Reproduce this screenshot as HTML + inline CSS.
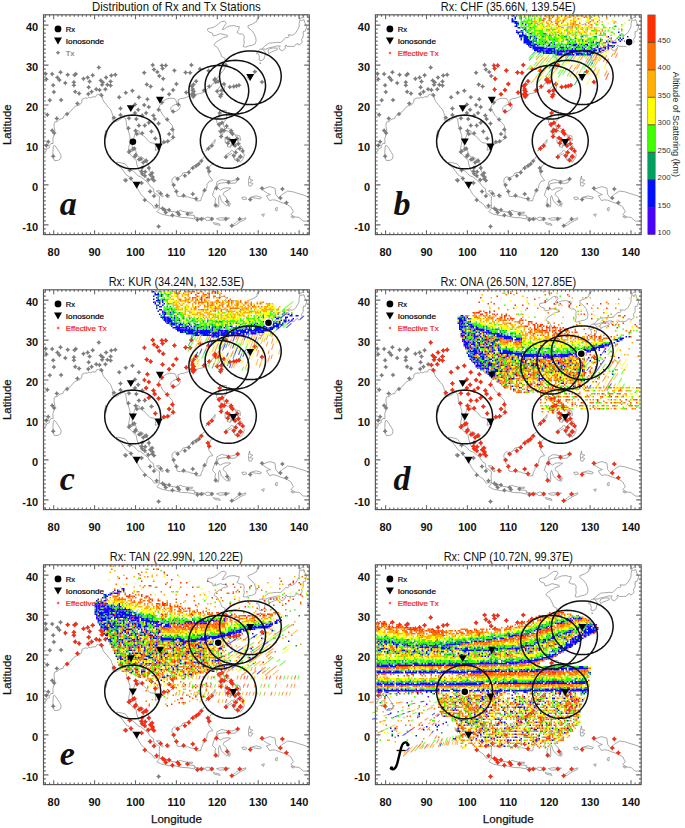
<!DOCTYPE html>
<html><head><meta charset="utf-8"><style>
html,body{margin:0;padding:0;background:#fff;}
svg{display:block;}
text{font-family:"Liberation Sans",sans-serif;fill:#111;}
.tt{font-size:12.2px;}
.tl{font-size:11px;font-weight:bold;}
.ax{font-size:11.6px;stroke:#111;stroke-width:0.25px;}
.cb{font-size:7.8px;fill:#333;}
.cbt{font-size:9.2px;fill:#222;}
.lg{font-size:7.6px;stroke:#000;stroke-width:0.2px;fill:#000;}
.pl{font-family:"Liberation Serif",serif;font-size:34px;font-weight:bold;font-style:italic;}
.pl2{font-family:"Liberation Serif",serif;font-size:34px;font-style:italic;}
</style></head><body>
<svg width="685" height="828" viewBox="0 0 685 828">
<defs><filter id="bl" x="-5%" y="-5%" width="110%" height="110%"><feGaussianBlur stdDeviation="0.35"/></filter><path id="coast" d="M0.0 137.5 2.5 136.3 2.9 134.3 6.1 132.7 5.7 131.5 7.4 128.7 9.6 128.7 9.4 123.9 10.6 119.9 11.4 115.9 10.6 111.9 10.6 109.1 11.4 107.1 13.9 106.7 15.5 104.7 19.6 103.5 20.0 101.5 23.7 99.1 27.0 96.7 30.3 92.7 32.7 91.1 36.4 89.9 38.4 87.1 38.4 84.7 41.7 83.1 43.8 83.5 45.4 82.3 47.0 83.1 49.5 81.9 51.9 82.3 53.6 79.5 55.2 79.9 57.2 78.7 58.5 80.7 59.3 84.7 60.5 87.1 63.0 89.9 65.0 92.7 67.1 94.7 68.3 97.9 69.5 101.1 68.7 105.1 70.3 105.9 72.8 106.7 75.7 105.1 77.7 103.9 79.7 102.3 82.2 103.9 82.6 106.7 83.0 110.3 84.6 115.5 86.3 120.7 86.7 125.9 85.9 129.9 85.1 133.9 84.6 136.7 85.5 138.3 87.9 140.7 90.8 143.9 92.8 145.9 93.2 149.1 94.5 153.1 96.1 156.7 97.7 158.7 100.2 161.1 104.3 163.9 106.3 164.7 109.6 164.3 108.0 159.9 105.9 155.9 105.9 151.9 104.7 148.7 101.4 145.1 98.6 142.3 95.7 142.3 93.6 140.7 92.4 136.7 91.6 133.1 88.7 132.7 88.7 127.9 90.4 122.7 91.6 119.5 92.0 116.3 94.5 115.9 95.7 116.3 95.7 119.1 97.7 119.5 100.2 121.1 102.6 123.5 104.7 125.9 106.7 127.9 110.4 128.3 112.5 131.1 111.6 135.5 113.7 135.1 116.5 132.7 119.4 128.7 122.7 127.9 126.4 125.9 129.6 123.5 129.6 119.9 130.0 115.9 128.8 110.7 126.4 107.9 122.7 103.9 119.4 100.3 117.4 96.7 115.3 93.9 116.1 90.7 118.6 88.7 119.8 86.3 123.1 84.3 125.9 83.5 128.8 83.5 131.3 83.9 132.5 85.9 133.3 88.7 134.9 88.7 134.5 85.1 137.0 83.9 140.3 83.5 143.5 82.3 147.2 81.1 150.1 80.7 152.9 79.5 156.2 78.7 159.5 77.9 162.3 75.5 164.8 73.1 167.7 71.5 168.9 69.1 172.2 67.5 172.2 64.3 174.2 63.1 175.8 60.7 177.5 58.3 179.9 55.5 181.6 52.8 181.6 50.4 178.7 48.8 177.1 48.4 181.2 46.4 181.6 43.6 177.9 41.6 177.5 39.2 175.8 36.0 173.8 32.4 170.9 30.8 170.5 30.0 172.2 27.6 175.4 25.6 177.5 24.4 179.9 22.8 184.0 22.0 183.6 20.4 179.5 19.6 176.7 18.8 173.0 20.4 169.7 21.2 168.9 18.4 165.6 17.2 164.0 15.6 164.4 13.6 167.7 13.2 170.9 12.0 173.8 10.0 177.9 6.8 181.2 6.4 182.8 8.4 180.3 12.0 178.7 14.8 180.7 14.4 183.2 12.4 186.1 11.2 190.6 10.8 193.4 11.6 195.9 12.0 195.1 14.8 193.4 17.6 196.3 19.2 199.1 19.2 200.8 21.6 200.4 24.8 200.8 28.0 199.6 31.6 202.0 32.4 204.9 31.2 209.0 30.4 211.8 28.8 212.6 26.0 212.2 22.8 210.6 18.8 208.1 15.6 204.5 12.8 204.5 10.8 209.0 9.2 213.5 6.4 213.5 4.0 217.1 0.8 218.8 -0.4M9.8 131.1 11.4 130.7 13.9 134.3 15.9 137.5 17.6 140.7 17.2 143.9 14.7 145.5 11.0 145.9 9.8 142.7 9.4 137.9 9.8 131.1M62.2 115.5 63.4 117.9 63.0 121.9 61.7 123.9 61.3 120.7 62.2 115.5M66.7 141.1 67.1 142.7 65.8 141.9 66.7 141.1M72.8 147.5 75.2 147.5 81.8 149.1 85.1 153.1 90.8 157.1 94.5 161.1 97.3 161.9 101.0 165.0 104.3 167.8 107.1 171.8 110.0 173.8 110.4 177.8 112.9 179.4 116.1 181.8 115.7 186.6 116.1 193.0 113.3 193.0 110.8 193.4 108.4 189.8 103.5 186.2 100.6 183.0 97.3 179.4 95.7 176.6 93.6 173.0 90.8 169.0 88.3 165.4 86.7 162.7 82.6 159.9 80.6 157.1 77.3 152.7 73.2 149.9 72.8 147.5M81.0 163.9 83.4 166.2 81.8 167.4 79.7 165.0 81.0 163.9M113.3 197.0 116.5 193.4 120.2 193.8 124.7 195.0 127.2 196.6 134.1 197.4 136.6 195.4 139.4 196.6 143.5 197.4 144.3 200.2 150.9 200.6 150.9 204.2 145.2 203.0 137.8 202.6 131.3 201.0 125.9 201.0 118.2 199.4 114.1 197.4 113.3 197.0M144.3 197.4 149.3 197.4 148.8 198.6 144.3 198.2 144.3 197.4M151.3 202.2 156.2 203.4 154.2 205.0 151.3 202.2M157.8 203.4 160.3 203.0 159.5 205.4 157.4 205.0 157.8 203.4M160.7 203.8 164.4 202.2 166.8 203.0 169.7 203.0 169.3 205.0 163.6 205.8 160.7 203.8M173.0 203.8 177.1 203.0 184.0 203.0 186.1 203.4 182.0 205.0 175.8 205.4 173.0 203.8M169.7 207.8 175.8 209.0 176.7 210.6 170.9 209.4 169.7 207.8M188.1 211.0 192.2 207.8 195.5 205.4 202.4 203.0 202.0 204.6 196.7 207.0 192.2 210.2 188.5 211.4 188.1 211.0M112.9 176.2 116.1 175.8 119.8 181.4 118.6 182.2 115.3 177.8 112.9 176.2M123.1 180.2 125.9 180.6 125.5 182.6 123.1 182.2 123.1 180.2M128.8 163.9 131.3 161.9 134.1 163.1 137.8 161.1 139.4 158.3 145.2 157.1 149.3 151.5 154.6 149.1 157.8 145.9 160.7 141.9 162.8 143.5 164.4 146.3 166.8 146.7 170.5 148.7 167.2 150.3 165.2 153.5 164.4 157.1 165.6 160.7 169.3 165.8 165.6 166.6 163.6 169.8 163.2 173.4 159.9 175.8 159.5 179.8 157.8 183.0 157.4 185.8 152.9 186.2 151.3 183.8 148.0 183.4 145.2 182.2 139.9 181.8 137.0 181.8 133.7 181.4 132.9 176.6 130.4 173.0 129.2 169.8 128.4 166.6 128.8 163.9M171.3 191.8 171.7 185.8 172.2 183.8 168.9 180.6 170.5 175.8 173.0 170.2 173.4 167.0 175.0 166.2 177.9 164.7 184.0 165.8 188.1 166.2 192.2 165.0 194.6 163.5 192.2 168.2 187.7 168.6 182.0 167.8 178.3 168.2 174.6 169.0 173.8 173.0 176.7 175.4 180.3 173.4 183.6 173.0 187.3 173.4 185.2 175.0 180.7 177.4 179.5 179.8 182.8 182.6 184.0 187.8 185.7 189.4 183.2 191.0 179.9 188.2 177.9 185.8 176.2 180.6 175.0 183.0 175.4 189.8 175.0 192.2 171.3 191.8M185.2 187.8 186.9 188.2 186.1 191.4 184.4 191.0 185.2 187.8M176.2 95.9 178.7 95.5 182.8 95.9 183.2 101.9 182.4 105.1 180.3 106.7 179.9 110.7 181.6 113.9 184.4 113.1 186.9 114.7 189.3 117.1 190.6 119.5 187.3 117.9 184.8 116.7 181.2 115.5 177.5 114.7 176.2 111.9 176.2 109.9 173.4 108.3 173.0 104.7 175.4 103.5 175.4 99.9 176.2 95.9M175.0 115.9 179.9 117.1 178.7 120.7 177.5 119.9 175.0 115.9M191.4 119.9 196.3 121.1 197.1 125.5 194.2 125.1 191.4 119.9M191.4 123.9 194.2 125.5 195.1 129.5 193.4 129.9 191.4 126.3 191.4 123.9M181.6 122.3 184.4 123.9 186.5 125.1 184.0 127.1 181.6 127.9 181.6 122.3M185.7 126.3 188.1 127.5 186.9 132.7 183.6 131.5 185.7 126.3M189.7 124.7 190.1 128.3 187.7 131.5 188.9 127.9 189.7 124.7M189.3 129.5 192.6 129.9 191.4 131.5 189.3 131.1 189.3 129.5M182.0 142.3 182.8 139.9 186.1 137.9 188.1 135.5 191.0 137.1 193.4 134.3 196.3 133.9 196.7 130.7 199.1 133.1 200.8 140.7 199.1 144.7 196.7 147.5 195.5 145.5 195.9 142.3 191.0 145.1 190.1 141.1 188.1 138.7 185.2 140.3 182.0 142.3M162.3 136.3 164.8 134.3 167.7 131.5 171.3 127.9 171.7 124.7 170.5 126.3 167.7 129.9 163.6 133.9 162.3 136.3M177.9 69.5 181.6 69.9 181.2 72.7 179.5 77.1 177.5 81.5 176.7 81.9 175.0 79.5 174.2 77.5 174.6 74.3 176.7 71.5 177.9 69.5M132.9 89.5 135.8 89.5 137.0 91.5 135.4 94.7 131.3 97.1 127.6 95.9 127.2 93.1 129.6 90.7 132.9 89.5M213.9 37.2 216.3 34.4 218.8 34.4 221.6 36.8 221.6 40.0 220.4 44.4 217.5 46.0 215.5 45.2 215.9 42.4 215.1 39.2 213.0 38.8 213.9 37.2M225.3 34.4 229.0 33.2 233.5 33.2 233.9 34.8 231.0 36.0 227.8 37.2 225.3 38.8 224.5 36.4 225.3 34.4M218.4 34.0 220.8 31.6 225.3 28.4 229.0 28.0 233.1 27.6 237.2 27.6 239.2 26.0 242.1 22.8 244.5 22.8 245.8 21.6 244.5 20.0 249.4 20.4 252.3 18.0 254.4 14.4 255.6 12.0 255.6 8.8 256.4 5.2 258.4 5.6 260.5 4.8 261.3 8.0 263.3 12.0 261.7 16.4 259.7 16.8 259.7 22.0 258.0 24.8 258.8 27.2 257.2 29.2 255.2 30.4 254.4 28.8 252.7 29.2 250.7 31.6 248.2 31.6 243.3 31.6 242.5 30.0 241.3 32.0 242.5 32.8 239.2 36.0 236.8 35.2 235.5 32.8 236.8 31.2 233.1 31.2 229.0 32.4 224.9 33.2 222.5 34.4 218.4 34.0M254.8 -0.4 256.0 4.0 258.4 2.8 260.5 2.8 259.3 0.8 262.1 -0.4M218.8 175.0 222.5 173.0 226.5 171.8 231.5 173.4 232.3 179.8 235.1 183.0 239.2 179.4 244.1 176.2 249.4 177.0 255.6 179.0 259.7 180.2 266.2 182.6M266.2 206.6 259.7 206.2 255.6 202.6 251.5 202.2 247.4 199.8 249.9 197.0 247.4 192.2 243.3 189.4 237.2 187.4 232.3 185.4 229.0 185.0 226.1 185.8 222.9 181.0 227.0 179.8 224.1 178.6 220.0 175.8 218.8 175.0M206.1 161.1 206.5 164.7 209.4 165.4 206.1 167.8 209.4 168.6 207.7 171.4 205.3 171.0 204.9 165.8 206.1 161.1M206.9 182.6 212.6 181.0 218.0 182.6 216.7 184.2 212.6 183.4 206.9 182.6M198.3 182.6 202.0 182.2 203.2 184.2 199.6 185.0 198.3 182.6M247.4 201.8 251.1 202.2 249.9 203.4 247.4 201.8M231.9 193.4 233.9 192.6 233.5 196.2 231.9 195.4 231.9 193.4M218.0 199.8 220.8 199.0 220.0 201.8 218.0 199.8M203.6 62.7 207.7 63.1 206.1 65.5 203.6 62.7M211.8 56.3 213.5 56.3 212.2 57.5 211.8 56.3M216.3 48.0 217.5 48.4 216.7 49.2 216.3 48.0" fill="none" stroke="#8c8c8c" stroke-width="0.75"/><path id="circ" d="M117.2 127.1 117.1 124.8 116.8 122.5 116.4 120.2 115.7 117.9 114.8 115.8 113.7 113.7 112.4 111.7 111.0 109.9 109.3 108.1 107.5 106.6 105.6 105.1 103.5 103.9 101.3 102.8 99.0 101.9 96.6 101.2 94.2 100.7 91.7 100.4 89.2 100.3 86.7 100.4 84.2 100.7 81.7 101.2 79.4 101.9 77.1 102.8 74.9 103.9 72.8 105.1 70.8 106.6 69.0 108.1 67.4 109.9 65.9 111.7 64.7 113.7 63.6 115.8 62.7 117.9 62.0 120.2 61.5 122.5 61.3 124.8 61.2 127.1 61.4 129.5 61.7 131.8 62.3 134.1 63.1 136.3 64.0 138.5 65.2 140.6 66.5 142.5 68.0 144.4 69.7 146.1 71.4 147.7 73.4 149.1 75.4 150.4 77.5 151.5 79.8 152.4 82.1 153.1 84.4 153.6 86.8 153.9 89.2 154.0 91.6 153.9 94.0 153.6 96.3 153.1 98.6 152.4 100.8 151.5 103.0 150.4 105.0 149.1 106.9 147.7 108.7 146.1 110.4 144.4 111.9 142.5 113.2 140.6 114.3 138.5 115.3 136.3 116.1 134.1 116.6 131.8 117.0 129.5 117.2 127.1ZM212.8 126.7 212.8 124.3 212.5 122.0 212.0 119.7 211.3 117.5 210.5 115.3 209.4 113.3 208.1 111.3 206.6 109.4 205.0 107.7 203.2 106.1 201.3 104.7 199.2 103.4 197.0 102.3 194.7 101.4 192.3 100.7 189.8 100.2 187.3 99.9 184.8 99.8 182.3 99.9 179.8 100.2 177.4 100.7 175.0 101.4 172.7 102.3 170.5 103.4 168.4 104.7 166.5 106.1 164.7 107.7 163.0 109.4 161.6 111.3 160.3 113.3 159.2 115.3 158.3 117.5 157.6 119.7 157.2 122.0 156.9 124.3 156.9 126.7 157.0 129.0 157.4 131.3 158.0 133.6 158.7 135.9 159.7 138.0 160.8 140.1 162.2 142.1 163.6 143.9 165.3 145.7 167.1 147.3 169.0 148.7 171.0 149.9 173.2 151.0 175.4 151.9 177.7 152.6 180.0 153.1 182.4 153.4 184.8 153.5 187.2 153.4 189.6 153.1 192.0 152.6 194.3 151.9 196.5 151.0 198.6 149.9 200.7 148.7 202.6 147.3 204.4 145.7 206.0 143.9 207.5 142.1 208.8 140.1 210.0 138.0 210.9 135.9 211.7 133.6 212.3 131.3 212.6 129.0 212.8 126.7ZM205.2 77.4 205.2 75.1 205.0 72.7 204.6 70.5 203.9 68.2 203.0 66.1 201.9 64.0 200.6 62.0 199.0 60.1 197.3 58.4 195.4 56.8 193.3 55.4 191.0 54.2 188.6 53.1 186.1 52.2 183.5 51.5 180.8 51.0 178.1 50.7 175.3 50.6 172.5 50.7 169.8 51.0 167.1 51.5 164.5 52.2 162.0 53.1 159.6 54.2 157.3 55.4 155.2 56.8 153.3 58.4 151.6 60.1 150.0 62.0 148.7 64.0 147.6 66.1 146.7 68.2 146.0 70.5 145.6 72.7 145.4 75.1 145.4 77.4 145.7 79.8 146.1 82.1 146.8 84.4 147.7 86.6 148.8 88.8 150.0 90.8 151.5 92.8 153.1 94.7 154.8 96.4 156.7 98.0 158.8 99.4 160.9 100.7 163.2 101.7 165.5 102.6 167.9 103.4 170.3 103.9 172.8 104.2 175.3 104.3 177.8 104.2 180.3 103.9 182.7 103.4 185.1 102.6 187.5 101.7 189.7 100.7 191.8 99.4 193.9 98.0 195.8 96.4 197.5 94.7 199.2 92.8 200.6 90.8 201.9 88.8 202.9 86.6 203.8 84.4 204.5 82.1 204.9 79.8 205.2 77.4ZM222.0 72.3 222.0 70.0 221.8 67.7 221.4 65.4 220.7 63.1 219.8 61.0 218.7 58.9 217.3 56.9 215.8 55.1 214.0 53.3 212.1 51.8 210.0 50.3 207.7 49.1 205.3 48.0 202.7 47.1 200.1 46.4 197.4 45.9 194.6 45.6 191.8 45.5 189.0 45.6 186.2 45.9 183.5 46.4 180.9 47.1 178.3 48.0 175.9 49.1 173.6 50.3 171.5 51.8 169.5 53.3 167.8 55.1 166.2 56.9 164.9 58.9 163.8 61.0 162.9 63.1 162.2 65.4 161.8 67.7 161.6 70.0 161.6 72.3 161.9 74.7 162.3 77.0 163.0 79.3 163.9 81.5 165.0 83.7 166.3 85.8 167.7 87.7 169.4 89.6 171.2 91.3 173.1 92.9 175.1 94.3 177.3 95.6 179.6 96.7 181.9 97.6 184.3 98.3 186.8 98.8 189.3 99.1 191.8 99.2 194.3 99.1 196.8 98.8 199.3 98.3 201.7 97.6 204.0 96.7 206.3 95.6 208.4 94.3 210.5 92.9 212.4 91.3 214.2 89.6 215.8 87.7 217.3 85.8 218.6 83.7 219.7 81.5 220.5 79.3 221.2 77.0 221.7 74.7 222.0 72.3ZM237.7 62.9 237.7 60.6 237.5 58.3 237.1 56.0 236.5 53.8 235.6 51.6 234.4 49.5 233.1 47.5 231.5 45.7 229.7 44.0 227.7 42.4 225.6 40.9 223.2 39.7 220.7 38.6 218.1 37.7 215.4 37.0 212.6 36.5 209.8 36.2 206.9 36.1 204.0 36.2 201.2 36.5 198.4 37.0 195.7 37.7 193.1 38.6 190.6 39.7 188.3 40.9 186.1 42.4 184.1 44.0 182.3 45.7 180.8 47.5 179.4 49.5 178.3 51.6 177.4 53.8 176.7 56.0 176.3 58.3 176.1 60.6 176.1 62.9 176.4 65.3 176.9 67.6 177.6 69.9 178.5 72.1 179.7 74.3 181.0 76.4 182.5 78.3 184.1 80.2 186.0 81.9 187.9 83.5 190.0 84.9 192.2 86.2 194.5 87.3 196.9 88.2 199.3 88.9 201.8 89.4 204.4 89.7 206.9 89.8 209.5 89.7 212.0 89.4 214.5 88.9 216.9 88.2 219.3 87.3 221.6 86.2 223.8 84.9 225.9 83.5 227.9 81.9 229.7 80.2 231.4 78.3 232.8 76.4 234.2 74.3 235.3 72.1 236.2 69.9 236.9 67.6 237.4 65.3 237.7 62.9Z" fill="none" stroke="#111" stroke-width="1.5"/><path id="txs" d="M55.3 50.2l1.00 1.50 1.50 1.00-1.50 1.00-1.00 1.50-1.00-1.50-1.50-1.00 1.50-1.00zM2.1 56.4l1.00 1.50 1.50 1.00-1.50 1.00-1.00 1.50-1.00-1.50-1.50-1.00 1.50-1.00zM8.7 56.7l1.00 1.50 1.50 1.00-1.50 1.00-1.00 1.50-1.00-1.50-1.50-1.00 1.50-1.00zM17.0 55.0l1.00 1.50 1.50 1.00-1.50 1.00-1.00 1.50-1.00-1.50-1.50-1.00 1.50-1.00zM24.2 57.4l1.00 1.50 1.50 1.00-1.50 1.00-1.00 1.50-1.00-1.50-1.50-1.00 1.50-1.00zM31.0 57.6l1.00 1.50 1.50 1.00-1.50 1.00-1.00 1.50-1.00-1.50-1.50-1.00 1.50-1.00zM32.3 56.7l1.00 1.50 1.50 1.00-1.50 1.00-1.00 1.50-1.00-1.50-1.50-1.00 1.50-1.00zM13.9 60.3l1.00 1.50 1.50 1.00-1.50 1.00-1.00 1.50-1.00-1.50-1.50-1.00 1.50-1.00zM15.9 62.6l1.00 1.50 1.50 1.00-1.50 1.00-1.00 1.50-1.00-1.50-1.50-1.00 1.50-1.00zM2.8 61.9l1.00 1.50 1.50 1.00-1.50 1.00-1.00 1.50-1.00-1.50-1.50-1.00 1.50-1.00zM21.8 65.6l1.00 1.50 1.50 1.00-1.50 1.00-1.00 1.50-1.00-1.50-1.50-1.00 1.50-1.00zM30.4 64.9l1.00 1.50 1.50 1.00-1.50 1.00-1.00 1.50-1.00-1.50-1.50-1.00 1.50-1.00zM30.4 67.9l1.00 1.50 1.50 1.00-1.50 1.00-1.00 1.50-1.00-1.50-1.50-1.00 1.50-1.00zM9.7 67.9l1.00 1.50 1.50 1.00-1.50 1.00-1.00 1.50-1.00-1.50-1.50-1.00 1.50-1.00zM10.4 74.7l1.00 1.50 1.50 1.00-1.50 1.00-1.00 1.50-1.00-1.50-1.50-1.00 1.50-1.00zM31.7 74.5l1.00 1.50 1.50 1.00-1.50 1.00-1.00 1.50-1.00-1.50-1.50-1.00 1.50-1.00zM35.6 76.3l1.00 1.50 1.50 1.00-1.50 1.00-1.00 1.50-1.00-1.50-1.50-1.00 1.50-1.00zM40.0 61.4l1.00 1.50 1.50 1.00-1.50 1.00-1.00 1.50-1.00-1.50-1.50-1.00 1.50-1.00zM44.2 60.3l1.00 1.50 1.50 1.00-1.50 1.00-1.00 1.50-1.00-1.50-1.50-1.00 1.50-1.00zM49.2 58.0l1.00 1.50 1.50 1.00-1.50 1.00-1.00 1.50-1.00-1.50-1.50-1.00 1.50-1.00zM46.1 64.2l1.00 1.50 1.50 1.00-1.50 1.00-1.00 1.50-1.00-1.50-1.50-1.00 1.50-1.00zM45.2 69.9l1.00 1.50 1.50 1.00-1.50 1.00-1.00 1.50-1.00-1.50-1.50-1.00 1.50-1.00zM62.6 60.3l1.00 1.50 1.50 1.00-1.50 1.00-1.00 1.50-1.00-1.50-1.50-1.00 1.50-1.00zM67.8 58.3l1.00 1.50 1.50 1.00-1.50 1.00-1.00 1.50-1.00-1.50-1.50-1.00 1.50-1.00zM71.8 57.4l1.00 1.50 1.50 1.00-1.50 1.00-1.00 1.50-1.00-1.50-1.50-1.00 1.50-1.00zM57.3 63.2l1.00 1.50 1.50 1.00-1.50 1.00-1.00 1.50-1.00-1.50-1.50-1.00 1.50-1.00zM59.3 64.9l1.00 1.50 1.50 1.00-1.50 1.00-1.00 1.50-1.00-1.50-1.50-1.00 1.50-1.00zM58.6 67.5l1.00 1.50 1.50 1.00-1.50 1.00-1.00 1.50-1.00-1.50-1.50-1.00 1.50-1.00zM63.9 67.5l1.00 1.50 1.50 1.00-1.50 1.00-1.00 1.50-1.00-1.50-1.50-1.00 1.50-1.00zM67.1 64.2l1.00 1.50 1.50 1.00-1.50 1.00-1.00 1.50-1.00-1.50-1.50-1.00 1.50-1.00zM67.1 68.2l1.00 1.50 1.50 1.00-1.50 1.00-1.00 1.50-1.00-1.50-1.50-1.00 1.50-1.00zM52.7 71.9l1.00 1.50 1.50 1.00-1.50 1.00-1.00 1.50-1.00-1.50-1.50-1.00 1.50-1.00zM56.0 72.8l1.00 1.50 1.50 1.00-1.50 1.00-1.00 1.50-1.00-1.50-1.50-1.00 1.50-1.00zM61.9 71.9l1.00 1.50 1.50 1.00-1.50 1.00-1.00 1.50-1.00-1.50-1.50-1.00 1.50-1.00zM48.1 74.5l1.00 1.50 1.50 1.00-1.50 1.00-1.00 1.50-1.00-1.50-1.50-1.00 1.50-1.00zM44.8 76.7l1.00 1.50 1.50 1.00-1.50 1.00-1.00 1.50-1.00-1.50-1.50-1.00 1.50-1.00zM58.0 78.0l1.00 1.50 1.50 1.00-1.50 1.00-1.00 1.50-1.00-1.50-1.50-1.00 1.50-1.00zM6.3 83.0l1.00 1.50 1.50 1.00-1.50 1.00-1.00 1.50-1.00-1.50-1.50-1.00 1.50-1.00zM17.6 82.6l1.00 1.50 1.50 1.00-1.50 1.00-1.00 1.50-1.00-1.50-1.50-1.00 1.50-1.00zM33.9 86.3l1.00 1.50 1.50 1.00-1.50 1.00-1.00 1.50-1.00-1.50-1.50-1.00 1.50-1.00zM75.7 80.0l1.00 1.50 1.50 1.00-1.50 1.00-1.00 1.50-1.00-1.50-1.50-1.00 1.50-1.00zM82.3 75.4l1.00 1.50 1.50 1.00-1.50 1.00-1.00 1.50-1.00-1.50-1.50-1.00 1.50-1.00zM88.9 73.4l1.00 1.50 1.50 1.00-1.50 1.00-1.00 1.50-1.00-1.50-1.50-1.00 1.50-1.00zM3.8 97.5l1.00 1.50 1.50 1.00-1.50 1.00-1.00 1.50-1.00-1.50-1.50-1.00 1.50-1.00zM23.6 96.8l1.00 1.50 1.50 1.00-1.50 1.00-1.00 1.50-1.00-1.50-1.50-1.00 1.50-1.00zM13.3 101.3l1.00 1.50 1.50 1.00-1.50 1.00-1.00 1.50-1.00-1.50-1.50-1.00 1.50-1.00zM77.0 91.2l1.00 1.50 1.50 1.00-1.50 1.00-1.00 1.50-1.00-1.50-1.50-1.00 1.50-1.00zM70.5 100.4l1.00 1.50 1.50 1.00-1.50 1.00-1.00 1.50-1.00-1.50-1.50-1.00 1.50-1.00zM77.0 97.7l1.00 1.50 1.50 1.00-1.50 1.00-1.00 1.50-1.00-1.50-1.50-1.00 1.50-1.00zM85.5 101.0l1.00 1.50 1.50 1.00-1.50 1.00-1.00 1.50-1.00-1.50-1.50-1.00 1.50-1.00zM8.7 113.2l1.00 1.50 1.50 1.00-1.50 1.00-1.00 1.50-1.00-1.50-1.50-1.00 1.50-1.00zM10.7 115.6l1.00 1.50 1.50 1.00-1.50 1.00-1.00 1.50-1.00-1.50-1.50-1.00 1.50-1.00zM4.7 124.5l1.00 1.50 1.50 1.00-1.50 1.00-1.00 1.50-1.00-1.50-1.50-1.00 1.50-1.00zM2.8 128.1l1.00 1.50 1.50 1.00-1.50 1.00-1.00 1.50-1.00-1.50-1.50-1.00 1.50-1.00zM9.7 139.0l1.00 1.50 1.50 1.00-1.50 1.00-1.00 1.50-1.00-1.50-1.50-1.00 1.50-1.00zM84.9 111.0l1.00 1.50 1.50 1.00-1.50 1.00-1.00 1.50-1.00-1.50-1.50-1.00 1.50-1.00zM85.5 134.6l1.00 1.50 1.50 1.00-1.50 1.00-1.00 1.50-1.00-1.50-1.50-1.00 1.50-1.00zM86.2 153.0l1.00 1.50 1.50 1.00-1.50 1.00-1.00 1.50-1.00-1.50-1.50-1.00 1.50-1.00zM82.3 162.9l1.00 1.50 1.50 1.00-1.50 1.00-1.00 1.50-1.00-1.50-1.50-1.00 1.50-1.00zM87.5 161.3l1.00 1.50 1.50 1.00-1.50 1.00-1.00 1.50-1.00-1.50-1.50-1.00 1.50-1.00zM109.2 47.6l1.00 1.50 1.50 1.00-1.50 1.00-1.00 1.50-1.00-1.50-1.50-1.00 1.50-1.00zM118.4 48.3l1.00 1.50 1.50 1.00-1.50 1.00-1.00 1.50-1.00-1.50-1.50-1.00 1.50-1.00zM122.3 48.3l1.00 1.50 1.50 1.00-1.50 1.00-1.00 1.50-1.00-1.50-1.50-1.00 1.50-1.00zM119.1 51.3l1.00 1.50 1.50 1.00-1.50 1.00-1.00 1.50-1.00-1.50-1.50-1.00 1.50-1.00zM110.5 52.2l1.00 1.50 1.50 1.00-1.50 1.00-1.00 1.50-1.00-1.50-1.50-1.00 1.50-1.00zM113.8 54.8l1.00 1.50 1.50 1.00-1.50 1.00-1.00 1.50-1.00-1.50-1.50-1.00 1.50-1.00zM100.7 55.5l1.00 1.50 1.50 1.00-1.50 1.00-1.00 1.50-1.00-1.50-1.50-1.00 1.50-1.00zM115.8 58.8l1.00 1.50 1.50 1.00-1.50 1.00-1.00 1.50-1.00-1.50-1.50-1.00 1.50-1.00zM119.7 61.4l1.00 1.50 1.50 1.00-1.50 1.00-1.00 1.50-1.00-1.50-1.50-1.00 1.50-1.00zM130.9 53.1l1.00 1.50 1.50 1.00-1.50 1.00-1.00 1.50-1.00-1.50-1.50-1.00 1.50-1.00zM147.9 47.6l1.00 1.50 1.50 1.00-1.50 1.00-1.00 1.50-1.00-1.50-1.50-1.00 1.50-1.00zM142.1 55.2l1.00 1.50 1.50 1.00-1.50 1.00-1.00 1.50-1.00-1.50-1.50-1.00 1.50-1.00zM146.6 55.5l1.00 1.50 1.50 1.00-1.50 1.00-1.00 1.50-1.00-1.50-1.50-1.00 1.50-1.00zM156.5 51.6l1.00 1.50 1.50 1.00-1.50 1.00-1.00 1.50-1.00-1.50-1.50-1.00 1.50-1.00zM165.0 53.5l1.00 1.50 1.50 1.00-1.50 1.00-1.00 1.50-1.00-1.50-1.50-1.00 1.50-1.00zM152.6 64.0l1.00 1.50 1.50 1.00-1.50 1.00-1.00 1.50-1.00-1.50-1.50-1.00 1.50-1.00zM150.0 67.3l1.00 1.50 1.50 1.00-1.50 1.00-1.00 1.50-1.00-1.50-1.50-1.00 1.50-1.00zM171.0 62.7l1.00 1.50 1.50 1.00-1.50 1.00-1.00 1.50-1.00-1.50-1.50-1.00 1.50-1.00zM172.3 64.7l1.00 1.50 1.50 1.00-1.50 1.00-1.00 1.50-1.00-1.50-1.50-1.00 1.50-1.00zM165.7 69.3l1.00 1.50 1.50 1.00-1.50 1.00-1.00 1.50-1.00-1.50-1.50-1.00 1.50-1.00zM132.9 66.7l1.00 1.50 1.50 1.00-1.50 1.00-1.00 1.50-1.00-1.50-1.50-1.00 1.50-1.00zM103.3 67.3l1.00 1.50 1.50 1.00-1.50 1.00-1.00 1.50-1.00-1.50-1.50-1.00 1.50-1.00zM107.2 69.3l1.00 1.50 1.50 1.00-1.50 1.00-1.00 1.50-1.00-1.50-1.50-1.00 1.50-1.00zM119.1 72.3l1.00 1.50 1.50 1.00-1.50 1.00-1.00 1.50-1.00-1.50-1.50-1.00 1.50-1.00zM129.6 72.7l1.00 1.50 1.50 1.00-1.50 1.00-1.00 1.50-1.00-1.50-1.50-1.00 1.50-1.00zM125.6 77.0l1.00 1.50 1.50 1.00-1.50 1.00-1.00 1.50-1.00-1.50-1.50-1.00 1.50-1.00zM95.4 79.9l1.00 1.50 1.50 1.00-1.50 1.00-1.00 1.50-1.00-1.50-1.50-1.00 1.50-1.00zM103.9 81.9l1.00 1.50 1.50 1.00-1.50 1.00-1.00 1.50-1.00-1.50-1.50-1.00 1.50-1.00zM142.7 75.3l1.00 1.50 1.50 1.00-1.50 1.00-1.00 1.50-1.00-1.50-1.50-1.00 1.50-1.00zM149.3 73.3l1.00 1.50 1.50 1.00-1.50 1.00-1.00 1.50-1.00-1.50-1.50-1.00 1.50-1.00zM150.0 77.9l1.00 1.50 1.50 1.00-1.50 1.00-1.00 1.50-1.00-1.50-1.50-1.00 1.50-1.00zM160.5 73.3l1.00 1.50 1.50 1.00-1.50 1.00-1.00 1.50-1.00-1.50-1.50-1.00 1.50-1.00zM173.6 74.0l1.00 1.50 1.50 1.00-1.50 1.00-1.00 1.50-1.00-1.50-1.50-1.00 1.50-1.00zM176.9 79.2l1.00 1.50 1.50 1.00-1.50 1.00-1.00 1.50-1.00-1.50-1.50-1.00 1.50-1.00zM91.5 87.1l1.00 1.50 1.50 1.00-1.50 1.00-1.00 1.50-1.00-1.50-1.50-1.00 1.50-1.00zM100.7 87.8l1.00 1.50 1.50 1.00-1.50 1.00-1.00 1.50-1.00-1.50-1.50-1.00 1.50-1.00zM105.3 89.7l1.00 1.50 1.50 1.00-1.50 1.00-1.00 1.50-1.00-1.50-1.50-1.00 1.50-1.00zM115.1 92.4l1.00 1.50 1.50 1.00-1.50 1.00-1.00 1.50-1.00-1.50-1.50-1.00 1.50-1.00zM94.7 92.4l1.00 1.50 1.50 1.00-1.50 1.00-1.00 1.50-1.00-1.50-1.50-1.00 1.50-1.00zM102.6 95.7l1.00 1.50 1.50 1.00-1.50 1.00-1.00 1.50-1.00-1.50-1.50-1.00 1.50-1.00zM109.9 98.3l1.00 1.50 1.50 1.00-1.50 1.00-1.00 1.50-1.00-1.50-1.50-1.00 1.50-1.00zM98.7 98.3l1.00 1.50 1.50 1.00-1.50 1.00-1.00 1.50-1.00-1.50-1.50-1.00 1.50-1.00zM91.5 95.7l1.00 1.50 1.50 1.00-1.50 1.00-1.00 1.50-1.00-1.50-1.50-1.00 1.50-1.00zM111.2 101.6l1.00 1.50 1.50 1.00-1.50 1.00-1.00 1.50-1.00-1.50-1.50-1.00 1.50-1.00zM92.8 101.6l1.00 1.50 1.50 1.00-1.50 1.00-1.00 1.50-1.00-1.50-1.50-1.00 1.50-1.00zM115.1 106.2l1.00 1.50 1.50 1.00-1.50 1.00-1.00 1.50-1.00-1.50-1.50-1.00 1.50-1.00zM105.3 105.5l1.00 1.50 1.50 1.00-1.50 1.00-1.00 1.50-1.00-1.50-1.50-1.00 1.50-1.00zM101.3 108.2l1.00 1.50 1.50 1.00-1.50 1.00-1.00 1.50-1.00-1.50-1.50-1.00 1.50-1.00zM95.4 108.2l1.00 1.50 1.50 1.00-1.50 1.00-1.00 1.50-1.00-1.50-1.50-1.00 1.50-1.00zM92.1 113.4l1.00 1.50 1.50 1.00-1.50 1.00-1.00 1.50-1.00-1.50-1.50-1.00 1.50-1.00zM107.9 114.1l1.00 1.50 1.50 1.00-1.50 1.00-1.00 1.50-1.00-1.50-1.50-1.00 1.50-1.00zM98.7 116.0l1.00 1.50 1.50 1.00-1.50 1.00-1.00 1.50-1.00-1.50-1.50-1.00 1.50-1.00zM93.4 116.7l1.00 1.50 1.50 1.00-1.50 1.00-1.00 1.50-1.00-1.50-1.50-1.00 1.50-1.00zM111.8 121.3l1.00 1.50 1.50 1.00-1.50 1.00-1.00 1.50-1.00-1.50-1.50-1.00 1.50-1.00zM120.4 124.6l1.00 1.50 1.50 1.00-1.50 1.00-1.00 1.50-1.00-1.50-1.50-1.00 1.50-1.00zM124.3 123.9l1.00 1.50 1.50 1.00-1.50 1.00-1.00 1.50-1.00-1.50-1.50-1.00 1.50-1.00zM125.6 116.7l1.00 1.50 1.50 1.00-1.50 1.00-1.00 1.50-1.00-1.50-1.50-1.00 1.50-1.00zM128.9 112.1l1.00 1.50 1.50 1.00-1.50 1.00-1.00 1.50-1.00-1.50-1.50-1.00 1.50-1.00zM129.6 120.0l1.00 1.50 1.50 1.00-1.50 1.00-1.00 1.50-1.00-1.50-1.50-1.00 1.50-1.00zM123.7 102.2l1.00 1.50 1.50 1.00-1.50 1.00-1.00 1.50-1.00-1.50-1.50-1.00 1.50-1.00zM134.8 87.1l1.00 1.50 1.50 1.00-1.50 1.00-1.00 1.50-1.00-1.50-1.50-1.00 1.50-1.00zM129.6 94.3l1.00 1.50 1.50 1.00-1.50 1.00-1.00 1.50-1.00-1.50-1.50-1.00 1.50-1.00zM176.2 95.7l1.00 1.50 1.50 1.00-1.50 1.00-1.00 1.50-1.00-1.50-1.50-1.00 1.50-1.00zM175.6 107.5l1.00 1.50 1.50 1.00-1.50 1.00-1.00 1.50-1.00-1.50-1.50-1.00 1.50-1.00zM177.5 114.1l1.00 1.50 1.50 1.00-1.50 1.00-1.00 1.50-1.00-1.50-1.50-1.00 1.50-1.00zM168.3 128.5l1.00 1.50 1.50 1.00-1.50 1.00-1.00 1.50-1.00-1.50-1.50-1.00 1.50-1.00zM165.0 131.1l1.00 1.50 1.50 1.00-1.50 1.00-1.00 1.50-1.00-1.50-1.50-1.00 1.50-1.00zM90.8 131.1l1.00 1.50 1.50 1.00-1.50 1.00-1.00 1.50-1.00-1.50-1.50-1.00 1.50-1.00zM92.1 137.7l1.00 1.50 1.50 1.00-1.50 1.00-1.00 1.50-1.00-1.50-1.50-1.00 1.50-1.00zM97.4 141.6l1.00 1.50 1.50 1.00-1.50 1.00-1.00 1.50-1.00-1.50-1.50-1.00 1.50-1.00zM102.6 143.6l1.00 1.50 1.50 1.00-1.50 1.00-1.00 1.50-1.00-1.50-1.50-1.00 1.50-1.00zM157.8 143.6l1.00 1.50 1.50 1.00-1.50 1.00-1.00 1.50-1.00-1.50-1.50-1.00 1.50-1.00zM118.4 85.1l1.00 1.50 1.50 1.00-1.50 1.00-1.00 1.50-1.00-1.50-1.50-1.00 1.50-1.00zM98.1 153.9l1.00 1.50 1.50 1.00-1.50 1.00-1.00 1.50-1.00-1.50-1.50-1.00 1.50-1.00zM98.7 156.5l1.00 1.50 1.50 1.00-1.50 1.00-1.00 1.50-1.00-1.50-1.50-1.00 1.50-1.00zM101.3 158.5l1.00 1.50 1.50 1.00-1.50 1.00-1.00 1.50-1.00-1.50-1.50-1.00 1.50-1.00zM105.3 150.6l1.00 1.50 1.50 1.00-1.50 1.00-1.00 1.50-1.00-1.50-1.50-1.00 1.50-1.00zM108.6 155.8l1.00 1.50 1.50 1.00-1.50 1.00-1.00 1.50-1.00-1.50-1.50-1.00 1.50-1.00zM109.2 159.8l1.00 1.50 1.50 1.00-1.50 1.00-1.00 1.50-1.00-1.50-1.50-1.00 1.50-1.00zM110.5 163.1l1.00 1.50 1.50 1.00-1.50 1.00-1.00 1.50-1.00-1.50-1.50-1.00 1.50-1.00zM98.1 165.7l1.00 1.50 1.50 1.00-1.50 1.00-1.00 1.50-1.00-1.50-1.50-1.00 1.50-1.00zM106.6 174.2l1.00 1.50 1.50 1.00-1.50 1.00-1.00 1.50-1.00-1.50-1.50-1.00 1.50-1.00zM110.5 178.8l1.00 1.50 1.50 1.00-1.50 1.00-1.00 1.50-1.00-1.50-1.50-1.00 1.50-1.00zM117.1 176.2l1.00 1.50 1.50 1.00-1.50 1.00-1.00 1.50-1.00-1.50-1.50-1.00 1.50-1.00zM123.7 178.2l1.00 1.50 1.50 1.00-1.50 1.00-1.00 1.50-1.00-1.50-1.50-1.00 1.50-1.00zM101.3 182.8l1.00 1.50 1.50 1.00-1.50 1.00-1.00 1.50-1.00-1.50-1.50-1.00 1.50-1.00zM113.1 188.4l1.00 1.50 1.50 1.00-1.50 1.00-1.00 1.50-1.00-1.50-1.50-1.00 1.50-1.00zM119.1 191.3l1.00 1.50 1.50 1.00-1.50 1.00-1.00 1.50-1.00-1.50-1.50-1.00 1.50-1.00zM121.0 192.6l1.00 1.50 1.50 1.00-1.50 1.00-1.00 1.50-1.00-1.50-1.50-1.00 1.50-1.00zM125.6 192.6l1.00 1.50 1.50 1.00-1.50 1.00-1.00 1.50-1.00-1.50-1.50-1.00 1.50-1.00zM122.3 195.2l1.00 1.50 1.50 1.00-1.50 1.00-1.00 1.50-1.00-1.50-1.50-1.00 1.50-1.00zM128.9 197.9l1.00 1.50 1.50 1.00-1.50 1.00-1.00 1.50-1.00-1.50-1.50-1.00 1.50-1.00zM134.2 195.2l1.00 1.50 1.50 1.00-1.50 1.00-1.00 1.50-1.00-1.50-1.50-1.00 1.50-1.00zM135.5 197.2l1.00 1.50 1.50 1.00-1.50 1.00-1.00 1.50-1.00-1.50-1.50-1.00 1.50-1.00zM144.0 196.6l1.00 1.50 1.50 1.00-1.50 1.00-1.00 1.50-1.00-1.50-1.50-1.00 1.50-1.00zM153.9 202.5l1.00 1.50 1.50 1.00-1.50 1.00-1.00 1.50-1.00-1.50-1.50-1.00 1.50-1.00zM157.8 201.8l1.00 1.50 1.50 1.00-1.50 1.00-1.00 1.50-1.00-1.50-1.50-1.00 1.50-1.00zM168.3 201.8l1.00 1.50 1.50 1.00-1.50 1.00-1.00 1.50-1.00-1.50-1.50-1.00 1.50-1.00zM115.1 209.1l1.00 1.50 1.50 1.00-1.50 1.00-1.00 1.50-1.00-1.50-1.50-1.00 1.50-1.00zM130.2 167.7l1.00 1.50 1.50 1.00-1.50 1.00-1.00 1.50-1.00-1.50-1.50-1.00 1.50-1.00zM132.9 174.2l1.00 1.50 1.50 1.00-1.50 1.00-1.00 1.50-1.00-1.50-1.50-1.00 1.50-1.00zM140.1 178.2l1.00 1.50 1.50 1.00-1.50 1.00-1.00 1.50-1.00-1.50-1.50-1.00 1.50-1.00zM149.3 176.6l1.00 1.50 1.50 1.00-1.50 1.00-1.00 1.50-1.00-1.50-1.50-1.00 1.50-1.00zM152.6 181.5l1.00 1.50 1.50 1.00-1.50 1.00-1.00 1.50-1.00-1.50-1.50-1.00 1.50-1.00zM161.1 172.9l1.00 1.50 1.50 1.00-1.50 1.00-1.00 1.50-1.00-1.50-1.50-1.00 1.50-1.00zM134.2 161.8l1.00 1.50 1.50 1.00-1.50 1.00-1.00 1.50-1.00-1.50-1.50-1.00 1.50-1.00zM141.4 158.5l1.00 1.50 1.50 1.00-1.50 1.00-1.00 1.50-1.00-1.50-1.50-1.00 1.50-1.00zM145.3 155.2l1.00 1.50 1.50 1.00-1.50 1.00-1.00 1.50-1.00-1.50-1.50-1.00 1.50-1.00zM149.3 150.6l1.00 1.50 1.50 1.00-1.50 1.00-1.00 1.50-1.00-1.50-1.50-1.00 1.50-1.00zM152.6 148.6l1.00 1.50 1.50 1.00-1.50 1.00-1.00 1.50-1.00-1.50-1.50-1.00 1.50-1.00zM155.2 146.6l1.00 1.50 1.50 1.00-1.50 1.00-1.00 1.50-1.00-1.50-1.50-1.00 1.50-1.00zM164.4 150.6l1.00 1.50 1.50 1.00-1.50 1.00-1.00 1.50-1.00-1.50-1.50-1.00 1.50-1.00zM165.7 153.9l1.00 1.50 1.50 1.00-1.50 1.00-1.00 1.50-1.00-1.50-1.50-1.00 1.50-1.00zM172.9 170.9l1.00 1.50 1.50 1.00-1.50 1.00-1.00 1.50-1.00-1.50-1.50-1.00 1.50-1.00zM172.3 188.0l1.00 1.50 1.50 1.00-1.50 1.00-1.00 1.50-1.00-1.50-1.50-1.00 1.50-1.00zM180.5 66.7l1.00 1.50 1.50 1.00-1.50 1.00-1.00 1.50-1.00-1.50-1.50-1.00 1.50-1.00zM186.3 69.7l1.00 1.50 1.50 1.00-1.50 1.00-1.00 1.50-1.00-1.50-1.50-1.00 1.50-1.00zM190.3 69.3l1.00 1.50 1.50 1.00-1.50 1.00-1.00 1.50-1.00-1.50-1.50-1.00 1.50-1.00zM192.9 68.6l1.00 1.50 1.50 1.00-1.50 1.00-1.00 1.50-1.00-1.50-1.50-1.00 1.50-1.00zM195.5 68.0l1.00 1.50 1.50 1.00-1.50 1.00-1.00 1.50-1.00-1.50-1.50-1.00 1.50-1.00zM211.3 54.4l1.00 1.50 1.50 1.00-1.50 1.00-1.00 1.50-1.00-1.50-1.50-1.00 1.50-1.00zM218.5 64.7l1.00 1.50 1.50 1.00-1.50 1.00-1.00 1.50-1.00-1.50-1.50-1.00 1.50-1.00zM182.4 47.6l1.00 1.50 1.50 1.00-1.50 1.00-1.00 1.50-1.00-1.50-1.50-1.00 1.50-1.00zM178.5 105.5l1.00 1.50 1.50 1.00-1.50 1.00-1.00 1.50-1.00-1.50-1.50-1.00 1.50-1.00zM183.1 108.8l1.00 1.50 1.50 1.00-1.50 1.00-1.00 1.50-1.00-1.50-1.50-1.00 1.50-1.00zM187.7 113.4l1.00 1.50 1.50 1.00-1.50 1.00-1.00 1.50-1.00-1.50-1.50-1.00 1.50-1.00zM189.0 116.7l1.00 1.50 1.50 1.00-1.50 1.00-1.00 1.50-1.00-1.50-1.50-1.00 1.50-1.00zM178.5 112.8l1.00 1.50 1.50 1.00-1.50 1.00-1.00 1.50-1.00-1.50-1.50-1.00 1.50-1.00zM183.7 120.6l1.00 1.50 1.50 1.00-1.50 1.00-1.00 1.50-1.00-1.50-1.50-1.00 1.50-1.00zM193.6 121.3l1.00 1.50 1.50 1.00-1.50 1.00-1.00 1.50-1.00-1.50-1.50-1.00 1.50-1.00zM184.4 125.9l1.00 1.50 1.50 1.00-1.50 1.00-1.00 1.50-1.00-1.50-1.50-1.00 1.50-1.00zM191.6 128.5l1.00 1.50 1.50 1.00-1.50 1.00-1.00 1.50-1.00-1.50-1.50-1.00 1.50-1.00zM196.2 131.1l1.00 1.50 1.50 1.00-1.50 1.00-1.00 1.50-1.00-1.50-1.50-1.00 1.50-1.00zM192.3 135.1l1.00 1.50 1.50 1.00-1.50 1.00-1.00 1.50-1.00-1.50-1.50-1.00 1.50-1.00zM190.3 138.4l1.00 1.50 1.50 1.00-1.50 1.00-1.00 1.50-1.00-1.50-1.50-1.00 1.50-1.00zM182.4 139.7l1.00 1.50 1.50 1.00-1.50 1.00-1.00 1.50-1.00-1.50-1.50-1.00 1.50-1.00zM196.9 139.0l1.00 1.50 1.50 1.00-1.50 1.00-1.00 1.50-1.00-1.50-1.50-1.00 1.50-1.00zM194.2 143.0l1.00 1.50 1.50 1.00-1.50 1.00-1.00 1.50-1.00-1.50-1.50-1.00 1.50-1.00zM177.8 77.3l1.00 1.50 1.50 1.00-1.50 1.00-1.00 1.50-1.00-1.50-1.50-1.00 1.50-1.00zM177.8 73.3l1.00 1.50 1.50 1.00-1.50 1.00-1.00 1.50-1.00-1.50-1.50-1.00 1.50-1.00zM194.2 161.8l1.00 1.50 1.50 1.00-1.50 1.00-1.00 1.50-1.00-1.50-1.50-1.00 1.50-1.00zM185.0 165.0l1.00 1.50 1.50 1.00-1.50 1.00-1.00 1.50-1.00-1.50-1.50-1.00 1.50-1.00zM183.7 184.1l1.00 1.50 1.50 1.00-1.50 1.00-1.00 1.50-1.00-1.50-1.50-1.00 1.50-1.00zM206.7 182.1l1.00 1.50 1.50 1.00-1.50 1.00-1.00 1.50-1.00-1.50-1.50-1.00 1.50-1.00zM218.5 170.9l1.00 1.50 1.50 1.00-1.50 1.00-1.00 1.50-1.00-1.50-1.50-1.00 1.50-1.00zM238.9 171.6l1.00 1.50 1.50 1.00-1.50 1.00-1.00 1.50-1.00-1.50-1.50-1.00 1.50-1.00zM236.9 180.8l1.00 1.50 1.50 1.00-1.50 1.00-1.00 1.50-1.00-1.50-1.50-1.00 1.50-1.00zM242.9 185.4l1.00 1.50 1.50 1.00-1.50 1.00-1.00 1.50-1.00-1.50-1.50-1.00 1.50-1.00zM182.4 201.8l1.00 1.50 1.50 1.00-1.50 1.00-1.00 1.50-1.00-1.50-1.50-1.00 1.50-1.00zM196.2 201.6l1.00 1.50 1.50 1.00-1.50 1.00-1.00 1.50-1.00-1.50-1.50-1.00 1.50-1.00zM188.3 208.4l1.00 1.50 1.50 1.00-1.50 1.00-1.00 1.50-1.00-1.50-1.50-1.00 1.50-1.00zM148.4 69.0l1.00 1.50 1.50 1.00-1.50 1.00-1.00 1.50-1.00-1.50-1.50-1.00 1.50-1.00zM149.3 71.6l1.00 1.50 1.50 1.00-1.50 1.00-1.00 1.50-1.00-1.50-1.50-1.00 1.50-1.00zM150.1 74.2l1.00 1.50 1.50 1.00-1.50 1.00-1.00 1.50-1.00-1.50-1.50-1.00 1.50-1.00zM148.4 76.9l1.00 1.50 1.50 1.00-1.50 1.00-1.00 1.50-1.00-1.50-1.50-1.00 1.50-1.00zM151.0 77.7l1.00 1.50 1.50 1.00-1.50 1.00-1.00 1.50-1.00-1.50-1.50-1.00 1.50-1.00zM149.7 79.5l1.00 1.50 1.50 1.00-1.50 1.00-1.00 1.50-1.00-1.50-1.50-1.00 1.50-1.00zM171.5 61.7l1.00 1.50 1.50 1.00-1.50 1.00-1.00 1.50-1.00-1.50-1.50-1.00 1.50-1.00zM174.5 64.2l1.00 1.50 1.50 1.00-1.50 1.00-1.00 1.50-1.00-1.50-1.50-1.00 1.50-1.00zM86.4 134.0l1.00 1.50 1.50 1.00-1.50 1.00-1.00 1.50-1.00-1.50-1.50-1.00 1.50-1.00zM91.5 139.1l1.00 1.50 1.50 1.00-1.50 1.00-1.00 1.50-1.00-1.50-1.50-1.00 1.50-1.00zM95.6 142.2l1.00 1.50 1.50 1.00-1.50 1.00-1.00 1.50-1.00-1.50-1.50-1.00 1.50-1.00zM99.7 145.2l1.00 1.50 1.50 1.00-1.50 1.00-1.00 1.50-1.00-1.50-1.50-1.00 1.50-1.00zM102.7 143.2l1.00 1.50 1.50 1.00-1.50 1.00-1.00 1.50-1.00-1.50-1.50-1.00 1.50-1.00zM98.6 150.4l1.00 1.50 1.50 1.00-1.50 1.00-1.00 1.50-1.00-1.50-1.50-1.00 1.50-1.00zM101.7 154.4l1.00 1.50 1.50 1.00-1.50 1.00-1.00 1.50-1.00-1.50-1.50-1.00 1.50-1.00zM106.8 157.5l1.00 1.50 1.50 1.00-1.50 1.00-1.00 1.50-1.00-1.50-1.50-1.00 1.50-1.00zM108.9 161.6l1.00 1.50 1.50 1.00-1.50 1.00-1.00 1.50-1.00-1.50-1.50-1.00 1.50-1.00zM104.8 162.6l1.00 1.50 1.50 1.00-1.50 1.00-1.00 1.50-1.00-1.50-1.50-1.00 1.50-1.00zM89.4 132.0l1.00 1.50 1.50 1.00-1.50 1.00-1.00 1.50-1.00-1.50-1.50-1.00 1.50-1.00zM175.6 107.0l1.00 1.50 1.50 1.00-1.50 1.00-1.00 1.50-1.00-1.50-1.50-1.00 1.50-1.00zM180.7 113.2l1.00 1.50 1.50 1.00-1.50 1.00-1.00 1.50-1.00-1.50-1.50-1.00 1.50-1.00zM187.8 115.2l1.00 1.50 1.50 1.00-1.50 1.00-1.00 1.50-1.00-1.50-1.50-1.00 1.50-1.00zM185.8 122.3l1.00 1.50 1.50 1.00-1.50 1.00-1.00 1.50-1.00-1.50-1.50-1.00 1.50-1.00zM195.0 126.4l1.00 1.50 1.50 1.00-1.50 1.00-1.00 1.50-1.00-1.50-1.50-1.00 1.50-1.00zM197.0 139.7l1.00 1.50 1.50 1.00-1.50 1.00-1.00 1.50-1.00-1.50-1.50-1.00 1.50-1.00zM199.1 133.6l1.00 1.50 1.50 1.00-1.50 1.00-1.00 1.50-1.00-1.50-1.50-1.00 1.50-1.00zM177.6 119.3l1.00 1.50 1.50 1.00-1.50 1.00-1.00 1.50-1.00-1.50-1.50-1.00 1.50-1.00z"/><clipPath id="rb"><path d="M132.9 139.9 177.9 139.9 177.9 153.9 267.8 153.9 267.8 -2.0 117.8 -2.0 117.8 84.7 125.9 84.7 125.9 98.7 132.9 98.7Z"/></clipPath><clipPath id="rc"><path d="M109.2 133.9 155.4 133.9 155.4 167.8 267.8 167.8 267.8 -2.0 100.2 -2.0 100.2 109.9 109.2 109.9Z"/></clipPath><clipPath id="rd"><path d="M53.2 -2.0 267.8 -2.0 267.8 221.8 153.3 221.8 153.3 191.8 118.6 191.8 118.6 180.2 81.8 147.9 53.2 147.9Z"/></clipPath><clipPath id="re"><path d="M20.4 -2.0 267.8 -2.0 267.8 221.8 120.6 221.8 120.6 199.8 20.4 199.8Z"/></clipPath><clipPath id="rf"><path clip-rule="evenodd" d="M-5 -5h280v230h-280zM40.8 127.0a48.7 46.7 0 1 0 97.3 0a48.7 46.7 0 1 0 -97.3 0z"/></clipPath></defs>
<text x="176.4" y="11.1" class="tt" text-anchor="middle" textLength="168.6" lengthAdjust="spacingAndGlyphs">Distribution of Rx and Tx Stations</text><g transform="translate(43.5,14.8)"><use href="#coast"/><use href="#txs" fill="#7d7d7d"/><g transform="translate(-43.5,-14.8)" fill="none" stroke-linecap="round" opacity="0.7"></g><g filter="url(#bl)"><g transform="translate(-43.5,-14.8) scale(1.5)" stroke-width="1" fill="none"></g></g><use href="#circ"/><path d="M83.3 90.4h8.0l-4.0 6.9zM112.4 82.0h8.0l-4.0 6.9zM111.1 128.7h8.0l-4.0 6.9zM185.8 124.3h8.0l-4.0 6.9zM89.2 167.0h8.0l-4.0 6.9zM202.7 59.3h8.0l-4.0 6.9z" fill="#000"/><circle cx="89.4" cy="127.0" r="3.3" fill="#000"/><circle cx="14.5" cy="14.1" r="3.4" fill="#000"/><text x="22.3" y="16.9" class="lg">Rx</text><path d="M10.5 22.6h8l-4 7z" fill="#000"/><text x="22.3" y="28.9" class="lg" textLength="38.3" lengthAdjust="spacingAndGlyphs">Ionosonde</text><path d="M14.5 35.6l0.90 1.40 1.40 0.90-1.40 0.90-0.90 1.40-0.90-1.40-1.40-0.90 1.40-0.90z" fill="#7d7d7d"/><text x="22.3" y="41" class="lg" style="fill:#808080;stroke:#808080">Tx</text></g><path d="M45.5 14.8v2.0M45.5 234.6v-2.0M49.6 14.8v2.0M49.6 234.6v-2.0M53.7 14.8v4.4M53.7 234.6v-4.4M57.8 14.8v2.0M57.8 234.6v-2.0M61.9 14.8v2.0M61.9 234.6v-2.0M66.0 14.8v2.0M66.0 234.6v-2.0M70.1 14.8v2.0M70.1 234.6v-2.0M74.2 14.8v2.0M74.2 234.6v-2.0M78.3 14.8v2.0M78.3 234.6v-2.0M82.3 14.8v2.0M82.3 234.6v-2.0M86.4 14.8v2.0M86.4 234.6v-2.0M90.5 14.8v2.0M90.5 234.6v-2.0M94.6 14.8v4.4M94.6 234.6v-4.4M98.7 14.8v2.0M98.7 234.6v-2.0M102.8 14.8v2.0M102.8 234.6v-2.0M106.9 14.8v2.0M106.9 234.6v-2.0M111.0 14.8v2.0M111.0 234.6v-2.0M115.1 14.8v2.0M115.1 234.6v-2.0M119.2 14.8v2.0M119.2 234.6v-2.0M123.2 14.8v2.0M123.2 234.6v-2.0M127.3 14.8v2.0M127.3 234.6v-2.0M131.4 14.8v2.0M131.4 234.6v-2.0M135.5 14.8v4.4M135.5 234.6v-4.4M139.6 14.8v2.0M139.6 234.6v-2.0M143.7 14.8v2.0M143.7 234.6v-2.0M147.8 14.8v2.0M147.8 234.6v-2.0M151.9 14.8v2.0M151.9 234.6v-2.0M156.0 14.8v2.0M156.0 234.6v-2.0M160.0 14.8v2.0M160.0 234.6v-2.0M164.1 14.8v2.0M164.1 234.6v-2.0M168.2 14.8v2.0M168.2 234.6v-2.0M172.3 14.8v2.0M172.3 234.6v-2.0M176.4 14.8v4.4M176.4 234.6v-4.4M180.5 14.8v2.0M180.5 234.6v-2.0M184.6 14.8v2.0M184.6 234.6v-2.0M188.7 14.8v2.0M188.7 234.6v-2.0M192.8 14.8v2.0M192.8 234.6v-2.0M196.8 14.8v2.0M196.8 234.6v-2.0M200.9 14.8v2.0M200.9 234.6v-2.0M205.0 14.8v2.0M205.0 234.6v-2.0M209.1 14.8v2.0M209.1 234.6v-2.0M213.2 14.8v2.0M213.2 234.6v-2.0M217.3 14.8v4.4M217.3 234.6v-4.4M221.4 14.8v2.0M221.4 234.6v-2.0M225.5 14.8v2.0M225.5 234.6v-2.0M229.6 14.8v2.0M229.6 234.6v-2.0M233.6 14.8v2.0M233.6 234.6v-2.0M237.7 14.8v2.0M237.7 234.6v-2.0M241.8 14.8v2.0M241.8 234.6v-2.0M245.9 14.8v2.0M245.9 234.6v-2.0M250.0 14.8v2.0M250.0 234.6v-2.0M254.1 14.8v2.0M254.1 234.6v-2.0M258.2 14.8v4.4M258.2 234.6v-4.4M262.3 14.8v2.0M262.3 234.6v-2.0M266.4 14.8v2.0M266.4 234.6v-2.0M270.5 14.8v2.0M270.5 234.6v-2.0M274.5 14.8v2.0M274.5 234.6v-2.0M278.6 14.8v2.0M278.6 234.6v-2.0M282.7 14.8v2.0M282.7 234.6v-2.0M286.8 14.8v2.0M286.8 234.6v-2.0M290.9 14.8v2.0M290.9 234.6v-2.0M295.0 14.8v2.0M295.0 234.6v-2.0M299.1 14.8v4.4M299.1 234.6v-4.4M303.2 14.8v2.0M303.2 234.6v-2.0M307.3 14.8v2.0M307.3 234.6v-2.0M43.5 232.9h2.3M309.3 232.9h-2.3M43.5 228.9h2.3M309.3 228.9h-2.3M43.5 224.9h5.0M309.3 224.9h-5.0M43.5 220.9h2.3M309.3 220.9h-2.3M43.5 216.9h2.3M309.3 216.9h-2.3M43.5 212.9h2.3M309.3 212.9h-2.3M43.5 208.9h2.3M309.3 208.9h-2.3M43.5 204.9h2.3M309.3 204.9h-2.3M43.5 200.9h2.3M309.3 200.9h-2.3M43.5 196.9h2.3M309.3 196.9h-2.3M43.5 192.9h2.3M309.3 192.9h-2.3M43.5 188.9h2.3M309.3 188.9h-2.3M43.5 184.9h5.0M309.3 184.9h-5.0M43.5 180.9h2.3M309.3 180.9h-2.3M43.5 177.0h2.3M309.3 177.0h-2.3M43.5 173.0h2.3M309.3 173.0h-2.3M43.5 169.0h2.3M309.3 169.0h-2.3M43.5 165.0h2.3M309.3 165.0h-2.3M43.5 161.0h2.3M309.3 161.0h-2.3M43.5 157.0h2.3M309.3 157.0h-2.3M43.5 153.0h2.3M309.3 153.0h-2.3M43.5 149.0h2.3M309.3 149.0h-2.3M43.5 145.0h5.0M309.3 145.0h-5.0M43.5 141.0h2.3M309.3 141.0h-2.3M43.5 137.0h2.3M309.3 137.0h-2.3M43.5 133.0h2.3M309.3 133.0h-2.3M43.5 129.0h2.3M309.3 129.0h-2.3M43.5 125.0h2.3M309.3 125.0h-2.3M43.5 121.0h2.3M309.3 121.0h-2.3M43.5 117.0h2.3M309.3 117.0h-2.3M43.5 113.0h2.3M309.3 113.0h-2.3M43.5 109.0h2.3M309.3 109.0h-2.3M43.5 105.0h5.0M309.3 105.0h-5.0M43.5 101.0h2.3M309.3 101.0h-2.3M43.5 97.0h2.3M309.3 97.0h-2.3M43.5 93.0h2.3M309.3 93.0h-2.3M43.5 89.0h2.3M309.3 89.0h-2.3M43.5 85.0h2.3M309.3 85.0h-2.3M43.5 81.0h2.3M309.3 81.0h-2.3M43.5 77.0h2.3M309.3 77.0h-2.3M43.5 73.0h2.3M309.3 73.0h-2.3M43.5 69.1h2.3M309.3 69.1h-2.3M43.5 65.1h5.0M309.3 65.1h-5.0M43.5 61.1h2.3M309.3 61.1h-2.3M43.5 57.1h2.3M309.3 57.1h-2.3M43.5 53.1h2.3M309.3 53.1h-2.3M43.5 49.1h2.3M309.3 49.1h-2.3M43.5 45.1h2.3M309.3 45.1h-2.3M43.5 41.1h2.3M309.3 41.1h-2.3M43.5 37.1h2.3M309.3 37.1h-2.3M43.5 33.1h2.3M309.3 33.1h-2.3M43.5 29.1h2.3M309.3 29.1h-2.3M43.5 25.1h5.0M309.3 25.1h-5.0M43.5 21.1h2.3M309.3 21.1h-2.3M43.5 17.1h2.3M309.3 17.1h-2.3" stroke="#6a6a6a" stroke-width="1.1" fill="none"/><rect x="43.5" y="14.8" width="265.8" height="219.8" fill="none" stroke="#555" stroke-width="1.15"/><text x="53.7" y="255.5" class="tl" text-anchor="middle">80</text><text x="94.6" y="255.5" class="tl" text-anchor="middle">90</text><text x="135.5" y="255.5" class="tl" text-anchor="middle">100</text><text x="176.4" y="255.5" class="tl" text-anchor="middle">110</text><text x="217.3" y="255.5" class="tl" text-anchor="middle">120</text><text x="258.2" y="255.5" class="tl" text-anchor="middle">130</text><text x="299.1" y="255.5" class="tl" text-anchor="middle">140</text><text x="38.2" y="230.6" class="tl" text-anchor="end">-10</text><text x="38.2" y="190.6" class="tl" text-anchor="end">0</text><text x="38.2" y="150.7" class="tl" text-anchor="end">10</text><text x="38.2" y="110.7" class="tl" text-anchor="end">20</text><text x="38.2" y="70.8" class="tl" text-anchor="end">30</text><text x="38.2" y="30.8" class="tl" text-anchor="end">40</text><text x="10.6" y="124.7" class="ax" text-anchor="middle" transform="rotate(-90 10.6 124.7)" textLength="40.8" lengthAdjust="spacingAndGlyphs">Latitude</text><text x="59.8" y="214.8" class="pl">a</text><text x="508.3" y="11.1" class="tt" text-anchor="middle" textLength="134.9" lengthAdjust="spacingAndGlyphs">Rx: CHF (35.66N, 139.54E)</text><g transform="translate(375.4,14.8)"><use href="#coast"/><use href="#txs" fill="#7d7d7d"/><use href="#txs" fill="#ff2a10" clip-path="url(#rb)"/><g transform="translate(-375.4,-14.8)" fill="none" stroke-linecap="round" opacity="0.7"><path d="M617.4 53.4L615.6 57.4M617.1 48.6L614.4 54.5M607.0 70.7L604.6 75.8M613.0 53.7L611.6 56.5M596.3 80.8L594.8 83.9M606.5 55.6L603.5 61.6M597.4 73.8L595.8 76.8M595.7 67.8L593.6 71.8M598.3 52.4L596.0 56.4M595.8 56.8L593.1 61.5M595.5 53.2L593.0 57.6M588.1 58.4L585.9 62.0M579.5 64.5L576.7 68.9M583.7 55.0L580.7 59.6M575.8 67.3L572.9 71.7M572.2 65.2L569.0 69.9M576.2 55.1L572.6 60.2M567.4 54.8L565.2 57.8M558.1 63.7L554.5 68.4M562.6 54.7L559.5 58.8M541.5 74.3L538.3 78.2M542.0 66.7L537.8 71.7M546.6 57.8L544.3 60.5M540.1 65.4L536.6 69.5M543.5 57.6L540.2 61.4M539.3 62.3L536.4 65.8M539.2 56.4L536.2 59.6" stroke="#ff7000" stroke-width="1.1"/><path d="M608.5 73.3L605.8 79.5M608.5 59.0L606.6 63.0" stroke="#ff3000" stroke-width="1.1"/><path d="M606.0 64.2L604.0 68.4M599.3 74.7L596.5 80.4M610.8 47.2L608.5 51.7M608.4 48.3L606.9 51.1M606.6 51.7L603.9 57.0M598.0 68.3L595.1 74.1M605.6 49.2L602.7 54.7M589.9 78.8L586.8 84.7M600.9 51.4L598.2 56.3M590.3 70.6L588.1 74.7M590.4 66.3L588.8 69.1M576.0 74.4L572.9 79.5M575.9 63.0L572.9 67.5M578.9 55.2L576.7 58.4M558.8 80.3L556.1 84.1M569.5 61.0L567.5 64.0M567.6 60.7L565.6 63.5M565.3 63.8L561.8 68.7M556.6 69.5L553.0 74.2M564.9 54.7L561.7 59.0M559.2 59.1L557.2 61.7M543.4 75.3L540.6 78.8M553.6 59.2L550.9 62.6M550.1 63.6L546.1 68.5M545.6 62.4L543.0 65.6M547.4 53.1L543.8 57.3M540.7 57.6L537.0 61.8M533.2 66.0L530.1 69.5" stroke="#ffff00" stroke-width="1.1"/><path d="M599.5 69.5L597.9 72.7M602.5 55.0L599.3 61.0M600.7 55.1L597.9 60.4M597.2 61.7L594.5 66.7M597.5 57.5L594.4 63.1M588.4 69.9L585.7 74.7M592.7 58.1L591.0 61.2M590.5 54.3L588.7 57.4M581.3 69.6L579.1 73.2M588.3 54.6L585.7 58.8M577.9 71.3L576.3 74.0M580.0 60.7L576.4 66.3M572.2 72.9L569.9 76.4M581.1 55.0L578.9 58.4M552.8 74.6L549.4 79.1M550.1 74.2L547.4 77.8M557.0 62.0L553.7 66.2M559.9 54.4L557.1 58.0M545.8 68.9L542.3 73.3M537.2 75.7L535.2 78.1M534.9 78.5L531.4 82.8M549.7 57.5L546.3 61.6M537.9 51.0L535.1 54.0" stroke="#ffb000" stroke-width="1.1"/><path d="M594.1 63.7L590.8 69.7M587.1 63.7L584.4 68.2M585.3 63.0L581.8 68.7M585.7 54.6L584.0 57.3M578.6 58.8L576.6 61.8M569.5 72.6L567.4 75.9M566.9 68.5L563.0 74.2M564.8 67.7L561.8 72.1M561.3 72.7L558.2 77.2M571.5 55.2L568.4 59.5M561.2 69.6L558.3 73.6M565.0 60.7L561.9 64.9M559.9 65.0L556.8 69.1M561.3 59.5L558.5 63.3M549.2 72.1L545.4 76.9M556.3 59.0L552.4 63.9M540.4 79.1L537.6 82.6M557.6 54.3L554.5 58.1M555.1 54.0L551.6 58.2M551.3 58.6L549.2 61.1M548.9 61.5L546.0 65.0M541.1 70.9L538.0 74.7M550.2 53.6L547.1 57.3M543.8 61.1L540.7 64.7M535.6 66.7L531.7 71.0M545.0 52.8L540.9 57.4M536.5 62.3L534.1 65.1M542.6 52.5L539.6 55.9M531.0 65.4L527.1 69.7M538.1 55.0L535.9 57.4M534.4 54.7L531.7 57.6M531.8 55.0L529.0 57.9" stroke="#40ff00" stroke-width="1.1"/><path d="M592.7 62.3L590.8 65.6M590.8 61.5L588.0 66.2M584.6 72.1L582.9 75.1M593.1 53.5L590.5 57.9M589.9 59.0L587.3 63.2M577.7 79.4L574.7 84.6M573.7 55.1L570.2 60.1M569.1 55.2L565.6 59.9M552.9 67.3L549.7 71.4M551.8 64.6L548.9 68.4M540.9 51.9L538.6 54.4M531.3 58.0L529.3 60.2M536.2 50.4L532.4 54.3" stroke="#00a060" stroke-width="1.1"/></g><g filter="url(#bl)"><g transform="translate(-375.4,-14.8) scale(1.5)" stroke-width="1" fill="none"><path d="M341 10.5h1m0 0h1M343 11.5h1M341 12.5h1m1 0h1M341 13.5h1M341 14.5h1m0 0h1m0 0h1m0 0h1M343 15.5h1m0 0h1m0 0h1m2 0h1M344 16.5h1m5 0h1M343 17.5h1m0 0h1M345 18.5h1m0 0h1M349 19.5h1M347 20.5h1M344 21.5h1m0 0h1m0 0h1m1 0h1m63 0h1M348 22.5h1m4 0h1M346 23.5h1m0 0h1m0 0h1m0 0h1m0 0h1M346 24.5h1m0 0h1m1 0h1m0 0h1m0 0h1m1 0h1m2 0h1m48 0h1m12 0h1M349 25.5h1m0 0h1m0 0h1m1 0h1m3 0h1m55 0h1m1 0h1M349 26.5h1m0 0h1m0 0h1m0 0h1m59 0h1m1 0h1M349 27.5h1m0 0h1m0 0h1m0 0h1m0 0h1m0 0h1m49 0h1m1 0h1m6 0h1M349 28.5h1m0 0h1m0 0h1m0 0h1m0 0h1m0 0h1m8 0h1m3 0h1m27 0h1m2 0h1m9 0h1m0 0h1M351 29.5h1m0 0h1m0 0h1m2 0h1m0 0h1m1 0h1m2 0h1m3 0h1m2 0h1m9 0h1m0 0h1m1 0h1m0 0h1m0 0h1m2 0h1m2 0h1m0 0h1m13 0h1M352 30.5h1m1 0h1m0 0h1m0 0h1m8 0h1m0 0h1m15 0h1m0 0h1m1 0h1m5 0h1m2 0h1m3 0h1m10 0h1M353 31.5h1m1 0h1m0 0h1m0 0h1m0 0h1m0 0h1m0 0h1m0 0h1m0 0h1m10 0h1m0 0h1m0 0h1m1 0h1m6 0h1m3 0h1m4 0h1m4 0h1m4 0h1m1 0h1m2 0h1M355 32.5h1m0 0h1m0 0h1m0 0h1m0 0h1m0 0h1m0 0h1m0 0h1m0 0h1m1 0h1m0 0h1m0 0h1m0 0h1m0 0h1m8 0h1m2 0h1m1 0h1m5 0h1m4 0h1m4 0h1m0 0h1m2 0h1M356 33.5h1m0 0h1m0 0h1m1 0h1m0 0h1m2 0h1m0 0h1m0 0h1m0 0h1m1 0h1m1 0h1m1 0h1m1 0h1m1 0h1m1 0h1m0 0h1m0 0h1m0 0h1m0 0h1m0 0h1m1 0h1m0 0h1m0 0h1m0 0h1m1 0h1m0 0h1m0 0h1m1 0h1m0 0h1m0 0h1m1 0h1M358 34.5h1m0 0h1m0 0h1m1 0h1m1 0h1m0 0h1m1 0h1m0 0h1m0 0h1m1 0h1m0 0h1m0 0h1m0 0h1m0 0h1m0 0h1m2 0h1m0 0h1m0 0h1m0 0h1m0 0h1m5 0h1m1 0h1m2 0h1m1 0h1m2 0h1m0 0h1M362 35.5h1m1 0h1m0 0h1m0 0h1m0 0h1m1 0h1m1 0h1m0 0h1m4 0h1m0 0h1m2 0h1m2 0h1m0 0h1m0 0h1m0 0h1m3 0h1m1 0h1m0 0h1m0 0h1m2 0h1M371 36.5h1m0 0h1m0 0h1m0 0h1m1 0h1m0 0h1m0 0h1m0 0h1m0 0h1m1 0h1m1 0h1m0 0h1m1 0h1m0 0h1m2 0h1m0 0h1m0 0h1" stroke="#0010ff"/><path d="M345 10.5h1m0 0h1m0 0h1m1 0h1m2 0h1m4 0h1m1 0h1M346 11.5h1m2 0h1m0 0h1m1 0h1m3 0h1M346 12.5h1m3 0h1m1 0h1m1 0h1m1 0h1m2 0h1m0 0h1M347 13.5h1m1 0h1m1 0h1m0 0h1m0 0h1m0 0h1m4 0h1m0 0h1m58 0h1M345 14.5h1m1 0h1m0 0h1m0 0h1m0 0h1m0 0h1m2 0h1m0 0h1m1 0h1M347 15.5h1m2 0h1m0 0h1m0 0h1m0 0h1m4 0h1M347 16.5h1m0 0h1m3 0h1m0 0h1m2 0h1m1 0h1m2 0h1m35 0h1m3 0h1m12 0h1M347 17.5h1m1 0h1m1 0h1m0 0h1m2 0h1m0 0h1m0 0h1m4 0h1m3 0h1m35 0h1m6 0h1M347 18.5h1m1 0h1m4 0h1m0 0h1m0 0h1m17 0h1m0 0h1m7 0h1m0 0h1m3 0h1m2 0h1m4 0h1m9 0h1m1 0h1M352 19.5h1m0 0h1m0 0h1m1 0h1m7 0h1m0 0h1m0 0h1m1 0h1m0 0h1m0 0h1m6 0h1m6 0h1m6 0h1m9 0h1m7 0h1M351 20.5h1m0 0h1m0 0h1m2 0h1m0 0h1m0 0h1m0 0h1m0 0h1m0 0h1m2 0h1m3 0h1m8 0h1m0 0h1m15 0h1m0 0h1m0 0h1m1 0h1m4 0h1m1 0h1m8 0h1M352 21.5h1m1 0h1m0 0h1m0 0h1m2 0h1m0 0h1m0 0h1m5 0h1m1 0h1m1 0h1m2 0h1m6 0h1m2 0h1m17 0h1m5 0h1M350 22.5h1m1 0h1m3 0h1m1 0h1m0 0h1m0 0h1m0 0h1m2 0h1m5 0h1m7 0h1m1 0h1m2 0h1m3 0h1m14 0h1m0 0h1m5 0h1m4 0h1M353 23.5h1m0 0h1m0 0h1m0 0h1m0 0h1m0 0h1m1 0h1m0 0h1m0 0h1m0 0h1m0 0h1m2 0h1m0 0h1m1 0h1m3 0h1m0 0h1m8 0h1m2 0h1m0 0h1m0 0h1m1 0h1m7 0h1m0 0h1m0 0h1m1 0h1m3 0h1m7 0h1M352 24.5h1m2 0h1m1 0h1m1 0h1m3 0h1m1 0h1m0 0h1m0 0h1m1 0h1m0 0h1m2 0h1m0 0h1m0 0h1m3 0h1m3 0h1m6 0h1m4 0h1m16 0h1m2 0h1M352 25.5h1m2 0h1m2 0h1m1 0h1m0 0h1m1 0h1m1 0h1m0 0h1m0 0h1m0 0h1m0 0h1m0 0h1m0 0h1m0 0h1m1 0h1m0 0h1m1 0h1m1 0h1m0 0h1m3 0h1m2 0h1m4 0h1m0 0h1m0 0h1m1 0h1m0 0h1m2 0h1m10 0h1M353 26.5h1m2 0h1m3 0h1m0 0h1m0 0h1m0 0h1m3 0h1m0 0h1m1 0h1m0 0h1m3 0h1m5 0h1m0 0h1m2 0h1m0 0h1m0 0h1m3 0h1m0 0h1m0 0h1m1 0h1m0 0h1M359 27.5h1m0 0h1m1 0h1m0 0h1m4 0h1m0 0h1m0 0h1m0 0h1m2 0h1m0 0h1m2 0h1m2 0h1m3 0h1m0 0h1m4 0h1m1 0h1m0 0h1m2 0h1m7 0h1m1 0h1M357 28.5h1m0 0h1m0 0h1m0 0h1m0 0h1m0 0h1m1 0h1m0 0h1m2 0h1m3 0h1m1 0h1m3 0h1m0 0h1m0 0h1m0 0h1m0 0h1m0 0h1m2 0h1m1 0h1m4 0h1M358 29.5h1m1 0h1m0 0h1m1 0h1m1 0h1m2 0h1m1 0h1m0 0h1m0 0h1m0 0h1m1 0h1m0 0h1m0 0h1m3 0h1m3 0h1m0 0h1m1 0h1m0 0h1m3 0h1m0 0h1m0 0h1m0 0h1m2 0h1m1 0h1M359 30.5h1m1 0h1m0 0h1m1 0h1m2 0h1m0 0h1m0 0h1m0 0h1m0 0h1m0 0h1m2 0h1m3 0h1m0 0h1m3 0h1m1 0h1m0 0h1m2 0h1m1 0h1m0 0h1m1 0h1m0 0h1m2 0h1M363 31.5h1m2 0h1m0 0h1m0 0h1m2 0h1m4 0h1m1 0h1m1 0h1m1 0h1m0 0h1m3 0h1m1 0h1m2 0h1M370 32.5h1m2 0h1m2 0h1m0 0h1m1 0h1m0 0h1m1 0h1m1 0h1m0 0h1m0 0h1m0 0h1m3 0h1m0 0h1m0 0h1" stroke="#40ff00"/><path d="M348 10.5h1m1 0h1m0 0h1m2 0h1m18 0h1m8 0h1m2 0h1m11 0h1m3 0h1M353 11.5h1m0 0h1m2 0h1m0 0h1m0 0h1m2 0h1m10 0h1m3 0h1m4 0h1m10 0h1m15 0h1M358 12.5h1m11 0h1m4 0h1m7 0h1m2 0h1m4 0h1m0 0h1m3 0h1m0 0h1m1 0h1M357 13.5h1m0 0h1m8 0h1m4 0h1m5 0h1m2 0h1m1 0h1m0 0h1m2 0h1m3 0h1m0 0h1m15 0h1M352 14.5h1m0 0h1m7 0h1m7 0h1m4 0h1m2 0h1m2 0h1m3 0h1m1 0h1m3 0h1m1 0h1m1 0h1m0 0h1m1 0h1M355 15.5h1m3 0h1m2 0h1m4 0h1m29 0h1m1 0h1m5 0h1m10 0h1M354 16.5h1m0 0h1m4 0h1m1 0h1m4 0h1m4 0h1m0 0h1m1 0h1m0 0h1m0 0h1m1 0h1m7 0h1M353 17.5h1m4 0h1m1 0h1m0 0h1m3 0h1m1 0h1m1 0h1m0 0h1m11 0h1m3 0h1m0 0h1m1 0h1m0 0h1m23 0h1M352 18.5h1m4 0h1m0 0h1m1 0h1m0 0h1m1 0h1m1 0h1m2 0h1m0 0h1m0 0h1m1 0h1m0 0h1m3 0h1m8 0h1m0 0h1m1 0h1m2 0h1m4 0h1m0 0h1m0 0h1m4 0h1M357 19.5h1m0 0h1m0 0h1m0 0h1m1 0h1m0 0h1m7 0h1m0 0h1m0 0h1m0 0h1m0 0h1m0 0h1m4 0h1m3 0h1m0 0h1m5 0h1m0 0h1m0 0h1m0 0h1m4 0h1m4 0h1M355 20.5h1m7 0h1m5 0h1m1 0h1m1 0h1m5 0h1m0 0h1m1 0h1m0 0h1m4 0h1m1 0h1M357 21.5h1m0 0h1m4 0h1m1 0h1m0 0h1m1 0h1m4 0h1m2 0h1m3 0h1m6 0h1m0 0h1m2 0h1m1 0h1m2 0h1M355 22.5h1m1 0h1m9 0h1m1 0h1m5 0h1m0 0h1m4 0h1m6 0h1m2 0h1m2 0h1m0 0h1m0 0h1m10 0h1M371 23.5h1m1 0h1m2 0h1m2 0h1m5 0h1m0 0h1m5 0h1m0 0h1m0 0h1m0 0h1m1 0h1m11 0h1M360 24.5h1m3 0h1m6 0h1m0 0h1m8 0h1m2 0h1M359 25.5h1m2 0h1m1 0h1m8 0h1m2 0h1m1 0h1m6 0h1m3 0h1m1 0h1m3 0h1M364 26.5h1m7 0h1m0 0h1m0 0h1m1 0h1m7 0h1m4 0h1m7 0h1m0 0h1m4 0h1M365 27.5h1m0 0h1m5 0h1m0 0h1m10 0h1m2 0h1m1 0h1m6 0h1m4 0h1M377 28.5h1m7 0h1m1 0h1m1 0h1m0 0h1m0 0h1m8 0h1M403 29.5h1M401 30.5h1" stroke="#ffff00"/><path d="M353 10.5h1M347 11.5h1M347 12.5h1M342 13.5h1M354 15.5h1M345 16.5h1M410 17.5h1M348 18.5h1m1 0h1m2 0h1M350 19.5h1M348 20.5h1m1 0h1M347 21.5h1m3 0h1M354 22.5h1m7 0h1m0 0h1m33 0h1M366 23.5h1m5 0h1m40 0h1M348 24.5h1m5 0h1m6 0h1m0 0h1m13 0h1m0 0h1m9 0h1m0 0h1m7 0h1m0 0h1M356 25.5h1m26 0h1m23 0h1M355 26.5h1m1 0h1m1 0h1m6 0h1m2 0h1m7 0h1m0 0h1m1 0h1m7 0h1m11 0h1M355 27.5h1m0 0h1m0 0h1m3 0h1m2 0h1m14 0h1m3 0h1m4 0h1m1 0h1m4 0h1m4 0h1M355 28.5h1m13 0h1m22 0h1m1 0h1m2 0h1m1 0h1m3 0h1M354 29.5h1m0 0h1m18 0h1m3 0h1m18 0h1M373 30.5h1m3 0h1m3 0h1m7 0h1m18 0h1M354 31.5h1m9 0h1m4 0h1m0 0h1m8 0h1m5 0h1m0 0h1m3 0h1m3 0h1m2 0h1M372 32.5h1m1 0h1m0 0h1m12 0h1m6 0h1M363 33.5h1m4 0h1m1 0h1m1 0h1m3 0h1m8 0h1m8 0h1M361 34.5h1m8 0h1m7 0h1m6 0h1M363 35.5h1m4 0h1m1 0h1m5 0h1m2 0h1m0 0h1m2 0h1m4 0h1m0 0h1m2 0h1m4 0h1M370 36.5h1m4 0h1m10 0h1m2 0h1m0 0h1" stroke="#00a060"/><path d="M355 10.5h1m0 0h1m7 0h1m0 0h1m0 0h1m1 0h1m0 0h1m4 0h1m5 0h1m5 0h1m3 0h1m1 0h1m0 0h1m2 0h1M360 11.5h1m3 0h1m1 0h1m4 0h1m0 0h1m3 0h1m1 0h1m0 0h1m0 0h1m2 0h1m6 0h1m0 0h1m2 0h1m4 0h1M366 12.5h1m0 0h1m3 0h1m0 0h1m3 0h1m0 0h1m4 0h1m21 0h1M356 13.5h1m8 0h1m4 0h1m0 0h1m1 0h1m2 0h1m3 0h1m1 0h1m11 0h1m4 0h1M356 14.5h1m2 0h1m2 0h1m1 0h1m6 0h1m10 0h1m18 0h1m7 0h1m0 0h1M356 15.5h1m0 0h1m2 0h1m0 0h1m2 0h1m0 0h1m12 0h1m1 0h1m0 0h1m1 0h1m12 0h1m12 0h1M359 16.5h1m5 0h1m2 0h1m9 0h1m1 0h1m0 0h1m1 0h1m1 0h1m7 0h1m4 0h1M364 17.5h1m18 0h1m1 0h1m6 0h1m1 0h1M367 18.5h1m3 0h1m6 0h1m0 0h1m5 0h1m7 0h1m0 0h1m7 0h1m0 0h1M361 19.5h1m5 0h1m10 0h1m1 0h1m6 0h1m0 0h1m1 0h1m5 0h1m0 0h1m14 0h1M365 20.5h1m0 0h1m5 0h1m3 0h1m4 0h1m3 0h1m5 0h1m5 0h1m1 0h1M370 21.5h1m1 0h1m5 0h1m0 0h1m3 0h1m1 0h1m0 0h1m2 0h1m0 0h1m6 0h1m2 0h1m6 0h1M366 22.5h1m1 0h1m4 0h1m0 0h1m4 0h1m6 0h1m6 0h1M377 23.5h1m0 0h1m2 0h1m0 0h1m7 0h1m11 0h1M404 24.5h1M406 25.5h1M405 26.5h1m1 0h1M399 27.5h1m10 0h1M402 30.5h1m0 0h1" stroke="#ffb000"/><path d="M363 10.5h1m3 0h1m9 0h1m3 0h1m2 0h1m2 0h1m0 0h1M368 11.5h1m20 0h1m14 0h1M362 12.5h1m0 0h1m21 0h1M361 13.5h1m0 0h1m3 0h1m8 0h1m19 0h1M367 14.5h1m4 0h1m2 0h1m7 0h1m9 0h1m4 0h1M370 15.5h1m0 0h1m2 0h1m7 0h1m3 0h1m5 0h1M371 16.5h1m10 0h1m1 0h1m5 0h1m3 0h1M372 17.5h1m8 0h1M381 18.5h1M414 19.5h1M401 20.5h1M400 22.5h1M401 26.5h1M408 27.5h1M402 28.5h1M400 31.5h1" stroke="#ff7000"/><path d="M344 20.5h1M345 22.5h1M347 25.5h1M347 26.5h1M416 27.5h1M410 28.5h1M353 30.5h1m4 0h1m46 0h1m0 0h1m0 0h1M402 31.5h1M364 32.5h1m31 0h1m8 0h1M359 33.5h1m2 0h1m11 0h1m3 0h1m11 0h1m10 0h1m0 0h1M363 34.5h1m2 0h1m10 0h1m6 0h1m1 0h1m3 0h1m2 0h1m1 0h1M373 35.5h1m0 0h1M381 36.5h1" stroke="#4a00ff"/></g></g><use href="#circ"/><path d="M83.3 90.4h8.0l-4.0 6.9zM112.4 82.0h8.0l-4.0 6.9zM111.1 128.7h8.0l-4.0 6.9zM185.8 124.3h8.0l-4.0 6.9zM89.2 167.0h8.0l-4.0 6.9zM202.7 59.3h8.0l-4.0 6.9zM85.4 123.7h8.0l-4.0 6.9z" fill="#000"/><circle cx="253.7" cy="27.3" r="4.6" fill="#fff"/><circle cx="253.7" cy="27.3" r="3.3" fill="#000"/><circle cx="14.5" cy="14.1" r="3.4" fill="#000"/><text x="22.3" y="16.9" class="lg">Rx</text><path d="M10.5 22.6h8l-4 7z" fill="#000"/><text x="22.3" y="28.9" class="lg" textLength="38.3" lengthAdjust="spacingAndGlyphs">Ionosonde</text><path d="M14.6 36.4l0.60 1.20 1.20 0.60-1.20 0.60-0.60 1.20-0.60-1.20-1.20-0.60 1.20-0.60z" fill="#f22"/><text x="22.3" y="41" class="lg" style="fill:#f3200f;stroke:#f3200f" textLength="40.9" lengthAdjust="spacingAndGlyphs">Effective Tx</text></g><path d="M377.4 14.8v2.0M377.4 234.6v-2.0M381.5 14.8v2.0M381.5 234.6v-2.0M385.6 14.8v4.4M385.6 234.6v-4.4M389.7 14.8v2.0M389.7 234.6v-2.0M393.8 14.8v2.0M393.8 234.6v-2.0M397.9 14.8v2.0M397.9 234.6v-2.0M402.0 14.8v2.0M402.0 234.6v-2.0M406.1 14.8v2.0M406.1 234.6v-2.0M410.2 14.8v2.0M410.2 234.6v-2.0M414.2 14.8v2.0M414.2 234.6v-2.0M418.3 14.8v2.0M418.3 234.6v-2.0M422.4 14.8v2.0M422.4 234.6v-2.0M426.5 14.8v4.4M426.5 234.6v-4.4M430.6 14.8v2.0M430.6 234.6v-2.0M434.7 14.8v2.0M434.7 234.6v-2.0M438.8 14.8v2.0M438.8 234.6v-2.0M442.9 14.8v2.0M442.9 234.6v-2.0M447.0 14.8v2.0M447.0 234.6v-2.0M451.1 14.8v2.0M451.1 234.6v-2.0M455.1 14.8v2.0M455.1 234.6v-2.0M459.2 14.8v2.0M459.2 234.6v-2.0M463.3 14.8v2.0M463.3 234.6v-2.0M467.4 14.8v4.4M467.4 234.6v-4.4M471.5 14.8v2.0M471.5 234.6v-2.0M475.6 14.8v2.0M475.6 234.6v-2.0M479.7 14.8v2.0M479.7 234.6v-2.0M483.8 14.8v2.0M483.8 234.6v-2.0M487.9 14.8v2.0M487.9 234.6v-2.0M491.9 14.8v2.0M491.9 234.6v-2.0M496.0 14.8v2.0M496.0 234.6v-2.0M500.1 14.8v2.0M500.1 234.6v-2.0M504.2 14.8v2.0M504.2 234.6v-2.0M508.3 14.8v4.4M508.3 234.6v-4.4M512.4 14.8v2.0M512.4 234.6v-2.0M516.5 14.8v2.0M516.5 234.6v-2.0M520.6 14.8v2.0M520.6 234.6v-2.0M524.7 14.8v2.0M524.7 234.6v-2.0M528.7 14.8v2.0M528.7 234.6v-2.0M532.8 14.8v2.0M532.8 234.6v-2.0M536.9 14.8v2.0M536.9 234.6v-2.0M541.0 14.8v2.0M541.0 234.6v-2.0M545.1 14.8v2.0M545.1 234.6v-2.0M549.2 14.8v4.4M549.2 234.6v-4.4M553.3 14.8v2.0M553.3 234.6v-2.0M557.4 14.8v2.0M557.4 234.6v-2.0M561.5 14.8v2.0M561.5 234.6v-2.0M565.5 14.8v2.0M565.5 234.6v-2.0M569.6 14.8v2.0M569.6 234.6v-2.0M573.7 14.8v2.0M573.7 234.6v-2.0M577.8 14.8v2.0M577.8 234.6v-2.0M581.9 14.8v2.0M581.9 234.6v-2.0M586.0 14.8v2.0M586.0 234.6v-2.0M590.1 14.8v4.4M590.1 234.6v-4.4M594.2 14.8v2.0M594.2 234.6v-2.0M598.3 14.8v2.0M598.3 234.6v-2.0M602.4 14.8v2.0M602.4 234.6v-2.0M606.4 14.8v2.0M606.4 234.6v-2.0M610.5 14.8v2.0M610.5 234.6v-2.0M614.6 14.8v2.0M614.6 234.6v-2.0M618.7 14.8v2.0M618.7 234.6v-2.0M622.8 14.8v2.0M622.8 234.6v-2.0M626.9 14.8v2.0M626.9 234.6v-2.0M631.0 14.8v4.4M631.0 234.6v-4.4M635.1 14.8v2.0M635.1 234.6v-2.0M639.2 14.8v2.0M639.2 234.6v-2.0M375.4 232.9h2.3M641.2 232.9h-2.3M375.4 228.9h2.3M641.2 228.9h-2.3M375.4 224.9h5.0M641.2 224.9h-5.0M375.4 220.9h2.3M641.2 220.9h-2.3M375.4 216.9h2.3M641.2 216.9h-2.3M375.4 212.9h2.3M641.2 212.9h-2.3M375.4 208.9h2.3M641.2 208.9h-2.3M375.4 204.9h2.3M641.2 204.9h-2.3M375.4 200.9h2.3M641.2 200.9h-2.3M375.4 196.9h2.3M641.2 196.9h-2.3M375.4 192.9h2.3M641.2 192.9h-2.3M375.4 188.9h2.3M641.2 188.9h-2.3M375.4 184.9h5.0M641.2 184.9h-5.0M375.4 180.9h2.3M641.2 180.9h-2.3M375.4 177.0h2.3M641.2 177.0h-2.3M375.4 173.0h2.3M641.2 173.0h-2.3M375.4 169.0h2.3M641.2 169.0h-2.3M375.4 165.0h2.3M641.2 165.0h-2.3M375.4 161.0h2.3M641.2 161.0h-2.3M375.4 157.0h2.3M641.2 157.0h-2.3M375.4 153.0h2.3M641.2 153.0h-2.3M375.4 149.0h2.3M641.2 149.0h-2.3M375.4 145.0h5.0M641.2 145.0h-5.0M375.4 141.0h2.3M641.2 141.0h-2.3M375.4 137.0h2.3M641.2 137.0h-2.3M375.4 133.0h2.3M641.2 133.0h-2.3M375.4 129.0h2.3M641.2 129.0h-2.3M375.4 125.0h2.3M641.2 125.0h-2.3M375.4 121.0h2.3M641.2 121.0h-2.3M375.4 117.0h2.3M641.2 117.0h-2.3M375.4 113.0h2.3M641.2 113.0h-2.3M375.4 109.0h2.3M641.2 109.0h-2.3M375.4 105.0h5.0M641.2 105.0h-5.0M375.4 101.0h2.3M641.2 101.0h-2.3M375.4 97.0h2.3M641.2 97.0h-2.3M375.4 93.0h2.3M641.2 93.0h-2.3M375.4 89.0h2.3M641.2 89.0h-2.3M375.4 85.0h2.3M641.2 85.0h-2.3M375.4 81.0h2.3M641.2 81.0h-2.3M375.4 77.0h2.3M641.2 77.0h-2.3M375.4 73.0h2.3M641.2 73.0h-2.3M375.4 69.1h2.3M641.2 69.1h-2.3M375.4 65.1h5.0M641.2 65.1h-5.0M375.4 61.1h2.3M641.2 61.1h-2.3M375.4 57.1h2.3M641.2 57.1h-2.3M375.4 53.1h2.3M641.2 53.1h-2.3M375.4 49.1h2.3M641.2 49.1h-2.3M375.4 45.1h2.3M641.2 45.1h-2.3M375.4 41.1h2.3M641.2 41.1h-2.3M375.4 37.1h2.3M641.2 37.1h-2.3M375.4 33.1h2.3M641.2 33.1h-2.3M375.4 29.1h2.3M641.2 29.1h-2.3M375.4 25.1h5.0M641.2 25.1h-5.0M375.4 21.1h2.3M641.2 21.1h-2.3M375.4 17.1h2.3M641.2 17.1h-2.3" stroke="#6a6a6a" stroke-width="1.1" fill="none"/><rect x="375.4" y="14.8" width="265.8" height="219.8" fill="none" stroke="#555" stroke-width="1.15"/><text x="385.6" y="255.5" class="tl" text-anchor="middle">80</text><text x="426.5" y="255.5" class="tl" text-anchor="middle">90</text><text x="467.4" y="255.5" class="tl" text-anchor="middle">100</text><text x="508.3" y="255.5" class="tl" text-anchor="middle">110</text><text x="549.2" y="255.5" class="tl" text-anchor="middle">120</text><text x="590.1" y="255.5" class="tl" text-anchor="middle">130</text><text x="631.0" y="255.5" class="tl" text-anchor="middle">140</text><text x="370.1" y="230.6" class="tl" text-anchor="end">-10</text><text x="370.1" y="190.6" class="tl" text-anchor="end">0</text><text x="370.1" y="150.7" class="tl" text-anchor="end">10</text><text x="370.1" y="110.7" class="tl" text-anchor="end">20</text><text x="370.1" y="70.8" class="tl" text-anchor="end">30</text><text x="370.1" y="30.8" class="tl" text-anchor="end">40</text><text x="342.5" y="124.7" class="ax" text-anchor="middle" transform="rotate(-90 342.5 124.7)" textLength="40.8" lengthAdjust="spacingAndGlyphs">Latitude</text><text x="393.6" y="214.8" class="pl">b</text><text x="176.4" y="286.1" class="tt" text-anchor="middle" textLength="135.5" lengthAdjust="spacingAndGlyphs">Rx: KUR (34.24N, 132.53E)</text><g transform="translate(43.5,289.8)"><use href="#coast"/><use href="#txs" fill="#7d7d7d"/><use href="#txs" fill="#ff2a10" clip-path="url(#rc)"/><g transform="translate(-43.5,-289.8)" fill="none" stroke-linecap="round" opacity="0.7"><path d="M280.1 349.2L278.7 354.2M262.4 358.3L260.8 363.0M265.2 338.0L263.9 341.8M257.9 359.5L256.0 365.3M263.0 338.0L261.0 343.7M259.0 337.1L257.0 342.7M258.3 332.8L256.8 337.0M253.2 347.0L251.7 351.3M247.5 363.0L245.3 369.1M255.7 333.3L253.5 339.3M253.1 340.4L251.7 344.2M251.6 344.5L249.3 350.8M244.0 340.7L242.5 344.6M235.1 363.9L233.6 367.9M242.8 338.7L241.1 343.2M228.5 358.0L227.4 360.8M232.5 342.3L230.1 348.1M233.1 335.1L231.7 338.7M217.3 363.0L215.6 367.1M216.2 358.6L214.3 363.0M214.3 346.5L212.1 351.4M217.1 335.9L215.6 339.3M199.2 359.2L196.8 364.5M202.3 342.1L201.0 344.9M201.4 339.4L199.1 344.3M199.0 339.9L197.3 343.5M197.0 344.1L194.9 348.4M198.8 335.1L195.8 341.3M291.4 306.6L285.3 311.4M284.8 311.8L281.1 314.8M277.7 313.9L273.8 317.0M278.4 309.5L272.8 313.9" stroke="#ffb000" stroke-width="1.1"/><path d="M277.8 337.1L276.1 342.6M269.6 330.0L268.1 334.4M263.9 346.9L262.1 352.3M266.7 333.7L265.6 336.9M265.2 331.5L263.2 337.2M254.5 350.0L252.8 354.6M252.4 355.7L251.2 359.2M250.3 341.1L249.0 344.7M243.5 359.6L242.2 363.0M249.6 338.6L248.0 342.8M247.6 338.2L245.4 344.0M239.2 348.0L237.3 352.9M242.3 335.0L241.1 338.1M240.6 339.4L239.3 342.5M234.8 347.0L233.4 350.5M230.5 353.2L229.1 356.6M227.1 361.5L225.4 365.7M226.5 357.1L224.4 362.2M223.8 352.4L222.3 356.1M222.2 351.4L219.7 357.4M223.7 340.9L221.0 347.3M218.3 353.5L216.7 357.4M221.9 339.9L220.5 343.2M221.4 336.3L218.7 342.5M216.6 341.2L214.5 346.1M210.3 351.2L208.6 355.1M209.8 346.6L208.1 350.4M199.0 364.4L197.7 367.2M196.6 360.3L194.5 364.8M199.0 344.6L196.8 349.2M194.3 354.5L192.6 357.9M192.3 358.7L190.8 361.8M194.4 349.4L193.0 352.5M283.5 319.5L278.9 323.3M280.6 315.1L278.0 317.2M273.6 320.7L269.2 324.3" stroke="#ffff00" stroke-width="1.1"/><path d="M272.2 354.9L271.0 358.8M273.4 344.1L271.7 349.4M269.7 355.7L267.8 361.8M273.0 338.6L271.6 343.1M269.1 350.7L268.1 353.8M273.1 332.7L271.8 336.8M271.9 329.3L270.2 334.6M267.7 342.1L266.4 345.9M260.6 363.6L259.4 367.3M267.9 335.1L266.4 339.4M258.7 350.5L256.9 355.9M262.9 332.2L261.0 337.4M258.3 345.4L256.5 350.5M254.8 342.4L253.5 346.1M251.3 352.2L249.5 357.3M253.0 333.8L250.6 340.3M244.5 334.4L243.1 338.0M233.6 362.5L231.6 367.7M239.4 335.4L237.1 341.2M233.0 351.3L230.9 356.8M237.6 335.4L236.1 339.2M231.2 339.8L228.7 345.8M222.1 356.7L219.9 362.0M228.8 335.6L227.3 339.1M227.2 339.4L225.6 343.1M220.5 348.4L218.5 353.2M218.2 343.6L215.6 349.7M215.4 350.1L212.8 356.1M214.5 336.2L213.1 339.4M212.0 335.9L210.7 338.6M207.6 345.6L205.8 349.5M210.0 335.8L207.2 341.8M201.1 335.4L199.3 339.3M273.2 317.4L268.5 321.1" stroke="#ff7000" stroke-width="1.1"/><path d="M256.8 343.2L254.9 348.7M249.0 365.5L247.2 370.5M243.6 366.7L242.2 370.5M247.6 343.9L245.7 349.0M243.0 350.3L241.9 353.2M240.9 343.7L239.4 347.6M239.1 343.2L237.5 347.2M236.9 341.6L235.1 346.1M219.3 358.2L217.8 361.9M220.3 343.7L218.2 348.6M210.4 361.5L208.2 366.5M215.1 340.3L212.9 345.2M207.7 351.2L204.9 357.6M203.8 353.9L201.7 358.4M208.1 335.6L205.2 341.9M199.4 354.3L196.9 359.6M196.4 334.7L193.5 340.5M193.1 341.3L191.2 345.3M190.6 346.4L188.2 351.2M287.2 324.2L283.2 327.5M275.6 330.6L273.1 332.8M272.4 333.3L269.5 335.8M280.2 318.5L277.7 320.5M292.9 301.9L288.4 305.4M287.8 305.9L282.9 309.8M272.4 314.2L269.1 316.8" stroke="#40ff00" stroke-width="1.1"/><path d="M256.5 337.7L255.2 341.2M245.3 350.1L243.0 356.4M249.2 333.9L247.7 337.9M246.4 334.4L244.3 339.7M240.9 348.7L238.7 354.5M237.3 347.8L234.7 354.3M230.8 364.3L229.6 367.5M234.0 344.3L232.6 348.0M235.3 335.3L233.0 341.1M228.1 353.1L226.8 356.2M222.4 361.2L221.1 364.4M225.1 344.5L222.7 350.1M223.7 335.7L222.4 338.9M219.0 335.9L216.9 340.7M212.4 340.7L210.4 345.2M210.6 339.0L207.9 344.8M201.8 349.1L199.9 353.2M197.5 352.3L194.9 357.8M303.8 316.1L300.3 319.1M291.1 323.6L286.5 327.6M282.5 324.9L276.5 329.9M278.7 323.5L272.6 328.5M271.6 329.3L269.2 331.3M286.4 313.5L280.7 318.1" stroke="#0010ff" stroke-width="1.1"/><path d="M249.3 357.7L247.6 362.5M241.7 353.9L239.8 358.9M234.4 355.0L233.1 358.4M228.7 362.4L227.3 365.8M228.4 341.3L225.8 347.6M225.9 335.9L223.9 340.6M214.2 363.4L212.2 368.0M205.6 349.8L204.1 353.3M193.7 334.9L191.7 339.0M191.3 339.9L188.5 345.4M192.5 334.3L191.0 337.4" stroke="#00a060" stroke-width="1.1"/><path d="M292.5 319.7L287.7 323.8" stroke="#4a00ff" stroke-width="1.1"/></g><g filter="url(#bl)"><g transform="translate(-43.5,-289.8) scale(1.5)" stroke-width="1" fill="none"><path d="M101 194.5h1m0 0h1M103 195.5h1m1 0h1M103 196.5h1m0 0h1m0 0h1m1 0h1M102 197.5h1m4 0h1M104 198.5h1M102 199.5h1m2 0h1M104 200.5h1m0 0h1m0 0h1m1 0h1M102 201.5h1m5 0h1M103 202.5h1m2 0h1m2 0h1M105 203.5h1m2 0h1M104 205.5h1M106 206.5h1m0 0h1M105 207.5h1M109 208.5h1m0 0h1m2 0h1M106 209.5h1m3 0h1m81 0h1m1 0h1M109 210.5h1m84 0h1m2 0h1m0 0h1M107 211.5h1m0 0h1m0 0h1m1 0h1m2 0h1m1 0h1m66 0h1m6 0h1m0 0h1M109 212.5h1m0 0h1m1 0h1m0 0h1m2 0h1m67 0h1m0 0h1m4 0h1m4 0h1M109 213.5h1m0 0h1m1 0h1m0 0h1m0 0h1m4 0h1m67 0h1m1 0h1m2 0h1M110 214.5h1m1 0h1m0 0h1m0 0h1m60 0h1m0 0h1m9 0h1m2 0h1m0 0h1M111 215.5h1m0 0h1m1 0h1m0 0h1m0 0h1m3 0h1m4 0h1m45 0h1m11 0h1m0 0h1m1 0h1m1 0h1M114 216.5h1m0 0h1m0 0h1m2 0h1m0 0h1m0 0h1m4 0h1m4 0h1m35 0h1m1 0h1m8 0h1m2 0h1m0 0h1m1 0h1m0 0h1M117 217.5h1m1 0h1m4 0h1m0 0h1m1 0h1m1 0h1m4 0h1m4 0h1m13 0h1m0 0h1m4 0h1m2 0h1m1 0h1m2 0h1m7 0h1m0 0h1m0 0h1m0 0h1m1 0h1m1 0h1m0 0h1m0 0h1m0 0h1M115 218.5h1m0 0h1m0 0h1m0 0h1m0 0h1m0 0h1m0 0h1m0 0h1m1 0h1m1 0h1m4 0h1m0 0h1m6 0h1m1 0h1m1 0h1m3 0h1m1 0h1m14 0h1m1 0h1m3 0h1m0 0h1m0 0h1m0 0h1m0 0h1m0 0h1m1 0h1m1 0h1m0 0h1m0 0h1m0 0h1M118 219.5h1m0 0h1m3 0h1m0 0h1m1 0h1m1 0h1m2 0h1m3 0h1m1 0h1m3 0h1m4 0h1m8 0h1m1 0h1m3 0h1m3 0h1m0 0h1m0 0h1m1 0h1m0 0h1m0 0h1m0 0h1m0 0h1m1 0h1m1 0h1m0 0h1m1 0h1m0 0h1M118 220.5h1m0 0h1m0 0h1m0 0h1m0 0h1m0 0h1m0 0h1m0 0h1m0 0h1m0 0h1m0 0h1m0 0h1m1 0h1m1 0h1m0 0h1m0 0h1m0 0h1m0 0h1m0 0h1m0 0h1m1 0h1m3 0h1m0 0h1m0 0h1m0 0h1m1 0h1m0 0h1m3 0h1m1 0h1m0 0h1m0 0h1m0 0h1m0 0h1m0 0h1m0 0h1m1 0h1m0 0h1m0 0h1m0 0h1m0 0h1m0 0h1m0 0h1m0 0h1m1 0h1m0 0h1m0 0h1m0 0h1m0 0h1M120 221.5h1m0 0h1m1 0h1m1 0h1m0 0h1m0 0h1m0 0h1m1 0h1m0 0h1m0 0h1m0 0h1m0 0h1m0 0h1m0 0h1m0 0h1m0 0h1m0 0h1m0 0h1m1 0h1m2 0h1m1 0h1m1 0h1m0 0h1m0 0h1m2 0h1m0 0h1m0 0h1m1 0h1m1 0h1m0 0h1m0 0h1m0 0h1m0 0h1m0 0h1m1 0h1m2 0h1m1 0h1m0 0h1m0 0h1m0 0h1M124 222.5h1m0 0h1m0 0h1m0 0h1m0 0h1m0 0h1m0 0h1m0 0h1m1 0h1m0 0h1m0 0h1m0 0h1m0 0h1m0 0h1m2 0h1m0 0h1m0 0h1m0 0h1m0 0h1m1 0h1m0 0h1m0 0h1m2 0h1m1 0h1m0 0h1m1 0h1m0 0h1m0 0h1m0 0h1m1 0h1m4 0h1m0 0h1m0 0h1M130 223.5h1m0 0h1m0 0h1m2 0h1m0 0h1m0 0h1m0 0h1m0 0h1m0 0h1m1 0h1m0 0h1m1 0h1m1 0h1m0 0h1m0 0h1m0 0h1m0 0h1m0 0h1m1 0h1m0 0h1m2 0h1m0 0h1m2 0h1M142 224.5h1m1 0h1m0 0h1" stroke="#0010ff"/><path d="M105 194.5h1m0 0h1m0 0h1m1 0h1m3 0h1M107 195.5h1m1 0h1m0 0h1m2 0h1m0 0h1M106 196.5h1m3 0h1m0 0h1M106 197.5h1m1 0h1m2 0h1m0 0h1M109 198.5h1m3 0h1M106 199.5h1m0 0h1m2 0h1m0 0h1m0 0h1M107 200.5h1m1 0h1m0 0h1m0 0h1M111 201.5h1m3 0h1M111 202.5h1m1 0h1m0 0h1M111 203.5h1M109 204.5h1m5 0h1m7 0h1m54 0h1M109 205.5h1m0 0h1m0 0h1m0 0h1m0 0h1m2 0h1m6 0h1M109 206.5h1m0 0h1m4 0h1m0 0h1m0 0h1m3 0h1m60 0h1m1 0h1m0 0h1m3 0h1m1 0h1M110 207.5h1m1 0h1m0 0h1m0 0h1m1 0h1m42 0h1m0 0h1m5 0h1m0 0h1m0 0h1m11 0h1m0 0h1m6 0h1m0 0h1M111 208.5h1m0 0h1m1 0h1m2 0h1m2 0h1m5 0h1m11 0h1m6 0h1m3 0h1m16 0h1m6 0h1m6 0h1m1 0h1m11 0h1M111 209.5h1m0 0h1m2 0h1m3 0h1m0 0h1m0 0h1m21 0h1m3 0h1m5 0h1m5 0h1m15 0h1m4 0h1m0 0h1m1 0h1M113 210.5h1m0 0h1m2 0h1m2 0h1m0 0h1m0 0h1m19 0h1m7 0h1m16 0h1m1 0h1m3 0h1m4 0h1m0 0h1m0 0h1m1 0h1m0 0h1M113 211.5h1m1 0h1m1 0h1m3 0h1m3 0h1m0 0h1m5 0h1m2 0h1m7 0h1m0 0h1m0 0h1m1 0h1m7 0h1m13 0h1m4 0h1m4 0h1m2 0h1M114 212.5h1m0 0h1m1 0h1m0 0h1m2 0h1m2 0h1m3 0h1m0 0h1m3 0h1m26 0h1m3 0h1m0 0h1m0 0h1m0 0h1m0 0h1m0 0h1m1 0h1m0 0h1m2 0h1m3 0h1m1 0h1m5 0h1M117 213.5h1m2 0h1m3 0h1m0 0h1m1 0h1m1 0h1m0 0h1m1 0h1m1 0h1m0 0h1m0 0h1m2 0h1m0 0h1m0 0h1m1 0h1m0 0h1m1 0h1m1 0h1m0 0h1m1 0h1m1 0h1m0 0h1m0 0h1m0 0h1m1 0h1m1 0h1m0 0h1m3 0h1m3 0h1m0 0h1m1 0h1m0 0h1m3 0h1m0 0h1m0 0h1m0 0h1m2 0h1M117 214.5h1m1 0h1m0 0h1m1 0h1m2 0h1m0 0h1m0 0h1m0 0h1m0 0h1m0 0h1m2 0h1m7 0h1m0 0h1m0 0h1m1 0h1m2 0h1m1 0h1m0 0h1m0 0h1m0 0h1m0 0h1m0 0h1m0 0h1m0 0h1m0 0h1m1 0h1m1 0h1m5 0h1m1 0h1m2 0h1m0 0h1m3 0h1m0 0h1m0 0h1m4 0h1M119 215.5h1m1 0h1m2 0h1m5 0h1m2 0h1m0 0h1m0 0h1m0 0h1m0 0h1m1 0h1m0 0h1m0 0h1m1 0h1m1 0h1m1 0h1m0 0h1m2 0h1m3 0h1m2 0h1m0 0h1m1 0h1m0 0h1m0 0h1m0 0h1m1 0h1m0 0h1m0 0h1m0 0h1m3 0h1m0 0h1m0 0h1m0 0h1m4 0h1M122 216.5h1m1 0h1m2 0h1m1 0h1m3 0h1m2 0h1m0 0h1m1 0h1m0 0h1m1 0h1m0 0h1m3 0h1m0 0h1m2 0h1m1 0h1m0 0h1m6 0h1m1 0h1m1 0h1m0 0h1m1 0h1m1 0h1m0 0h1m0 0h1m0 0h1m0 0h1m0 0h1m0 0h1M122 217.5h1m8 0h1m0 0h1m0 0h1m2 0h1m1 0h1m5 0h1m0 0h1m2 0h1m2 0h1m0 0h1m16 0h1m0 0h1m0 0h1m0 0h1m1 0h1M125 218.5h1m1 0h1m0 0h1m1 0h1m3 0h1m0 0h1m0 0h1m1 0h1m5 0h1m0 0h1m4 0h1m0 0h1m2 0h1m5 0h1m0 0h1m0 0h1m2 0h1m3 0h1M130 219.5h1m1 0h1m0 0h1m0 0h1m1 0h1m1 0h1m0 0h1m2 0h1m0 0h1m3 0h1m0 0h1m1 0h1m0 0h1m0 0h1m1 0h1m1 0h1m1 0h1m3 0h1M142 220.5h1m0 0h1m0 0h1" stroke="#40ff00"/><path d="M108 194.5h1m1 0h1m0 0h1m0 0h1m1 0h1M111 195.5h1m0 0h1m7 0h1m2 0h1M116 196.5h1m0 0h1m4 0h1M110 197.5h1m4 0h1m0 0h1m5 0h1M110 198.5h1m1 0h1m6 0h1m4 0h1M113 199.5h1m4 0h1M113 200.5h1m1 0h1m0 0h1m46 0h1M110 201.5h1m1 0h1m0 0h1m3 0h1m1 0h1m1 0h1m25 0h1m1 0h1m0 0h1m2 0h1M116 202.5h1m3 0h1m0 0h1m3 0h1m13 0h1m15 0h1m3 0h1m8 0h1m0 0h1m2 0h1m7 0h1M112 203.5h1m32 0h1m14 0h1m5 0h1m13 0h1m1 0h1M122 204.5h1m1 0h1m4 0h1m1 0h1m7 0h1m1 0h1m2 0h1m14 0h1m11 0h1m7 0h1m0 0h1m1 0h1M115 205.5h1m3 0h1m0 0h1m3 0h1m0 0h1m10 0h1m4 0h1m27 0h1m4 0h1m0 0h1m5 0h1m0 0h1m0 0h1M113 206.5h1m14 0h1m34 0h1m6 0h1m0 0h1m0 0h1M118 207.5h1m1 0h1m1 0h1m1 0h1m2 0h1m0 0h1m0 0h1m1 0h1m1 0h1m0 0h1m4 0h1m1 0h1m15 0h1m0 0h1m2 0h1m0 0h1m2 0h1m6 0h1m1 0h1m3 0h1m4 0h1m0 0h1m2 0h1M122 208.5h1m5 0h1m0 0h1m4 0h1m5 0h1m2 0h1m2 0h1m0 0h1m5 0h1m1 0h1m5 0h1m6 0h1m0 0h1m5 0h1m0 0h1m0 0h1m0 0h1m0 0h1m4 0h1M117 209.5h1m6 0h1m0 0h1m1 0h1m16 0h1m0 0h1m0 0h1m2 0h1m0 0h1m1 0h1m1 0h1m2 0h1m2 0h1m1 0h1m2 0h1m0 0h1m4 0h1m0 0h1m0 0h1m0 0h1m1 0h1m0 0h1m0 0h1m0 0h1M123 210.5h1m5 0h1m0 0h1m0 0h1m0 0h1m4 0h1m0 0h1m2 0h1m2 0h1m1 0h1m2 0h1m2 0h1m0 0h1m1 0h1m1 0h1m0 0h1m2 0h1m1 0h1m2 0h1m3 0h1m6 0h1m3 0h1M124 211.5h1m8 0h1m0 0h1m3 0h1m9 0h1m0 0h1m3 0h1m4 0h1m0 0h1m0 0h1m1 0h1m0 0h1m2 0h1m3 0h1m0 0h1m1 0h1m2 0h1m0 0h1m0 0h1m1 0h1m0 0h1M127 212.5h1m2 0h1m1 0h1m8 0h1m1 0h1m2 0h1m1 0h1m2 0h1m0 0h1m0 0h1m0 0h1m1 0h1m0 0h1m0 0h1m0 0h1m10 0h1m3 0h1m1 0h1M122 213.5h1m0 0h1m7 0h1m1 0h1m8 0h1m2 0h1m6 0h1m4 0h1m5 0h1m0 0h1m1 0h1m0 0h1m0 0h1m2 0h1m2 0h1m0 0h1m9 0h1M123 214.5h1m0 0h1m14 0h1m0 0h1m8 0h1m9 0h1m4 0h1m0 0h1m1 0h1m3 0h1m0 0h1M131 215.5h1m6 0h1m3 0h1m1 0h1m1 0h1m2 0h1m0 0h1m1 0h1m1 0h1m1 0h1m3 0h1m4 0h1M134 216.5h1m0 0h1m2 0h1m5 0h1m0 0h1m0 0h1m2 0h1m2 0h1m2 0h1m1 0h1m0 0h1m0 0h1" stroke="#ffff00"/><path d="M115 194.5h1m0 0h1m0 0h1m6 0h1m2 0h1m5 0h1m11 0h1M116 195.5h1m0 0h1m7 0h1m19 0h1M113 196.5h1m7 0h1m1 0h1m0 0h1M114 197.5h1m2 0h1m0 0h1m2 0h1m3 0h1m6 0h1m2 0h1m0 0h1m1 0h1m7 0h1M118 198.5h1m14 0h1m8 0h1m1 0h1m0 0h1M114 199.5h1m0 0h1m7 0h1m0 0h1m1 0h1m3 0h1M117 200.5h1m1 0h1m1 0h1m0 0h1m1 0h1m0 0h1m1 0h1m0 0h1m2 0h1m0 0h1m4 0h1m1 0h1m8 0h1m1 0h1m4 0h1m1 0h1m0 0h1m6 0h1M116 201.5h1m1 0h1m4 0h1m6 0h1m5 0h1m0 0h1m2 0h1m2 0h1m0 0h1m0 0h1m6 0h1m2 0h1m1 0h1m0 0h1m12 0h1m1 0h1m0 0h1M115 202.5h1m1 0h1m1 0h1m2 0h1m5 0h1m5 0h1m0 0h1m6 0h1m4 0h1m0 0h1m8 0h1m3 0h1m2 0h1m9 0h1m2 0h1m0 0h1m2 0h1M115 203.5h1m0 0h1m0 0h1m0 0h1m1 0h1m0 0h1m2 0h1m3 0h1m4 0h1m5 0h1m2 0h1m4 0h1m6 0h1m1 0h1m0 0h1m20 0h1m0 0h1M117 204.5h1m0 0h1m0 0h1m5 0h1m2 0h1m8 0h1m2 0h1m4 0h1m0 0h1m5 0h1m0 0h1m1 0h1m1 0h1m2 0h1m0 0h1m1 0h1m1 0h1m0 0h1m3 0h1m5 0h1m0 0h1m3 0h1m4 0h1M117 205.5h1m0 0h1m2 0h1m5 0h1m10 0h1m1 0h1m1 0h1m2 0h1m0 0h1m2 0h1m0 0h1m8 0h1m1 0h1m0 0h1m0 0h1m1 0h1m4 0h1m2 0h1m2 0h1m0 0h1m1 0h1m0 0h1m4 0h1M118 206.5h1m0 0h1m0 0h1m2 0h1m0 0h1m2 0h1m1 0h1m0 0h1m2 0h1m2 0h1m0 0h1m3 0h1m6 0h1m4 0h1m7 0h1m0 0h1m1 0h1m0 0h1m1 0h1m6 0h1m0 0h1m0 0h1m0 0h1m0 0h1m0 0h1m0 0h1m0 0h1M123 207.5h1m1 0h1m0 0h1m8 0h1m1 0h1m4 0h1m2 0h1m5 0h1m1 0h1m0 0h1m0 0h1m0 0h1m6 0h1m5 0h1m1 0h1m1 0h1m1 0h1m0 0h1m0 0h1M121 208.5h1m1 0h1m3 0h1m3 0h1m0 0h1m0 0h1m2 0h1m0 0h1m1 0h1m8 0h1m3 0h1m1 0h1m2 0h1m0 0h1m1 0h1m1 0h1m0 0h1m0 0h1m0 0h1m1 0h1m2 0h1m0 0h1m0 0h1m13 0h1M122 209.5h1m0 0h1m4 0h1m0 0h1m0 0h1m0 0h1m1 0h1m0 0h1m0 0h1m2 0h1m0 0h1m0 0h1m0 0h1m0 0h1m8 0h1m3 0h1m0 0h1m1 0h1m2 0h1M125 210.5h1m0 0h1m6 0h1m1 0h1m0 0h1m2 0h1m3 0h1m1 0h1m1 0h1m0 0h1m2 0h1m2 0h1m1 0h1m2 0h1m0 0h1m1 0h1m2 0h1m5 0h1M127 211.5h1m1 0h1m7 0h1m1 0h1m1 0h1m0 0h1m8 0h1m0 0h1m1 0h1m1 0h1m7 0h1m0 0h1m18 0h1M134 212.5h1m1 0h1m1 0h1m1 0h1m4 0h1m1 0h1m1 0h1m0 0h1m4 0h1" stroke="#ffb000"/><path d="M119 194.5h1m3 0h1m1 0h1m0 0h1m1 0h1m0 0h1m4 0h1m6 0h1m0 0h1M118 195.5h1m0 0h1m2 0h1m8 0h1m3 0h1m2 0h1m2 0h1m5 0h1M118 196.5h1m6 0h1m9 0h1m0 0h1m0 0h1m8 0h1M134 197.5h1m4 0h1m2 0h1m0 0h1m5 0h1M123 198.5h1m2 0h1m2 0h1m0 0h1m8 0h1m11 0h1M119 199.5h1m0 0h1m4 0h1m2 0h1m4 0h1m2 0h1m16 0h1M120 200.5h1m2 0h1m6 0h1m5 0h1m7 0h1m0 0h1m8 0h1m5 0h1M125 201.5h1m0 0h1m2 0h1m2 0h1m0 0h1m0 0h1m0 0h1m2 0h1m2 0h1m4 0h1m1 0h1m2 0h1m2 0h1m5 0h1m2 0h1m0 0h1m2 0h1m7 0h1M130 202.5h1m1 0h1m5 0h1m2 0h1m2 0h1m7 0h1m1 0h1m3 0h1m4 0h1m3 0h1m3 0h1m1 0h1m5 0h1M136 203.5h1m1 0h1m1 0h1m0 0h1m4 0h1m1 0h1m2 0h1m0 0h1m5 0h1m3 0h1m2 0h1m1 0h1m1 0h1M130 204.5h1m1 0h1m3 0h1m1 0h1m4 0h1m4 0h1m2 0h1m16 0h1m0 0h1m2 0h1m1 0h1M129 205.5h1m0 0h1m12 0h1m0 0h1m8 0h1m0 0h1m0 0h1m0 0h1m0 0h1m0 0h1m5 0h1m2 0h1M132 206.5h1m1 0h1m0 0h1m2 0h1m4 0h1m3 0h1m3 0h1m8 0h1M140 207.5h1m2 0h1m3 0h1m4 0h1M185 208.5h1M191 209.5h1" stroke="#ff7000"/><path d="M143 194.5h1M127 195.5h1m4 0h1m6 0h1m3 0h1M130 196.5h1m8 0h1M131 197.5h1M128 198.5h1m5 0h1m2 0h1m0 0h1m7 0h1M131 199.5h1m2 0h1M134 200.5h1m17 0h1" stroke="#ff3000"/><path d="M108 196.5h1m3 0h1M105 197.5h1M105 198.5h1M108 199.5h1m0 0h1M105 201.5h1M112 202.5h1M104 204.5h1m6 0h1m1 0h1M114 205.5h1M111 206.5h1m0 0h1m1 0h1M109 207.5h1m5 0h1M115 208.5h1m0 0h1m2 0h1m69 0h1M108 209.5h1m4 0h1m0 0h1m3 0h1m66 0h1m2 0h1M107 210.5h1m8 0h1m58 0h1M118 211.5h1m3 0h1m49 0h1m2 0h1m9 0h1m0 0h1M108 212.5h1m10 0h1m2 0h1m3 0h1m4 0h1M115 213.5h1m0 0h1m1 0h1m9 0h1m9 0h1m42 0h1M116 214.5h1m14 0h1m3 0h1m2 0h1m5 0h1m1 0h1m0 0h1m18 0h1m10 0h1m3 0h1m0 0h1m1 0h1M113 215.5h1m4 0h1m3 0h1m3 0h1m2 0h1m23 0h1m3 0h1m12 0h1m6 0h1m0 0h1M113 216.5h1m3 0h1m5 0h1m6 0h1m1 0h1m8 0h1m8 0h1m9 0h1m16 0h1m8 0h1m1 0h1M121 217.5h1m1 0h1m6 0h1m4 0h1m1 0h1m3 0h1m0 0h1m0 0h1m2 0h1m0 0h1m2 0h1m6 0h1m7 0h1m0 0h1m1 0h1m4 0h1M129 218.5h1m3 0h1m3 0h1m4 0h1m3 0h1m8 0h1m0 0h1m0 0h1m0 0h1m4 0h1m3 0h1m8 0h1m1 0h1m5 0h1M129 219.5h1m10 0h1m3 0h1m0 0h1m7 0h1m5 0h1m0 0h1m13 0h1M130 220.5h1m9 0h1m11 0h1m1 0h1m1 0h1M122 221.5h1m1 0h1m4 0h1m11 0h1m4 0h1m5 0h1m0 0h1m17 0h1M146 222.5h1m14 0h1m3 0h1M129 223.5h1m4 0h1M143 224.5h1" stroke="#00a060"/><path d="M103 201.5h1m2 0h1M104 203.5h1M106 204.5h1m0 0h1M108 207.5h1M108 208.5h1M109 209.5h1M193 210.5h1M110 211.5h1m1 0h1M111 212.5h1M111 213.5h1m78 0h1m3 0h1M111 214.5h1M117 215.5h1m64 0h1M179 216.5h1m7 0h1M114 217.5h1m3 0h1m60 0h1M123 218.5h1m61 0h1M117 219.5h1m2 0h1m0 0h1m0 0h1m2 0h1m1 0h1m35 0h1m0 0h1m11 0h1m2 0h1M132 220.5h1m16 0h1m23 0h1M143 221.5h1m0 0h1m3 0h1m8 0h1m10 0h1m0 0h1M139 222.5h1m10 0h1m0 0h1m4 0h1m7 0h1m5 0h1M141 223.5h1m2 0h1m1 0h1m6 0h1m6 0h1m0 0h1M141 224.5h1" stroke="#4a00ff"/></g></g><use href="#circ"/><path d="M83.3 90.4h8.0l-4.0 6.9zM112.4 82.0h8.0l-4.0 6.9zM111.1 128.7h8.0l-4.0 6.9zM185.8 124.3h8.0l-4.0 6.9zM89.2 167.0h8.0l-4.0 6.9zM202.7 59.3h8.0l-4.0 6.9zM85.4 123.7h8.0l-4.0 6.9z" fill="#000"/><circle cx="225.0" cy="33.0" r="4.6" fill="#fff"/><circle cx="225.0" cy="33.0" r="3.3" fill="#000"/><circle cx="14.5" cy="14.1" r="3.4" fill="#000"/><text x="22.3" y="16.9" class="lg">Rx</text><path d="M10.5 22.6h8l-4 7z" fill="#000"/><text x="22.3" y="28.9" class="lg" textLength="38.3" lengthAdjust="spacingAndGlyphs">Ionosonde</text><path d="M14.6 36.4l0.60 1.20 1.20 0.60-1.20 0.60-0.60 1.20-0.60-1.20-1.20-0.60 1.20-0.60z" fill="#f22"/><text x="22.3" y="41" class="lg" style="fill:#f3200f;stroke:#f3200f" textLength="40.9" lengthAdjust="spacingAndGlyphs">Effective Tx</text></g><path d="M45.5 289.8v2.0M45.5 509.6v-2.0M49.6 289.8v2.0M49.6 509.6v-2.0M53.7 289.8v4.4M53.7 509.6v-4.4M57.8 289.8v2.0M57.8 509.6v-2.0M61.9 289.8v2.0M61.9 509.6v-2.0M66.0 289.8v2.0M66.0 509.6v-2.0M70.1 289.8v2.0M70.1 509.6v-2.0M74.2 289.8v2.0M74.2 509.6v-2.0M78.3 289.8v2.0M78.3 509.6v-2.0M82.3 289.8v2.0M82.3 509.6v-2.0M86.4 289.8v2.0M86.4 509.6v-2.0M90.5 289.8v2.0M90.5 509.6v-2.0M94.6 289.8v4.4M94.6 509.6v-4.4M98.7 289.8v2.0M98.7 509.6v-2.0M102.8 289.8v2.0M102.8 509.6v-2.0M106.9 289.8v2.0M106.9 509.6v-2.0M111.0 289.8v2.0M111.0 509.6v-2.0M115.1 289.8v2.0M115.1 509.6v-2.0M119.2 289.8v2.0M119.2 509.6v-2.0M123.2 289.8v2.0M123.2 509.6v-2.0M127.3 289.8v2.0M127.3 509.6v-2.0M131.4 289.8v2.0M131.4 509.6v-2.0M135.5 289.8v4.4M135.5 509.6v-4.4M139.6 289.8v2.0M139.6 509.6v-2.0M143.7 289.8v2.0M143.7 509.6v-2.0M147.8 289.8v2.0M147.8 509.6v-2.0M151.9 289.8v2.0M151.9 509.6v-2.0M156.0 289.8v2.0M156.0 509.6v-2.0M160.0 289.8v2.0M160.0 509.6v-2.0M164.1 289.8v2.0M164.1 509.6v-2.0M168.2 289.8v2.0M168.2 509.6v-2.0M172.3 289.8v2.0M172.3 509.6v-2.0M176.4 289.8v4.4M176.4 509.6v-4.4M180.5 289.8v2.0M180.5 509.6v-2.0M184.6 289.8v2.0M184.6 509.6v-2.0M188.7 289.8v2.0M188.7 509.6v-2.0M192.8 289.8v2.0M192.8 509.6v-2.0M196.8 289.8v2.0M196.8 509.6v-2.0M200.9 289.8v2.0M200.9 509.6v-2.0M205.0 289.8v2.0M205.0 509.6v-2.0M209.1 289.8v2.0M209.1 509.6v-2.0M213.2 289.8v2.0M213.2 509.6v-2.0M217.3 289.8v4.4M217.3 509.6v-4.4M221.4 289.8v2.0M221.4 509.6v-2.0M225.5 289.8v2.0M225.5 509.6v-2.0M229.6 289.8v2.0M229.6 509.6v-2.0M233.6 289.8v2.0M233.6 509.6v-2.0M237.7 289.8v2.0M237.7 509.6v-2.0M241.8 289.8v2.0M241.8 509.6v-2.0M245.9 289.8v2.0M245.9 509.6v-2.0M250.0 289.8v2.0M250.0 509.6v-2.0M254.1 289.8v2.0M254.1 509.6v-2.0M258.2 289.8v4.4M258.2 509.6v-4.4M262.3 289.8v2.0M262.3 509.6v-2.0M266.4 289.8v2.0M266.4 509.6v-2.0M270.5 289.8v2.0M270.5 509.6v-2.0M274.5 289.8v2.0M274.5 509.6v-2.0M278.6 289.8v2.0M278.6 509.6v-2.0M282.7 289.8v2.0M282.7 509.6v-2.0M286.8 289.8v2.0M286.8 509.6v-2.0M290.9 289.8v2.0M290.9 509.6v-2.0M295.0 289.8v2.0M295.0 509.6v-2.0M299.1 289.8v4.4M299.1 509.6v-4.4M303.2 289.8v2.0M303.2 509.6v-2.0M307.3 289.8v2.0M307.3 509.6v-2.0M43.5 507.9h2.3M309.3 507.9h-2.3M43.5 503.9h2.3M309.3 503.9h-2.3M43.5 499.9h5.0M309.3 499.9h-5.0M43.5 495.9h2.3M309.3 495.9h-2.3M43.5 491.9h2.3M309.3 491.9h-2.3M43.5 487.9h2.3M309.3 487.9h-2.3M43.5 483.9h2.3M309.3 483.9h-2.3M43.5 479.9h2.3M309.3 479.9h-2.3M43.5 475.9h2.3M309.3 475.9h-2.3M43.5 471.9h2.3M309.3 471.9h-2.3M43.5 467.9h2.3M309.3 467.9h-2.3M43.5 463.9h2.3M309.3 463.9h-2.3M43.5 459.9h5.0M309.3 459.9h-5.0M43.5 455.9h2.3M309.3 455.9h-2.3M43.5 452.0h2.3M309.3 452.0h-2.3M43.5 448.0h2.3M309.3 448.0h-2.3M43.5 444.0h2.3M309.3 444.0h-2.3M43.5 440.0h2.3M309.3 440.0h-2.3M43.5 436.0h2.3M309.3 436.0h-2.3M43.5 432.0h2.3M309.3 432.0h-2.3M43.5 428.0h2.3M309.3 428.0h-2.3M43.5 424.0h2.3M309.3 424.0h-2.3M43.5 420.0h5.0M309.3 420.0h-5.0M43.5 416.0h2.3M309.3 416.0h-2.3M43.5 412.0h2.3M309.3 412.0h-2.3M43.5 408.0h2.3M309.3 408.0h-2.3M43.5 404.0h2.3M309.3 404.0h-2.3M43.5 400.0h2.3M309.3 400.0h-2.3M43.5 396.0h2.3M309.3 396.0h-2.3M43.5 392.0h2.3M309.3 392.0h-2.3M43.5 388.0h2.3M309.3 388.0h-2.3M43.5 384.0h2.3M309.3 384.0h-2.3M43.5 380.0h5.0M309.3 380.0h-5.0M43.5 376.0h2.3M309.3 376.0h-2.3M43.5 372.0h2.3M309.3 372.0h-2.3M43.5 368.0h2.3M309.3 368.0h-2.3M43.5 364.0h2.3M309.3 364.0h-2.3M43.5 360.0h2.3M309.3 360.0h-2.3M43.5 356.0h2.3M309.3 356.0h-2.3M43.5 352.0h2.3M309.3 352.0h-2.3M43.5 348.0h2.3M309.3 348.0h-2.3M43.5 344.1h2.3M309.3 344.1h-2.3M43.5 340.1h5.0M309.3 340.1h-5.0M43.5 336.1h2.3M309.3 336.1h-2.3M43.5 332.1h2.3M309.3 332.1h-2.3M43.5 328.1h2.3M309.3 328.1h-2.3M43.5 324.1h2.3M309.3 324.1h-2.3M43.5 320.1h2.3M309.3 320.1h-2.3M43.5 316.1h2.3M309.3 316.1h-2.3M43.5 312.1h2.3M309.3 312.1h-2.3M43.5 308.1h2.3M309.3 308.1h-2.3M43.5 304.1h2.3M309.3 304.1h-2.3M43.5 300.1h5.0M309.3 300.1h-5.0M43.5 296.1h2.3M309.3 296.1h-2.3M43.5 292.1h2.3M309.3 292.1h-2.3" stroke="#6a6a6a" stroke-width="1.1" fill="none"/><rect x="43.5" y="289.8" width="265.8" height="219.8" fill="none" stroke="#555" stroke-width="1.15"/><text x="53.7" y="530.5" class="tl" text-anchor="middle">80</text><text x="94.6" y="530.5" class="tl" text-anchor="middle">90</text><text x="135.5" y="530.5" class="tl" text-anchor="middle">100</text><text x="176.4" y="530.5" class="tl" text-anchor="middle">110</text><text x="217.3" y="530.5" class="tl" text-anchor="middle">120</text><text x="258.2" y="530.5" class="tl" text-anchor="middle">130</text><text x="299.1" y="530.5" class="tl" text-anchor="middle">140</text><text x="38.2" y="505.6" class="tl" text-anchor="end">-10</text><text x="38.2" y="465.6" class="tl" text-anchor="end">0</text><text x="38.2" y="425.7" class="tl" text-anchor="end">10</text><text x="38.2" y="385.7" class="tl" text-anchor="end">20</text><text x="38.2" y="345.8" class="tl" text-anchor="end">30</text><text x="38.2" y="305.8" class="tl" text-anchor="end">40</text><text x="10.6" y="399.7" class="ax" text-anchor="middle" transform="rotate(-90 10.6 399.7)" textLength="40.8" lengthAdjust="spacingAndGlyphs">Latitude</text><text x="59.8" y="489.8" class="pl">c</text><text x="508.3" y="286.1" class="tt" text-anchor="middle" textLength="135.5" lengthAdjust="spacingAndGlyphs">Rx: ONA (26.50N, 127.85E)</text><g transform="translate(375.4,289.8)"><use href="#coast"/><use href="#txs" fill="#7d7d7d"/><use href="#txs" fill="#ff2a10" clip-path="url(#rd)"/><g transform="translate(-375.4,-289.8)" fill="none" stroke-linecap="round" opacity="0.7"><path d="M624.3 383.9L620.4 390.7M621.7 378.1L619.1 382.4M624.1 369.8L621.5 374.1M615.3 373.3L611.8 378.9M615.8 366.8L611.6 373.4M605.4 364.1L602.4 368.4M597.2 376.1L594.7 379.7M610.7 350.7L607.8 354.8M594.5 374.0L590.8 379.3M611.5 345.8L607.9 350.8M599.2 357.5L594.7 363.7M588.4 362.7L585.0 367.2M580.5 364.2L576.5 369.5" stroke="#40ff00" stroke-width="1.1"/><path d="M620.6 385.1L618.0 389.5M618.5 383.5L614.8 389.7M627.5 364.2L624.3 369.5M626.5 359.2L622.4 365.7M607.4 379.9L605.2 383.4M609.4 370.8L606.3 375.6M618.4 348.1L615.8 352.1M615.3 352.7L612.5 356.8M602.1 368.9L597.9 375.0M594.2 380.4L591.4 384.5M596.6 366.8L594.1 370.4M590.7 375.1L588.0 378.9M594.1 360.7L589.9 366.3M581.1 378.4L578.3 382.1M584.1 368.4L580.9 372.7" stroke="#ffff00" stroke-width="1.1"/><path d="M615.5 383.9L613.2 387.7M617.9 373.0L613.7 379.7M593.7 370.8L591.1 374.5M601.7 354.1L599.9 356.6M584.3 378.1L582.1 381.2M596.7 351.6L594.7 354.2M591.5 358.5L589.2 361.6" stroke="#ffb000" stroke-width="1.1"/><path d="M611.2 383.8L607.1 390.3M590.8 385.4L588.6 388.6M604.1 360.2L599.7 366.5M599.3 367.1L594.8 373.5M606.1 348.0L602.5 353.0M589.3 367.1L587.0 370.3" stroke="#0010ff" stroke-width="1.1"/><path d="M611.6 379.2L607.7 385.4M607.0 386.5L604.3 390.9M620.2 360.0L616.3 366.0M606.0 376.0L602.7 381.2M614.9 359.4L611.7 364.2M611.0 365.3L609.2 368.0M599.5 382.7L596.4 387.3M601.8 372.7L598.6 377.4M592.0 367.5L588.8 371.9M581.4 382.2L577.2 387.9M588.2 359.0L586.2 361.6M585.4 362.7L583.5 365.1M583.1 365.7L581.2 368.1" stroke="#ff7000" stroke-width="1.1"/></g><g filter="url(#bl)"><g transform="translate(-375.4,-289.8) scale(1.5)" stroke-width="1" fill="none"><path d="M338 194.5h1m1 0h1m21 0h1M335 195.5h1m35 0h1M321 196.5h1m20 0h1m23 0h1M348 197.5h1m73 0h1M327 198.5h1m23 0h1m7 0h1m10 0h1m10 0h1m6 0h1m4 0h1M352 202.5h1m59 0h1M372 203.5h1m1 0h1m20 0h1M384 204.5h1M326 205.5h1m42 0h1M387 207.5h1M344 209.5h1m3 0h1m36 0h1M312 210.5h1m3 0h1m2 0h1m0 0h1m2 0h1M319 211.5h1m7 0h1m1 0h1m18 0h1m26 0h1m6 0h1m17 0h1m7 0h1m15 0h1M311 212.5h1m2 0h1m3 0h1m0 0h1m0 0h1m1 0h1m1 0h1m0 0h1m0 0h1m77 0h1M313 213.5h1m6 0h1m2 0h1m0 0h1m0 0h1m2 0h1m3 0h1m1 0h1m66 0h1M320 214.5h1m3 0h1m3 0h1m0 0h1m2 0h1m2 0h1m8 0h1m20 0h1M329 215.5h1m1 0h1m3 0h1m0 0h1m0 0h1m0 0h1m6 0h1m28 0h1M310 216.5h1m22 0h1m0 0h1m1 0h1m0 0h1m2 0h1m0 0h1m1 0h1M338 217.5h1m2 0h1m0 0h1m2 0h1m0 0h1m0 0h1m0 0h1m38 0h1m11 0h1M341 218.5h1m0 0h1m1 0h1m0 0h1m0 0h1m2 0h1m54 0h1m20 0h1M308 219.5h1m40 0h1m8 0h1m0 0h1m34 0h1M309 220.5h1m7 0h1m31 0h1m4 0h1m2 0h1m64 0h1M307 221.5h1m40 0h1m1 0h1m5 0h1m1 0h1M348 222.5h1m1 0h1m0 0h1m11 0h1M320 223.5h1m27 0h1m0 0h1m0 0h1m0 0h1m2 0h1m6 0h1m15 0h1m7 0h1m14 0h1m1 0h1m11 0h1M319 224.5h1m6 0h1m2 0h1m20 0h1m2 0h1m1 0h1m0 0h1m7 0h1m0 0h1m2 0h1m1 0h1m2 0h1m6 0h1m7 0h1m0 0h1m19 0h1M329 225.5h1m18 0h1m0 0h1m0 0h1m2 0h1m0 0h1m1 0h1m0 0h1m1 0h1m3 0h1m0 0h1m0 0h1m0 0h1m0 0h1m1 0h1m0 0h1m7 0h1m9 0h1m4 0h1m0 0h1m14 0h1M310 226.5h1m6 0h1m16 0h1m18 0h1m1 0h1m0 0h1m1 0h1m0 0h1m0 0h1m1 0h1m0 0h1m0 0h1m4 0h1m1 0h1m0 0h1m1 0h1m0 0h1m0 0h1m0 0h1m0 0h1m3 0h1m2 0h1m0 0h1m1 0h1m0 0h1m1 0h1m3 0h1m2 0h1m0 0h1m0 0h1m1 0h1M313 227.5h1m21 0h1m0 0h1m0 0h1m27 0h1m1 0h1m3 0h1m1 0h1m1 0h1m0 0h1m3 0h1m0 0h1m1 0h1m4 0h1m0 0h1m0 0h1m0 0h1m4 0h1m2 0h1m0 0h1M326 228.5h1m3 0h1m2 0h1m0 0h1m5 0h1m4 0h1m22 0h1m2 0h1m6 0h1m2 0h1m5 0h1m2 0h1m0 0h1m2 0h1m26 0h1M313 229.5h1m4 0h1m4 0h1m10 0h1m0 0h1m0 0h1m1 0h1m3 0h1m0 0h1m2 0h1m63 0h1M329 230.5h1m10 0h1m2 0h1m0 0h1M329 231.5h1m14 0h1m0 0h1m0 0h1m0 0h1M313 232.5h1m10 0h1m1 0h1m92 0h1M413 233.5h1M325 234.5h1M333 236.5h1m1 0h1m61 0h1m18 0h1m1 0h1M317 237.5h1m22 0h1m5 0h1m48 0h1m11 0h1M351 238.5h1m0 0h1m1 0h1m2 0h1m20 0h1m1 0h1m0 0h1m5 0h1m1 0h1M329 239.5h1m13 0h1m0 0h1m2 0h1m16 0h1m9 0h1m0 0h1m2 0h1m2 0h1m0 0h1M340 240.5h1m6 0h1m13 0h1m0 0h1m14 0h1M333 241.5h1m1 0h1m8 0h1m10 0h1m0 0h1m0 0h1m13 0h1m4 0h1m17 0h1m16 0h1M319 242.5h1m16 0h1m23 0h1m2 0h1m0 0h1m10 0h1m19 0h1M340 243.5h1m5 0h1m9 0h1m9 0h1m2 0h1m6 0h1m0 0h1m9 0h1M326 244.5h1m3 0h1m9 0h1m16 0h1m4 0h1m2 0h1m0 0h1m13 0h1m2 0h1m0 0h1m0 0h1m4 0h1m2 0h1M331 245.5h1m9 0h1m5 0h1m6 0h1m1 0h1m3 0h1m27 0h1M343 246.5h1m6 0h1m0 0h1m0 0h1m1 0h1m1 0h1m1 0h1m9 0h1m1 0h1m0 0h1m44 0h1M323 247.5h1m2 0h1m14 0h1m2 0h1m0 0h1m10 0h1m0 0h1m2 0h1m2 0h1m0 0h1m12 0h1m6 0h1m1 0h1M325 248.5h1m3 0h1m6 0h1m6 0h1m2 0h1m2 0h1m4 0h1m5 0h1m11 0h1m10 0h1m4 0h1M335 249.5h1m24 0h1m1 0h1m2 0h1m4 0h1m15 0h1m1 0h1M342 250.5h1m23 0h1m3 0h1m3 0h1m2 0h1m0 0h1m5 0h1m11 0h1M330 251.5h1m0 0h1m7 0h1m11 0h1m5 0h1m3 0h1m2 0h1m4 0h1m1 0h1m13 0h1m19 0h1M329 252.5h1m1 0h1m0 0h1m10 0h1m5 0h1m2 0h1m1 0h1m3 0h1m8 0h1m1 0h1m2 0h1m6 0h1m0 0h1m4 0h1m13 0h1M331 253.5h1m8 0h1m0 0h1m5 0h1m0 0h1m2 0h1m3 0h1m16 0h1m9 0h1m3 0h1M333 254.5h1m0 0h1m11 0h1m3 0h1m4 0h1m8 0h1m2 0h1m9 0h1m0 0h1m1 0h1m1 0h1m1 0h1m3 0h1M334 255.5h1m1 0h1m0 0h1m3 0h1m0 0h1m12 0h1m5 0h1m3 0h1m7 0h1m5 0h1m0 0h1m4 0h1m0 0h1M344 256.5h1m38 0h1m5 0h1M342 257.5h1m46 0h1m12 0h1M338 258.5h1m13 0h1m19 0h1m15 0h1m3 0h1m9 0h1m8 0h1m1 0h1m0 0h1m0 0h1m1 0h1m0 0h1m7 0h1M345 259.5h1m19 0h1m10 0h1m6 0h1M354 260.5h1m0 0h1m8 0h1m8 0h1m21 0h1m3 0h1m1 0h1m6 0h1m0 0h1m4 0h1m2 0h1m1 0h1m0 0h1M367 261.5h1m18 0h1M363 262.5h1m0 0h1m3 0h1m15 0h1m31 0h1m0 0h1M372 263.5h1m20 0h1m21 0h1m1 0h1M376 264.5h1m2 0h1m2 0h1m4 0h1m3 0h1M400 265.5h1m20 0h1M368 266.5h1m21 0h1m6 0h1m7 0h1m3 0h1M367 267.5h1M378 268.5h1m4 0h1m14 0h1m4 0h1m8 0h1M418 269.5h1M360 270.5h1m2 0h1m1 0h1m11 0h1m13 0h1m4 0h1m8 0h1m5 0h1M424 271.5h1M369 272.5h1m10 0h1m7 0h1m11 0h1m6 0h1m6 0h1m7 0h1" stroke="#ffb000"/><path d="M336 195.5h1M373 197.5h1M364 199.5h1m60 0h1M336 203.5h1M370 205.5h1M350 206.5h1M385 207.5h1M345 209.5h1m1 0h1m59 0h1M305 211.5h1m4 0h1m45 0h1M308 212.5h1m73 0h1m15 0h1M305 214.5h1m3 0h1m0 0h1m0 0h1m5 0h1m4 0h1m103 0h1M310 215.5h1m2 0h1m0 0h1m0 0h1m0 0h1m0 0h1m1 0h1m6 0h1m0 0h1M315 216.5h1m0 0h1m0 0h1m0 0h1m0 0h1m0 0h1m8 0h1m0 0h1m1 0h1M312 217.5h1m3 0h1m1 0h1m0 0h1m0 0h1m0 0h1m1 0h1m3 0h1m84 0h1M319 218.5h1m0 0h1m0 0h1m3 0h1m0 0h1m1 0h1m3 0h1m1 0h1M309 219.5h1m4 0h1m0 0h1m7 0h1m1 0h1m0 0h1m0 0h1m1 0h1m4 0h1m5 0h1m0 0h1m1 0h1m71 0h1M314 220.5h1m12 0h1m0 0h1m0 0h1m0 0h1m0 0h1m2 0h1m1 0h1m10 0h1m62 0h1m13 0h1M311 221.5h1m2 0h1m0 0h1m0 0h1m1 0h1m9 0h1m0 0h1m1 0h1m2 0h1m0 0h1m1 0h1m2 0h1m0 0h1m0 0h1m0 0h1m3 0h1m72 0h1M311 222.5h1m21 0h1m1 0h1m0 0h1m1 0h1m3 0h1m76 0h1M313 223.5h1m13 0h1m0 0h1m6 0h1m1 0h1m2 0h1m0 0h1m1 0h1m0 0h1m0 0h1m0 0h1m0 0h1m67 0h1M312 224.5h1m0 0h1m0 0h1m7 0h1m2 0h1m15 0h1m0 0h1m1 0h1m0 0h1m0 0h1m0 0h1m65 0h1M309 225.5h1m2 0h1m0 0h1m1 0h1m2 0h1m0 0h1m2 0h1m0 0h1m6 0h1m0 0h1M326 226.5h1m2 0h1M314 227.5h1m1 0h1m6 0h1m3 0h1m0 0h1m20 0h1m3 0h1m47 0h1M314 228.5h1m5 0h1m0 0h1m26 0h1m3 0h1m0 0h1m6 0h1m8 0h1m18 0h1m13 0h1m0 0h1m0 0h1m0 0h1M317 229.5h1m7 0h1m3 0h1m3 0h1m15 0h1m0 0h1m4 0h1m0 0h1m0 0h1m4 0h1m3 0h1m9 0h1m4 0h1m3 0h1m9 0h1m4 0h1m1 0h1M315 230.5h1m1 0h1m2 0h1m1 0h1m1 0h1m27 0h1m2 0h1m10 0h1m0 0h1m1 0h1m4 0h1m6 0h1m4 0h1m6 0h1m0 0h1m2 0h1m0 0h1M316 231.5h1m24 0h1m0 0h1m6 0h1m1 0h1m3 0h1m0 0h1m4 0h1m0 0h1m2 0h1m2 0h1m0 0h1m4 0h1m4 0h1m4 0h1m0 0h1m2 0h1m1 0h1m0 0h1m1 0h1m0 0h1m0 0h1M319 232.5h1m0 0h1m0 0h1m1 0h1m5 0h1m3 0h1m0 0h1m0 0h1m0 0h1m1 0h1m0 0h1m0 0h1m0 0h1m3 0h1m2 0h1m1 0h1m0 0h1m0 0h1m0 0h1m0 0h1m5 0h1m1 0h1m0 0h1m3 0h1m0 0h1m2 0h1m0 0h1m2 0h1m0 0h1m0 0h1m0 0h1m1 0h1m0 0h1m2 0h1m0 0h1m0 0h1m1 0h1m1 0h1m1 0h1m0 0h1M321 233.5h1m0 0h1m2 0h1m1 0h1m12 0h1m0 0h1m0 0h1m1 0h1m2 0h1m2 0h1m0 0h1m1 0h1m1 0h1m0 0h1m1 0h1m1 0h1m0 0h1m3 0h1m0 0h1m0 0h1m2 0h1m0 0h1m0 0h1m0 0h1m1 0h1m1 0h1m2 0h1m1 0h1m0 0h1m0 0h1m1 0h1m1 0h1M311 234.5h1m20 0h1m9 0h1m0 0h1m2 0h1m0 0h1m2 0h1m1 0h1m2 0h1m2 0h1m2 0h1m0 0h1m1 0h1m0 0h1m0 0h1m0 0h1m2 0h1m1 0h1m0 0h1m0 0h1m0 0h1m0 0h1m0 0h1m2 0h1m0 0h1m0 0h1m0 0h1m0 0h1M322 235.5h1m1 0h1m2 0h1m3 0h1m0 0h1m17 0h1m0 0h1m0 0h1m1 0h1m0 0h1m0 0h1m1 0h1m2 0h1m1 0h1m0 0h1m0 0h1m0 0h1m0 0h1m0 0h1m0 0h1m0 0h1m0 0h1m1 0h1m1 0h1m0 0h1m0 0h1m3 0h1M314 236.5h1m14 0h1m9 0h1m1 0h1m17 0h1m1 0h1m1 0h1m2 0h1m1 0h1m2 0h1m14 0h1M318 237.5h1m8 0h1m1 0h1m4 0h1m0 0h1m7 0h1m43 0h1M313 238.5h1m4 0h1m7 0h1m4 0h1m1 0h1m10 0h1m5 0h1m19 0h1m15 0h1m13 0h1M317 239.5h1m1 0h1m0 0h1m3 0h1m0 0h1m6 0h1m0 0h1m2 0h1m0 0h1m8 0h1m3 0h1m3 0h1m16 0h1m7 0h1m21 0h1M316 240.5h1m3 0h1m0 0h1m0 0h1m6 0h1m2 0h1m1 0h1m1 0h1m4 0h1m0 0h1m2 0h1m8 0h1m8 0h1m23 0h1m22 0h1M321 241.5h1m2 0h1m2 0h1m2 0h1m5 0h1m0 0h1m0 0h1m2 0h1m1 0h1m1 0h1m7 0h1m5 0h1m35 0h1M324 242.5h1m4 0h1m3 0h1m9 0h1m2 0h1m2 0h1m21 0h1m7 0h1m3 0h1m3 0h1M323 243.5h1m6 0h1m5 0h1m0 0h1m4 0h1m0 0h1m4 0h1m1 0h1m0 0h1m0 0h1m0 0h1m5 0h1m8 0h1m4 0h1m5 0h1m4 0h1m15 0h1M321 244.5h1m2 0h1m4 0h1m6 0h1m8 0h1m4 0h1m10 0h1m5 0h1m7 0h1m11 0h1M330 245.5h1m4 0h1m8 0h1m1 0h1m1 0h1m2 0h1m5 0h1m6 0h1m5 0h1m6 0h1m1 0h1m3 0h1m1 0h1m19 0h1M326 246.5h1m1 0h1m3 0h1m3 0h1m2 0h1m2 0h1m6 0h1m9 0h1m4 0h1m19 0h1m26 0h1M322 247.5h1m9 0h1m15 0h1m1 0h1m0 0h1m9 0h1m4 0h1m0 0h1m6 0h1m1 0h1m26 0h1m2 0h1M339 248.5h1m5 0h1m2 0h1m14 0h1m1 0h1m2 0h1m4 0h1m4 0h1m7 0h1m12 0h1M327 249.5h1m4 0h1m1 0h1m6 0h1m4 0h1m10 0h1m1 0h1m14 0h1m3 0h1m4 0h1m3 0h1M328 250.5h1m8 0h1m0 0h1m1 0h1m2 0h1m6 0h1m0 0h1m5 0h1m21 0h1m1 0h1m12 0h1m3 0h1M327 251.5h1m0 0h1m3 0h1m3 0h1m9 0h1m3 0h1m5 0h1m8 0h1m8 0h1m3 0h1m1 0h1m10 0h1m4 0h1M337 252.5h1m25 0h1m6 0h1m4 0h1m8 0h1m1 0h1m1 0h1m0 0h1M337 253.5h1m1 0h1m4 0h1m4 0h1m15 0h1m7 0h1m1 0h1m2 0h1m4 0h1m4 0h1M340 254.5h1m0 0h1m11 0h1m2 0h1m2 0h1m2 0h1m7 0h1m18 0h1M338 255.5h1m12 0h1m11 0h1M336 256.5h1m6 0h1m4 0h1m15 0h1m0 0h1M360 257.5h1m6 0h1m1 0h1m3 0h1m0 0h1m2 0h1m0 0h1m26 0h1M337 258.5h1m6 0h1m6 0h1m7 0h1m1 0h1m17 0h1m11 0h1m1 0h1m1 0h1m23 0h1M343 259.5h1m4 0h1m5 0h1m4 0h1m6 0h1m4 0h1m12 0h1m0 0h1M347 260.5h1m5 0h1m4 0h1m3 0h1m4 0h1m1 0h1m1 0h1m5 0h1m12 0h1m5 0h1m21 0h1m5 0h1M350 261.5h1m0 0h1m3 0h1m20 0h1m28 0h1m3 0h1m13 0h1M362 262.5h1m10 0h1m2 0h1m17 0h1m0 0h1m3 0h1M403 263.5h1M363 264.5h1m6 0h1m0 0h1m3 0h1m5 0h1m23 0h1m8 0h1m6 0h1m4 0h1M382 265.5h1M391 266.5h1m18 0h1m9 0h1M397 268.5h1m2 0h1m10 0h1m3 0h1M420 269.5h1M361 270.5h1m2 0h1m8 0h1m2 0h1m16 0h1m4 0h1m5 0h1m5 0h1m13 0h1m0 0h1M364 271.5h1m50 0h1M362 272.5h1m2 0h1m1 0h1m0 0h1m5 0h1m6 0h1m5 0h1m13 0h1m2 0h1m10 0h1m0 0h1M366 273.5h1" stroke="#40ff00"/><path d="M340 195.5h1m3 0h1M378 196.5h1M331 197.5h1M320 198.5h1M356 199.5h1M363 200.5h1M319 201.5h1m43 0h1m7 0h1m7 0h1M325 202.5h1m3 0h1m39 0h1m3 0h1m6 0h1m10 0h1m8 0h1M343 203.5h1m4 0h1m30 0h1m6 0h1M379 204.5h1M351 205.5h1m14 0h1m37 0h1M320 207.5h1m5 0h1m2 0h1M315 208.5h1m1 0h1m0 0h1m0 0h1m3 0h1m0 0h1m1 0h1M320 209.5h1m0 0h1m7 0h1m1 0h1m5 0h1m51 0h1M336 210.5h1m0 0h1m78 0h1M334 211.5h1m1 0h1m78 0h1M338 212.5h1m1 0h1m0 0h1m0 0h1m4 0h1m46 0h1M348 213.5h1M352 214.5h1m0 0h1m0 0h1m47 0h1M357 215.5h1m57 0h1M355 216.5h1m0 0h1m3 0h1m0 0h1m46 0h1m14 0h1M350 217.5h1m0 0h1m4 0h1m2 0h1m0 0h1m1 0h1m1 0h1m4 0h1M356 218.5h1m1 0h1m5 0h1m0 0h1m2 0h1m0 0h1m0 0h1m4 0h1m19 0h1m15 0h1M356 219.5h1m0 0h1m3 0h1m11 0h1m2 0h1m0 0h1m0 0h1M362 220.5h1m0 0h1m0 0h1m1 0h1m2 0h1m2 0h1m0 0h1m4 0h1M370 221.5h1m2 0h1m9 0h1m0 0h1M308 222.5h1M311 223.5h1m3 0h1m76 0h1m3 0h1M307 224.5h1m7 0h1m8 0h1m69 0h1m2 0h1m1 0h1m0 0h1m6 0h1m12 0h1M324 225.5h1m3 0h1m4 0h1m0 0h1m64 0h1m5 0h1M325 226.5h1m11 0h1m2 0h1M338 227.5h1m1 0h1m4 0h1m0 0h1M343 228.5h1m2 0h1m0 0h1M332 231.5h1M310 232.5h1m92 0h1M324 234.5h1M319 235.5h1M387 236.5h1m2 0h1m2 0h1M333 237.5h1m48 0h1m2 0h1M319 238.5h1m14 0h1m4 0h1m63 0h1M330 239.5h1m25 0h1m16 0h1m2 0h1m19 0h1M348 240.5h1m16 0h1m5 0h1m0 0h1m10 0h1M325 241.5h1m28 0h1m18 0h1m1 0h1m8 0h1m2 0h1m8 0h1M334 242.5h1m4 0h1m10 0h1m5 0h1m13 0h1m5 0h1m11 0h1m11 0h1M329 243.5h1m3 0h1m1 0h1m9 0h1m28 0h1M322 244.5h1m16 0h1m4 0h1m13 0h1m1 0h1m3 0h1m23 0h1M349 245.5h1m32 0h1M322 246.5h1m46 0h1M325 247.5h1m63 0h1m3 0h1M344 248.5h1m19 0h1m16 0h1m7 0h1m0 0h1m2 0h1M344 249.5h1m8 0h1m1 0h1m15 0h1m4 0h1m12 0h1M353 250.5h1m17 0h1m4 0h1M342 251.5h1m5 0h1m10 0h1m10 0h1m12 0h1M340 252.5h1m9 0h1m22 0h1m3 0h1m16 0h1M345 253.5h1m15 0h1m12 0h1m5 0h1m4 0h1M332 254.5h1m6 0h1m25 0h1m9 0h1m7 0h1m13 0h1M333 255.5h1m43 0h1m3 0h1M353 256.5h1m0 0h1m21 0h1m9 0h1M345 257.5h1m25 0h1m11 0h1m1 0h1M347 258.5h1m15 0h1m1 0h1m4 0h1m5 0h1m7 0h1m5 0h1m33 0h1M351 259.5h1m4 0h1M342 260.5h1m17 0h1m0 0h1M345 261.5h1m3 0h1M360 262.5h1m16 0h1m5 0h1m17 0h1M368 263.5h1m37 0h1M366 264.5h1m5 0h1m5 0h1m4 0h1m2 0h1m14 0h1m5 0h1m3 0h1M360 266.5h1m3 0h1m2 0h1m9 0h1m1 0h1m18 0h1m8 0h1m9 0h1m6 0h1M369 267.5h1m28 0h1M387 268.5h1m19 0h1m12 0h1m3 0h1M381 269.5h1M409 270.5h1M361 272.5h1m4 0h1m32 0h1M368 274.5h1" stroke="#ff3000"/><path d="M367 195.5h1M337 196.5h1m25 0h1M379 197.5h1M390 198.5h1M412 199.5h1M327 201.5h1m76 0h1M405 202.5h1M332 205.5h1m9 0h1m15 0h1m35 0h1m3 0h1m11 0h1M338 206.5h1M319 207.5h1m2 0h1m49 0h1M316 208.5h1m48 0h1m36 0h1M316 209.5h1m7 0h1m3 0h1m5 0h1m52 0h1m6 0h1M310 210.5h1m0 0h1m3 0h1m1 0h1m4 0h1m1 0h1m1 0h1m3 0h1m3 0h1m4 0h1m65 0h1m6 0h1m0 0h1M316 211.5h1m0 0h1m0 0h1m4 0h1m1 0h1m0 0h1m1 0h1m4 0h1m6 0h1M327 212.5h1m0 0h1m2 0h1m0 0h1m0 0h1m0 0h1m1 0h1M330 213.5h1m2 0h1m1 0h1m0 0h1m0 0h1m1 0h1m1 0h1m4 0h1m0 0h1m2 0h1M343 214.5h1m1 0h1m0 0h1m61 0h1M339 215.5h1m0 0h1m5 0h1m1 0h1m3 0h1m1 0h1m10 0h1m3 0h1m16 0h1m16 0h1M347 216.5h1m4 0h1m5 0h1m13 0h1m11 0h1m25 0h1m1 0h1M349 217.5h1m8 0h1m7 0h1m15 0h1m22 0h1m18 0h1M312 218.5h1m40 0h1m7 0h1m4 0h1m4 0h1m1 0h1m52 0h1M311 219.5h1m40 0h1m1 0h1m9 0h1m1 0h1m3 0h1m3 0h1m8 0h1m5 0h1M313 220.5h1m4 0h1m34 0h1m2 0h1m1 0h1m0 0h1m0 0h1m0 0h1m6 0h1m1 0h1m5 0h1m0 0h1m5 0h1m12 0h1m20 0h1m2 0h1M321 221.5h1m30 0h1m0 0h1m0 0h1m2 0h1m1 0h1m0 0h1m0 0h1m1 0h1m0 0h1m0 0h1m2 0h1m5 0h1m2 0h1m1 0h1m1 0h1m37 0h1M313 222.5h1m5 0h1m33 0h1m1 0h1m0 0h1m4 0h1m3 0h1m3 0h1m0 0h1m0 0h1m0 0h1m0 0h1m0 0h1m1 0h1m1 0h1m11 0h1m5 0h1M317 223.5h1m7 0h1m29 0h1m2 0h1m1 0h1m1 0h1m2 0h1m2 0h1m0 0h1m1 0h1m0 0h1m0 0h1m1 0h1m2 0h1m0 0h1m1 0h1m0 0h1m28 0h1M309 224.5h1m1 0h1m18 0h1m32 0h1m5 0h1m4 0h1m2 0h1m0 0h1m2 0h1m1 0h1m0 0h1m0 0h1m5 0h1m1 0h1m2 0h1M308 225.5h1m8 0h1m7 0h1m1 0h1m7 0h1m38 0h1m5 0h1m2 0h1m1 0h1m3 0h1m1 0h1m4 0h1m3 0h1m1 0h1m0 0h1m0 0h1M311 226.5h1m0 0h1m1 0h1m12 0h1m5 0h1m1 0h1m0 0h1m1 0h1m0 0h1m47 0h1m4 0h1m3 0h1m4 0h1M311 227.5h1m6 0h1m3 0h1m1 0h1m1 0h1m3 0h1m2 0h1m0 0h1m4 0h1m1 0h1m1 0h1m0 0h1m2 0h1M324 228.5h1m10 0h1m0 0h1m0 0h1m0 0h1m3 0h1m1 0h1M320 229.5h1m0 0h1m4 0h1m3 0h1m0 0h1m12 0h1m0 0h1m1 0h1m63 0h1M312 230.5h1m10 0h1m7 0h1m15 0h1m60 0h1m1 0h1M315 231.5h1m1 0h1m5 0h1m2 0h1m4 0h1M322 232.5h1m4 0h1m3 0h1M318 233.5h1m4 0h1m2 0h1m3 0h1M318 234.5h1m1 0h1m86 0h1M323 235.5h1M317 236.5h1m6 0h1m0 0h1m0 0h1m1 0h1m1 0h1m1 0h1m4 0h1M316 237.5h1m11 0h1m7 0h1m2 0h1m1 0h1m0 0h1m36 0h1m1 0h1m1 0h1m5 0h1m19 0h1m15 0h1M324 238.5h1m7 0h1m4 0h1m10 0h1m19 0h1m0 0h1m2 0h1m0 0h1m1 0h1m0 0h1m2 0h1m3 0h1m0 0h1m0 0h1m2 0h1m5 0h1M334 239.5h1m0 0h1m2 0h1m1 0h1m1 0h1m2 0h1m5 0h1m0 0h1m4 0h1m1 0h1m0 0h1m0 0h1m0 0h1m0 0h1m16 0h1m3 0h1m0 0h1m0 0h1m1 0h1m2 0h1M315 240.5h1m10 0h1m4 0h1m1 0h1m1 0h1m1 0h1m13 0h1m1 0h1m4 0h1m1 0h1m3 0h1m1 0h1m0 0h1m0 0h1m1 0h1m2 0h1m0 0h1m7 0h1m3 0h1m2 0h1M339 241.5h1m0 0h1m1 0h1m6 0h1m10 0h1m0 0h1m0 0h1m0 0h1m1 0h1m0 0h1m2 0h1m4 0h1m4 0h1m0 0h1m0 0h1m4 0h1m1 0h1m19 0h1M322 242.5h1m0 0h1m6 0h1m1 0h1m2 0h1m2 0h1m2 0h1m5 0h1m0 0h1m2 0h1m2 0h1m3 0h1m6 0h1m1 0h1m1 0h1m3 0h1m0 0h1m2 0h1m4 0h1m2 0h1M328 243.5h1m9 0h1m0 0h1m20 0h1m1 0h1m1 0h1m2 0h1m3 0h1m6 0h1m6 0h1m3 0h1M333 244.5h1m4 0h1m4 0h1m2 0h1m0 0h1m3 0h1m1 0h1m0 0h1m13 0h1m0 0h1m1 0h1m0 0h1m4 0h1m0 0h1m0 0h1m2 0h1m3 0h1M319 245.5h1m7 0h1m0 0h1m3 0h1m3 0h1m0 0h1m0 0h1m0 0h1m2 0h1m0 0h1m1 0h1m6 0h1m9 0h1m0 0h1m2 0h1m2 0h1m2 0h1m0 0h1m2 0h1m3 0h1m3 0h1m1 0h1m0 0h1m6 0h1M327 246.5h1m9 0h1m2 0h1m0 0h1m4 0h1m1 0h1m6 0h1m6 0h1m3 0h1m0 0h1m4 0h1m0 0h1m0 0h1m1 0h1m0 0h1m0 0h1m2 0h1m0 0h1m3 0h1m23 0h1M335 247.5h1m0 0h1m1 0h1m0 0h1m3 0h1m2 0h1m5 0h1m0 0h1m1 0h1m2 0h1m0 0h1m2 0h1m2 0h1m2 0h1m2 0h1m6 0h1m6 0h1M323 248.5h1m6 0h1m2 0h1m0 0h1m2 0h1m0 0h1m2 0h1m10 0h1m3 0h1m0 0h1m0 0h1m0 0h1m6 0h1m3 0h1m4 0h1m1 0h1m1 0h1m0 0h1m3 0h1M330 249.5h1m5 0h1m5 0h1m2 0h1m3 0h1m0 0h1m3 0h1m1 0h1m6 0h1m5 0h1m7 0h1m2 0h1m1 0h1m1 0h1m0 0h1m16 0h1M330 250.5h1m1 0h1m1 0h1m0 0h1m0 0h1m2 0h1m5 0h1m1 0h1m0 0h1m0 0h1m4 0h1m0 0h1m0 0h1m5 0h1m1 0h1m3 0h1m0 0h1m10 0h1m2 0h1m2 0h1m1 0h1m3 0h1M329 251.5h1m3 0h1m1 0h1m1 0h1m9 0h1m1 0h1m2 0h1m0 0h1m1 0h1m2 0h1m8 0h1m11 0h1m2 0h1m1 0h1m3 0h1M335 252.5h1m0 0h1m7 0h1m0 0h1m0 0h1m1 0h1m6 0h1m0 0h1m0 0h1m7 0h1m0 0h1m4 0h1m9 0h1m0 0h1m0 0h1m14 0h1M333 253.5h1m0 0h1m1 0h1m1 0h1m19 0h1m3 0h1m3 0h1m0 0h1m1 0h1m0 0h1m0 0h1m7 0h1m1 0h1m2 0h1M335 254.5h1m0 0h1m0 0h1m6 0h1m15 0h1m24 0h1m1 0h1m3 0h1m3 0h1M335 255.5h1m4 0h1m3 0h1m1 0h1m6 0h1m0 0h1m1 0h1m1 0h1m1 0h1m9 0h1m11 0h1m0 0h1M334 256.5h1m10 0h1m3 0h1m2 0h1m4 0h1m2 0h1m0 0h1m5 0h1m1 0h1m2 0h1m12 0h1m2 0h1M336 257.5h1m0 0h1m0 0h1m1 0h1m2 0h1m0 0h1m3 0h1m2 0h1m0 0h1m0 0h1m2 0h1m1 0h1m3 0h1m2 0h1m2 0h1m6 0h1m15 0h1M340 258.5h1m12 0h1m10 0h1m8 0h1m0 0h1m3 0h1m1 0h1m2 0h1m13 0h1m1 0h1m0 0h1m3 0h1m1 0h1m0 0h1m1 0h1m15 0h1M340 259.5h1m8 0h1m5 0h1m1 0h1m3 0h1m5 0h1m1 0h1m4 0h1m3 0h1m2 0h1m0 0h1m6 0h1m23 0h1M343 260.5h1m1 0h1m0 0h1m4 0h1m5 0h1m5 0h1m1 0h1m2 0h1m3 0h1m2 0h1m0 0h1m14 0h1m0 0h1m19 0h1m0 0h1M344 261.5h1m1 0h1m0 0h1m4 0h1m5 0h1m3 0h1m0 0h1M367 262.5h1m2 0h1m8 0h1m1 0h1m3 0h1m0 0h1m9 0h1m1 0h1m3 0h1m2 0h1m0 0h1m0 0h1m0 0h1m2 0h1m0 0h1m0 0h1M360 263.5h1m30 0h1M364 264.5h1m8 0h1m3 0h1m6 0h1m5 0h1m1 0h1m2 0h1m4 0h1m5 0h1m3 0h1m4 0h1M363 265.5h1m1 0h1M366 266.5h1m2 0h1m3 0h1m4 0h1m2 0h1m3 0h1m7 0h1m1 0h1m17 0h1m8 0h1m0 0h1M377 267.5h1m24 0h1m11 0h1m4 0h1M360 268.5h1m2 0h1m4 0h1m4 0h1m0 0h1m6 0h1m6 0h1m0 0h1m3 0h1m0 0h1m0 0h1m3 0h1m4 0h1m4 0h1m0 0h1m2 0h1m2 0h1M374 269.5h1m8 0h1m30 0h1M370 270.5h1m1 0h1m1 0h1m6 0h1m2 0h1m1 0h1m0 0h1m0 0h1m6 0h1m5 0h1m0 0h1m5 0h1m10 0h1m0 0h1m0 0h1m1 0h1M366 271.5h1m10 0h1m0 0h1m16 0h1M371 272.5h1m0 0h1m6 0h1m13 0h1m2 0h1m1 0h1m3 0h1m2 0h1m3 0h1m0 0h1m6 0h1m3 0h1m1 0h1M367 273.5h1m3 0h1M361 274.5h1m3 0h1" stroke="#ff7000"/><path d="M419 198.5h1M321 200.5h1m18 0h1m10 0h1M351 201.5h1M386 202.5h1m23 0h1M356 203.5h1m30 0h1M326 204.5h1m17 0h1M418 205.5h1M362 206.5h1m24 0h1m14 0h1M347 207.5h1m47 0h1M404 208.5h1M369 209.5h1M396 210.5h1M352 211.5h1m10 0h1m30 0h1M315 212.5h1m0 0h1m0 0h1m3 0h1m93 0h1M305 213.5h1m6 0h1m2 0h1m0 0h1m2 0h1m2 0h1m40 0h1m18 0h1m19 0h1m8 0h1M314 214.5h1m0 0h1m5 0h1m3 0h1m0 0h1m4 0h1m88 0h1M320 215.5h1m0 0h1m1 0h1M321 216.5h1m0 0h1m0 0h1m1 0h1m1 0h1m0 0h1m13 0h1m44 0h1M325 217.5h1m0 0h1m1 0h1m0 0h1m0 0h1m2 0h1m0 0h1m0 0h1m0 0h1m0 0h1m83 0h1M329 218.5h1m0 0h1m2 0h1m1 0h1m0 0h1m0 0h1m0 0h1m0 0h1m0 0h1m6 0h1m73 0h1M335 219.5h1m0 0h1m0 0h1m0 0h1m0 0h1m4 0h1m1 0h1M306 220.5h1m4 0h1m0 0h1m25 0h1m0 0h1m2 0h1m1 0h1m0 0h1M344 221.5h1m0 0h1m0 0h1M317 222.5h1m3 0h1M310 223.5h1m10 0h1m2 0h1m1 0h1m86 0h1M321 224.5h1m27 0h1m7 0h1m3 0h1m4 0h1M320 225.5h1m30 0h1m8 0h1m0 0h1m11 0h1m36 0h1m0 0h1M320 226.5h1m7 0h1m19 0h1m0 0h1m1 0h1m0 0h1m4 0h1m9 0h1m2 0h1m12 0h1m0 0h1m22 0h1m0 0h1M319 227.5h1m12 0h1m15 0h1m1 0h1m1 0h1m4 0h1m0 0h1m1 0h1m1 0h1m0 0h1m0 0h1m9 0h1m10 0h1m16 0h1m0 0h1m2 0h1M317 228.5h1m13 0h1m17 0h1m0 0h1m0 0h1m2 0h1m1 0h1m0 0h1m0 0h1m0 0h1m1 0h1m1 0h1m0 0h1m0 0h1m0 0h1m0 0h1m2 0h1m2 0h1m1 0h1m0 0h1m3 0h1m1 0h1m1 0h1m0 0h1m0 0h1m8 0h1m0 0h1m0 0h1m0 0h1m1 0h1m0 0h1M327 229.5h1m9 0h1m1 0h1m0 0h1m0 0h1m6 0h1m2 0h1m0 0h1m0 0h1m0 0h1m4 0h1m0 0h1m0 0h1m3 0h1m1 0h1m0 0h1m1 0h1m0 0h1m0 0h1m0 0h1m0 0h1m0 0h1m1 0h1m0 0h1m0 0h1m2 0h1m0 0h1m2 0h1m2 0h1m0 0h1m1 0h1m0 0h1m0 0h1m1 0h1m1 0h1m0 0h1M314 230.5h1m10 0h1m7 0h1m0 0h1m0 0h1m0 0h1m0 0h1m0 0h1m0 0h1m1 0h1m0 0h1m2 0h1m0 0h1m1 0h1m1 0h1m2 0h1m0 0h1m1 0h1m0 0h1m0 0h1m0 0h1m2 0h1m0 0h1m0 0h1m0 0h1m2 0h1m4 0h1m1 0h1m0 0h1m0 0h1m1 0h1m0 0h1m1 0h1m0 0h1m0 0h1m2 0h1m0 0h1m0 0h1m0 0h1m0 0h1m0 0h1M330 231.5h1m5 0h1m1 0h1m1 0h1m2 0h1m13 0h1m0 0h1m0 0h1m0 0h1m2 0h1m0 0h1m1 0h1m3 0h1m0 0h1m0 0h1m0 0h1m1 0h1m0 0h1m0 0h1m0 0h1m2 0h1m0 0h1m4 0h1M342 232.5h1m1 0h1m1 0h1m0 0h1m25 0h1M311 233.5h1m2 0h1m9 0h1m6 0h1m14 0h1M322 234.5h1m7 0h1M326 235.5h1m1 0h1m1 0h1M318 236.5h1m8 0h1m8 0h1m62 0h1M319 237.5h1m3 0h1m1 0h1m0 0h1m4 0h1m12 0h1m35 0h1m5 0h1m1 0h1m9 0h1M327 238.5h1m2 0h1m7 0h1m1 0h1m2 0h1m3 0h1m5 0h1m2 0h1m14 0h1m5 0h1m4 0h1M323 239.5h1m4 0h1m10 0h1m15 0h1m10 0h1m2 0h1m0 0h1m1 0h1m4 0h1M338 240.5h1m0 0h1m4 0h1m4 0h1m6 0h1m21 0h1m2 0h1m2 0h1m11 0h1m9 0h1M328 241.5h1m0 0h1m17 0h1m3 0h1m0 0h1m5 0h1m8 0h1m2 0h1m6 0h1m0 0h1m3 0h1m0 0h1m1 0h1m3 0h1M317 242.5h1m22 0h1m1 0h1m16 0h1m8 0h1m11 0h1m5 0h1m2 0h1m23 0h1M331 243.5h1m12 0h1m16 0h1m3 0h1m4 0h1m10 0h1m4 0h1M334 244.5h1m0 0h1m5 0h1m0 0h1m5 0h1m21 0h1m10 0h1M326 245.5h1m7 0h1m18 0h1m11 0h1m1 0h1m7 0h1m5 0h1m7 0h1m1 0h1m22 0h1M323 246.5h1m9 0h1m11 0h1m14 0h1m2 0h1m1 0h1m14 0h1m6 0h1M342 247.5h1m6 0h1m4 0h1m14 0h1m3 0h1m1 0h1m3 0h1m1 0h1m0 0h1m12 0h1M331 248.5h1m0 0h1m2 0h1m4 0h1m9 0h1m0 0h1m10 0h1m6 0h1m1 0h1m4 0h1M337 249.5h1m1 0h1m0 0h1m7 0h1m2 0h1m9 0h1m2 0h1m2 0h1m0 0h1m3 0h1m0 0h1m1 0h1m5 0h1M333 250.5h1m7 0h1m10 0h1m5 0h1m1 0h1m4 0h1m1 0h1m4 0h1m0 0h1m1 0h1M341 251.5h1m2 0h1m9 0h1m7 0h1m3 0h1m1 0h1m6 0h1m0 0h1m0 0h1m3 0h1m4 0h1m0 0h1m1 0h1M333 252.5h1m0 0h1m3 0h1m14 0h1m8 0h1m1 0h1m9 0h1m1 0h1m1 0h1M343 253.5h1m6 0h1m1 0h1m0 0h1m3 0h1m18 0h1m14 0h1M338 254.5h1m3 0h1m4 0h1m4 0h1m5 0h1m14 0h1m2 0h1m4 0h1M348 255.5h1m15 0h1m1 0h1m0 0h1m19 0h1m0 0h1M335 256.5h1m2 0h1m8 0h1m22 0h1m7 0h1m2 0h1M357 257.5h1m14 0h1m7 0h1m3 0h1m12 0h1m0 0h1m20 0h1M350 258.5h1m7 0h1m1 0h1m6 0h1m7 0h1m5 0h1m0 0h1m11 0h1m17 0h1m8 0h1m0 0h1M372 259.5h1m2 0h1m3 0h1m25 0h1M366 260.5h1m3 0h1m8 0h1m1 0h1m2 0h1m4 0h1m4 0h1m3 0h1m11 0h1m14 0h1m0 0h1M361 262.5h1m16 0h1m12 0h1m28 0h1m0 0h1m2 0h1M398 263.5h1M360 264.5h1m7 0h1m5 0h1m14 0h1m4 0h1m7 0h1m1 0h1m7 0h1m4 0h1m1 0h1m5 0h1M363 266.5h1m1 0h1m5 0h1m3 0h1m4 0h1m25 0h1m4 0h1m6 0h1m2 0h1M366 267.5h1m59 0h1M362 268.5h1m7 0h1m37 0h1m16 0h1m0 0h1M368 269.5h1m33 0h1M362 270.5h1m26 0h1m9 0h1m17 0h1m8 0h1M372 271.5h1m11 0h1m12 0h1M363 272.5h1m0 0h1m8 0h1m2 0h1m0 0h1m11 0h1m0 0h1m20 0h1m1 0h1M362 274.5h1m4 0h1m1 0h1" stroke="#ffff00"/><path d="M307 210.5h1m0 0h1M309 211.5h1M305 212.5h1m0 0h1m0 0h1m1 0h1M306 213.5h1m0 0h1m1 0h1m0 0h1M308 214.5h1m4 0h1M305 215.5h1m1 0h1m0 0h1m2 0h1M306 216.5h1m5 0h1m0 0h1m0 0h1M306 217.5h1m0 0h1m0 0h1m2 0h1m2 0h1m0 0h1m1 0h1M306 218.5h1m1 0h1m6 0h1m1 0h1m0 0h1M306 219.5h1m0 0h1m5 0h1m3 0h1m0 0h1m0 0h1m0 0h1m0 0h1m0 0h1M308 220.5h1m6 0h1m0 0h1m3 0h1m0 0h1m0 0h1m1 0h1m0 0h1M308 221.5h1m0 0h1m7 0h1m1 0h1m3 0h1m1 0h1m0 0h1m0 0h1M310 222.5h1m1 0h1m3 0h1m7 0h1m1 0h1m1 0h1m0 0h1m0 0h1m0 0h1m0 0h1m1 0h1M307 223.5h1m0 0h1m0 0h1m2 0h1m3 0h1m2 0h1m2 0h1m6 0h1m1 0h1m0 0h1m0 0h1m0 0h1m1 0h1M308 224.5h1m1 0h1m5 0h1m0 0h1m0 0h1m1 0h1m2 0h1m7 0h1m0 0h1m0 0h1m0 0h1m0 0h1m0 0h1m0 0h1m0 0h1m0 0h1m0 0h1m2 0h1m73 0h1m1 0h1M310 225.5h1m5 0h1m4 0h1m4 0h1m9 0h1m0 0h1m0 0h1m0 0h1m0 0h1m0 0h1m2 0h1m0 0h1m0 0h1m66 0h1m0 0h1m0 0h1M308 226.5h1m0 0h1m3 0h1m4 0h1m0 0h1m3 0h1m0 0h1m5 0h1m0 0h1m0 0h1m8 0h1m1 0h1m0 0h1m0 0h1m0 0h1m63 0h1m0 0h1m1 0h1m0 0h1M309 227.5h1m2 0h1m2 0h1m5 0h1m3 0h1m3 0h1m77 0h1m3 0h1m0 0h1M310 228.5h1m0 0h1m0 0h1m2 0h1m0 0h1m1 0h1m0 0h1m3 0h1m3 0h1m0 0h1m78 0h1m1 0h1M309 229.5h1m0 0h1m0 0h1m2 0h1m0 0h1m3 0h1m2 0h1m1 0h1m3 0h1m72 0h1m1 0h1m1 0h1M310 230.5h1m5 0h1m2 0h1m10 0h1m68 0h1m0 0h1m0 0h1m0 0h1m2 0h1M310 231.5h1m1 0h1m5 0h1m1 0h1m0 0h1m0 0h1m1 0h1m0 0h1m2 0h1m67 0h1m1 0h1m0 0h1m0 0h1m0 0h1m0 0h1M312 232.5h1m3 0h1m1 0h1m6 0h1m2 0h1m3 0h1m61 0h1m0 0h1m0 0h1m0 0h1m1 0h1M313 233.5h1m1 0h1m0 0h1m0 0h1m1 0h1m9 0h1m2 0h1m0 0h1m1 0h1m0 0h1m0 0h1m1 0h1m50 0h1m0 0h1m0 0h1m1 0h1m0 0h1m0 0h1M312 234.5h1m1 0h1m0 0h1m0 0h1m0 0h1m1 0h1m1 0h1m4 0h1m1 0h1m4 0h1m1 0h1m0 0h1m0 0h1m0 0h1m0 0h1m0 0h1m0 0h1m44 0h1m0 0h1m0 0h1m0 0h1m1 0h1m1 0h1m9 0h1M311 235.5h1m4 0h1m0 0h1m2 0h1m0 0h1m3 0h1m3 0h1m3 0h1m0 0h1m0 0h1m0 0h1m0 0h1m0 0h1m0 0h1m0 0h1m0 0h1m0 0h1m0 0h1m0 0h1m0 0h1m0 0h1m0 0h1m32 0h1m2 0h1m0 0h1m1 0h1m0 0h1m0 0h1m0 0h1m0 0h1M312 236.5h1m2 0h1m0 0h1m2 0h1m11 0h1m2 0h1m3 0h1m1 0h1m2 0h1m0 0h1m0 0h1m0 0h1m0 0h1m1 0h1m0 0h1m0 0h1m0 0h1m0 0h1m0 0h1m0 0h1m0 0h1m0 0h1m0 0h1m1 0h1m3 0h1m0 0h1m3 0h1m0 0h1m3 0h1m0 0h1m0 0h1m0 0h1m0 0h1m0 0h1m0 0h1m0 0h1m2 0h1m0 0h1m3 0h1m10 0h1M312 237.5h1m0 0h1m0 0h1m5 0h1m0 0h1m0 0h1m1 0h1m7 0h1m5 0h1m6 0h1m1 0h1m1 0h1m0 0h1m0 0h1m0 0h1m0 0h1m0 0h1m0 0h1m1 0h1m0 0h1m0 0h1m0 0h1m1 0h1m2 0h1m0 0h1m1 0h1m0 0h1m0 0h1m0 0h1m0 0h1m1 0h1m0 0h1m0 0h1m0 0h1m0 0h1m5 0h1M316 238.5h1m4 0h1m0 0h1m5 0h1m7 0h1m4 0h1m3 0h1m3 0h1m5 0h1m6 0h1m0 0h1m1 0h1m0 0h1m0 0h1m6 0h1m17 0h1m19 0h1M313 239.5h1m1 0h1m0 0h1m1 0h1m2 0h1m0 0h1m3 0h1m0 0h1m3 0h1m9 0h1m7 0h1m8 0h1m8 0h1m0 0h1m28 0h1M317 240.5h1m0 0h1m4 0h1m0 0h1m3 0h1m1 0h1m12 0h1m2 0h1m3 0h1m8 0h1m20 0h1m12 0h1M315 241.5h1m0 0h1m3 0h1m1 0h1m3 0h1m5 0h1m1 0h1m13 0h1m1 0h1m17 0h1m3 0h1M318 242.5h1m1 0h1m0 0h1m3 0h1m0 0h1m0 0h1m3 0h1m20 0h1m2 0h1m1 0h1m4 0h1m3 0h1m5 0h1m5 0h1M317 243.5h1m0 0h1m0 0h1m2 0h1m2 0h1m0 0h1m0 0h1m6 0h1m6 0h1m5 0h1m6 0h1m0 0h1m1 0h1m0 0h1m4 0h1m11 0h1m4 0h1m2 0h1m4 0h1M317 244.5h1m0 0h1m1 0h1m11 0h1m4 0h1m25 0h1m12 0h1m20 0h1M321 245.5h1m1 0h1m0 0h1m0 0h1m3 0h1m10 0h1m9 0h1m8 0h1m1 0h1m12 0h1M325 246.5h1m4 0h1m0 0h1m6 0h1m8 0h1m13 0h1m13 0h1m7 0h1m4 0h1m13 0h1M327 247.5h1m0 0h1m0 0h1m0 0h1m0 0h1m1 0h1m0 0h1m2 0h1m9 0h1m22 0h1m1 0h1m15 0h1M324 248.5h1m1 0h1m0 0h1m0 0h1m18 0h1m19 0h1m6 0h1m10 0h1M325 249.5h1m2 0h1m0 0h1m8 0h1m4 0h1m64 0h1M327 250.5h1m1 0h1m1 0h1m12 0h1m14 0h1m22 0h1M334 251.5h1m38 0h1M339 252.5h1m1 0h1m0 0h1m16 0h1m0 0h1m0 0h1M359 253.5h1m27 0h1m1 0h1M351 254.5h1M374 255.5h1m0 0h1M359 256.5h1M341 257.5h1m40 0h1m3 0h1m0 0h1M346 258.5h1m39 0h1M342 259.5h1" stroke="#0010ff"/><path d="M306 211.5h1m0 0h1M310 212.5h1m2 0h1M312 214.5h1M312 215.5h1M308 216.5h1m0 0h1M322 217.5h1m1 0h1M309 218.5h1m0 0h1m2 0h1m8 0h1m1 0h1M310 219.5h1m1 0h1m11 0h1m3 0h1m1 0h1m0 0h1m0 0h1M307 220.5h1m2 0h1m8 0h1m6 0h1m6 0h1m1 0h1m1 0h1M310 221.5h1m1 0h1m0 0h1m16 0h1m2 0h1m2 0h1M309 222.5h1m4 0h1m7 0h1m2 0h1m14 0h1m0 0h1m1 0h1m2 0h1M318 223.5h1m4 0h1m14 0h1M327 224.5h1m0 0h1M311 225.5h1m2 0h1m17 0h1m79 0h1M315 226.5h1m0 0h1m4 0h1m0 0h1m86 0h1M317 227.5h1m2 0h1m10 0h1M325 228.5h1m3 0h1M312 229.5h1m19 0h1m64 0h1M318 230.5h1m9 0h1m66 0h1m0 0h1M314 231.5h1m12 0h1m5 0h1m3 0h1m10 0h1m4 0h1m26 0h1m2 0h1m5 0h1m2 0h1M315 232.5h1m1 0h1m19 0h1m18 0h1m0 0h1m1 0h1m1 0h1m2 0h1m0 0h1m0 0h1m15 0h1m0 0h1m3 0h1m1 0h1m1 0h1M312 233.5h1m25 0h1m13 0h1m1 0h1m4 0h1m8 0h1m9 0h1m2 0h1m7 0h1M345 234.5h1m2 0h1m0 0h1m1 0h1m1 0h1m3 0h1m1 0h1m3 0h1m4 0h1m0 0h1m1 0h1m6 0h1m0 0h1M313 235.5h1m0 0h1m0 0h1m32 0h1m0 0h1m3 0h1m3 0h1m1 0h1m0 0h1m1 0h1m11 0h1m3 0h1M313 236.5h1m7 0h1m45 0h1m20 0h1M315 237.5h1M320 238.5h1m2 0h1m1 0h1m3 0h1m12 0h1m15 0h1M314 239.5h1m74 0h1M319 240.5h1m5 0h1m29 0h1m20 0h1m22 0h1M319 241.5h1m11 0h1M328 242.5h1m15 0h1m0 0h1m35 0h1m2 0h1M324 243.5h1m7 0h1m16 0h1M327 244.5h1m0 0h1m20 0h1m5 0h1m0 0h1m16 0h1m15 0h1M318 245.5h1m14 0h1m21 0h1m2 0h1m9 0h1M320 246.5h1m0 0h1m2 0h1m4 0h1m4 0h1m9 0h1m8 0h1m31 0h1m3 0h1M380 247.5h1m27 0h1M342 248.5h1m12 0h1m26 0h1M326 249.5h1m6 0h1M346 250.5h1m14 0h1m25 0h1m1 0h1M340 251.5h1m58 0h1M330 252.5h1M331 254.5h1m40 0h1M347 255.5h1M337 256.5h1m13 0h1m14 0h1M374 260.5h1" stroke="#00a060"/><path d="M308 211.5h1m2 0h1M312 212.5h1M308 213.5h1M306 214.5h1m0 0h1M306 215.5h1m2 0h1M307 216.5h1M309 217.5h1m0 0h1m2 0h1M307 218.5h1m6 0h1M316 219.5h1M322 221.5h1m1 0h1M307 222.5h1m7 0h1m4 0h1m6 0h1M314 223.5h1M347 225.5h1M347 226.5h1M308 227.5h1m1 0h1M309 228.5h1m3 0h1m92 0h1M316 229.5h1m87 0h1m1 0h1M309 230.5h1m1 0h1m1 0h1m12 0h1m0 0h1m4 0h1m70 0h1m0 0h1M311 231.5h1m1 0h1m83 0h1M311 232.5h1m2 0h1M328 233.5h1m64 0h1m5 0h1M313 234.5h1m9 0h1m20 0h1m47 0h1M318 235.5h1m60 0h1m2 0h1m2 0h1M320 236.5h1m1 0h1m0 0h1m38 0h1m9 0h1m0 0h1m9 0h1M337 237.5h1m18 0h1m4 0h1m1 0h1m0 0h1m2 0h1m5 0h1M314 238.5h1m0 0h1m1 0h1m17 0h1M348 239.5h1m4 0h1M314 240.5h1m42 0h1M317 241.5h1m0 0h1m4 0h1M316 242.5h1M320 243.5h1m0 0h1M319 244.5h1m3 0h1m1 0h1m5 0h1m42 0h1M320 245.5h1m1 0h1M324 247.5h1M352 249.5h1m5 0h1m20 0h1M326 250.5h1M351 252.5h1M332 253.5h1M339 255.5h1M358 256.5h1M352 260.5h1" stroke="#4a00ff"/></g></g><use href="#circ"/><path d="M83.3 90.4h8.0l-4.0 6.9zM112.4 82.0h8.0l-4.0 6.9zM111.1 128.7h8.0l-4.0 6.9zM185.8 124.3h8.0l-4.0 6.9zM89.2 167.0h8.0l-4.0 6.9zM202.7 59.3h8.0l-4.0 6.9zM85.4 123.7h8.0l-4.0 6.9z" fill="#000"/><circle cx="205.9" cy="63.9" r="4.6" fill="#fff"/><circle cx="205.9" cy="63.9" r="3.3" fill="#000"/><circle cx="14.5" cy="14.1" r="3.4" fill="#000"/><text x="22.3" y="16.9" class="lg">Rx</text><path d="M10.5 22.6h8l-4 7z" fill="#000"/><text x="22.3" y="28.9" class="lg" textLength="38.3" lengthAdjust="spacingAndGlyphs">Ionosonde</text><path d="M14.6 36.4l0.60 1.20 1.20 0.60-1.20 0.60-0.60 1.20-0.60-1.20-1.20-0.60 1.20-0.60z" fill="#f22"/><text x="22.3" y="41" class="lg" style="fill:#f3200f;stroke:#f3200f" textLength="40.9" lengthAdjust="spacingAndGlyphs">Effective Tx</text></g><path d="M377.4 289.8v2.0M377.4 509.6v-2.0M381.5 289.8v2.0M381.5 509.6v-2.0M385.6 289.8v4.4M385.6 509.6v-4.4M389.7 289.8v2.0M389.7 509.6v-2.0M393.8 289.8v2.0M393.8 509.6v-2.0M397.9 289.8v2.0M397.9 509.6v-2.0M402.0 289.8v2.0M402.0 509.6v-2.0M406.1 289.8v2.0M406.1 509.6v-2.0M410.2 289.8v2.0M410.2 509.6v-2.0M414.2 289.8v2.0M414.2 509.6v-2.0M418.3 289.8v2.0M418.3 509.6v-2.0M422.4 289.8v2.0M422.4 509.6v-2.0M426.5 289.8v4.4M426.5 509.6v-4.4M430.6 289.8v2.0M430.6 509.6v-2.0M434.7 289.8v2.0M434.7 509.6v-2.0M438.8 289.8v2.0M438.8 509.6v-2.0M442.9 289.8v2.0M442.9 509.6v-2.0M447.0 289.8v2.0M447.0 509.6v-2.0M451.1 289.8v2.0M451.1 509.6v-2.0M455.1 289.8v2.0M455.1 509.6v-2.0M459.2 289.8v2.0M459.2 509.6v-2.0M463.3 289.8v2.0M463.3 509.6v-2.0M467.4 289.8v4.4M467.4 509.6v-4.4M471.5 289.8v2.0M471.5 509.6v-2.0M475.6 289.8v2.0M475.6 509.6v-2.0M479.7 289.8v2.0M479.7 509.6v-2.0M483.8 289.8v2.0M483.8 509.6v-2.0M487.9 289.8v2.0M487.9 509.6v-2.0M491.9 289.8v2.0M491.9 509.6v-2.0M496.0 289.8v2.0M496.0 509.6v-2.0M500.1 289.8v2.0M500.1 509.6v-2.0M504.2 289.8v2.0M504.2 509.6v-2.0M508.3 289.8v4.4M508.3 509.6v-4.4M512.4 289.8v2.0M512.4 509.6v-2.0M516.5 289.8v2.0M516.5 509.6v-2.0M520.6 289.8v2.0M520.6 509.6v-2.0M524.7 289.8v2.0M524.7 509.6v-2.0M528.7 289.8v2.0M528.7 509.6v-2.0M532.8 289.8v2.0M532.8 509.6v-2.0M536.9 289.8v2.0M536.9 509.6v-2.0M541.0 289.8v2.0M541.0 509.6v-2.0M545.1 289.8v2.0M545.1 509.6v-2.0M549.2 289.8v4.4M549.2 509.6v-4.4M553.3 289.8v2.0M553.3 509.6v-2.0M557.4 289.8v2.0M557.4 509.6v-2.0M561.5 289.8v2.0M561.5 509.6v-2.0M565.5 289.8v2.0M565.5 509.6v-2.0M569.6 289.8v2.0M569.6 509.6v-2.0M573.7 289.8v2.0M573.7 509.6v-2.0M577.8 289.8v2.0M577.8 509.6v-2.0M581.9 289.8v2.0M581.9 509.6v-2.0M586.0 289.8v2.0M586.0 509.6v-2.0M590.1 289.8v4.4M590.1 509.6v-4.4M594.2 289.8v2.0M594.2 509.6v-2.0M598.3 289.8v2.0M598.3 509.6v-2.0M602.4 289.8v2.0M602.4 509.6v-2.0M606.4 289.8v2.0M606.4 509.6v-2.0M610.5 289.8v2.0M610.5 509.6v-2.0M614.6 289.8v2.0M614.6 509.6v-2.0M618.7 289.8v2.0M618.7 509.6v-2.0M622.8 289.8v2.0M622.8 509.6v-2.0M626.9 289.8v2.0M626.9 509.6v-2.0M631.0 289.8v4.4M631.0 509.6v-4.4M635.1 289.8v2.0M635.1 509.6v-2.0M639.2 289.8v2.0M639.2 509.6v-2.0M375.4 507.9h2.3M641.2 507.9h-2.3M375.4 503.9h2.3M641.2 503.9h-2.3M375.4 499.9h5.0M641.2 499.9h-5.0M375.4 495.9h2.3M641.2 495.9h-2.3M375.4 491.9h2.3M641.2 491.9h-2.3M375.4 487.9h2.3M641.2 487.9h-2.3M375.4 483.9h2.3M641.2 483.9h-2.3M375.4 479.9h2.3M641.2 479.9h-2.3M375.4 475.9h2.3M641.2 475.9h-2.3M375.4 471.9h2.3M641.2 471.9h-2.3M375.4 467.9h2.3M641.2 467.9h-2.3M375.4 463.9h2.3M641.2 463.9h-2.3M375.4 459.9h5.0M641.2 459.9h-5.0M375.4 455.9h2.3M641.2 455.9h-2.3M375.4 452.0h2.3M641.2 452.0h-2.3M375.4 448.0h2.3M641.2 448.0h-2.3M375.4 444.0h2.3M641.2 444.0h-2.3M375.4 440.0h2.3M641.2 440.0h-2.3M375.4 436.0h2.3M641.2 436.0h-2.3M375.4 432.0h2.3M641.2 432.0h-2.3M375.4 428.0h2.3M641.2 428.0h-2.3M375.4 424.0h2.3M641.2 424.0h-2.3M375.4 420.0h5.0M641.2 420.0h-5.0M375.4 416.0h2.3M641.2 416.0h-2.3M375.4 412.0h2.3M641.2 412.0h-2.3M375.4 408.0h2.3M641.2 408.0h-2.3M375.4 404.0h2.3M641.2 404.0h-2.3M375.4 400.0h2.3M641.2 400.0h-2.3M375.4 396.0h2.3M641.2 396.0h-2.3M375.4 392.0h2.3M641.2 392.0h-2.3M375.4 388.0h2.3M641.2 388.0h-2.3M375.4 384.0h2.3M641.2 384.0h-2.3M375.4 380.0h5.0M641.2 380.0h-5.0M375.4 376.0h2.3M641.2 376.0h-2.3M375.4 372.0h2.3M641.2 372.0h-2.3M375.4 368.0h2.3M641.2 368.0h-2.3M375.4 364.0h2.3M641.2 364.0h-2.3M375.4 360.0h2.3M641.2 360.0h-2.3M375.4 356.0h2.3M641.2 356.0h-2.3M375.4 352.0h2.3M641.2 352.0h-2.3M375.4 348.0h2.3M641.2 348.0h-2.3M375.4 344.1h2.3M641.2 344.1h-2.3M375.4 340.1h5.0M641.2 340.1h-5.0M375.4 336.1h2.3M641.2 336.1h-2.3M375.4 332.1h2.3M641.2 332.1h-2.3M375.4 328.1h2.3M641.2 328.1h-2.3M375.4 324.1h2.3M641.2 324.1h-2.3M375.4 320.1h2.3M641.2 320.1h-2.3M375.4 316.1h2.3M641.2 316.1h-2.3M375.4 312.1h2.3M641.2 312.1h-2.3M375.4 308.1h2.3M641.2 308.1h-2.3M375.4 304.1h2.3M641.2 304.1h-2.3M375.4 300.1h5.0M641.2 300.1h-5.0M375.4 296.1h2.3M641.2 296.1h-2.3M375.4 292.1h2.3M641.2 292.1h-2.3" stroke="#6a6a6a" stroke-width="1.1" fill="none"/><rect x="375.4" y="289.8" width="265.8" height="219.8" fill="none" stroke="#555" stroke-width="1.15"/><text x="385.6" y="530.5" class="tl" text-anchor="middle">80</text><text x="426.5" y="530.5" class="tl" text-anchor="middle">90</text><text x="467.4" y="530.5" class="tl" text-anchor="middle">100</text><text x="508.3" y="530.5" class="tl" text-anchor="middle">110</text><text x="549.2" y="530.5" class="tl" text-anchor="middle">120</text><text x="590.1" y="530.5" class="tl" text-anchor="middle">130</text><text x="631.0" y="530.5" class="tl" text-anchor="middle">140</text><text x="370.1" y="505.6" class="tl" text-anchor="end">-10</text><text x="370.1" y="465.6" class="tl" text-anchor="end">0</text><text x="370.1" y="425.7" class="tl" text-anchor="end">10</text><text x="370.1" y="385.7" class="tl" text-anchor="end">20</text><text x="370.1" y="345.8" class="tl" text-anchor="end">30</text><text x="370.1" y="305.8" class="tl" text-anchor="end">40</text><text x="342.5" y="399.7" class="ax" text-anchor="middle" transform="rotate(-90 342.5 399.7)" textLength="40.8" lengthAdjust="spacingAndGlyphs">Latitude</text><text x="393.6" y="489.8" class="pl">d</text><text x="176.4" y="561.1" class="tt" text-anchor="middle" textLength="133.2" lengthAdjust="spacingAndGlyphs">Rx: TAN (22.99N, 120.22E)</text><g transform="translate(43.5,564.8)"><use href="#coast"/><use href="#txs" fill="#7d7d7d"/><use href="#txs" fill="#ff2a10" clip-path="url(#re)"/><g transform="translate(-43.5,-564.8)" fill="none" stroke-linecap="round" opacity="0.7"><path d="M278.1 670.3L272.9 674.7M266.9 662.4L263.6 665.0M262.9 663.2L259.8 665.6M260.3 661.2L254.0 666.0M297.6 630.0L292.8 633.6M268.1 652.4L265.5 654.4M263.1 652.6L260.4 654.6M270.4 644.1L264.4 648.5M260.7 651.2L255.9 654.8M266.4 640.7L260.6 644.9M271.9 632.7L269.1 634.7M264.3 638.0L259.2 641.7M268.9 632.0L265.3 634.5M240.4 652.0L235.7 655.2M229.7 659.4L224.9 662.8M247.6 644.4L243.9 647.0M232.7 654.8L226.7 658.9M240.0 646.1L236.9 648.2M203.4 670.5L204.3 667.5M232.3 670.5L233.2 667.5M261.4 670.5L262.4 667.5M166.8 679.0L167.8 676.0M181.1 679.0L182.1 676.0M184.6 679.0L185.6 676.0M192.3 679.0L193.2 676.0M195.8 679.0L196.8 676.0M207.4 679.0L208.4 676.0M254.1 679.0L255.1 676.0M287.3 679.0L288.3 676.0M153.7 687.2L154.7 684.2M174.5 687.2L175.5 684.2M199.0 687.2L199.9 684.2M222.3 687.2L223.3 684.2M167.8 695.2L168.8 692.2M201.1 695.2L202.0 692.2M204.3 695.2L205.3 692.2M215.7 695.2L216.7 692.2M242.0 695.2L243.0 692.2M256.9 695.2L257.9 692.2M274.8 695.2L275.8 692.2M289.5 695.2L290.4 692.2M199.8 702.5L200.8 699.5M222.0 702.5L223.0 699.5" stroke="#ffb000" stroke-width="1.1"/><path d="M285.4 660.9L279.9 665.5M279.7 659.4L277.1 661.5M269.7 667.4L267.0 669.6M286.3 647.1L283.2 649.6M273.4 657.3L267.9 661.7M251.8 664.8L247.7 667.9M246.7 668.7L244.1 670.7M267.8 649.1L264.1 651.8M263.7 649.0L261.0 651.1M255.6 655.1L251.8 657.9M286.0 628.9L282.2 631.7M281.1 632.5L276.3 636.0M275.7 636.4L269.4 641.0M262.1 646.3L259.5 648.3M252.8 653.1L247.9 656.7M243.1 660.2L239.7 662.7M288.6 624.7L282.6 629.0M256.4 648.0L253.8 649.8M246.2 655.3L241.9 658.4M253.9 642.5L249.9 645.3M225.5 659.7L222.4 661.8M250.4 639.0L247.9 640.7M240.8 638.1L237.5 640.3M210.0 670.5L210.9 667.5M240.0 670.5L241.0 667.5M152.7 679.0L153.7 676.0M188.1 679.0L189.1 676.0M214.0 679.0L215.0 676.0M223.9 679.0L224.9 676.0M251.0 679.0L252.0 676.0M283.7 679.0L284.7 676.0M291.3 679.0L292.2 676.0M297.9 679.0L298.9 676.0M185.0 687.2L186.0 684.2M192.0 687.2L193.0 684.2M214.5 687.2L215.5 684.2M236.2 687.2L237.2 684.2M260.7 687.2L261.7 684.2M268.2 687.2L269.2 684.2M178.8 695.2L179.8 692.2M259.8 695.2L260.8 692.2M278.8 695.2L279.8 692.2" stroke="#40ff00" stroke-width="1.1"/><path d="M276.2 666.1L271.9 669.6M271.1 670.2L265.3 675.1M265.9 670.5L262.4 673.3M265.5 667.3L261.7 670.3M256.0 671.0L252.2 674.0M271.1 656.7L268.5 658.8M272.3 651.9L266.4 656.5M247.1 671.3L241.9 675.3M272.9 648.7L269.1 651.6M276.7 642.4L272.8 645.3M259.9 655.0L253.9 659.5M253.1 660.1L250.0 662.4M291.8 624.7L287.2 628.1M259.1 648.6L253.6 652.5M231.7 668.5L226.8 672.1M282.3 629.2L276.8 633.2M276.2 633.7L273.6 635.6M259.5 645.7L256.7 647.7M226.6 669.4L223.9 671.4M223.1 671.9L217.5 676.0M252.3 646.6L249.0 648.9M248.1 649.6L244.1 652.4M240.3 655.1L236.7 657.7M263.8 633.2L260.4 635.5M248.9 636.3L244.8 639.1M223.7 647.0L220.7 649.0M206.3 670.5L207.3 667.5M217.2 670.5L218.2 667.5M221.3 670.5L222.3 667.5M224.7 670.5L225.6 667.5M228.3 670.5L229.2 667.5M244.0 670.5L245.0 667.5M251.0 670.5L252.0 667.5M254.7 670.5L255.7 667.5M155.8 679.0L156.8 676.0M159.2 679.0L160.2 676.0M163.2 679.0L164.2 676.0M174.0 679.0L174.9 676.0M211.1 679.0L212.1 676.0M220.0 679.0L221.0 676.0M227.4 679.0L228.4 676.0M237.0 679.0L238.0 676.0M240.5 679.0L241.5 676.0M276.3 679.0L277.3 676.0M157.2 687.2L158.1 684.2M160.6 687.2L161.6 684.2M181.9 687.2L182.9 684.2M189.0 687.2L190.0 684.2M218.3 687.2L219.3 684.2M225.2 687.2L226.2 684.2M232.5 687.2L233.5 684.2M254.3 687.2L255.3 684.2M264.0 687.2L265.0 684.2M275.2 687.2L276.2 684.2M286.8 687.2L287.8 684.2M291.0 687.2L292.0 684.2M294.0 687.2L295.0 684.2M175.7 695.2L176.7 692.2M193.7 695.2L194.7 692.2M197.4 695.2L198.3 692.2M207.8 695.2L208.8 692.2M219.1 695.2L220.1 692.2M234.2 695.2L235.2 692.2M246.1 695.2L247.1 692.2M249.2 695.2L250.2 692.2M253.1 695.2L254.1 692.2M264.1 695.2L265.1 692.2M282.1 695.2L283.1 692.2M286.1 695.2L287.0 692.2M218.1 702.5L219.1 699.5M233.4 702.5L234.3 699.5" stroke="#ff7000" stroke-width="1.1"/><path d="M288.6 648.8L282.6 653.6M290.2 644.1L287.0 646.6M248.8 663.3L243.6 667.2M243.1 667.6L237.3 671.9M239.1 663.1L235.9 665.5M272.7 636.2L266.9 640.4M268.5 635.1L264.8 637.7M249.4 645.6L245.9 648.1M244.9 648.8L241.4 651.2M234.8 655.9L230.8 658.6M259.8 635.9L255.9 638.7M229.1 653.6L222.9 657.8M228.0 640.1L223.4 643.1M200.4 670.5L201.4 667.5M214.0 670.5L215.0 667.5M235.7 670.5L236.7 667.5M248.1 670.5L249.1 667.5M262.1 679.0L263.0 676.0M149.7 687.2L150.7 684.2M163.6 687.2L164.6 684.2M178.2 687.2L179.2 684.2M222.2 695.2L223.2 692.2M241.1 702.5L242.1 699.5M244.2 702.5L245.1 699.5" stroke="#ffff00" stroke-width="1.1"/><path d="M261.0 670.8L257.3 673.8M255.3 662.2L252.9 664.0M280.1 636.9L277.0 639.2M251.0 658.4L247.9 660.8M268.3 641.8L262.6 645.9M235.1 666.0L232.2 668.1M242.9 647.7L238.0 651.1M257.0 634.5L251.3 638.4M232.8 651.1L229.6 653.2M236.3 638.7L232.0 641.6M231.2 642.0L228.3 643.9" stroke="#0010ff" stroke-width="1.1"/><path d="M199.0 679.0L200.0 676.0M203.3 679.0L204.3 676.0M243.9 679.0L244.9 676.0M246.8 679.0L247.8 676.0M266.0 679.0L267.0 676.0M269.5 679.0L270.5 676.0M279.8 679.0L280.8 676.0M294.6 679.0L295.6 676.0M170.7 687.2L171.7 684.2M202.3 687.2L203.2 684.2M206.0 687.2L207.0 684.2M210.3 687.2L211.3 684.2M243.4 687.2L244.4 684.2M247.4 687.2L248.4 684.2M182.5 695.2L183.5 692.2M225.7 695.2L226.7 692.2M230.0 695.2L231.0 692.2M238.2 695.2L239.2 692.2M270.9 695.2L271.9 692.2M225.6 702.5L226.6 699.5M236.8 702.5L237.8 699.5" stroke="#ff3000" stroke-width="1.1"/></g><g filter="url(#bl)"><g transform="translate(-43.5,-564.8) scale(1.5)" stroke-width="1" fill="none"><path d="M73 377.5h1m1 0h1M88 378.5h1M97 379.5h1M76 380.5h1m125 0h1M73 381.5h1m23 0h1M109 382.5h1M82 383.5h1m18 0h1m2 0h1m13 0h1M78 384.5h1m10 0h1m6 0h1m4 0h1m94 0h1M178 388.5h1M84 389.5h1m101 0h1m1 0h1M93 390.5h1m78 0h1M89 391.5h1m41 0h1M76 392.5h1M81 393.5h1m61 0h1M89 394.5h1m24 0h1m3 0h1m36 0h1M189 395.5h1M109 396.5h1m7 0h1m15 0h1m2 0h1M175 397.5h1M75 398.5h1m0 0h1m0 0h1m115 0h1M77 399.5h1M65 400.5h1m5 0h1m0 0h1m3 0h1m0 0h1m0 0h1m0 0h1m1 0h1m1 0h1m1 0h1m0 0h1m24 0h1m11 0h1m35 0h1m25 0h1M75 401.5h1m0 0h1m3 0h1m0 0h1m0 0h1m1 0h1m2 0h1m2 0h1m31 0h1M83 402.5h1m1 0h1m0 0h1m0 0h1m3 0h1m0 0h1m0 0h1m7 0h1m36 0h1m1 0h1M86 403.5h1m1 0h1m1 0h1m0 0h1m4 0h1m1 0h1m2 0h1m51 0h1m24 0h1M92 404.5h1m0 0h1m0 0h1m2 0h1m0 0h1m0 0h1m7 0h1m1 0h1m21 0h1m11 0h1m24 0h1M96 405.5h1m0 0h1m0 0h1m1 0h1m1 0h1m1 0h1m6 0h1m0 0h1m46 0h1M99 406.5h1m0 0h1m3 0h1m1 0h1m1 0h1m1 0h1m28 0h1M103 407.5h1m1 0h1m3 0h1m2 0h1m0 0h1m8 0h1m47 0h1M111 408.5h1m1 0h1m0 0h1m1 0h1m2 0h1m0 0h1m5 0h1m1 0h1m40 0h1M109 409.5h1m1 0h1m4 0h1m1 0h1m0 0h1m4 0h1m1 0h1m5 0h1m0 0h1m2 0h1m46 0h1m2 0h1M125 410.5h1m0 0h1m6 0h1m1 0h1m0 0h1m2 0h1m0 0h1m1 0h1m0 0h1m3 0h1m0 0h1m0 0h1M176 411.5h1m3 0h1M162 412.5h1m0 0h1m2 0h1m5 0h1m3 0h1m0 0h1m0 0h1M151 413.5h1m12 0h1m0 0h1m0 0h1m0 0h1m0 0h1m4 0h1M79 414.5h1m73 0h1m0 0h1m1 0h1m0 0h1m3 0h1m0 0h1m0 0h1m0 0h1m0 0h1m3 0h1m26 0h1M68 415.5h1m29 0h1m51 0h1m0 0h1m2 0h1m2 0h1m0 0h1m1 0h1M72 416.5h1m78 0h1M81 417.5h1m52 0h1m1 0h1m3 0h1m4 0h1m1 0h1M79 418.5h1m4 0h1m10 0h1m2 0h1m7 0h1m8 0h1m13 0h1m2 0h1m9 0h1m2 0h1m0 0h1m0 0h1m0 0h1m0 0h1M80 419.5h1m8 0h1m18 0h1m4 0h1m0 0h1m0 0h1m2 0h1m0 0h1m0 0h1m3 0h1m4 0h1m1 0h1m4 0h1m1 0h1m0 0h1m0 0h1m1 0h1m1 0h1m0 0h1m0 0h1m33 0h1m0 0h1M84 420.5h1m2 0h1m11 0h1m3 0h1m3 0h1m1 0h1m0 0h1m0 0h1m1 0h1m0 0h1m1 0h1m1 0h1m2 0h1m1 0h1m0 0h1m1 0h1m1 0h1m1 0h1m2 0h1m0 0h1m0 0h1m0 0h1m2 0h1m0 0h1m24 0h1M69 421.5h1m0 0h1m8 0h1m7 0h1m2 0h1m5 0h1m2 0h1m7 0h1m0 0h1m0 0h1m1 0h1m0 0h1m0 0h1m0 0h1m0 0h1m0 0h1m0 0h1m0 0h1m0 0h1m0 0h1m0 0h1m0 0h1m2 0h1m1 0h1M70 422.5h1m10 0h1m10 0h1m1 0h1m88 0h1M78 423.5h1m5 0h1m13 0h1m5 0h1m0 0h1M71 424.5h1m9 0h1m16 0h1m0 0h1m3 0h1m86 0h1M98 425.5h1m89 0h1M74 426.5h1m10 0h1m0 0h1m10 0h1m0 0h1m45 0h1m18 0h1M83 427.5h1m4 0h1m5 0h1m17 0h1m23 0h1m4 0h1M80 428.5h1m2 0h1m2 0h1m20 0h1m3 0h1m5 0h1m0 0h1m6 0h1m8 0h1m0 0h1m3 0h1m5 0h1m0 0h1m1 0h1M73 429.5h1m20 0h1m16 0h1m0 0h1m7 0h1m2 0h1m5 0h1m4 0h1m3 0h1m9 0h1m1 0h1m49 0h1M74 430.5h1m17 0h1m0 0h1m2 0h1m3 0h1m10 0h1m3 0h1m9 0h1m3 0h1m6 0h1m3 0h1m16 0h1M77 431.5h1m4 0h1m1 0h1m12 0h1m1 0h1m4 0h1m0 0h1m5 0h1m6 0h1m6 0h1m2 0h1m1 0h1m0 0h1m3 0h1m0 0h1m0 0h1m4 0h1m0 0h1M76 432.5h1m7 0h1m5 0h1m2 0h1m15 0h1M75 433.5h1m23 0h1m4 0h1m6 0h1m5 0h1m2 0h1m3 0h1m12 0h1m4 0h1m0 0h1M89 434.5h1m12 0h1m4 0h1m14 0h1m0 0h1m15 0h1m2 0h1m6 0h1m19 0h1M77 435.5h1m7 0h1m3 0h1m4 0h1m8 0h1m17 0h1m5 0h1m0 0h1m5 0h1m7 0h1m1 0h1m7 0h1M90 436.5h1m7 0h1m3 0h1m8 0h1m0 0h1m0 0h1m11 0h1m4 0h1m12 0h1m6 0h1m9 0h1M85 437.5h1m27 0h1m2 0h1m17 0h1m2 0h1m7 0h1M82 438.5h1m6 0h1m12 0h1m13 0h1m2 0h1m9 0h1m1 0h1m0 0h1m2 0h1m23 0h1m10 0h1M83 439.5h1m2 0h1m5 0h1m22 0h1m5 0h1m0 0h1m2 0h1m1 0h1m1 0h1m19 0h1M80 440.5h1m14 0h1m10 0h1m2 0h1m5 0h1m1 0h1m10 0h1m7 0h1m1 0h1m3 0h1M84 441.5h1m28 0h1m0 0h1m11 0h1m8 0h1m6 0h1m3 0h1M87 442.5h1m13 0h1m9 0h1m21 0h1m8 0h1m3 0h1M91 443.5h1m22 0h1m8 0h1m3 0h1m6 0h1m8 0h1m21 0h1M87 444.5h1m12 0h1m5 0h1m16 0h1m9 0h1m5 0h1M81 445.5h1m5 0h1m10 0h1m0 0h1m2 0h1m10 0h1m3 0h1m19 0h1m0 0h1m4 0h1M102 446.5h1m1 0h1m4 0h1m6 0h1m6 0h1m2 0h1m2 0h1m7 0h1M84 447.5h1m2 0h1m3 0h1m11 0h1m13 0h1m12 0h1m4 0h1M105 448.5h1m0 0h1m14 0h1m7 0h1m2 0h1m1 0h1m0 0h1M125 449.5h1M90 450.5h1m0 0h1m12 0h1m9 0h1m0 0h1m4 0h1m0 0h1M95 451.5h1m11 0h1m19 0h1M99 452.5h1m5 0h1m3 0h1m1 0h1M111 453.5h1M126 455.5h1M104 456.5h1m6 0h1m2 0h1m1 0h1m1 0h1M98 457.5h1M105 458.5h1M123 459.5h1M119 460.5h1M131 461.5h1M117 462.5h1m9 0h1M125 463.5h1m14 0h1M111 465.5h1M101 466.5h1m29 0h1M116 467.5h1m9 0h1M110 469.5h1" stroke="#ffb000"/><path d="M81 377.5h1M102 379.5h1m2 0h1M109 381.5h1M92 382.5h1M111 383.5h1M79 385.5h1m4 0h1M114 386.5h1M94 387.5h1m43 0h1m48 0h1m7 0h1M120 388.5h1m3 0h1m70 0h1m3 0h1M110 389.5h1m39 0h1m4 0h1m37 0h1m6 0h1M99 390.5h1m0 0h1m66 0h1M113 391.5h1m14 0h1m37 0h1M159 394.5h1M155 395.5h1M86 396.5h1m7 0h1m29 0h1m75 0h1M84 397.5h1m0 0h1m0 0h1m2 0h1m4 0h1m2 0h1m0 0h1M141 398.5h1M100 399.5h1m16 0h1m62 0h1m14 0h1M101 400.5h1m3 0h1m70 0h1m15 0h1M108 401.5h1M104 402.5h1m0 0h1m2 0h1m0 0h1m0 0h1m42 0h1m36 0h1M108 403.5h1m0 0h1m3 0h1m16 0h1m51 0h1m5 0h1M113 404.5h1m4 0h1m44 0h1M119 405.5h1m1 0h1m3 0h1m0 0h1m44 0h1m4 0h1M174 406.5h1M129 407.5h1m46 0h1M133 408.5h1m5 0h1m4 0h1m0 0h1m37 0h1M76 409.5h1m77 0h1m16 0h1m0 0h1m1 0h1m3 0h1m0 0h1M150 410.5h1m2 0h1m0 0h1m7 0h1m0 0h1m1 0h1m0 0h1m6 0h1m1 0h1m0 0h1M150 411.5h1m13 0h1M88 412.5h1M133 413.5h1M74 414.5h1m20 0h1m46 0h1m0 0h1m1 0h1m3 0h1M85 415.5h1m42 0h1m3 0h1m6 0h1M124 416.5h1m1 0h1m1 0h1m2 0h1m1 0h1m4 0h1m0 0h1m1 0h1m1 0h1m1 0h1M86 417.5h1m8 0h1m11 0h1m8 0h1m2 0h1m0 0h1m2 0h1m0 0h1m0 0h1m3 0h1m1 0h1M108 418.5h1m0 0h1m2 0h1m0 0h1m8 0h1M105 419.5h1M72 420.5h1m32 0h1M102 421.5h1M157 422.5h1m3 0h1M80 424.5h1m4 0h1m15 0h1m3 0h1M156 426.5h1M90 427.5h1m1 0h1m49 0h1M112 428.5h1M130 429.5h1M75 430.5h1m15 0h1m25 0h1m10 0h1M74 431.5h1m0 0h1m7 0h1m38 0h1m15 0h1M92 432.5h1m19 0h1m6 0h1m4 0h1m6 0h1m0 0h1m6 0h1m5 0h1M92 433.5h1m16 0h1m23 0h1m14 0h1M76 434.5h1m5 0h1M102 435.5h1m20 0h1m7 0h1m39 0h1M83 436.5h1m12 0h1m27 0h1m13 0h1M94 437.5h1m7 0h1m1 0h1m4 0h1m2 0h1m34 0h1m1 0h1M86 438.5h1m6 0h1m43 0h1m1 0h1m7 0h1M88 439.5h1m12 0h1m5 0h1m27 0h1m0 0h1M116 440.5h1m1 0h1M92 441.5h1m23 0h1m7 0h1m3 0h1m3 0h1m3 0h1m0 0h1m11 0h1m25 0h1M81 442.5h1m12 0h1m32 0h1m10 0h1M96 443.5h1m6 0h1m2 0h1m3 0h1m5 0h1m18 0h1m3 0h1M118 444.5h1m10 0h1m1 0h1M122 445.5h1m1 0h1m0 0h1m7 0h1M83 446.5h1m2 0h1m3 0h1m33 0h1m6 0h1M102 447.5h1m36 0h1M90 448.5h1m0 0h1m16 0h1m7 0h1m5 0h1m5 0h1m4 0h1m3 0h1M117 449.5h1M98 450.5h1m13 0h1m14 0h1M93 451.5h1m22 0h1m6 0h1M117 452.5h1m4 0h1M103 455.5h1m33 0h1M113 456.5h1m9 0h1M130 458.5h1M133 462.5h1M108 463.5h1M106 464.5h1m19 0h1m3 0h1m4 0h1M120 465.5h1m0 0h1M119 468.5h1m2 0h1M114 469.5h1M111 470.5h1" stroke="#ff3000"/><path d="M74 379.5h1m29 0h1M94 381.5h1M93 383.5h1M98 384.5h1m102 0h1M93 385.5h1m92 0h1m16 0h1M102 387.5h1M111 388.5h1M77 389.5h1M96 390.5h1M95 391.5h1m8 0h1m15 0h1m35 0h1m3 0h1m11 0h1M171 392.5h1m14 0h1M147 393.5h1m10 0h1m15 0h1m24 0h1M91 394.5h1m0 0h1m14 0h1m49 0h1m6 0h1M75 395.5h1m3 0h1m3 0h1m4 0h1m55 0h1m6 0h1m0 0h1M74 396.5h1m3 0h1m0 0h1m3 0h1m6 0h1m1 0h1m7 0h1M75 397.5h1m0 0h1m0 0h1m0 0h1m8 0h1m0 0h1m40 0h1m71 0h1M73 398.5h1m5 0h1m1 0h1m3 0h1m0 0h1m1 0h1m1 0h1m5 0h1m0 0h1m1 0h1m47 0h1m36 0h1m3 0h1M67 399.5h1m2 0h1m0 0h1m4 0h1m1 0h1m0 0h1m0 0h1m0 0h1m0 0h1m0 0h1m3 0h1m5 0h1m0 0h1m4 0h1m1 0h1m3 0h1m38 0h1m11 0h1m25 0h1m1 0h1M87 400.5h1m1 0h1m3 0h1m1 0h1m0 0h1m1 0h1m0 0h1m6 0h1m22 0h1m18 0h1M88 401.5h1m0 0h1m2 0h1m0 0h1m0 0h1m4 0h1m0 0h1m10 0h1m5 0h1m47 0h1m20 0h1m13 0h1M96 402.5h1m1 0h1m7 0h1m4 0h1m1 0h1m6 0h1m11 0h1m46 0h1m20 0h1M104 403.5h1m1 0h1m3 0h1m0 0h1m4 0h1m1 0h1M102 404.5h1m1 0h1m0 0h1m8 0h1m1 0h1m0 0h1m1 0h1m0 0h1M105 405.5h1m0 0h1m2 0h1m3 0h1m0 0h1m8 0h1m13 0h1M113 406.5h1m0 0h1m1 0h1m2 0h1m0 0h1m1 0h1m3 0h1m4 0h1m48 0h1m9 0h1M114 407.5h1m3 0h1m0 0h1m0 0h1m2 0h1m0 0h1m1 0h1m1 0h1m2 0h1m3 0h1m1 0h1m12 0h1m3 0h1M121 408.5h1m7 0h1m0 0h1m1 0h1m2 0h1m2 0h1m2 0h1m20 0h1m19 0h1m2 0h1M138 409.5h1m0 0h1m0 0h1m0 0h1m6 0h1m1 0h1m5 0h1m18 0h1m0 0h1m3 0h1m0 0h1M144 410.5h1m1 0h1m5 0h1m4 0h1m1 0h1m0 0h1m0 0h1m5 0h1m0 0h1m1 0h1m6 0h1m2 0h1m0 0h1M156 411.5h1m0 0h1m0 0h1m0 0h1m8 0h1m0 0h1m0 0h1m0 0h1m3 0h1m3 0h1M66 412.5h1m12 0h1m70 0h1m0 0h1m1 0h1m5 0h1m0 0h1m0 0h1m2 0h1m2 0h1m0 0h1m0 0h1m4 0h1M78 413.5h1m4 0h1m59 0h1m1 0h1m4 0h1m2 0h1m0 0h1m3 0h1m0 0h1M68 414.5h1m8 0h1m6 0h1m59 0h1m1 0h1m3 0h1M95 415.5h1m17 0h1m3 0h1m8 0h1m13 0h1m1 0h1m0 0h1m0 0h1m0 0h1m0 0h1m0 0h1m0 0h1m0 0h1M74 416.5h1m4 0h1m2 0h1m3 0h1m2 0h1m12 0h1m10 0h1m1 0h1m0 0h1m3 0h1m1 0h1m0 0h1m1 0h1m1 0h1m1 0h1m0 0h1m1 0h1m1 0h1m0 0h1m0 0h1m0 0h1m2 0h1m1 0h1m1 0h1m1 0h1m0 0h1m0 0h1m0 0h1m45 0h1M87 417.5h1m1 0h1m12 0h1m12 0h1m1 0h1m0 0h1m3 0h1m4 0h1m0 0h1m4 0h1m1 0h1m1 0h1m0 0h1m0 0h1m1 0h1m0 0h1m0 0h1m0 0h1m1 0h1m1 0h1m0 0h1M73 418.5h1m6 0h1m0 0h1m3 0h1m2 0h1m3 0h1m11 0h1m2 0h1m2 0h1m0 0h1m2 0h1m1 0h1m0 0h1m0 0h1m0 0h1m0 0h1m0 0h1m1 0h1m1 0h1m0 0h1m0 0h1m0 0h1m1 0h1m0 0h1m1 0h1m0 0h1m0 0h1m0 0h1m1 0h1m0 0h1m1 0h1m2 0h1m34 0h1M81 419.5h1m6 0h1m18 0h1m1 0h1m0 0h1m0 0h1m0 0h1m4 0h1m3 0h1m0 0h1m0 0h1m1 0h1m0 0h1m0 0h1m0 0h1m1 0h1m3 0h1M81 420.5h1m3 0h1m4 0h1m5 0h1m4 0h1m10 0h1m2 0h1m3 0h1M76 421.5h1m3 0h1m3 0h1m13 0h1m78 0h1m14 0h1M72 422.5h1m3 0h1m0 0h1m1 0h1m13 0h1m3 0h1m0 0h1m1 0h1m1 0h1m0 0h1m61 0h1M77 423.5h1m1 0h1m0 0h1m7 0h1m3 0h1m101 0h1M74 424.5h1m4 0h1m12 0h1m13 0h1m44 0h1M89 425.5h1m4 0h1m1 0h1m0 0h1m8 0h1m39 0h1m3 0h1m9 0h1m21 0h1M77 426.5h1m4 0h1m1 0h1m2 0h1m5 0h1m6 0h1m0 0h1m2 0h1m0 0h1m32 0h1m2 0h1m0 0h1m2 0h1m16 0h1M72 427.5h1m4 0h1m1 0h1m13 0h1m6 0h1m0 0h1m1 0h1m0 0h1m8 0h1m5 0h1m11 0h1m1 0h1m0 0h1m5 0h1m6 0h1m4 0h1M75 428.5h1m9 0h1m3 0h1m1 0h1m6 0h1m1 0h1m1 0h1m0 0h1m1 0h1m9 0h1m3 0h1m1 0h1m2 0h1m2 0h1m1 0h1m2 0h1m4 0h1m2 0h1m3 0h1m6 0h1m20 0h1M78 429.5h1m1 0h1m10 0h1m1 0h1m3 0h1m2 0h1m0 0h1m3 0h1m2 0h1m0 0h1m5 0h1m0 0h1m8 0h1m0 0h1m1 0h1m3 0h1m2 0h1m0 0h1m0 0h1m7 0h1m7 0h1M79 430.5h1m2 0h1m3 0h1m0 0h1m0 0h1m20 0h1m2 0h1m0 0h1m10 0h1m2 0h1m6 0h1m3 0h1m4 0h1m0 0h1m2 0h1m3 0h1m13 0h1M78 431.5h1m1 0h1m4 0h1m1 0h1m2 0h1m0 0h1m8 0h1m2 0h1m3 0h1m7 0h1m1 0h1m1 0h1m1 0h1m7 0h1m19 0h1m4 0h1m13 0h1M81 432.5h1m3 0h1m1 0h1m11 0h1m0 0h1m0 0h1m1 0h1m0 0h1m2 0h1m2 0h1m0 0h1m1 0h1m0 0h1m2 0h1m0 0h1m1 0h1m1 0h1m2 0h1m0 0h1m0 0h1m1 0h1m6 0h1m0 0h1m3 0h1m0 0h1M76 433.5h1m0 0h1m1 0h1m8 0h1m1 0h1m2 0h1m1 0h1m4 0h1m1 0h1m15 0h1m0 0h1m5 0h1m4 0h1m3 0h1m0 0h1m3 0h1m5 0h1m27 0h1M79 434.5h1m15 0h1m2 0h1m2 0h1m1 0h1m0 0h1m1 0h1m1 0h1m2 0h1m3 0h1m5 0h1m8 0h1m0 0h1m1 0h1m1 0h1m1 0h1m7 0h1m21 0h1m15 0h1M79 435.5h1m0 0h1m0 0h1m1 0h1m8 0h1m2 0h1m0 0h1m1 0h1m10 0h1m3 0h1m1 0h1m2 0h1m0 0h1m2 0h1m1 0h1m1 0h1m5 0h1m2 0h1m0 0h1m2 0h1m1 0h1M87 436.5h1m1 0h1m3 0h1m1 0h1m5 0h1m4 0h1m0 0h1m2 0h1m5 0h1m2 0h1m0 0h1m1 0h1m4 0h1m0 0h1m3 0h1m3 0h1m3 0h1m0 0h1m23 0h1m2 0h1M78 437.5h1m2 0h1m1 0h1m0 0h1m2 0h1m4 0h1m2 0h1m0 0h1m9 0h1m8 0h1m2 0h1m0 0h1m2 0h1m1 0h1m1 0h1m1 0h1m1 0h1m1 0h1m0 0h1m1 0h1m3 0h1M88 438.5h1m6 0h1m7 0h1m0 0h1m3 0h1m2 0h1m9 0h1m1 0h1m0 0h1m0 0h1m4 0h1m5 0h1m3 0h1m0 0h1m0 0h1m0 0h1m0 0h1m0 0h1m19 0h1m2 0h1M89 439.5h1m0 0h1m0 0h1m1 0h1m0 0h1m0 0h1m6 0h1m3 0h1m1 0h1m1 0h1m0 0h1m2 0h1m1 0h1m1 0h1m1 0h1m2 0h1m0 0h1m5 0h1m2 0h1m0 0h1m4 0h1m3 0h1m1 0h1M85 440.5h1m7 0h1m3 0h1m4 0h1m2 0h1m2 0h1m5 0h1m4 0h1m11 0h1m25 0h1M85 441.5h1m15 0h1m3 0h1m1 0h1m1 0h1m1 0h1m3 0h1m2 0h1m0 0h1m5 0h1m1 0h1m10 0h1m2 0h1m1 0h1m7 0h1m9 0h1M88 442.5h1m2 0h1m3 0h1m8 0h1m0 0h1m1 0h1m0 0h1m1 0h1m1 0h1m9 0h1m1 0h1m0 0h1m2 0h1m1 0h1m4 0h1m0 0h1m4 0h1m2 0h1m2 0h1m9 0h1M79 443.5h1m0 0h1m1 0h1m5 0h1m9 0h1m0 0h1m1 0h1m0 0h1m1 0h1m8 0h1m3 0h1m8 0h1m1 0h1m0 0h1m8 0h1m10 0h1m6 0h1M93 444.5h1m3 0h1m9 0h1m2 0h1m5 0h1m3 0h1m0 0h1m0 0h1m2 0h1m2 0h1m3 0h1m3 0h1m0 0h1m5 0h1m3 0h1m0 0h1M84 445.5h1m4 0h1m5 0h1m4 0h1m4 0h1m4 0h1m15 0h1m0 0h1m4 0h1m2 0h1m3 0h1m0 0h1m5 0h1m2 0h1M85 446.5h1m1 0h1m6 0h1m0 0h1m0 0h1m1 0h1m0 0h1m1 0h1m4 0h1m1 0h1m3 0h1m6 0h1m1 0h1m5 0h1m0 0h1m10 0h1m2 0h1M81 447.5h1m0 0h1m2 0h1m4 0h1m1 0h1m14 0h1m1 0h1m4 0h1m0 0h1m2 0h1m1 0h1m0 0h1m3 0h1m0 0h1m2 0h1m3 0h1m2 0h1m1 0h1M86 448.5h1m9 0h1m1 0h1m0 0h1m3 0h1m10 0h1m0 0h1m9 0h1m4 0h1m0 0h1M91 449.5h1m0 0h1m1 0h1m0 0h1m8 0h1m2 0h1m0 0h1m10 0h1m2 0h1m5 0h1m1 0h1M95 450.5h1m0 0h1m4 0h1m0 0h1m2 0h1m0 0h1m1 0h1m14 0h1m1 0h1M103 451.5h1m6 0h1m4 0h1m1 0h1m17 0h1m6 0h1M98 452.5h1m1 0h1m12 0h1m1 0h1m0 0h1M97 453.5h1m1 0h1m0 0h1m3 0h1M109 454.5h1m5 0h1m4 0h1M122 455.5h1M106 456.5h1m23 0h1m3 0h1M115 457.5h1m6 0h1m6 0h1m1 0h1m6 0h1M98 458.5h1m18 0h1m10 0h1M137 459.5h1M97 460.5h1m5 0h1m22 0h1m10 0h1M109 462.5h1M105 463.5h1m9 0h1m8 0h1m5 0h1M107 464.5h1m26 0h1M128 465.5h1M118 466.5h1M97 467.5h1M121 468.5h1m1 0h1M99 469.5h1M99 470.5h1" stroke="#ff7000"/><path d="M98 379.5h1M107 380.5h1M92 385.5h1m106 0h1M143 389.5h1M103 391.5h1m28 0h1M166 392.5h1M79 393.5h1M115 394.5h1m1 0h1m59 0h1M197 395.5h1M188 396.5h1m15 0h1M165 398.5h1M136 400.5h1M63 401.5h1m0 0h1m78 0h1m9 0h1m25 0h1M75 402.5h1m5 0h1m84 0h1M73 403.5h1m2 0h1m4 0h1m2 0h1M70 404.5h1m4 0h1m2 0h1m3 0h1m7 0h1m74 0h1M63 405.5h1m3 0h1m0 0h1m7 0h1m0 0h1m2 0h1m5 0h1M77 406.5h1m9 0h1m89 0h1m18 0h1M66 407.5h1m1 0h1m18 0h1m3 0h1m101 0h1M73 408.5h1m2 0h1m1 0h1m5 0h1m3 0h1m4 0h1m0 0h1m7 0h1m2 0h1m47 0h1M69 409.5h1m19 0h1m1 0h1m2 0h1m2 0h1m0 0h1m1 0h1m1 0h1m10 0h1M70 410.5h1m2 0h1m0 0h1m7 0h1m8 0h1m1 0h1m1 0h1m0 0h1m0 0h1m1 0h1m0 0h1m1 0h1m0 0h1m0 0h1m5 0h1m8 0h1m1 0h1m69 0h1M65 411.5h1m3 0h1m25 0h1m0 0h1m0 0h1m1 0h1m0 0h1m2 0h1m9 0h1m2 0h1m1 0h1m3 0h1m4 0h1m1 0h1m1 0h1m0 0h1m0 0h1m3 0h1m7 0h1m3 0h1M84 412.5h1m17 0h1m0 0h1m0 0h1m0 0h1m0 0h1m0 0h1m1 0h1m2 0h1m0 0h1m1 0h1m0 0h1m1 0h1m0 0h1m3 0h1m0 0h1m4 0h1m0 0h1m1 0h1m1 0h1m0 0h1m2 0h1m0 0h1m2 0h1m0 0h1m0 0h1m0 0h1m1 0h1m32 0h1M71 413.5h1m3 0h1m0 0h1m0 0h1m6 0h1m15 0h1m1 0h1m0 0h1m0 0h1m2 0h1m1 0h1m2 0h1m0 0h1m2 0h1m1 0h1m1 0h1m0 0h1m1 0h1m0 0h1m0 0h1m0 0h1m3 0h1m0 0h1m0 0h1m3 0h1m0 0h1m1 0h1m6 0h1m0 0h1m0 0h1m26 0h1M66 414.5h1m6 0h1m1 0h1m2 0h1m1 0h1m0 0h1m7 0h1m3 0h1m0 0h1m11 0h1m0 0h1m0 0h1m1 0h1m2 0h1m0 0h1m0 0h1m0 0h1m0 0h1m0 0h1m0 0h1m0 0h1m0 0h1m0 0h1m15 0h1m1 0h1m6 0h1m0 0h1m18 0h1m0 0h1m2 0h1m2 0h1m0 0h1M65 415.5h1m8 0h1m2 0h1m5 0h1m0 0h1m2 0h1m5 0h1m0 0h1m4 0h1m9 0h1m0 0h1m0 0h1m6 0h1m1 0h1m0 0h1m0 0h1m1 0h1m40 0h1m3 0h1m0 0h1m3 0h1m2 0h1m0 0h1m0 0h1M77 416.5h1m0 0h1m2 0h1m1 0h1m7 0h1m2 0h1m0 0h1m2 0h1m0 0h1m0 0h1m13 0h1m4 0h1m34 0h1m1 0h1m1 0h1m0 0h1m0 0h1m1 0h1m3 0h1m0 0h1m1 0h1m1 0h1m0 0h1M83 417.5h1m0 0h1m3 0h1m5 0h1m4 0h1m0 0h1m0 0h1m51 0h1m5 0h1m0 0h1m0 0h1m0 0h1m2 0h1m0 0h1m1 0h1m2 0h1M76 418.5h1m5 0h1m7 0h1m3 0h1m2 0h1m1 0h1m5 0h1m44 0h1m1 0h1m0 0h1m3 0h1m1 0h1m1 0h1m0 0h1m1 0h1M68 419.5h1m4 0h1m0 0h1m3 0h1m0 0h1m3 0h1m6 0h1m8 0h1m1 0h1m4 0h1m43 0h1m1 0h1m0 0h1m1 0h1m1 0h1m0 0h1m11 0h1M73 420.5h1m1 0h1m0 0h1m3 0h1m5 0h1m2 0h1m1 0h1m8 0h1m3 0h1m33 0h1m5 0h1m5 0h1m1 0h1m0 0h1m2 0h1m25 0h1M72 421.5h1m4 0h1m10 0h1m2 0h1m11 0h1m36 0h1m0 0h1m7 0h1m1 0h1m13 0h1M73 422.5h1m0 0h1m0 0h1m6 0h1m6 0h1m5 0h1m8 0h1m15 0h1m2 0h1m0 0h1m1 0h1m1 0h1m2 0h1m2 0h1m0 0h1m0 0h1m1 0h1m1 0h1m0 0h1m0 0h1m0 0h1m0 0h1m0 0h1m4 0h1M73 423.5h1m0 0h1m7 0h1m6 0h1m5 0h1m11 0h1m8 0h1m0 0h1m3 0h1m2 0h1m1 0h1m1 0h1m5 0h1m0 0h1m3 0h1m1 0h1m0 0h1m0 0h1m0 0h1m2 0h1m10 0h1m29 0h1M75 424.5h1m0 0h1m0 0h1m4 0h1m0 0h1m2 0h1m2 0h1m0 0h1m5 0h1m0 0h1m11 0h1m0 0h1m0 0h1m1 0h1m1 0h1m0 0h1m0 0h1m2 0h1m0 0h1m1 0h1m0 0h1m1 0h1m0 0h1m0 0h1m0 0h1m0 0h1m0 0h1m0 0h1m0 0h1M76 425.5h1m3 0h1m1 0h1m7 0h1m10 0h1m14 0h1m4 0h1m1 0h1m0 0h1m0 0h1m2 0h1m0 0h1m28 0h1m24 0h1M75 426.5h1m0 0h1m6 0h1m6 0h1m4 0h1m6 0h1m45 0h1M76 427.5h1m3 0h1m1 0h1m13 0h1m1 0h1m0 0h1m2 0h1m4 0h1m1 0h1m0 0h1m0 0h1m4 0h1m1 0h1m24 0h1m1 0h1M74 428.5h1m1 0h1m1 0h1m3 0h1m1 0h1m2 0h1m0 0h1m3 0h1m0 0h1m0 0h1m2 0h1m1 0h1m1 0h1m4 0h1m6 0h1m0 0h1m5 0h1m7 0h1m1 0h1m10 0h1m0 0h1m0 0h1M75 429.5h1m1 0h1m5 0h1m0 0h1m0 0h1m0 0h1m0 0h1m2 0h1m4 0h1m0 0h1m1 0h1m4 0h1m2 0h1m0 0h1m2 0h1m3 0h1m18 0h1m9 0h1M77 430.5h1m17 0h1m1 0h1m0 0h1m11 0h1m5 0h1m4 0h1m4 0h1m4 0h1m1 0h1m5 0h1m2 0h1m6 0h1M76 431.5h1m4 0h1m7 0h1m5 0h1m5 0h1m6 0h1m0 0h1m4 0h1M75 432.5h1m2 0h1m0 0h1m0 0h1m8 0h1m1 0h1m6 0h1m29 0h1m1 0h1m3 0h1M83 433.5h1m0 0h1m12 0h1m3 0h1m4 0h1m1 0h1m1 0h1m5 0h1m4 0h1m1 0h1m4 0h1m0 0h1m2 0h1m3 0h1m4 0h1m4 0h1m3 0h1m12 0h1M77 434.5h1m2 0h1m4 0h1m2 0h1m4 0h1m3 0h1m1 0h1m0 0h1m4 0h1m3 0h1m0 0h1m3 0h1m2 0h1m1 0h1m7 0h1m0 0h1m5 0h1m1 0h1m4 0h1m2 0h1m11 0h1m22 0h1M82 435.5h1m4 0h1m12 0h1m4 0h1m2 0h1m3 0h1m3 0h1m3 0h1m24 0h1M77 436.5h1m2 0h1m0 0h1m0 0h1m2 0h1m13 0h1m3 0h1m10 0h1m3 0h1m2 0h1m1 0h1m10 0h1m2 0h1m7 0h1m1 0h1m4 0h1M82 437.5h1m5 0h1m0 0h1m0 0h1m9 0h1m7 0h1m2 0h1m2 0h1m2 0h1m9 0h1m8 0h1m7 0h1M78 438.5h1m12 0h1m21 0h1m4 0h1m9 0h1m9 0h1m13 0h1M82 439.5h1m1 0h1m13 0h1m13 0h1m0 0h1m12 0h1m1 0h1m8 0h1m4 0h1m3 0h1M82 440.5h1m1 0h1m1 0h1m4 0h1m7 0h1m1 0h1m8 0h1m2 0h1m12 0h1m6 0h1m0 0h1m2 0h1m1 0h1m6 0h1M78 441.5h1m2 0h1m1 0h1m2 0h1m0 0h1m14 0h1m17 0h1m45 0h1M79 442.5h1m3 0h1m0 0h1m8 0h1m8 0h1m6 0h1m6 0h1m2 0h1m1 0h1m4 0h1m4 0h1m2 0h1m2 0h1M87 443.5h1m4 0h1m4 0h1m7 0h1m2 0h1m2 0h1m3 0h1m6 0h1m7 0h1m1 0h1m9 0h1m1 0h1M80 444.5h1m9 0h1m0 0h1m9 0h1m2 0h1m0 0h1m13 0h1m4 0h1m9 0h1m10 0h1m0 0h1m14 0h1M80 445.5h1m4 0h1m0 0h1m4 0h1m0 0h1m3 0h1m4 0h1m4 0h1m21 0h1m12 0h1m8 0h1M88 446.5h1m28 0h1m2 0h1m15 0h1m7 0h1M83 447.5h1m17 0h1m10 0h1m0 0h1m13 0h1m0 0h1m5 0h1M88 448.5h1m6 0h1m4 0h1m3 0h1m13 0h1m7 0h1M89 449.5h1m0 0h1m5 0h1m1 0h1m12 0h1m2 0h1m1 0h1m7 0h1M92 450.5h1m16 0h1m3 0h1m2 0h1m2 0h1m2 0h1m5 0h1M98 451.5h1m5 0h1M101 452.5h1m19 0h1M100 454.5h1M112 455.5h1m27 0h1M136 456.5h1M128 457.5h1M122 459.5h1M132 460.5h1M103 461.5h1m18 0h1M135 463.5h1M109 464.5h1m26 0h1M104 469.5h1m17 0h1" stroke="#40ff00"/><path d="M109 384.5h1m9 0h1M204 385.5h1M72 386.5h1m18 0h1m10 0h1M126 387.5h1M82 389.5h1m87 0h1m30 0h1M114 390.5h1m17 0h1M80 391.5h1m99 0h1M94 392.5h1m24 0h1m14 0h1m66 0h1M89 393.5h1M139 394.5h1M135 395.5h1m44 0h1m12 0h1m10 0h1M103 396.5h1M137 397.5h1m18 0h1m19 0h1m8 0h1M159 398.5h1M73 399.5h1m61 0h1m1 0h1m21 0h1M74 400.5h1m0 0h1m4 0h1m1 0h1m62 0h1M66 401.5h1m2 0h1m2 0h1m0 0h1m3 0h1m1 0h1m11 0h1M69 402.5h1m4 0h1m1 0h1m0 0h1m0 0h1m1 0h1m1 0h1m5 0h1m1 0h1m66 0h1m30 0h1M77 403.5h1m2 0h1m2 0h1m1 0h1m1 0h1m7 0h1M81 404.5h1m1 0h1m0 0h1m0 0h1m0 0h1m0 0h1m1 0h1m1 0h1M84 405.5h1m0 0h1m1 0h1m0 0h1m0 0h1m4 0h1m6 0h1m1 0h1M91 406.5h1m0 0h1m1 0h1m0 0h1m0 0h1m0 0h1m0 0h1M93 407.5h1m0 0h1m0 0h1m1 0h1m0 0h1m0 0h1m0 0h1m0 0h1m4 0h1m1 0h1m1 0h1m4 0h1M75 408.5h1m19 0h1m0 0h1m0 0h1m1 0h1m0 0h1m0 0h1m1 0h1m4 0h1m1 0h1m7 0h1M65 409.5h1m35 0h1m1 0h1m10 0h1m7 0h1m0 0h1m1 0h1m3 0h1m0 0h1M106 410.5h1m0 0h1m1 0h1m1 0h1m2 0h1m0 0h1m1 0h1m2 0h1m1 0h1m0 0h1m0 0h1m2 0h1m3 0h1m5 0h1m50 0h1M85 411.5h1m18 0h1m1 0h1m1 0h1m5 0h1m0 0h1m1 0h1m1 0h1m1 0h1m4 0h1m7 0h1m1 0h1m2 0h1m1 0h1m0 0h1m0 0h1m0 0h1m2 0h1m0 0h1m37 0h1M75 412.5h1m1 0h1m2 0h1m30 0h1m2 0h1m11 0h1m14 0h1m6 0h1m22 0h1m10 0h1M73 413.5h1m89 0h1m7 0h1m0 0h1m1 0h1m1 0h1m2 0h1m0 0h1m1 0h1M69 414.5h1m13 0h1m6 0h1m5 0h1m55 0h1m5 0h1m0 0h1m6 0h1m3 0h1m1 0h1m3 0h1m0 0h1m0 0h1M96 415.5h1m64 0h1m0 0h1m0 0h1m0 0h1m1 0h1m0 0h1m0 0h1m2 0h1M70 416.5h1m9 0h1m6 0h1m8 0h1m6 0h1m46 0h1m1 0h1m4 0h1m3 0h1m1 0h1m1 0h1M72 417.5h1m33 0h1m44 0h1m0 0h1m2 0h1m0 0h1m0 0h1m0 0h1M86 418.5h1m0 0h1m13 0h1m1 0h1m36 0h1m14 0h1m26 0h1M91 419.5h1m1 0h1m1 0h1m2 0h1m1 0h1m2 0h1m28 0h1m0 0h1m1 0h1m1 0h1m3 0h1m1 0h1m3 0h1m0 0h1m0 0h1M70 420.5h1m24 0h1m6 0h1m5 0h1m8 0h1m2 0h1m1 0h1m4 0h1m1 0h1m1 0h1m0 0h1m4 0h1m3 0h1m0 0h1m0 0h1m2 0h1m0 0h1m0 0h1m0 0h1M74 421.5h1m11 0h1m23 0h1m12 0h1m0 0h1m1 0h1m1 0h1m0 0h1m1 0h1m0 0h1m0 0h1m0 0h1m0 0h1m0 0h1m0 0h1m1 0h1m3 0h1m0 0h1m0 0h1m0 0h1M86 422.5h1m19 0h1m0 0h1m0 0h1m1 0h1m0 0h1m0 0h1m0 0h1m0 0h1m0 0h1m0 0h1m0 0h1m0 0h1m0 0h1m1 0h1m0 0h1m2 0h1m1 0h1m1 0h1m0 0h1m1 0h1m0 0h1m3 0h1m1 0h1M72 423.5h1m8 0h1m3 0h1m11 0h1m4 0h1m3 0h1m2 0h1m1 0h1m0 0h1m1 0h1m4 0h1m0 0h1m2 0h1m1 0h1m1 0h1m2 0h1M72 424.5h1m14 0h1m0 0h1m5 0h1m0 0h1m75 0h1M77 425.5h1m3 0h1m6 0h1m3 0h1m2 0h1m55 0h1m2 0h1M94 426.5h1m4 0h1m3 0h1m2 0h1m32 0h1m0 0h1m2 0h1m5 0h1m15 0h1M75 427.5h1m8 0h1m12 0h1m19 0h1m14 0h1m2 0h1m3 0h1m4 0h1m16 0h1M90 428.5h1m5 0h1m12 0h1m0 0h1m20 0h1m6 0h1M88 429.5h1m24 0h1m4 0h1m5 0h1m17 0h1m1 0h1M84 430.5h1m17 0h1m3 0h1m1 0h1m5 0h1m4 0h1m15 0h1m1 0h1m3 0h1m3 0h1M93 431.5h1m4 0h1m11 0h1m9 0h1m3 0h1m1 0h1m0 0h1m11 0h1m0 0h1m3 0h1m0 0h1M83 432.5h1m11 0h1m1 0h1m7 0h1m10 0h1m6 0h1m9 0h1m4 0h1m1 0h1m3 0h1M80 433.5h1m0 0h1m0 0h1m8 0h1m2 0h1m19 0h1m7 0h1m3 0h1m0 0h1m3 0h1M83 434.5h1m6 0h1m0 0h1m2 0h1m17 0h1m0 0h1m2 0h1m1 0h1m10 0h1m13 0h1M84 435.5h1m12 0h1m8 0h1m30 0h1m2 0h1m7 0h1m8 0h1m2 0h1m11 0h1m6 0h1M79 436.5h1m4 0h1m6 0h1m0 0h1m4 0h1m19 0h1m8 0h1m2 0h1m1 0h1m7 0h1m2 0h1M91 437.5h1m1 0h1m7 0h1m1 0h1m1 0h1m14 0h1m17 0h1m1 0h1m0 0h1m0 0h1M77 438.5h1m3 0h1m2 0h1m2 0h1m8 0h1m0 0h1m0 0h1m6 0h1m3 0h1m2 0h1m2 0h1m1 0h1m2 0h1m1 0h1m3 0h1m0 0h1m6 0h1m13 0h1M79 439.5h1m19 0h1m0 0h1m4 0h1m3 0h1m7 0h1m14 0h1m8 0h1m5 0h1m11 0h1M79 440.5h1m1 0h1m6 0h1m0 0h1m0 0h1m1 0h1m1 0h1m1 0h1m1 0h1m1 0h1m6 0h1m3 0h1m10 0h1m0 0h1m1 0h1m30 0h1M79 441.5h1m2 0h1m5 0h1m0 0h1m1 0h1m4 0h1m0 0h1m0 0h1m0 0h1m8 0h1m3 0h1m9 0h1m17 0h1m6 0h1m21 0h1M82 442.5h1m13 0h1m16 0h1m0 0h1m0 0h1m2 0h1m20 0h1M83 443.5h1m11 0h1m11 0h1m23 0h1m5 0h1m2 0h1m0 0h1m15 0h1M92 444.5h1m9 0h1m8 0h1m0 0h1m25 0h1m3 0h1M83 445.5h1m24 0h1m2 0h1m2 0h1m14 0h1m4 0h1m9 0h1M105 446.5h1m8 0h1m10 0h1m4 0h1m3 0h1m6 0h1M89 447.5h1m8 0h1m5 0h1m6 0h1m7 0h1m3 0h1m0 0h1M84 448.5h1m7 0h1m4 0h1m3 0h1m7 0h1m3 0h1m5 0h1m0 0h1M87 449.5h1m9 0h1m8 0h1m11 0h1m1 0h1m10 0h1M97 450.5h1m19 0h1M94 451.5h1m7 0h1m2 0h1M102 452.5h1m15 0h1M108 453.5h1M127 454.5h1M141 458.5h1M111 460.5h1m8 0h1M129 462.5h1M110 466.5h1" stroke="#ffff00"/><path d="M82 392.5h1M82 393.5h1M74 395.5h1m3 0h1M69 396.5h1m0 0h1m1 0h1M70 397.5h1m0 0h1M68 398.5h1m1 0h1M64 400.5h1m5 0h1M65 401.5h1m2 0h1M63 402.5h1m1 0h1m2 0h1m10 0h1M63 403.5h1m0 0h1m1 0h1m2 0h1m4 0h1m4 0h1m125 0h1M64 404.5h1m2 0h1m0 0h1m0 0h1m2 0h1m3 0h1M64 405.5h1m5 0h1m1 0h1m0 0h1m0 0h1m4 0h1m3 0h1M64 406.5h1m1 0h1m0 0h1m2 0h1m0 0h1m2 0h1m0 0h1m2 0h1m0 0h1m0 0h1m1 0h1m0 0h1m1 0h1m0 0h1M63 407.5h1m0 0h1m5 0h1m0 0h1m1 0h1m0 0h1m0 0h1m0 0h1m1 0h1m2 0h1m2 0h1M66 408.5h1m0 0h1m0 0h1m0 0h1m0 0h1m0 0h1m0 0h1m1 0h1m2 0h1m1 0h1m0 0h1m0 0h1m0 0h1m0 0h1m2 0h1m0 0h1m1 0h1M63 409.5h1m0 0h1m1 0h1m0 0h1m0 0h1m3 0h1m1 0h1m0 0h1m1 0h1m0 0h1m0 0h1m1 0h1m0 0h1m0 0h1m0 0h1m0 0h1m0 0h1m3 0h1M65 410.5h1m1 0h1m0 0h1m0 0h1m5 0h1m1 0h1m2 0h1m0 0h1m1 0h1m0 0h1m0 0h1m0 0h1m0 0h1m0 0h1m1 0h1M64 411.5h1m7 0h1m1 0h1m1 0h1m0 0h1m2 0h1m0 0h1m0 0h1m0 0h1m2 0h1m2 0h1m0 0h1m0 0h1m1 0h1M65 412.5h1m1 0h1m0 0h1m0 0h1m0 0h1m1 0h1m0 0h1m2 0h1m1 0h1m4 0h1m1 0h1m0 0h1m3 0h1m0 0h1m2 0h1m0 0h1m1 0h1m0 0h1M65 413.5h1m2 0h1m0 0h1m0 0h1m9 0h1m1 0h1m4 0h1m0 0h1m0 0h1m0 0h1m3 0h1m0 0h1m0 0h1m0 0h1m0 0h1m0 0h1m1 0h1m40 0h1m42 0h1m1 0h1M67 414.5h1m4 0h1m3 0h1m5 0h1m3 0h1m5 0h1m4 0h1m0 0h1m0 0h1m0 0h1m0 0h1m0 0h1m0 0h1m0 0h1m0 0h1m29 0h1m3 0h1m43 0h1m0 0h1M69 415.5h1m0 0h1m1 0h1m0 0h1m1 0h1m0 0h1m1 0h1m1 0h1m1 0h1m5 0h1m8 0h1m2 0h1m1 0h1m1 0h1m2 0h1m0 0h1m10 0h1m3 0h1m1 0h1m7 0h1m0 0h1m1 0h1m0 0h1m42 0h1m2 0h1m0 0h1M66 416.5h1m1 0h1m0 0h1m5 0h1m9 0h1m2 0h1m1 0h1m1 0h1m0 0h1m3 0h1m3 0h1m2 0h1m1 0h1m0 0h1m2 0h1m0 0h1m0 0h1m66 0h1m0 0h1m0 0h1M67 417.5h1m5 0h1m0 0h1m1 0h1m1 0h1m0 0h1m0 0h1m4 0h1m6 0h1m0 0h1m2 0h1m0 0h1m0 0h1m4 0h1m1 0h1m3 0h1m0 0h1m0 0h1m0 0h1m54 0h1m1 0h1m0 0h1m1 0h1m0 0h1m0 0h1m0 0h1m0 0h1m0 0h1m0 0h1m0 0h1M67 418.5h1m1 0h1m0 0h1m0 0h1m2 0h1m0 0h1m2 0h1m4 0h1m5 0h1m3 0h1m8 0h1m62 0h1m0 0h1m0 0h1m2 0h1m0 0h1m0 0h1m0 0h1m0 0h1m0 0h1m0 0h1m0 0h1M71 419.5h1m14 0h1m0 0h1m4 0h1m1 0h1m1 0h1m7 0h1m55 0h1m0 0h1m0 0h1m1 0h1m0 0h1m0 0h1m0 0h1m0 0h1M69 420.5h1m4 0h1m2 0h1m0 0h1m3 0h1m0 0h1m4 0h1m8 0h1m8 0h1m48 0h1m1 0h1m0 0h1m0 0h1m0 0h1m1 0h1m1 0h1m16 0h1M78 421.5h1m2 0h1m1 0h1m1 0h1m3 0h1m4 0h1m0 0h1m1 0h1m2 0h1m4 0h1m0 0h1m45 0h1m0 0h1m0 0h1m0 0h1m1 0h1m1 0h1m0 0h1M69 422.5h1m1 0h1m6 0h1m1 0h1m4 0h1m1 0h1m2 0h1m5 0h1m8 0h1m43 0h1m1 0h1m0 0h1m0 0h1m0 0h1m1 0h1m11 0h1m6 0h1M70 423.5h1m0 0h1m3 0h1m10 0h1m3 0h1m2 0h1m0 0h1m1 0h1m2 0h1m0 0h1m0 0h1m1 0h1m41 0h1m0 0h1m1 0h1m0 0h1m0 0h1m0 0h1m0 0h1m0 0h1M78 424.5h1m12 0h1m10 0h1m1 0h1m2 0h1m26 0h1m1 0h1m0 0h1m1 0h1m0 0h1m0 0h1m0 0h1m0 0h1m0 0h1m0 0h1m0 0h1m0 0h1m0 0h1m0 0h1m19 0h1M71 425.5h1m3 0h1m2 0h1m5 0h1m1 0h1m4 0h1m1 0h1m6 0h1m1 0h1m0 0h1m3 0h1m0 0h1m0 0h1m0 0h1m0 0h1m0 0h1m0 0h1m1 0h1m2 0h1m0 0h1m0 0h1m5 0h1m4 0h1m2 0h1m0 0h1m0 0h1m0 0h1m0 0h1m0 0h1m1 0h1m0 0h1m0 0h1m0 0h1m0 0h1m28 0h1M72 426.5h1m0 0h1m5 0h1m0 0h1m7 0h1m0 0h1m1 0h1m0 0h1m14 0h1m0 0h1m0 0h1m0 0h1m0 0h1m0 0h1m0 0h1m0 0h1m0 0h1m0 0h1m0 0h1m2 0h1m0 0h1m3 0h1m1 0h1m0 0h1m0 0h1m0 0h1m0 0h1m0 0h1m0 0h1m0 0h1m0 0h1m0 0h1M73 427.5h1m0 0h1m3 0h1m6 0h1m0 0h1m8 0h1m19 0h1m4 0h1m0 0h1m1 0h1m0 0h1m0 0h1m1 0h1m0 0h1m0 0h1m0 0h1m61 0h1M79 428.5h1m1 0h1m13 0h1m26 0h1m0 0h1m9 0h1m2 0h1M74 429.5h1m7 0h1m6 0h1m9 0h1m2 0h1m1 0h1m12 0h1m1 0h1m1 0h1m0 0h1m16 0h1m0 0h1m0 0h1M83 430.5h1m1 0h1m4 0h1m3 0h1m4 0h1m3 0h1m0 0h1m13 0h1m1 0h1m9 0h1m1 0h1m13 0h1M86 431.5h1m1 0h1m3 0h1m20 0h1m2 0h1m6 0h1m8 0h1m0 0h1m0 0h1M108 432.5h1m26 0h1m10 0h1m0 0h1m19 0h1M78 433.5h1m7 0h1m0 0h1m8 0h1m6 0h1m1 0h1m1 0h1m7 0h1M84 434.5h1m39 0h1m0 0h1M76 435.5h1m1 0h1m7 0h1m1 0h1m1 0h1m0 0h1m1 0h1m5 0h1m1 0h1m2 0h1m5 0h1m0 0h1m13 0h1m3 0h1m0 0h1m2 0h1m13 0h1M86 436.5h1m7 0h1m5 0h1m8 0h1m5 0h1m17 0h1m1 0h1M77 437.5h1m2 0h1m5 0h1m10 0h1m0 0h1m0 0h1m7 0h1m13 0h1m1 0h1M80 438.5h1m2 0h1m1 0h1m4 0h1m1 0h1m6 0h1m0 0h1m0 0h1m5 0h1m2 0h1m22 0h1m12 0h1m19 0h1M78 439.5h1m1 0h1m4 0h1m1 0h1m8 0h1m0 0h1M83 440.5h1m3 0h1m15 0h1m16 0h1m6 0h1m7 0h1m5 0h1m1 0h1m0 0h1m0 0h1M95 441.5h1m10 0h1m16 0h1m5 0h1m1 0h1m2 0h1M86 442.5h1m2 0h1m7 0h1m1 0h1m20 0h1m2 0h1m8 0h1M90 443.5h1m2 0h1m15 0h1m8 0h1M83 444.5h1m11 0h1m18 0h1m2 0h1m9 0h1m7 0h1m13 0h1M115 445.5h1M84 446.5h1m18 0h1m3 0h1m7 0h1m2 0h1m19 0h1m8 0h1M88 447.5h1m5 0h1m0 0h1m0 0h1m35 0h1m8 0h1m0 0h1M87 448.5h1m6 0h1M123 449.5h1m2 0h1m0 0h1M111 450.5h1M109 451.5h1M105 453.5h1m1 0h1" stroke="#0010ff"/><path d="M81 392.5h1M76 393.5h1m1 0h1M78 394.5h1m0 0h1m0 0h1M76 395.5h1m0 0h1M73 396.5h1M65 399.5h1M69 400.5h1M67 401.5h1M64 402.5h1m1 0h1m0 0h1m2 0h1m0 0h1M65 403.5h1m2 0h1m1 0h1M63 404.5h1m1 0h1m0 0h1m4 0h1m2 0h1m4 0h1m0 0h1M65 405.5h1m0 0h1m2 0h1m1 0h1M68 406.5h1m0 0h1m2 0h1m0 0h1m2 0h1m4 0h1m2 0h1M65 407.5h1m3 0h1m2 0h1m4 0h1m1 0h1m0 0h1m1 0h1m3 0h1M63 408.5h1m1 0h1M70 409.5h1m0 0h1m1 0h1m6 0h1m6 0h1M64 410.5h1m1 0h1m4 0h1m0 0h1m3 0h1m1 0h1m10 0h1m2 0h1M67 411.5h1m2 0h1m7 0h1m0 0h1m4 0h1m2 0h1m0 0h1m3 0h1M64 412.5h1m22 0h1m1 0h1m2 0h1m56 0h1M66 413.5h1m0 0h1m11 0h1m5 0h1m5 0h1m0 0h1m41 0h1m0 0h1m2 0h1m1 0h1m0 0h1m2 0h1m4 0h1m34 0h1M65 414.5h1m25 0h1m32 0h1m0 0h1m0 0h1m0 0h1m1 0h1m1 0h1m0 0h1m0 0h1m0 0h1m1 0h1m0 0h1m48 0h1M89 415.5h1m0 0h1m1 0h1m10 0h1m8 0h1m1 0h1m1 0h1m10 0h1m1 0h1m0 0h1m0 0h1m3 0h1m45 0h1M73 416.5h1m10 0h1m20 0h1m12 0h1m2 0h1m55 0h1M69 417.5h1m0 0h1m11 0h1m7 0h1m13 0h1m8 0h1m66 0h1M68 418.5h1m3 0h1m18 0h1m4 0h1m71 0h1m0 0h1m8 0h1M69 419.5h1m0 0h1m13 0h1m0 0h1m83 0h1M94 420.5h1m3 0h1m64 0h1M156 421.5h1m1 0h1M91 422.5h1m56 0h1m6 0h1M87 423.5h1M83 425.5h1m20 0h1m12 0h1m15 0h1M81 426.5h1m37 0h1m2 0h1m14 0h1M81 427.5h1m7 0h1m18 0h1m13 0h1m3 0h1M104 428.5h1M79 429.5h1m12 0h1m38 0h1M94 431.5h1m1 0h1m5 0h1M86 432.5h1m9 0h1m18 0h1M89 433.5h1m50 0h1M107 435.5h1m9 0h1M131 437.5h1M81 439.5h1M104 441.5h1M100 442.5h1m2 0h1M136 443.5h1m11 0h1M81 444.5h1M91 446.5h1M108 451.5h1" stroke="#4a00ff"/><path d="M75 394.5h1m6 0h1M73 395.5h1M69 397.5h1M69 398.5h1M67 400.5h1M67 403.5h1m3 0h1m0 0h1m2 0h1m2 0h1M73 404.5h1m3 0h1M75 405.5h1m2 0h1m2 0h1M63 406.5h1m1 0h1M67 407.5h1m15 0h1m1 0h1m2 0h1M64 408.5h1m20 0h1m4 0h1M92 409.5h1m0 0h1m1 0h1m3 0h1M79 410.5h1m14 0h1m3 0h1m2 0h1m88 0h1m8 0h1M66 411.5h1m1 0h1m2 0h1m1 0h1m20 0h1m3 0h1m2 0h1m0 0h1m84 0h1M71 412.5h1m10 0h1m13 0h1m2 0h1m0 0h1m0 0h1m15 0h1m3 0h1m6 0h1m4 0h1m2 0h1m3 0h1m5 0h1m39 0h1M72 413.5h1m1 0h1m6 0h1m26 0h1m1 0h1m4 0h1m3 0h1m2 0h1m5 0h1m0 0h1M71 414.5h1m15 0h1m0 0h1m20 0h1m1 0h1m0 0h1m66 0h1m0 0h1M66 415.5h1m0 0h1m3 0h1m7 0h1m6 0h1m4 0h1m23 0h1m56 0h1m2 0h1m0 0h1M67 416.5h1m3 0h1m4 0h1m91 0h1m1 0h1m2 0h1m0 0h1m0 0h1m2 0h1M68 417.5h1m2 0h1m5 0h1m13 0h1m71 0h1m0 0h1M77 418.5h1m22 0h1m55 0h1m3 0h1m2 0h1M72 419.5h1m2 0h1m0 0h1m0 0h1m4 0h1m14 0h1m56 0h1m1 0h1m2 0h1M71 420.5h1m82 0h1M73 421.5h1m19 0h1m7 0h1m2 0h1m42 0h1m0 0h1M84 422.5h1m3 0h1m10 0h1m46 0h1m0 0h1M76 423.5h1m6 0h1m24 0h1m1 0h1m2 0h1m4 0h1m10 0h1m1 0h1m0 0h1m0 0h1m2 0h1m0 0h1m0 0h1M84 424.5h1m27 0h1m1 0h1m3 0h1m0 0h1m5 0h1m12 0h1M73 425.5h1m0 0h1m10 0h1m1 0h1m17 0h1m8 0h1m7 0h1m4 0h1m2 0h1m1 0h1m20 0h1M78 426.5h1m17 0h1M91 427.5h1m13 0h1m0 0h1m7 0h1m23 0h1M73 428.5h1m3 0h1m30 0h1m7 0h1M76 429.5h1M76 430.5h1m3 0h1m8 0h1m11 0h1m20 0h1m74 0h1M82 432.5h1m38 0h1M85 433.5h1m82 0h1M78 434.5h1m13 0h1m3 0h1m23 0h1m5 0h1m5 0h1M104 436.5h1M79 437.5h1m68 0h1M79 438.5h1m14 0h1M103 439.5h1m15 0h1m11 0h1M153 440.5h1M80 441.5h1m29 0h1m19 0h1M85 442.5h1m20 0h1M81 443.5h1m7 0h1m22 0h1M82 444.5h1m2 0h1m2 0h1m5 0h1m45 0h1M97 445.5h1m14 0h1m5 0h1m11 0h1M122 447.5h1M113 451.5h1" stroke="#00a060"/></g></g><use href="#circ"/><path d="M83.3 90.4h8.0l-4.0 6.9zM112.4 82.0h8.0l-4.0 6.9zM111.1 128.7h8.0l-4.0 6.9zM185.8 124.3h8.0l-4.0 6.9zM89.2 167.0h8.0l-4.0 6.9zM202.7 59.3h8.0l-4.0 6.9zM85.4 123.7h8.0l-4.0 6.9z" fill="#000"/><circle cx="174.7" cy="78.0" r="4.6" fill="#fff"/><circle cx="174.7" cy="78.0" r="3.3" fill="#000"/><circle cx="14.5" cy="14.1" r="3.4" fill="#000"/><text x="22.3" y="16.9" class="lg">Rx</text><path d="M10.5 22.6h8l-4 7z" fill="#000"/><text x="22.3" y="28.9" class="lg" textLength="38.3" lengthAdjust="spacingAndGlyphs">Ionosonde</text><path d="M14.6 36.4l0.60 1.20 1.20 0.60-1.20 0.60-0.60 1.20-0.60-1.20-1.20-0.60 1.20-0.60z" fill="#f22"/><text x="22.3" y="41" class="lg" style="fill:#f3200f;stroke:#f3200f" textLength="40.9" lengthAdjust="spacingAndGlyphs">Effective Tx</text></g><path d="M45.5 564.8v2.0M45.5 784.6v-2.0M49.6 564.8v2.0M49.6 784.6v-2.0M53.7 564.8v4.4M53.7 784.6v-4.4M57.8 564.8v2.0M57.8 784.6v-2.0M61.9 564.8v2.0M61.9 784.6v-2.0M66.0 564.8v2.0M66.0 784.6v-2.0M70.1 564.8v2.0M70.1 784.6v-2.0M74.2 564.8v2.0M74.2 784.6v-2.0M78.3 564.8v2.0M78.3 784.6v-2.0M82.3 564.8v2.0M82.3 784.6v-2.0M86.4 564.8v2.0M86.4 784.6v-2.0M90.5 564.8v2.0M90.5 784.6v-2.0M94.6 564.8v4.4M94.6 784.6v-4.4M98.7 564.8v2.0M98.7 784.6v-2.0M102.8 564.8v2.0M102.8 784.6v-2.0M106.9 564.8v2.0M106.9 784.6v-2.0M111.0 564.8v2.0M111.0 784.6v-2.0M115.1 564.8v2.0M115.1 784.6v-2.0M119.2 564.8v2.0M119.2 784.6v-2.0M123.2 564.8v2.0M123.2 784.6v-2.0M127.3 564.8v2.0M127.3 784.6v-2.0M131.4 564.8v2.0M131.4 784.6v-2.0M135.5 564.8v4.4M135.5 784.6v-4.4M139.6 564.8v2.0M139.6 784.6v-2.0M143.7 564.8v2.0M143.7 784.6v-2.0M147.8 564.8v2.0M147.8 784.6v-2.0M151.9 564.8v2.0M151.9 784.6v-2.0M156.0 564.8v2.0M156.0 784.6v-2.0M160.0 564.8v2.0M160.0 784.6v-2.0M164.1 564.8v2.0M164.1 784.6v-2.0M168.2 564.8v2.0M168.2 784.6v-2.0M172.3 564.8v2.0M172.3 784.6v-2.0M176.4 564.8v4.4M176.4 784.6v-4.4M180.5 564.8v2.0M180.5 784.6v-2.0M184.6 564.8v2.0M184.6 784.6v-2.0M188.7 564.8v2.0M188.7 784.6v-2.0M192.8 564.8v2.0M192.8 784.6v-2.0M196.8 564.8v2.0M196.8 784.6v-2.0M200.9 564.8v2.0M200.9 784.6v-2.0M205.0 564.8v2.0M205.0 784.6v-2.0M209.1 564.8v2.0M209.1 784.6v-2.0M213.2 564.8v2.0M213.2 784.6v-2.0M217.3 564.8v4.4M217.3 784.6v-4.4M221.4 564.8v2.0M221.4 784.6v-2.0M225.5 564.8v2.0M225.5 784.6v-2.0M229.6 564.8v2.0M229.6 784.6v-2.0M233.6 564.8v2.0M233.6 784.6v-2.0M237.7 564.8v2.0M237.7 784.6v-2.0M241.8 564.8v2.0M241.8 784.6v-2.0M245.9 564.8v2.0M245.9 784.6v-2.0M250.0 564.8v2.0M250.0 784.6v-2.0M254.1 564.8v2.0M254.1 784.6v-2.0M258.2 564.8v4.4M258.2 784.6v-4.4M262.3 564.8v2.0M262.3 784.6v-2.0M266.4 564.8v2.0M266.4 784.6v-2.0M270.5 564.8v2.0M270.5 784.6v-2.0M274.5 564.8v2.0M274.5 784.6v-2.0M278.6 564.8v2.0M278.6 784.6v-2.0M282.7 564.8v2.0M282.7 784.6v-2.0M286.8 564.8v2.0M286.8 784.6v-2.0M290.9 564.8v2.0M290.9 784.6v-2.0M295.0 564.8v2.0M295.0 784.6v-2.0M299.1 564.8v4.4M299.1 784.6v-4.4M303.2 564.8v2.0M303.2 784.6v-2.0M307.3 564.8v2.0M307.3 784.6v-2.0M43.5 782.9h2.3M309.3 782.9h-2.3M43.5 778.9h2.3M309.3 778.9h-2.3M43.5 774.9h5.0M309.3 774.9h-5.0M43.5 770.9h2.3M309.3 770.9h-2.3M43.5 766.9h2.3M309.3 766.9h-2.3M43.5 762.9h2.3M309.3 762.9h-2.3M43.5 758.9h2.3M309.3 758.9h-2.3M43.5 754.9h2.3M309.3 754.9h-2.3M43.5 750.9h2.3M309.3 750.9h-2.3M43.5 746.9h2.3M309.3 746.9h-2.3M43.5 742.9h2.3M309.3 742.9h-2.3M43.5 738.9h2.3M309.3 738.9h-2.3M43.5 734.9h5.0M309.3 734.9h-5.0M43.5 730.9h2.3M309.3 730.9h-2.3M43.5 727.0h2.3M309.3 727.0h-2.3M43.5 723.0h2.3M309.3 723.0h-2.3M43.5 719.0h2.3M309.3 719.0h-2.3M43.5 715.0h2.3M309.3 715.0h-2.3M43.5 711.0h2.3M309.3 711.0h-2.3M43.5 707.0h2.3M309.3 707.0h-2.3M43.5 703.0h2.3M309.3 703.0h-2.3M43.5 699.0h2.3M309.3 699.0h-2.3M43.5 695.0h5.0M309.3 695.0h-5.0M43.5 691.0h2.3M309.3 691.0h-2.3M43.5 687.0h2.3M309.3 687.0h-2.3M43.5 683.0h2.3M309.3 683.0h-2.3M43.5 679.0h2.3M309.3 679.0h-2.3M43.5 675.0h2.3M309.3 675.0h-2.3M43.5 671.0h2.3M309.3 671.0h-2.3M43.5 667.0h2.3M309.3 667.0h-2.3M43.5 663.0h2.3M309.3 663.0h-2.3M43.5 659.0h2.3M309.3 659.0h-2.3M43.5 655.0h5.0M309.3 655.0h-5.0M43.5 651.0h2.3M309.3 651.0h-2.3M43.5 647.0h2.3M309.3 647.0h-2.3M43.5 643.0h2.3M309.3 643.0h-2.3M43.5 639.0h2.3M309.3 639.0h-2.3M43.5 635.0h2.3M309.3 635.0h-2.3M43.5 631.0h2.3M309.3 631.0h-2.3M43.5 627.0h2.3M309.3 627.0h-2.3M43.5 623.0h2.3M309.3 623.0h-2.3M43.5 619.1h2.3M309.3 619.1h-2.3M43.5 615.1h5.0M309.3 615.1h-5.0M43.5 611.1h2.3M309.3 611.1h-2.3M43.5 607.1h2.3M309.3 607.1h-2.3M43.5 603.1h2.3M309.3 603.1h-2.3M43.5 599.1h2.3M309.3 599.1h-2.3M43.5 595.1h2.3M309.3 595.1h-2.3M43.5 591.1h2.3M309.3 591.1h-2.3M43.5 587.1h2.3M309.3 587.1h-2.3M43.5 583.1h2.3M309.3 583.1h-2.3M43.5 579.1h2.3M309.3 579.1h-2.3M43.5 575.1h5.0M309.3 575.1h-5.0M43.5 571.1h2.3M309.3 571.1h-2.3M43.5 567.1h2.3M309.3 567.1h-2.3" stroke="#6a6a6a" stroke-width="1.1" fill="none"/><rect x="43.5" y="564.8" width="265.8" height="219.8" fill="none" stroke="#555" stroke-width="1.15"/><text x="53.7" y="805.5" class="tl" text-anchor="middle">80</text><text x="94.6" y="805.5" class="tl" text-anchor="middle">90</text><text x="135.5" y="805.5" class="tl" text-anchor="middle">100</text><text x="176.4" y="805.5" class="tl" text-anchor="middle">110</text><text x="217.3" y="805.5" class="tl" text-anchor="middle">120</text><text x="258.2" y="805.5" class="tl" text-anchor="middle">130</text><text x="299.1" y="805.5" class="tl" text-anchor="middle">140</text><text x="38.2" y="780.6" class="tl" text-anchor="end">-10</text><text x="38.2" y="740.6" class="tl" text-anchor="end">0</text><text x="38.2" y="700.7" class="tl" text-anchor="end">10</text><text x="38.2" y="660.7" class="tl" text-anchor="end">20</text><text x="38.2" y="620.8" class="tl" text-anchor="end">30</text><text x="38.2" y="580.8" class="tl" text-anchor="end">40</text><text x="10.6" y="674.7" class="ax" text-anchor="middle" transform="rotate(-90 10.6 674.7)" textLength="40.8" lengthAdjust="spacingAndGlyphs">Latitude</text><text x="59.8" y="764.8" class="pl">e</text><text x="508.3" y="561.1" class="tt" text-anchor="middle" textLength="129.2" lengthAdjust="spacingAndGlyphs">Rx: CNP (10.72N, 99.37E)</text><g transform="translate(375.4,564.8)"><use href="#coast"/><use href="#txs" fill="#7d7d7d"/><use href="#txs" fill="#ff2a10" clip-path="url(#rf)"/><g transform="translate(-375.4,-564.8)" fill="none" stroke-linecap="round" opacity="0.7"><path d="M461.1 735.1L460.6 739.9M453.1 736.5L451.9 741.0M447.3 737.6L446.2 740.5M443.7 742.4L442.4 745.4M434.8 739.9L432.5 743.6M424.0 745.4L421.6 748.5M425.0 742.3L422.2 745.9M418.1 747.2L415.0 750.9M412.9 720.1L410.9 721.1M387.8 728.2L384.9 729.6M416.1 712.5L412.7 714.0M405.0 717.2L403.0 718.0M437.5 701.7L434.9 702.6M401.8 714.3L399.8 715.0M403.4 710.1L401.4 710.7M410.5 704.2L408.3 704.7M375.4 712.0L372.9 712.6M381.2 705.3L378.8 705.7" stroke="#40ff00" stroke-width="1.1"/><path d="M460.0 735.0L459.5 739.3M456.5 739.9L455.7 744.3M455.9 735.8L454.9 740.7M449.0 741.3L447.8 745.1M447.5 740.9L446.2 744.6M442.3 738.5L440.8 741.7M440.3 742.6L438.3 746.7M438.8 739.0L436.7 742.8M432.1 744.2L430.2 747.3M417.3 745.0L414.7 748.0M414.3 748.4L411.0 752.1M409.4 749.8L407.2 752.1M406.6 752.7L403.4 756.0M436.8 735.6L435.0 738.4M430.9 734.0L429.3 736.0M439.5 720.7L438.1 722.2M429.7 727.5L427.2 730.0M438.2 713.7L435.4 715.9M431.5 719.2L429.9 720.5M427.7 718.1L425.0 720.0M421.7 722.3L418.9 724.3M432.5 707.3L430.5 708.2M429.3 708.8L427.4 709.6M384.0 730.0L381.3 731.3M380.7 731.6L377.9 732.9M385.1 720.2L382.9 721.0M393.7 707.9L391.0 708.6M402.3 702.0L398.5 702.6M393.1 703.4L390.7 703.8M384.6 704.8L382.6 705.1M384.3 700.8L381.3 701.1M373.5 702.0L369.8 702.4" stroke="#ff7000" stroke-width="1.1"/><path d="M458.7 735.5L458.2 738.8M458.0 740.1L457.3 744.7M457.2 736.0L456.6 739.2M453.2 741.0L452.5 744.2M450.3 737.2L449.1 740.9M446.0 741.1L444.4 745.3M434.1 744.5L432.5 747.2M429.9 743.7L427.4 747.3M421.9 746.2L419.9 748.7M412.2 746.9L410.0 749.2M406.5 750.7L404.0 753.2M430.1 722.5L428.4 724.0M400.1 732.4L397.7 734.0M422.0 712.2L418.6 713.8M394.6 725.0L391.8 726.3M391.0 726.7L389.1 727.6M433.8 705.1L431.0 706.3M426.0 705.8L423.5 706.6M414.9 709.7L411.5 710.9M382.2 721.2L379.7 722.1M410.0 708.2L407.3 709.0M386.7 715.0L383.8 715.9" stroke="#ffb000" stroke-width="1.1"/><path d="M441.4 743.3L440.1 746.1M409.2 747.9L406.7 750.5M433.2 731.2L431.8 732.9M439.2 714.5L437.0 716.4M434.6 713.3L432.4 714.9M412.0 729.1L409.7 730.7M409.2 731.1L407.2 732.5M406.1 733.2L403.0 735.4M419.6 716.5L417.4 717.6M410.3 711.3L407.9 712.1M404.3 713.4L402.4 714.1M398.4 715.5L395.0 716.7M393.7 717.2L391.6 717.9M390.1 714.0L387.8 714.7M376.1 718.1L372.5 719.2M424.0 701.2L420.8 701.9M390.2 708.7L387.4 709.3" stroke="#0010ff" stroke-width="1.1"/><path d="M427.5 744.4L424.7 748.3M421.1 743.7L418.6 746.7M434.3 722.9L432.1 725.1M424.2 727.6L421.9 729.6M420.6 728.0L418.8 729.4M414.6 727.3L412.5 728.8M397.2 728.5L393.8 730.3M414.9 703.2L411.3 704.0" stroke="#ff3000" stroke-width="1.1"/></g><g filter="url(#bl)"><g transform="translate(-375.4,-564.8) scale(1.5)" stroke-width="1" fill="none"><path d="M366 408.5h1m2 0h1m0 0h1m3 0h1m0 0h1M359 410.5h1m1 0h1m0 0h1m1 0h1m20 0h1M357 411.5h1m1 0h1m1 0h1M358 412.5h1m29 0h1M352 413.5h1m32 0h1m6 0h1M253 414.5h1m2 0h1m92 0h1m1 0h1m27 0h1M252 415.5h1m1 0h1m0 0h1m0 0h1m3 0h1m114 0h1m0 0h1m1 0h1M255 416.5h1m1 0h1m114 0h1M261 417.5h1m2 0h1m0 0h1m72 0h1m2 0h1m26 0h1M262 418.5h1m2 0h1m4 0h1m0 0h1m1 0h1m1 0h1m64 0h1m25 0h1M272 419.5h1m0 0h1m0 0h1m0 0h1m5 0h1m3 0h1m1 0h1m28 0h1m12 0h1m1 0h1m33 0h1M276 420.5h1m2 0h1m1 0h1m2 0h1m4 0h1m2 0h1m10 0h1m2 0h1m3 0h1m2 0h1m3 0h1m42 0h1m1 0h1M287 421.5h1m2 0h1m1 0h1m1 0h1m64 0h1m0 0h1M354 422.5h1m0 0h1m0 0h1M350 423.5h1m0 0h1M343 424.5h1m0 0h1m1 0h1m0 0h1M339 425.5h1m2 0h1m2 0h1M331 426.5h1m4 0h1m0 0h1M325 427.5h1m0 0h1m5 0h1M317 428.5h1m5 0h1m2 0h1M308 429.5h1m3 0h1M299 430.5h1m1 0h1m4 0h1M378 432.5h1M372 435.5h1m0 0h1M370 437.5h1M366 438.5h1m0 0h1m0 0h1M364 439.5h1M359 440.5h1m1 0h1M355 441.5h1m0 0h1M345 442.5h1m2 0h1m0 0h1m0 0h1M316 443.5h1m0 0h1m2 0h1m2 0h1m3 0h1m1 0h1m1 0h1m3 0h1m4 0h1M266 444.5h1m0 0h1m0 0h1m0 0h1m0 0h1m0 0h1m3 0h1m7 0h1m4 0h1m4 0h1m2 0h1m12 0h1M257 445.5h1M382 446.5h1m0 0h1m1 0h1m3 0h1M359 447.5h1m0 0h1m4 0h1m0 0h1m1 0h1m6 0h1m2 0h1m2 0h1m2 0h1m4 0h1M321 448.5h1m0 0h1m1 0h1m1 0h1m0 0h1m0 0h1m1 0h1m2 0h1m0 0h1m4 0h1m0 0h1m1 0h1m0 0h1m1 0h1m1 0h1m0 0h1m2 0h1m3 0h1m0 0h1m3 0h1m0 0h1m0 0h1m1 0h1m4 0h1m0 0h1M252 449.5h1m3 0h1m3 0h1m10 0h1m2 0h1m0 0h1m4 0h1m6 0h1m7 0h1m10 0h1m2 0h1m1 0h1m1 0h1m1 0h1m0 0h1m7 0h1m0 0h1m12 0h1m0 0h1m3 0h1m1 0h1M251 450.5h1m13 0h1m3 0h1m2 0h1M392 453.5h1M390 455.5h1m0 0h1M324 456.5h1m1 0h1m1 0h1m2 0h1m2 0h1m1 0h1m0 0h1m0 0h1m1 0h1m1 0h1m0 0h1m6 0h1m1 0h1m0 0h1m0 0h1m1 0h1m1 0h1m1 0h1m1 0h1m0 0h1m1 0h1m1 0h1m10 0h1m0 0h1m11 0h1M254 457.5h1m1 0h1m10 0h1m0 0h1m8 0h1m5 0h1m2 0h1m13 0h1m2 0h1m15 0h1m5 0h1M280 461.5h1m9 0h1m45 0h1m14 0h1m15 0h1m2 0h1M312 462.5h1m21 0h1m8 0h1m14 0h1m4 0h1m19 0h1M295 463.5h1m10 0h1m9 0h1m39 0h1m11 0h1M305 464.5h1m6 0h1m31 0h1m1 0h1m35 0h1M256 465.5h1m37 0h1m18 0h1m6 0h1m28 0h1m25 0h1m8 0h1m1 0h1M306 466.5h1m4 0h1m2 0h1m3 0h1m0 0h1m6 0h1m28 0h1m29 0h1M296 467.5h1m45 0h1m9 0h1m0 0h1m6 0h1m1 0h1m15 0h1m6 0h1M303 469.5h1m5 0h1m4 0h1m6 0h1m10 0h1m11 0h1m0 0h1m7 0h1m3 0h1m1 0h1m5 0h1M304 470.5h1m12 0h1m0 0h1m9 0h1m1 0h1m13 0h1m11 0h1m21 0h1m7 0h1M292 471.5h1m19 0h1m3 0h1m2 0h1m18 0h1m38 0h1m1 0h1m3 0h1M294 472.5h1m3 0h1m18 0h1m1 0h1m59 0h1M301 473.5h1m14 0h1m7 0h1m3 0h1m21 0h1m0 0h1m8 0h1m3 0h1m4 0h1m8 0h1m4 0h1M293 474.5h1m53 0h1M305 475.5h1m8 0h1m1 0h1m9 0h1m14 0h1m10 0h1m0 0h1m1 0h1m14 0h1m7 0h1m0 0h1M312 476.5h1m38 0h1m4 0h1m13 0h1M295 477.5h1m27 0h1m15 0h1m10 0h1m27 0h1M324 478.5h1m39 0h1M303 479.5h1m27 0h1m2 0h1m25 0h1m4 0h1M352 480.5h1m2 0h1m20 0h1M318 481.5h1m13 0h1M304 482.5h1m21 0h1m10 0h1m28 0h1M281 483.5h1m23 0h1m5 0h1m2 0h1m6 0h1m7 0h1m29 0h1m5 0h1m0 0h1m2 0h1M318 484.5h1M307 485.5h1m12 0h1m23 0h1m11 0h1m4 0h1m14 0h1M305 486.5h1m43 0h1M313 487.5h1m3 0h1m2 0h1m9 0h1m13 0h1m15 0h1m0 0h1m2 0h1M328 488.5h1M308 489.5h1m0 0h1m34 0h1m2 0h1m4 0h1m2 0h1M320 490.5h1m15 0h1m13 0h1m0 0h1m14 0h1M366 491.5h1M369 492.5h1M336 493.5h1M319 495.5h1m40 0h1m6 0h1M331 497.5h1" stroke="#ff3000"/><path d="M372 408.5h1m0 0h1M365 409.5h1m0 0h1m2 0h1m0 0h1m0 0h1m0 0h1m1 0h1m1 0h1m1 0h1m1 0h1M360 410.5h1m2 0h1m3 0h1m0 0h1m0 0h1m1 0h1m1 0h1m2 0h1m3 0h1m3 0h1M358 411.5h1m1 0h1m1 0h1m0 0h1m1 0h1m22 0h1M355 412.5h1m0 0h1m33 0h1M353 413.5h1m0 0h1m3 0h1m24 0h1m0 0h1m1 0h1m0 0h1m3 0h1M255 414.5h1m96 0h1m0 0h1m0 0h1m0 0h1m22 0h1m1 0h1m0 0h1m0 0h1m2 0h1M257 415.5h1m88 0h1m1 0h1m0 0h1m3 0h1m1 0h1m21 0h1m2 0h1m2 0h1M254 416.5h1m1 0h1m2 0h1m4 0h1m78 0h1m6 0h1m20 0h1m1 0h1m0 0h1m0 0h1m0 0h1m1 0h1m0 0h1M251 417.5h1m0 0h1m1 0h1m0 0h1m1 0h1m8 0h1m0 0h1m0 0h1m71 0h1m4 0h1m1 0h1m0 0h1m20 0h1m1 0h1m1 0h1m0 0h1m0 0h1m21 0h1M251 418.5h1m0 0h1m0 0h1m0 0h1m1 0h1m4 0h1m1 0h1m0 0h1m1 0h1m0 0h1m0 0h1m0 0h1m2 0h1m1 0h1m1 0h1m57 0h1m2 0h1m1 0h1m3 0h1m0 0h1m1 0h1m20 0h1m2 0h1m1 0h1m17 0h1M257 419.5h1m0 0h1m0 0h1m0 0h1m3 0h1m4 0h1m1 0h1m6 0h1m1 0h1m1 0h1m3 0h1m20 0h1m0 0h1m0 0h1m0 0h1m0 0h1m5 0h1m2 0h1m0 0h1m0 0h1m1 0h1m1 0h1m1 0h1m1 0h1m1 0h1m0 0h1m2 0h1m0 0h1m0 0h1m0 0h1m0 0h1m21 0h1m0 0h1m0 0h1m1 0h1m0 0h1m0 0h1m0 0h1m18 0h1M262 420.5h1m1 0h1m3 0h1m0 0h1m0 0h1m2 0h1m0 0h1m2 0h1m0 0h1m1 0h1m2 0h1m1 0h1m0 0h1m0 0h1m0 0h1m1 0h1m0 0h1m1 0h1m0 0h1m0 0h1m1 0h1m1 0h1m0 0h1m0 0h1m3 0h1m5 0h1m0 0h1m1 0h1m1 0h1m1 0h1m2 0h1m2 0h1m5 0h1m1 0h1m0 0h1m2 0h1m22 0h1m1 0h1m1 0h1m1 0h1m0 0h1M270 421.5h1m0 0h1m1 0h1m0 0h1m2 0h1m1 0h1m0 0h1m1 0h1m3 0h1m1 0h1m0 0h1m1 0h1m3 0h1m0 0h1m0 0h1m0 0h1m5 0h1m1 0h1m0 0h1m0 0h1m2 0h1m0 0h1m1 0h1m0 0h1m1 0h1m0 0h1m0 0h1m0 0h1m0 0h1m1 0h1m34 0h1m2 0h1m1 0h1m0 0h1m16 0h1m0 0h1M274 422.5h1m0 0h1m0 0h1m1 0h1m0 0h1m2 0h1m1 0h1m3 0h1m0 0h1m0 0h1m0 0h1m2 0h1m0 0h1m1 0h1m1 0h1m2 0h1m1 0h1m0 0h1m1 0h1m0 0h1m0 0h1m1 0h1m1 0h1m43 0h1m0 0h1m1 0h1m23 0h1m9 0h1M281 423.5h1m7 0h1m0 0h1m12 0h1m48 0h1m1 0h1m0 0h1m1 0h1m1 0h1m22 0h1m8 0h1M345 424.5h1m2 0h1m2 0h1m0 0h1m0 0h1m2 0h1m17 0h1m0 0h1m4 0h1M337 425.5h1m2 0h1m0 0h1m1 0h1m2 0h1m0 0h1m0 0h1m0 0h1m0 0h1m20 0h1m2 0h1m2 0h1M333 426.5h1m0 0h1m0 0h1m2 0h1m0 0h1m0 0h1m0 0h1m0 0h1m1 0h1m0 0h1m0 0h1m31 0h1m7 0h1M324 427.5h1m2 0h1m0 0h1m0 0h1m0 0h1m0 0h1m1 0h1m0 0h1m1 0h1m1 0h1m1 0h1m1 0h1m25 0h1m1 0h1M316 428.5h1m1 0h1m0 0h1m0 0h1m0 0h1m0 0h1m1 0h1m0 0h1m1 0h1m35 0h1m1 0h1m3 0h1M309 429.5h1m0 0h1m2 0h1m2 0h1m1 0h1m1 0h1m1 0h1m0 0h1m0 0h1m1 0h1m38 0h1m16 0h1M260 430.5h1m0 0h1m1 0h1m6 0h1m29 0h1m6 0h1m7 0h1m48 0h1M251 431.5h1m4 0h1m3 0h1m0 0h1m9 0h1m1 0h1m2 0h1m1 0h1m76 0h1m5 0h1m2 0h1M256 432.5h1m1 0h1m2 0h1m0 0h1m1 0h1m2 0h1m13 0h1m3 0h1m3 0h1m1 0h1m57 0h1m4 0h1m2 0h1m5 0h1M266 433.5h1m0 0h1m2 0h1m0 0h1m1 0h1m14 0h1m2 0h1m0 0h1m4 0h1m0 0h1m2 0h1m5 0h1m26 0h1m2 0h1m1 0h1m3 0h1m9 0h1m3 0h1M267 434.5h1m2 0h1m10 0h1m0 0h1m29 0h1m2 0h1m6 0h1m11 0h1m0 0h1m3 0h1m6 0h1m4 0h1m0 0h1m22 0h1M262 435.5h1m3 0h1m8 0h1m25 0h1m17 0h1m4 0h1m1 0h1m1 0h1m1 0h1m0 0h1m1 0h1m10 0h1M268 436.5h1m20 0h1m1 0h1m1 0h1m11 0h1m3 0h1m15 0h1m3 0h1m2 0h1m0 0h1m3 0h1m1 0h1m1 0h1M316 437.5h1m1 0h1m1 0h1m12 0h1m4 0h1m30 0h1M362 439.5h1m0 0h1m1 0h1M360 440.5h1m1 0h1M354 441.5h1m2 0h1m1 0h1M346 442.5h1m0 0h1m4 0h1m1 0h1m0 0h1m0 0h1m1 0h1m0 0h1M319 443.5h1m1 0h1m0 0h1m1 0h1m0 0h1m0 0h1m1 0h1m1 0h1m2 0h1m0 0h1m1 0h1m0 0h1m0 0h1m0 0h1m2 0h1m1 0h1m1 0h1m0 0h1m0 0h1m0 0h1m1 0h1m0 0h1M264 444.5h1m0 0h1m6 0h1m0 0h1m2 0h1m3 0h1m1 0h1m1 0h1m0 0h1m0 0h1m0 0h1m1 0h1m1 0h1m0 0h1m1 0h1m2 0h1m0 0h1m0 0h1m0 0h1m0 0h1m1 0h1m0 0h1m0 0h1m0 0h1m0 0h1m0 0h1m2 0h1m0 0h1m0 0h1m0 0h1m0 0h1m3 0h1m1 0h1m0 0h1m0 0h1m0 0h1m0 0h1m1 0h1m2 0h1m2 0h1m3 0h1m1 0h1m3 0h1M253 445.5h1m0 0h1m0 0h1m0 0h1m1 0h1m0 0h1m0 0h1m1 0h1m1 0h1m0 0h1m1 0h1m0 0h1m0 0h1m0 0h1m0 0h1m4 0h1m11 0h1m3 0h1m0 0h1m7 0h1m90 0h1m0 0h1M386 446.5h1m0 0h1m0 0h1m1 0h1m0 0h1M361 447.5h1m0 0h1m0 0h1m0 0h1m2 0h1m1 0h1m0 0h1m0 0h1m0 0h1m0 0h1m0 0h1m2 0h1m1 0h1m2 0h1m0 0h1m1 0h1m1 0h1m0 0h1m1 0h1m0 0h1m0 0h1M323 448.5h1m1 0h1m3 0h1m2 0h1m3 0h1m0 0h1m0 0h1m2 0h1m2 0h1m1 0h1m2 0h1m0 0h1m1 0h1m0 0h1m0 0h1m2 0h1m0 0h1m4 0h1m1 0h1m0 0h1m0 0h1m3 0h1m0 0h1m0 0h1m0 0h1m0 0h1m0 0h1m1 0h1m0 0h1m0 0h1m1 0h1m0 0h1m0 0h1m0 0h1m0 0h1m0 0h1m1 0h1m0 0h1M254 449.5h1m0 0h1m6 0h1m19 0h1m10 0h1m7 0h1m3 0h1m1 0h1m4 0h1m1 0h1m2 0h1m0 0h1m0 0h1m2 0h1m0 0h1m2 0h1m0 0h1m0 0h1m0 0h1m0 0h1m0 0h1m0 0h1m0 0h1m0 0h1m0 0h1m0 0h1m0 0h1m2 0h1m0 0h1m0 0h1m4 0h1m0 0h1m0 0h1m0 0h1m0 0h1m0 0h1m3 0h1m0 0h1m0 0h1m1 0h1m0 0h1m0 0h1m0 0h1m1 0h1m2 0h1m0 0h1m0 0h1m1 0h1m0 0h1m1 0h1m0 0h1m2 0h1m0 0h1m0 0h1m1 0h1m0 0h1m2 0h1m0 0h1m0 0h1M271 450.5h1m3 0h1m5 0h1m1 0h1m3 0h1m2 0h1m1 0h1m11 0h1m3 0h1m0 0h1m2 0h1m1 0h1m0 0h1m1 0h1m0 0h1m0 0h1m0 0h1m0 0h1m0 0h1m1 0h1m1 0h1m0 0h1m0 0h1m0 0h1m1 0h1m1 0h1m0 0h1m0 0h1m0 0h1m0 0h1m2 0h1m0 0h1m0 0h1m2 0h1m0 0h1m0 0h1m2 0h1m1 0h1m1 0h1m0 0h1m0 0h1M251 451.5h1m40 0h1m3 0h1m19 0h1M321 456.5h1m0 0h1m0 0h1m1 0h1m3 0h1m2 0h1m0 0h1m10 0h1m0 0h1m0 0h1m0 0h1m0 0h1m0 0h1m1 0h1m3 0h1m1 0h1m6 0h1m1 0h1m1 0h1m0 0h1m1 0h1m0 0h1m0 0h1m0 0h1m0 0h1m0 0h1m0 0h1m2 0h1m0 0h1m0 0h1m1 0h1m1 0h1m0 0h1M251 457.5h1m1 0h1m4 0h1m0 0h1m0 0h1m0 0h1m0 0h1m1 0h1m1 0h1m3 0h1m4 0h1m0 0h1m2 0h1m1 0h1m2 0h1m0 0h1m1 0h1m0 0h1m0 0h1m1 0h1m0 0h1m0 0h1m0 0h1m0 0h1m0 0h1m0 0h1m0 0h1m0 0h1m1 0h1m3 0h1m0 0h1m0 0h1m0 0h1m0 0h1m4 0h1m1 0h1m3 0h1m1 0h1m8 0h1m6 0h1m1 0h1m2 0h1m0 0h1m0 0h1m0 0h1m4 0h1m2 0h1m2 0h1m3 0h1m3 0h1m6 0h1m7 0h1m0 0h1m10 0h1M300 458.5h1M251 461.5h1m18 0h1m3 0h1m0 0h1m1 0h1m14 0h1m12 0h1m9 0h1m13 0h1m13 0h1m13 0h1m14 0h1m9 0h1M269 462.5h1m22 0h1m4 0h1m11 0h1m1 0h1m9 0h1m11 0h1m11 0h1m5 0h1m1 0h1m0 0h1m11 0h1m12 0h1M255 463.5h1m8 0h1m31 0h1m1 0h1m4 0h1m1 0h1m3 0h1m2 0h1m0 0h1m1 0h1m1 0h1m0 0h1m0 0h1m0 0h1m2 0h1m1 0h1m3 0h1m3 0h1m0 0h1m13 0h1M297 464.5h1m3 0h1m8 0h1m0 0h1m4 0h1m0 0h1m4 0h1m1 0h1m7 0h1m15 0h1m3 0h1m4 0h1m5 0h1M296 465.5h1m0 0h1m4 0h1m0 0h1m3 0h1m6 0h1m1 0h1m6 0h1m3 0h1m1 0h1m0 0h1m7 0h1m0 0h1m6 0h1m7 0h1m1 0h1m14 0h1m0 0h1m7 0h1m0 0h1M295 466.5h1m2 0h1m2 0h1m3 0h1m21 0h1m1 0h1m2 0h1m0 0h1m20 0h1m26 0h1M294 467.5h1m2 0h1m4 0h1m1 0h1m3 0h1m2 0h1m12 0h1m0 0h1m0 0h1m1 0h1m1 0h1m16 0h1m2 0h1m3 0h1m9 0h1m0 0h1m4 0h1m0 0h1m2 0h1m1 0h1m2 0h1m2 0h1m0 0h1m2 0h1m1 0h1M294 468.5h1m0 0h1m1 0h1m3 0h1m0 0h1m4 0h1m0 0h1m0 0h1m1 0h1m3 0h1m0 0h1m6 0h1m11 0h1m4 0h1m0 0h1m2 0h1m5 0h1m14 0h1m1 0h1m9 0h1m1 0h1m0 0h1m3 0h1M292 469.5h1m6 0h1m0 0h1m6 0h1m2 0h1m0 0h1m1 0h1m3 0h1m4 0h1m5 0h1m0 0h1m0 0h1m6 0h1m2 0h1m1 0h1m9 0h1m1 0h1m11 0h1m6 0h1m0 0h1m2 0h1m0 0h1m0 0h1m0 0h1m3 0h1m1 0h1m0 0h1M254 470.5h1m7 0h1m16 0h1m16 0h1m6 0h1m4 0h1m5 0h1m8 0h1m1 0h1m3 0h1m23 0h1m8 0h1m0 0h1m8 0h1M293 471.5h1m0 0h1m1 0h1m1 0h1m0 0h1m0 0h1m2 0h1m0 0h1m0 0h1m0 0h1m0 0h1m5 0h1m3 0h1m0 0h1m2 0h1m4 0h1m3 0h1m8 0h1m1 0h1m0 0h1m5 0h1m2 0h1m0 0h1m8 0h1m0 0h1m4 0h1m0 0h1m12 0h1m2 0h1M251 472.5h1m37 0h1m5 0h1m13 0h1m2 0h1m0 0h1m0 0h1m0 0h1m13 0h1m0 0h1m1 0h1m2 0h1m0 0h1m6 0h1m2 0h1m4 0h1m2 0h1m2 0h1m5 0h1m6 0h1m12 0h1M295 473.5h1m1 0h1m2 0h1m2 0h1m1 0h1m4 0h1m2 0h1m1 0h1m5 0h1m0 0h1m8 0h1m0 0h1m7 0h1m1 0h1m3 0h1m12 0h1m17 0h1m2 0h1m1 0h1m2 0h1M294 474.5h1m0 0h1m10 0h1m0 0h1m2 0h1m0 0h1m5 0h1m0 0h1m4 0h1m2 0h1m2 0h1m13 0h1m6 0h1m4 0h1m1 0h1m16 0h1m2 0h1m2 0h1m1 0h1m0 0h1M294 475.5h1m1 0h1m0 0h1m2 0h1m1 0h1m0 0h1m0 0h1m1 0h1m1 0h1m3 0h1m6 0h1m3 0h1m1 0h1m5 0h1m0 0h1m0 0h1m2 0h1m0 0h1m0 0h1m9 0h1m17 0h1m0 0h1m1 0h1m12 0h1M294 476.5h1m4 0h1m1 0h1m4 0h1m1 0h1m9 0h1m0 0h1m42 0h1m0 0h1m20 0h1m0 0h1M271 477.5h1m1 0h1m4 0h1m18 0h1m0 0h1m1 0h1m5 0h1m1 0h1m1 0h1m0 0h1m5 0h1m1 0h1m0 0h1m3 0h1m2 0h1m0 0h1m6 0h1m2 0h1m2 0h1m1 0h1m0 0h1m4 0h1m8 0h1m1 0h1m4 0h1m6 0h1m1 0h1m2 0h1m1 0h1m2 0h1m0 0h1m0 0h1M289 478.5h1m13 0h1m2 0h1m12 0h1m14 0h1m5 0h1m1 0h1m2 0h1m1 0h1m2 0h1m2 0h1m7 0h1m0 0h1M305 479.5h1m0 0h1m1 0h1m0 0h1m0 0h1m5 0h1m16 0h1m3 0h1m7 0h1m0 0h1m0 0h1m0 0h1m13 0h1m1 0h1m3 0h1m1 0h1m11 0h1m1 0h1M272 480.5h1m31 0h1m14 0h1m24 0h1m15 0h1m1 0h1m4 0h1m5 0h1m6 0h1m3 0h1M311 481.5h1m1 0h1m13 0h1m5 0h1m11 0h1m0 0h1m7 0h1m1 0h1m1 0h1m0 0h1m0 0h1m2 0h1m2 0h1m2 0h1m4 0h1m7 0h1M307 482.5h1m3 0h1m11 0h1m3 0h1m6 0h1m1 0h1m14 0h1m0 0h1m7 0h1m6 0h1m4 0h1m1 0h1m0 0h1m2 0h1m2 0h1M257 483.5h1m12 0h1m2 0h1m5 0h1m44 0h1m1 0h1m5 0h1m7 0h1m4 0h1m0 0h1m10 0h1m0 0h1m5 0h1m2 0h1m2 0h1m2 0h1m0 0h1m4 0h1m1 0h1m1 0h1m0 0h1M264 484.5h1m40 0h1m1 0h1m0 0h1m17 0h1m1 0h1m9 0h1m18 0h1m1 0h1m1 0h1m8 0h1m7 0h1m1 0h1m1 0h1M308 485.5h1m0 0h1m0 0h1m3 0h1m2 0h1m5 0h1m3 0h1m0 0h1m0 0h1m1 0h1m5 0h1m4 0h1m3 0h1m2 0h1m3 0h1m5 0h1m4 0h1m1 0h1m7 0h1m0 0h1m1 0h1M312 486.5h1m0 0h1m3 0h1m2 0h1m29 0h1m2 0h1m12 0h1m10 0h1m3 0h1M271 487.5h1m36 0h1m1 0h1m1 0h1m6 0h1m3 0h1m0 0h1m1 0h1m1 0h1m5 0h1m0 0h1m0 0h1m2 0h1m0 0h1m0 0h1m0 0h1m4 0h1m2 0h1m0 0h1m0 0h1m2 0h1m1 0h1m0 0h1m8 0h1m0 0h1m3 0h1m1 0h1m3 0h1m2 0h1M306 488.5h1m9 0h1m1 0h1m10 0h1m0 0h1m32 0h1m13 0h1m0 0h1M313 489.5h1m2 0h1m0 0h1m8 0h1m0 0h1m0 0h1m3 0h1m3 0h1m2 0h1m1 0h1m4 0h1m1 0h1m0 0h1m0 0h1m3 0h1m2 0h1m4 0h1m4 0h1m0 0h1m4 0h1M308 490.5h1m1 0h1m6 0h1m50 0h1m2 0h1m1 0h1m5 0h1M263 491.5h1m28 0h1m15 0h1m4 0h1m1 0h1m6 0h1m9 0h1m4 0h1m0 0h1m2 0h1m8 0h1m0 0h1m0 0h1m0 0h1m1 0h1m1 0h1m4 0h1m0 0h1m0 0h1m0 0h1m2 0h1m6 0h1M313 492.5h1m1 0h1m12 0h1m26 0h1m2 0h1m11 0h1m4 0h1M307 493.5h1m0 0h1m0 0h1m7 0h1m1 0h1m5 0h1m3 0h1m3 0h1m0 0h1m4 0h1m4 0h1m8 0h1m0 0h1m3 0h1m2 0h1m0 0h1m1 0h1m1 0h1m0 0h1m5 0h1m0 0h1m0 0h1M251 494.5h1m29 0h1m51 0h1m27 0h1m0 0h1M307 495.5h1m5 0h1m0 0h1m13 0h1m0 0h1m4 0h1m3 0h1m1 0h1m3 0h1m0 0h1m0 0h1m9 0h1m14 0h1M310 496.5h1m4 0h1m4 0h1m26 0h1m6 0h1m0 0h1m1 0h1M316 497.5h1m2 0h1m0 0h1m4 0h1m1 0h1m5 0h1m1 0h1m2 0h1m19 0h1m1 0h1m4 0h1M340 498.5h1m0 0h1m17 0h1m3 0h1" stroke="#ff7000"/><path d="M375 409.5h1m3 0h1M374 410.5h1M366 411.5h1m1 0h1m0 0h1m0 0h1M357 412.5h1m3 0h1m0 0h1m0 0h1m1 0h1m0 0h1m0 0h1m1 0h1m19 0h1M359 413.5h1m1 0h1m0 0h1m25 0h1m0 0h1m0 0h1M358 414.5h1m24 0h1m0 0h1m2 0h1m0 0h1m2 0h1m0 0h1m0 0h1m0 0h1M251 415.5h1m105 0h1m21 0h1m1 0h1m0 0h1m2 0h1m0 0h1M251 416.5h1m94 0h1m5 0h1m1 0h1m22 0h1m2 0h1M256 417.5h1m89 0h1m2 0h1m0 0h1m0 0h1m0 0h1m0 0h1m18 0h1m3 0h1m0 0h1m0 0h1m0 0h1M258 418.5h1m1 0h1m77 0h1m6 0h1m3 0h1m0 0h1m18 0h1m1 0h1m1 0h1m0 0h1m0 0h1M251 419.5h1m9 0h1m5 0h1m0 0h1m73 0h1m28 0h1m0 0h1m1 0h1M251 420.5h1m0 0h1m3 0h1m2 0h1m0 0h1m0 0h1m1 0h1m1 0h1m9 0h1m43 0h1m11 0h1m5 0h1m2 0h1m26 0h1m0 0h1m0 0h1m17 0h1M255 421.5h1m0 0h1m1 0h1m0 0h1m0 0h1m0 0h1m0 0h1m0 0h1m5 0h1m11 0h1m18 0h1m12 0h1m2 0h1m5 0h1m1 0h1m0 0h1m1 0h1m1 0h1m0 0h1m0 0h1m1 0h1m28 0h1m23 0h1M262 422.5h1m0 0h1m1 0h1m0 0h1m0 0h1m0 0h1m1 0h1m0 0h1m0 0h1m0 0h1m6 0h1m0 0h1m10 0h1m7 0h1m0 0h1m10 0h1m1 0h1m2 0h1m0 0h1m1 0h1m0 0h1m0 0h1m2 0h1m3 0h1m1 0h1m27 0h1m1 0h1m0 0h1m1 0h1M265 423.5h1m5 0h1m0 0h1m1 0h1m3 0h1m0 0h1m2 0h1m2 0h1m0 0h1m0 0h1m0 0h1m3 0h1m0 0h1m0 0h1m2 0h1m3 0h1m5 0h1m0 0h1m1 0h1m0 0h1m0 0h1m1 0h1m1 0h1m0 0h1m35 0h1m2 0h1m1 0h1m1 0h1m0 0h1M275 424.5h1m2 0h1m1 0h1m0 0h1m0 0h1m0 0h1m0 0h1m0 0h1m0 0h1m0 0h1m2 0h1m0 0h1m0 0h1m0 0h1m0 0h1m0 0h1m3 0h1m1 0h1m0 0h1m0 0h1m2 0h1m48 0h1m1 0h1m0 0h1m18 0h1m0 0h1m2 0h1M284 425.5h1m0 0h1m0 0h1m3 0h1m0 0h1m1 0h1m57 0h1m2 0h1m2 0h1M343 426.5h1m3 0h1m1 0h1m0 0h1m0 0h1m0 0h1m22 0h1m3 0h1M335 427.5h1m1 0h1m3 0h1m2 0h1m0 0h1m3 0h1m16 0h1M329 428.5h1m0 0h1m0 0h1m0 0h1m1 0h1m0 0h1m0 0h1m2 0h1m0 0h1m0 0h1m1 0h1m1 0h1m21 0h1m0 0h1m5 0h1M256 429.5h1m2 0h1m51 0h1m2 0h1m0 0h1m1 0h1m3 0h1m3 0h1m1 0h1m0 0h1m0 0h1m0 0h1m0 0h1m0 0h1m31 0h1m7 0h1M253 430.5h1m3 0h1m44 0h1m1 0h1m3 0h1m2 0h1m0 0h1m4 0h1m3 0h1m0 0h1m0 0h1m1 0h1M254 431.5h1m7 0h1m0 0h1m5 0h1m2 0h1m81 0h1m8 0h1m1 0h1M252 432.5h1m6 0h1m0 0h1m10 0h1m4 0h1m7 0h1m7 0h1m58 0h1m1 0h1M261 433.5h1m17 0h1m9 0h1m5 0h1m6 0h1m1 0h1m36 0h1m0 0h1m11 0h1m1 0h1m3 0h1m2 0h1M264 434.5h1m0 0h1m6 0h1m0 0h1m6 0h1m5 0h1m21 0h1m9 0h1m13 0h1m10 0h1m4 0h1m1 0h1m6 0h1M251 435.5h1m0 0h1m8 0h1m15 0h1m3 0h1m6 0h1m0 0h1m1 0h1m4 0h1m0 0h1m12 0h1m2 0h1m4 0h1m17 0h1m9 0h1m6 0h1m0 0h1m0 0h1M251 436.5h1m0 0h1m0 0h1m0 0h1m0 0h1m1 0h1m1 0h1m0 0h1m3 0h1m2 0h1m1 0h1m0 0h1m0 0h1m3 0h1m6 0h1m3 0h1m3 0h1m23 0h1m0 0h1m1 0h1m0 0h1m21 0h1m6 0h1m0 0h1m1 0h1M260 437.5h1m5 0h1m0 0h1m0 0h1m1 0h1m0 0h1m1 0h1m1 0h1m1 0h1m1 0h1m0 0h1m0 0h1m1 0h1m0 0h1m0 0h1m1 0h1m0 0h1m0 0h1m0 0h1m0 0h1m0 0h1m0 0h1m0 0h1m1 0h1m1 0h1m2 0h1m1 0h1m1 0h1m2 0h1m0 0h1m2 0h1m1 0h1m7 0h1m4 0h1m7 0h1m0 0h1m0 0h1m1 0h1m1 0h1m0 0h1m0 0h1m0 0h1M287 438.5h1m0 0h1m9 0h1m2 0h1m0 0h1m0 0h1m6 0h1m1 0h1m2 0h1m0 0h1m0 0h1m6 0h1M358 441.5h1M353 442.5h1M343 443.5h1m6 0h1m2 0h1m0 0h1m1 0h1m0 0h1m0 0h1M277 444.5h1m0 0h1m0 0h1m1 0h1m8 0h1m11 0h1m7 0h1m5 0h1m0 0h1m0 0h1m1 0h1m7 0h1m0 0h1m4 0h1m0 0h1m0 0h1m1 0h1m1 0h1m3 0h1m0 0h1m0 0h1m0 0h1m0 0h1m5 0h1M251 445.5h1m0 0h1m13 0h1m5 0h1m1 0h1m4 0h1m0 0h1m2 0h1m2 0h1m0 0h1m8 0h1m0 0h1m5 0h1m2 0h1m0 0h1m1 0h1m1 0h1m1 0h1m1 0h1m0 0h1m4 0h1m3 0h1m1 0h1m0 0h1m6 0h1M256 446.5h1m0 0h1m0 0h1M359 448.5h1m17 0h1m3 0h1m6 0h1m2 0h1M321 449.5h1m22 0h1m1 0h1m6 0h1m0 0h1m12 0h1m3 0h1m2 0h1m7 0h1m2 0h1m4 0h1m0 0h1M299 450.5h1m13 0h1m9 0h1m1 0h1m4 0h1m1 0h1m6 0h1m4 0h1m3 0h1m0 0h1m1 0h1m1 0h1m3 0h1m0 0h1m0 0h1m0 0h1m1 0h1m0 0h1m0 0h1m0 0h1m0 0h1m0 0h1m0 0h1m0 0h1m1 0h1m0 0h1m0 0h1m4 0h1m0 0h1m0 0h1m0 0h1m0 0h1m0 0h1m2 0h1m0 0h1m4 0h1M253 451.5h1m1 0h1m0 0h1m1 0h1m13 0h1m14 0h1m5 0h1m7 0h1m5 0h1m2 0h1m0 0h1m0 0h1m1 0h1m3 0h1m0 0h1m0 0h1m0 0h1m0 0h1m0 0h1m1 0h1m0 0h1m0 0h1m0 0h1m1 0h1m0 0h1m0 0h1m0 0h1m0 0h1m2 0h1m2 0h1m4 0h1m0 0h1m1 0h1m2 0h1m2 0h1m0 0h1m4 0h1m5 0h1m2 0h1m3 0h1m18 0h1M256 452.5h1m0 0h1m0 0h1m0 0h1m4 0h1m9 0h1m4 0h1m0 0h1m0 0h1m0 0h1m1 0h1m1 0h1m0 0h1m0 0h1m0 0h1m2 0h1m4 0h1m2 0h1m0 0h1m1 0h1m1 0h1m8 0h1m3 0h1M335 456.5h1m23 0h1m1 0h1m8 0h1m12 0h1m1 0h1m2 0h1m1 0h1M252 457.5h1m4 0h1m11 0h1m1 0h1m0 0h1m5 0h1m11 0h1m11 0h1m1 0h1m5 0h1m0 0h1m1 0h1m1 0h1m1 0h1m0 0h1m2 0h1m1 0h1m0 0h1m3 0h1m3 0h1m0 0h1m0 0h1m0 0h1m0 0h1m0 0h1m1 0h1m1 0h1m0 0h1m6 0h1m0 0h1m1 0h1m0 0h1m1 0h1m0 0h1m1 0h1m0 0h1m0 0h1m1 0h1m0 0h1m4 0h1m0 0h1m0 0h1m2 0h1m0 0h1m0 0h1m1 0h1m0 0h1m3 0h1m0 0h1m0 0h1m0 0h1m0 0h1M252 458.5h1m1 0h1m4 0h1m3 0h1m1 0h1m1 0h1m4 0h1m0 0h1m6 0h1m0 0h1m2 0h1m0 0h1m1 0h1m4 0h1m1 0h1m1 0h1m0 0h1m0 0h1m0 0h1m2 0h1m1 0h1m1 0h1m2 0h1m2 0h1m0 0h1m2 0h1m1 0h1m0 0h1m2 0h1m0 0h1m2 0h1m1 0h1m1 0h1m1 0h1m2 0h1m7 0h1m6 0h1m0 0h1m7 0h1M301 461.5h1m11 0h1m7 0h1m1 0h1m3 0h1m7 0h1M274 462.5h1m31 0h1m9 0h1m22 0h1M297 463.5h1m6 0h1m3 0h1m50 0h1m27 0h1M295 464.5h1m3 0h1m18 0h1m0 0h1m0 0h1m9 0h1m39 0h1M292 465.5h1m2 0h1m3 0h1m6 0h1m1 0h1m16 0h1m0 0h1m1 0h1m3 0h1m2 0h1m14 0h1m6 0h1m4 0h1m15 0h1m3 0h1m0 0h1m1 0h1m3 0h1M293 466.5h1m0 0h1m1 0h1m3 0h1m11 0h1m0 0h1m14 0h1m9 0h1m7 0h1m22 0h1M286 467.5h1m6 0h1m6 0h1m16 0h1m0 0h1m0 0h1m3 0h1m9 0h1m4 0h1m27 0h1m8 0h1M257 468.5h1m6 0h1m28 0h1m10 0h1m7 0h1m12 0h1m5 0h1m4 0h1m21 0h1m12 0h1m6 0h1m6 0h1M294 469.5h1m20 0h1m8 0h1m0 0h1m0 0h1m14 0h1m9 0h1m3 0h1M293 470.5h1m38 0h1m14 0h1m0 0h1m3 0h1m21 0h1M268 471.5h1m39 0h1m14 0h1m13 0h1m12 0h1m2 0h1m1 0h1m2 0h1m12 0h1m4 0h1M278 472.5h1m41 0h1m17 0h1m3 0h1m21 0h1m11 0h1M307 473.5h1m3 0h1m0 0h1m1 0h1m8 0h1m2 0h1m3 0h1m23 0h1m6 0h1m4 0h1m0 0h1m0 0h1m2 0h1m4 0h1m7 0h1M255 474.5h1m58 0h1m22 0h1m24 0h1m2 0h1m4 0h1m2 0h1m2 0h1M281 475.5h1m39 0h1m5 0h1m0 0h1m16 0h1m10 0h1m0 0h1m0 0h1m25 0h1M305 476.5h1m17 0h1m20 0h1m33 0h1M299 477.5h1m9 0h1m4 0h1m7 0h1m19 0h1m4 0h1m4 0h1m0 0h1m0 0h1m0 0h1m0 0h1m2 0h1m1 0h1m1 0h1m4 0h1m2 0h1m3 0h1M311 478.5h1m2 0h1m6 0h1m7 0h1m1 0h1m14 0h1m2 0h1m25 0h1M307 479.5h1m7 0h1m7 0h1m1 0h1m3 0h1m10 0h1m14 0h1m0 0h1m6 0h1m5 0h1m5 0h1m0 0h1m6 0h1M256 480.5h1m8 0h1m1 0h1m38 0h1m6 0h1m1 0h1M253 481.5h1m50 0h1m3 0h1m10 0h1m0 0h1m3 0h1m0 0h1m4 0h1m11 0h1m1 0h1m8 0h1m19 0h1m12 0h1M290 482.5h1m15 0h1m10 0h1m12 0h1m10 0h1m19 0h1m11 0h1M307 483.5h1m2 0h1m7 0h1m4 0h1m23 0h1m3 0h1m0 0h1m2 0h1m0 0h1m3 0h1m2 0h1M379 484.5h1M303 485.5h1m2 0h1m6 0h1m11 0h1m4 0h1m2 0h1m0 0h1m3 0h1m4 0h1m11 0h1m4 0h1m1 0h1m10 0h1m5 0h1m3 0h1M328 486.5h1m2 0h1m4 0h1m23 0h1m2 0h1m0 0h1M264 487.5h1m46 0h1m9 0h1m15 0h1m7 0h1m0 0h1m1 0h1m5 0h1m16 0h1m1 0h1M320 488.5h1m14 0h1m2 0h1m28 0h1m1 0h1M318 489.5h1m3 0h1m1 0h1m6 0h1m3 0h1m9 0h1m18 0h1m1 0h1m5 0h1m2 0h1m1 0h1M372 490.5h1m1 0h1M314 491.5h1m1 0h1m1 0h1m9 0h1m0 0h1m5 0h1m3 0h1m6 0h1m7 0h1m23 0h1M282 492.5h1m40 0h1M258 493.5h1m0 0h1m52 0h1m11 0h1m1 0h1m16 0h1m3 0h1m2 0h1m0 0h1m4 0h1m2 0h1m3 0h1m8 0h1M263 494.5h1m60 0h1m12 0h1m9 0h1M308 495.5h1m3 0h1m3 0h1m19 0h1m4 0h1m12 0h1m14 0h1M335 496.5h1M307 497.5h1m2 0h1m10 0h1m30 0h1M308 498.5h1" stroke="#ffb000"/><path d="M379 410.5h1m2 0h1M373 411.5h1m2 0h1m0 0h1m0 0h1m1 0h1M364 412.5h1m6 0h1m0 0h1m2 0h1M363 413.5h1m1 0h1m0 0h1m0 0h1m0 0h1m0 0h1M359 414.5h1m0 0h1m0 0h1m0 0h1m0 0h1m1 0h1m20 0h1m3 0h1M356 415.5h1m1 0h1m0 0h1m0 0h1m0 0h1m0 0h1m21 0h1m2 0h1m0 0h1m0 0h1m2 0h1m2 0h1M357 416.5h1m0 0h1m0 0h1m21 0h1m0 0h1m0 0h1m0 0h1M354 417.5h1m1 0h1m23 0h1m0 0h1m0 0h1m0 0h1m11 0h1M347 418.5h1m0 0h1m3 0h1m0 0h1m1 0h1m20 0h1m0 0h1m0 0h1M255 419.5h1m85 0h1m1 0h1m1 0h1m1 0h1m1 0h1m0 0h1m0 0h1m21 0h1m1 0h1m0 0h1m0 0h1m0 0h1M253 420.5h1m0 0h1m84 0h1m2 0h1m0 0h1m0 0h1m1 0h1m0 0h1m25 0h1m11 0h1M251 421.5h1m0 0h1m0 0h1m0 0h1m10 0h1m0 0h1m1 0h1m67 0h1m0 0h1m4 0h1m0 0h1m21 0h1m0 0h1m0 0h1m0 0h1m1 0h1m0 0h1m13 0h1m2 0h1M253 422.5h1m1 0h1m0 0h1m0 0h1m0 0h1m0 0h1m0 0h1m3 0h1m4 0h1m46 0h1m9 0h1m3 0h1m1 0h1m1 0h1m0 0h1m42 0h1m6 0h1M251 423.5h1m0 0h1m0 0h1m0 0h1m0 0h1m0 0h1m1 0h1m0 0h1m1 0h1m0 0h1m0 0h1m0 0h1m2 0h1m1 0h1m0 0h1m4 0h1m22 0h1m3 0h1m2 0h1m0 0h1m8 0h1m4 0h1m0 0h1m1 0h1m1 0h1m0 0h1m4 0h1m30 0h1m0 0h1m3 0h1m7 0h1m0 0h1m1 0h1m2 0h1m2 0h1M259 424.5h1m0 0h1m0 0h1m2 0h1m0 0h1m0 0h1m1 0h1m0 0h1m0 0h1m2 0h1m3 0h1m1 0h1m8 0h1m0 0h1m7 0h1m0 0h1m6 0h1m2 0h1m0 0h1m2 0h1m0 0h1m1 0h1m0 0h1m0 0h1m2 0h1m2 0h1m35 0h1m0 0h1m1 0h1M263 425.5h1m1 0h1m0 0h1m2 0h1m0 0h1m1 0h1m0 0h1m1 0h1m0 0h1m0 0h1m0 0h1m1 0h1m1 0h1m0 0h1m3 0h1m0 0h1m0 0h1m2 0h1m1 0h1m0 0h1m1 0h1m0 0h1m3 0h1m0 0h1m0 0h1m1 0h1m0 0h1m3 0h1m40 0h1m5 0h1m1 0h1m0 0h1m8 0h1m1 0h1m5 0h1m1 0h1M273 426.5h1m1 0h1m1 0h1m0 0h1m1 0h1m3 0h1m0 0h1m0 0h1m0 0h1m0 0h1m0 0h1m0 0h1m1 0h1m1 0h1m0 0h1m0 0h1m0 0h1m0 0h1m1 0h1m1 0h1m45 0h1m6 0h1m14 0h1M280 427.5h1m2 0h1m0 0h1m3 0h1m0 0h1m49 0h1m3 0h1m2 0h1m3 0h1m0 0h1m0 0h1m11 0h1m6 0h1m0 0h1m0 0h1m3 0h1m1 0h1M252 428.5h1m75 0h1m4 0h1m4 0h1m3 0h1m1 0h1m1 0h1m1 0h1m21 0h1m0 0h1m1 0h1m2 0h1M251 429.5h1m6 0h1m74 0h1m0 0h1m1 0h1m0 0h1m0 0h1m0 0h1m0 0h1m0 0h1m0 0h1m0 0h1m0 0h1m13 0h1m1 0h1m0 0h1m0 0h1m0 0h1m3 0h1m0 0h1m4 0h1m0 0h1M256 430.5h1m5 0h1m4 0h1m37 0h1m4 0h1m2 0h1m0 0h1m1 0h1m1 0h1m1 0h1m3 0h1m2 0h1m2 0h1m25 0h1m1 0h1m3 0h1m6 0h1m0 0h1m0 0h1m0 0h1m0 0h1m1 0h1M257 431.5h1m0 0h1m0 0h1m5 0h1m11 0h1m27 0h1m0 0h1m0 0h1m1 0h1m5 0h1m1 0h1m38 0h1m9 0h1m1 0h1m2 0h1M265 432.5h1m0 0h1m2 0h1m3 0h1m5 0h1m0 0h1m1 0h1m3 0h1m60 0h1m0 0h1m12 0h1m3 0h1M254 433.5h1m0 0h1m0 0h1m6 0h1m1 0h1m11 0h1m6 0h1m5 0h1m2 0h1m2 0h1m6 0h1m1 0h1m34 0h1m4 0h1m12 0h1m2 0h1M255 434.5h1m4 0h1m22 0h1m1 0h1m10 0h1m5 0h1m2 0h1m0 0h1m0 0h1m3 0h1m1 0h1m7 0h1m2 0h1m1 0h1m3 0h1m6 0h1m0 0h1m6 0h1m1 0h1m1 0h1m8 0h1m0 0h1m0 0h1m1 0h1m0 0h1m1 0h1M256 435.5h1m10 0h1m1 0h1m1 0h1m1 0h1m18 0h1m1 0h1m0 0h1m2 0h1m4 0h1m3 0h1m0 0h1m2 0h1m2 0h1m5 0h1m1 0h1m2 0h1m8 0h1m0 0h1m2 0h1m3 0h1m5 0h1m0 0h1m0 0h1m6 0h1m1 0h1m1 0h1M258 436.5h1m4 0h1m1 0h1m0 0h1m5 0h1m3 0h1m0 0h1m0 0h1m0 0h1m7 0h1m0 0h1m3 0h1m17 0h1m2 0h1m6 0h1m1 0h1m0 0h1m10 0h1m0 0h1m7 0h1m0 0h1m0 0h1m5 0h1m0 0h1m0 0h1m0 0h1m0 0h1m0 0h1m1 0h1m0 0h1M252 437.5h1m0 0h1m0 0h1m1 0h1m1 0h1m3 0h1m1 0h1m7 0h1m1 0h1m1 0h1m1 0h1m7 0h1m12 0h1m0 0h1m10 0h1m3 0h1m10 0h1m3 0h1m0 0h1m0 0h1m1 0h1m11 0h1m0 0h1m0 0h1m1 0h1m0 0h1m0 0h1m0 0h1m0 0h1m0 0h1m0 0h1M252 438.5h1m0 0h1m0 0h1m0 0h1m1 0h1m0 0h1m1 0h1m0 0h1m1 0h1m0 0h1m0 0h1m0 0h1m0 0h1m0 0h1m1 0h1m0 0h1m0 0h1m0 0h1m0 0h1m0 0h1m1 0h1m0 0h1m0 0h1m0 0h1m1 0h1m1 0h1m1 0h1m2 0h1m0 0h1m0 0h1m0 0h1m0 0h1m0 0h1m0 0h1m3 0h1m5 0h1m1 0h1m1 0h1m3 0h1m0 0h1m3 0h1m0 0h1m0 0h1m0 0h1m0 0h1m0 0h1m2 0h1m1 0h1m3 0h1m2 0h1m1 0h1m0 0h1m4 0h1m3 0h1m1 0h1m1 0h1M252 439.5h1m1 0h1m0 0h1m0 0h1m1 0h1m1 0h1m0 0h1m0 0h1m0 0h1m0 0h1m1 0h1m0 0h1m0 0h1m1 0h1m1 0h1m0 0h1m0 0h1m0 0h1m3 0h1m1 0h1m1 0h1m0 0h1m0 0h1m0 0h1m0 0h1m1 0h1m1 0h1m0 0h1m1 0h1m0 0h1m0 0h1m0 0h1m0 0h1m0 0h1m0 0h1m0 0h1m0 0h1m0 0h1m0 0h1m0 0h1m3 0h1m1 0h1m2 0h1m1 0h1m0 0h1m0 0h1m0 0h1m0 0h1m0 0h1m1 0h1m1 0h1m3 0h1m4 0h1m1 0h1M276 440.5h1m6 0h1m19 0h1m13 0h1m5 0h1M355 443.5h1m3 0h1M332 444.5h1m8 0h1m0 0h1m6 0h1m0 0h1m0 0h1m0 0h1m0 0h1m2 0h1m0 0h1m1 0h1m1 0h1m31 0h1M273 445.5h1m1 0h1m1 0h1m0 0h1m2 0h1m0 0h1m1 0h1m0 0h1m3 0h1m0 0h1m3 0h1m4 0h1m2 0h1m1 0h1m3 0h1m1 0h1m1 0h1m1 0h1m2 0h1m1 0h1m0 0h1m1 0h1m0 0h1m0 0h1m1 0h1m4 0h1m1 0h1m0 0h1m1 0h1m0 0h1m4 0h1m0 0h1m0 0h1m1 0h1m0 0h1m0 0h1m0 0h1m3 0h1M251 446.5h1m0 0h1m1 0h1m4 0h1m0 0h1m1 0h1m0 0h1m2 0h1m4 0h1m1 0h1m0 0h1m0 0h1m1 0h1m0 0h1m0 0h1m0 0h1m3 0h1m0 0h1m5 0h1m1 0h1m0 0h1m0 0h1m0 0h1m1 0h1m11 0h1m3 0h1m1 0h1M393 447.5h1M378 449.5h1m7 0h1M361 450.5h1m8 0h1m3 0h1m2 0h1m6 0h1m0 0h1m2 0h1m1 0h1M274 451.5h1m14 0h1m10 0h1m3 0h1m3 0h1m4 0h1m1 0h1m1 0h1m6 0h1m4 0h1m5 0h1m2 0h1m2 0h1m0 0h1m0 0h1m0 0h1m2 0h1m2 0h1m1 0h1m0 0h1m9 0h1m3 0h1m0 0h1m1 0h1m0 0h1m0 0h1m2 0h1m0 0h1m2 0h1m0 0h1m1 0h1m2 0h1m0 0h1m0 0h1m0 0h1m1 0h1M251 452.5h1m0 0h1m0 0h1m0 0h1m0 0h1m4 0h1m0 0h1m0 0h1m0 0h1m2 0h1m0 0h1m0 0h1m0 0h1m0 0h1m0 0h1m1 0h1m3 0h1m5 0h1m7 0h1m1 0h1m0 0h1m0 0h1m0 0h1m2 0h1m2 0h1m1 0h1m1 0h1m1 0h1m0 0h1m0 0h1m1 0h1m4 0h1m1 0h1m0 0h1m1 0h1m0 0h1m0 0h1m1 0h1m0 0h1m0 0h1m3 0h1m0 0h1m0 0h1m2 0h1m0 0h1m0 0h1m0 0h1m2 0h1m1 0h1m0 0h1m0 0h1m0 0h1m0 0h1m1 0h1m0 0h1m0 0h1m0 0h1m0 0h1m0 0h1m0 0h1m2 0h1m1 0h1m0 0h1m1 0h1m1 0h1m3 0h1m0 0h1m0 0h1m1 0h1m0 0h1m5 0h1m2 0h1m1 0h1m3 0h1M251 453.5h1m1 0h1m1 0h1m0 0h1m0 0h1m1 0h1m2 0h1m0 0h1m1 0h1m2 0h1m0 0h1m1 0h1m0 0h1m1 0h1m1 0h1m0 0h1m1 0h1m0 0h1m3 0h1m0 0h1m5 0h1m2 0h1m0 0h1m1 0h1m1 0h1m0 0h1m1 0h1m0 0h1m1 0h1m0 0h1m0 0h1m2 0h1m3 0h1m0 0h1m1 0h1m1 0h1m0 0h1m0 0h1m1 0h1m2 0h1m0 0h1m2 0h1m1 0h1m5 0h1m0 0h1M392 455.5h1M312 457.5h1m13 0h1m2 0h1m0 0h1m17 0h1m15 0h1m1 0h1m0 0h1m3 0h1m4 0h1m2 0h1m8 0h1m0 0h1m0 0h1M253 458.5h1m2 0h1m0 0h1m2 0h1m0 0h1m0 0h1m1 0h1m1 0h1m1 0h1m1 0h1m3 0h1m0 0h1m0 0h1m0 0h1m0 0h1m0 0h1m2 0h1m0 0h1m6 0h1m0 0h1m1 0h1m1 0h1m5 0h1m1 0h1m3 0h1m6 0h1m0 0h1m1 0h1m2 0h1m0 0h1m2 0h1m2 0h1m1 0h1m3 0h1m3 0h1m2 0h1m0 0h1m0 0h1m1 0h1m0 0h1m1 0h1m0 0h1m0 0h1m2 0h1m1 0h1m7 0h1m0 0h1m0 0h1m0 0h1m0 0h1m0 0h1m1 0h1m10 0h1m0 0h1m1 0h1m1 0h1m0 0h1m1 0h1M259 459.5h1m6 0h1m29 0h1m8 0h1m6 0h1m0 0h1m6 0h1m3 0h1m4 0h1m1 0h1M266 461.5h1m12 0h1m6 0h1m12 0h1m3 0h1m22 0h1m26 0h1m4 0h1m3 0h1m8 0h1M256 462.5h1m1 0h1m12 0h1m7 0h1m13 0h1m5 0h1m27 0h1m7 0h1m0 0h1m28 0h1m8 0h1m3 0h1m2 0h1m2 0h1M351 463.5h1m14 0h1m8 0h1M260 464.5h1m48 0h1m25 0h1m48 0h1m5 0h1M298 465.5h1m2 0h1m8 0h1m6 0h1m1 0h1m14 0h1m9 0h1m6 0h1m3 0h1m3 0h1m5 0h1m0 0h1m6 0h1m0 0h1m2 0h1m1 0h1m7 0h1M308 466.5h1m1 0h1m26 0h1m9 0h1m2 0h1m20 0h1m14 0h1M298 467.5h1m7 0h1m3 0h1m4 0h1m6 0h1m8 0h1m2 0h1m10 0h1m2 0h1m2 0h1m6 0h1M310 468.5h1m10 0h1m6 0h1m39 0h1M295 469.5h1m1 0h1m8 0h1m26 0h1m1 0h1m14 0h1m12 0h1m0 0h1m7 0h1m3 0h1m5 0h1M294 470.5h1m14 0h1m3 0h1m8 0h1m26 0h1m11 0h1m20 0h1m2 0h1M301 471.5h1m7 0h1m14 0h1m40 0h1m0 0h1m3 0h1m1 0h1m0 0h1m4 0h1m3 0h1m2 0h1M311 472.5h1m15 0h1m25 0h1m18 0h1m0 0h1M293 473.5h1m5 0h1m6 0h1m10 0h1m1 0h1m0 0h1m13 0h1m1 0h1m8 0h1m1 0h1m0 0h1m4 0h1m11 0h1m8 0h1M251 474.5h1m23 0h1m20 0h1m0 0h1m7 0h1m9 0h1m3 0h1m1 0h1m5 0h1m0 0h1m15 0h1m13 0h1m5 0h1m16 0h1m2 0h1m0 0h1M301 475.5h1m15 0h1m0 0h1m10 0h1m9 0h1m9 0h1m1 0h1m16 0h1m16 0h1M300 476.5h1m16 0h1m3 0h1m4 0h1m1 0h1m29 0h1m1 0h1m0 0h1m20 0h1m0 0h1m2 0h1M302 477.5h1m4 0h1m4 0h1m2 0h1m10 0h1m2 0h1m0 0h1m5 0h1m0 0h1m2 0h1m7 0h1m13 0h1m10 0h1m2 0h1m9 0h1M263 478.5h1m61 0h1m29 0h1M304 479.5h1m15 0h1m6 0h1m0 0h1m7 0h1m6 0h1m15 0h1m6 0h1m4 0h1m5 0h1m2 0h1M316 480.5h1m42 0h1m11 0h1m14 0h1M309 481.5h1m4 0h1m6 0h1m28 0h1m4 0h1m6 0h1m2 0h1m5 0h1m12 0h1M255 482.5h1m63 0h1m33 0h1m28 0h1m2 0h1M304 483.5h1m3 0h1m4 0h1m2 0h1m0 0h1m1 0h1m13 0h1m0 0h1m8 0h1m4 0h1m31 0h1M306 484.5h1m13 0h1m2 0h1m20 0h1m9 0h1m3 0h1m6 0h1m1 0h1M312 485.5h1m2 0h1m0 0h1m5 0h1m12 0h1m4 0h1m4 0h1m2 0h1m1 0h1m0 0h1m5 0h1m7 0h1m3 0h1m2 0h1M323 486.5h1m0 0h1m27 0h1m9 0h1M307 487.5h1m8 0h1m8 0h1m12 0h1m23 0h1m2 0h1m3 0h1m0 0h1m4 0h1m0 0h1M256 488.5h1m1 0h1m7 0h1m7 0h1m32 0h1m16 0h1m6 0h1m1 0h1m13 0h1m25 0h1M329 489.5h1m3 0h1m6 0h1m22 0h1m1 0h1m12 0h1M312 490.5h1m12 0h1m7 0h1m18 0h1m0 0h1M336 491.5h1m10 0h1m21 0h1m1 0h1m1 0h1m2 0h1M307 492.5h1m6 0h1m9 0h1m5 0h1m4 0h1m17 0h1m0 0h1m17 0h1M310 493.5h1m7 0h1m13 0h1m12 0h1m14 0h1m4 0h1M326 494.5h1m13 0h1m3 0h1M318 495.5h1m5 0h1m0 0h1m6 0h1m2 0h1m14 0h1m0 0h1m3 0h1m2 0h1M332 496.5h1m19 0h1m6 0h1m3 0h1M309 497.5h1m7 0h1m36 0h1M309 498.5h1m37 0h1" stroke="#ffff00"/><path d="M381 410.5h1M379 411.5h1m3 0h1m0 0h1m0 0h1m1 0h1M368 412.5h1m1 0h1m3 0h1m4 0h1M370 413.5h1m1 0h1m0 0h1m0 0h1m1 0h1M364 414.5h1m2 0h1m1 0h1m0 0h1m0 0h1m1 0h1m3 0h1M364 415.5h1m0 0h1m1 0h1m1 0h1m21 0h1m2 0h1M356 416.5h1m5 0h1m1 0h1m0 0h1m0 0h1m0 0h1m0 0h1m18 0h1m0 0h1m0 0h1M355 417.5h1m1 0h1m0 0h1m0 0h1m2 0h1m0 0h1m2 0h1m17 0h1m0 0h1m0 0h1m2 0h1M354 418.5h1m1 0h1m1 0h1m1 0h1m18 0h1m0 0h1m0 0h1m1 0h1m0 0h1m2 0h1M348 419.5h1m3 0h1m1 0h1m0 0h1m0 0h1m1 0h1m2 0h1m17 0h1m0 0h1m0 0h1m5 0h1m1 0h1M345 420.5h1m3 0h1m3 0h1m1 0h1m15 0h1m0 0h1m1 0h1m1 0h1m0 0h1m0 0h1m3 0h1m0 0h1m0 0h1M338 421.5h1m0 0h1m1 0h1m2 0h1m0 0h1m0 0h1m3 0h1m1 0h1m1 0h1m0 0h1m13 0h1m4 0h1m0 0h1m7 0h1M327 422.5h1m0 0h1m4 0h1m2 0h1m3 0h1m1 0h1m3 0h1m18 0h1m1 0h1m0 0h1m0 0h1m0 0h1m2 0h1m5 0h1m0 0h1m0 0h1m1 0h1m3 0h1M318 423.5h1m8 0h1m0 0h1m1 0h1m1 0h1m0 0h1m0 0h1m0 0h1m2 0h1m1 0h1m5 0h1m2 0h1m14 0h1m0 0h1m3 0h1m2 0h1m1 0h1m2 0h1m2 0h1M251 424.5h1m0 0h1m1 0h1m2 0h1m0 0h1m3 0h1m0 0h1m50 0h1m4 0h1m1 0h1m0 0h1m1 0h1m1 0h1m3 0h1m0 0h1m1 0h1m0 0h1m1 0h1m0 0h1m0 0h1m3 0h1m18 0h1m3 0h1m0 0h1m0 0h1m2 0h1m0 0h1m1 0h1m2 0h1m2 0h1M251 425.5h1m0 0h1m0 0h1m0 0h1m0 0h1m0 0h1m0 0h1m1 0h1m0 0h1m1 0h1m1 0h1m2 0h1m0 0h1m5 0h1m4 0h1m16 0h1m2 0h1m0 0h1m0 0h1m3 0h1m2 0h1m0 0h1m0 0h1m1 0h1m2 0h1m0 0h1m2 0h1m1 0h1m1 0h1m0 0h1m0 0h1m0 0h1m0 0h1m3 0h1m24 0h1m5 0h1m0 0h1m0 0h1m1 0h1m8 0h1m8 0h1M251 426.5h1m3 0h1m1 0h1m0 0h1m1 0h1m1 0h1m0 0h1m1 0h1m0 0h1m0 0h1m0 0h1m0 0h1m0 0h1m3 0h1m1 0h1m2 0h1m1 0h1m0 0h1m0 0h1m15 0h1m3 0h1m0 0h1m0 0h1m0 0h1m0 0h1m0 0h1m1 0h1m1 0h1m1 0h1m1 0h1m0 0h1m1 0h1m1 0h1m1 0h1m4 0h1m1 0h1m22 0h1m0 0h1m3 0h1m2 0h1m2 0h1m3 0h1m0 0h1m1 0h1m0 0h1m0 0h1m2 0h1M253 427.5h1m1 0h1m2 0h1m1 0h1m1 0h1m0 0h1m0 0h1m0 0h1m1 0h1m0 0h1m2 0h1m0 0h1m0 0h1m3 0h1m0 0h1m0 0h1m1 0h1m0 0h1m2 0h1m0 0h1m0 0h1m3 0h1m0 0h1m0 0h1m1 0h1m1 0h1m1 0h1m0 0h1m0 0h1m1 0h1m4 0h1m0 0h1m1 0h1m3 0h1m2 0h1m29 0h1m4 0h1m0 0h1m0 0h1m0 0h1m0 0h1m0 0h1m1 0h1m0 0h1m3 0h1m1 0h1m1 0h1m5 0h1M254 428.5h1m0 0h1m4 0h1m3 0h1m2 0h1m0 0h1m1 0h1m0 0h1m0 0h1m3 0h1m1 0h1m0 0h1m0 0h1m0 0h1m0 0h1m0 0h1m0 0h1m0 0h1m1 0h1m0 0h1m1 0h1m0 0h1m0 0h1m2 0h1m2 0h1m0 0h1m2 0h1m1 0h1m8 0h1m33 0h1m1 0h1m2 0h1m0 0h1m0 0h1m0 0h1m3 0h1m0 0h1m5 0h1m5 0h1m2 0h1m2 0h1M253 429.5h1m6 0h1m6 0h1m4 0h1m0 0h1m0 0h1m0 0h1m2 0h1m1 0h1m4 0h1m0 0h1m0 0h1m0 0h1m0 0h1m1 0h1m3 0h1m0 0h1m38 0h1m10 0h1m1 0h1m0 0h1m1 0h1m2 0h1m0 0h1m3 0h1m11 0h1m3 0h1m0 0h1M251 430.5h1m0 0h1m1 0h1m4 0h1m5 0h1m0 0h1m1 0h1m5 0h1m1 0h1m2 0h1m2 0h1m0 0h1m1 0h1m6 0h1m10 0h1m5 0h1m9 0h1m6 0h1m1 0h1m0 0h1m2 0h1m0 0h1m0 0h1m0 0h1m1 0h1m0 0h1m0 0h1m0 0h1m2 0h1m1 0h1m0 0h1m0 0h1m1 0h1m7 0h1m2 0h1m4 0h1m10 0h1M255 431.5h1m10 0h1m0 0h1m0 0h1m1 0h1m3 0h1m11 0h1m0 0h1m5 0h1m4 0h1m2 0h1m0 0h1m5 0h1m3 0h1m1 0h1m5 0h1m2 0h1m0 0h1m0 0h1m2 0h1m0 0h1m0 0h1m0 0h1m0 0h1m1 0h1m2 0h1m0 0h1m0 0h1m0 0h1m1 0h1m7 0h1m1 0h1m0 0h1m3 0h1m0 0h1m3 0h1m4 0h1m1 0h1M251 432.5h1m16 0h1m5 0h1m0 0h1m1 0h1m10 0h1m1 0h1m2 0h1m3 0h1m2 0h1m0 0h1m4 0h1m1 0h1m4 0h1m0 0h1m0 0h1m1 0h1m1 0h1m0 0h1m1 0h1m0 0h1m0 0h1m0 0h1m2 0h1m0 0h1m2 0h1m23 0h1m3 0h1m3 0h1m2 0h1m0 0h1m0 0h1m1 0h1m0 0h1m2 0h1M251 433.5h1m6 0h1m1 0h1m3 0h1m7 0h1m5 0h1m3 0h1m3 0h1m7 0h1m4 0h1m16 0h1m4 0h1m8 0h1m1 0h1m0 0h1m2 0h1m10 0h1m3 0h1m0 0h1m2 0h1m6 0h1m1 0h1m5 0h1m0 0h1M251 434.5h1m0 0h1m0 0h1m3 0h1m1 0h1m1 0h1m0 0h1m3 0h1m1 0h1m0 0h1m4 0h1m3 0h1m0 0h1m7 0h1m2 0h1m1 0h1m0 0h1m9 0h1m10 0h1m1 0h1m0 0h1m1 0h1m0 0h1m2 0h1m4 0h1m7 0h1m3 0h1m0 0h1m0 0h1m12 0h1m5 0h1m4 0h1m3 0h1m0 0h1M253 435.5h1m3 0h1m1 0h1m0 0h1m2 0h1m4 0h1m3 0h1m1 0h1m1 0h1m1 0h1m1 0h1m1 0h1m0 0h1m1 0h1m0 0h1m12 0h1m0 0h1m1 0h1m3 0h1m2 0h1m5 0h1m0 0h1m0 0h1m5 0h1m8 0h1m6 0h1m0 0h1m2 0h1m3 0h1m3 0h1m6 0h1m1 0h1m1 0h1m0 0h1m0 0h1m1 0h1m2 0h1M273 436.5h1m9 0h1m13 0h1m3 0h1m1 0h1m2 0h1m4 0h1m9 0h1m2 0h1m2 0h1m0 0h1m2 0h1m4 0h1m12 0h1m7 0h1m2 0h1m0 0h1m0 0h1m0 0h1m3 0h1M251 437.5h1m5 0h1m5 0h1m1 0h1m3 0h1m25 0h1m1 0h1m6 0h1m1 0h1m0 0h1m2 0h1m2 0h1m3 0h1m1 0h1m8 0h1m0 0h1m19 0h1m7 0h1m0 0h1m0 0h1m4 0h1M251 438.5h1m7 0h1m9 0h1m6 0h1m4 0h1m3 0h1m10 0h1m0 0h1m2 0h1m5 0h1m1 0h1m2 0h1m13 0h1m1 0h1m1 0h1m0 0h1m0 0h1m1 0h1m2 0h1m2 0h1m0 0h1m0 0h1m2 0h1m0 0h1m0 0h1m1 0h1m1 0h1m2 0h1m1 0h1m0 0h1m0 0h1m1 0h1M253 439.5h1m3 0h1m1 0h1m5 0h1m3 0h1m1 0h1m4 0h1m0 0h1m0 0h1m1 0h1m1 0h1m5 0h1m1 0h1m2 0h1m13 0h1m0 0h1m3 0h1m0 0h1m8 0h1m3 0h1m1 0h1m2 0h1m0 0h1m0 0h1m4 0h1m1 0h1m2 0h1m0 0h1m0 0h1m0 0h1m2 0h1m0 0h1m0 0h1m0 0h1m0 0h1M251 440.5h1m1 0h1m0 0h1m1 0h1m1 0h1m2 0h1m2 0h1m0 0h1m1 0h1m4 0h1m0 0h1m0 0h1m2 0h1m1 0h1m0 0h1m0 0h1m0 0h1m1 0h1m0 0h1m1 0h1m0 0h1m1 0h1m0 0h1m0 0h1m1 0h1m0 0h1m0 0h1m0 0h1m0 0h1m1 0h1m0 0h1m0 0h1m1 0h1m0 0h1m0 0h1m0 0h1m0 0h1m3 0h1m0 0h1m0 0h1m0 0h1m0 0h1m3 0h1m0 0h1m2 0h1m1 0h1m2 0h1m7 0h1m0 0h1m0 0h1m2 0h1m1 0h1m0 0h1m2 0h1M251 441.5h1m0 0h1m1 0h1m0 0h1m0 0h1m0 0h1m1 0h1m0 0h1m0 0h1m0 0h1m1 0h1m0 0h1m0 0h1m2 0h1m0 0h1m0 0h1m0 0h1m2 0h1m2 0h1m1 0h1m0 0h1m0 0h1m0 0h1m0 0h1m1 0h1m2 0h1m0 0h1m0 0h1m0 0h1m0 0h1m0 0h1m0 0h1m1 0h1m0 0h1m2 0h1m1 0h1m1 0h1m0 0h1m1 0h1m0 0h1m1 0h1m1 0h1m0 0h1m0 0h1m0 0h1m0 0h1m0 0h1m0 0h1m6 0h1m1 0h1m3 0h1m3 0h1M253 442.5h1m1 0h1m0 0h1m0 0h1m0 0h1m1 0h1m1 0h1m0 0h1m0 0h1m2 0h1m0 0h1m0 0h1m2 0h1m0 0h1m0 0h1m4 0h1m0 0h1m7 0h1m1 0h1m1 0h1m1 0h1m2 0h1m0 0h1m3 0h1m4 0h1M253 443.5h1M355 444.5h1m4 0h1m1 0h1m4 0h1m0 0h1m1 0h1m0 0h1m0 0h1m0 0h1m0 0h1m1 0h1m0 0h1m1 0h1m1 0h1m1 0h1m0 0h1m0 0h1m3 0h1m0 0h1M305 445.5h1m12 0h1m10 0h1m2 0h1m5 0h1m0 0h1m0 0h1m4 0h1m4 0h1m0 0h1m0 0h1m1 0h1m0 0h1m0 0h1m1 0h1m0 0h1m1 0h1m0 0h1m1 0h1m1 0h1m3 0h1M253 446.5h1m1 0h1m5 0h1m2 0h1m0 0h1m1 0h1m0 0h1m0 0h1m6 0h1m5 0h1m0 0h1m2 0h1m1 0h1m0 0h1m2 0h1m6 0h1m0 0h1m1 0h1m1 0h1m1 0h1m0 0h1m1 0h1m1 0h1m1 0h1m1 0h1m4 0h1m0 0h1m1 0h1m0 0h1m0 0h1m0 0h1m1 0h1m2 0h1m2 0h1m0 0h1m0 0h1m1 0h1m1 0h1m0 0h1m0 0h1m0 0h1m0 0h1m0 0h1m2 0h1m1 0h1M268 447.5h1m2 0h1m4 0h1m1 0h1m2 0h1m3 0h1m7 0h1m16 0h1M376 450.5h1m12 0h1m1 0h1M339 451.5h1m16 0h1m2 0h1m1 0h1m0 0h1m1 0h1m9 0h1m2 0h1m0 0h1m2 0h1m2 0h1m4 0h1m1 0h1M265 452.5h1m6 0h1m3 0h1m13 0h1m16 0h1m3 0h1m3 0h1m5 0h1m3 0h1m3 0h1m0 0h1m0 0h1m4 0h1m4 0h1m0 0h1m15 0h1m0 0h1m4 0h1m1 0h1m1 0h1m0 0h1m0 0h1m3 0h1m2 0h1m0 0h1m0 0h1m0 0h1m8 0h1M254 453.5h1m3 0h1m1 0h1m3 0h1m1 0h1m0 0h1m2 0h1m4 0h1m2 0h1m2 0h1m0 0h1m3 0h1m0 0h1m0 0h1m0 0h1m3 0h1m7 0h1m2 0h1m3 0h1m0 0h1m2 0h1m3 0h1m1 0h1m3 0h1m1 0h1m3 0h1m0 0h1m1 0h1m1 0h1m0 0h1m1 0h1m0 0h1m3 0h1m3 0h1m0 0h1m0 0h1m0 0h1m0 0h1m0 0h1m0 0h1m0 0h1m0 0h1m0 0h1m0 0h1m0 0h1m1 0h1m0 0h1m2 0h1m0 0h1m0 0h1m1 0h1m0 0h1m3 0h1m1 0h1m1 0h1m0 0h1m0 0h1m0 0h1m0 0h1m0 0h1m1 0h1m2 0h1m0 0h1m2 0h1M251 454.5h1m1 0h1m2 0h1m0 0h1m1 0h1m0 0h1m0 0h1m2 0h1m0 0h1m0 0h1m2 0h1m0 0h1m0 0h1m2 0h1m0 0h1m0 0h1m0 0h1m1 0h1m1 0h1m1 0h1m0 0h1m1 0h1m2 0h1m0 0h1m0 0h1m0 0h1m1 0h1m1 0h1m0 0h1m1 0h1m0 0h1m0 0h1m2 0h1m1 0h1m1 0h1m0 0h1m1 0h1m0 0h1m1 0h1m0 0h1m6 0h1m0 0h1m2 0h1m0 0h1m0 0h1m2 0h1m1 0h1m2 0h1m0 0h1m3 0h1m3 0h1m0 0h1m0 0h1m1 0h1m1 0h1m11 0h1m12 0h1m0 0h1M254 455.5h1m4 0h1m2 0h1m0 0h1m9 0h1m3 0h1m1 0h1m15 0h1m7 0h1M392 456.5h1M387 457.5h1M251 458.5h1m3 0h1m15 0h1m14 0h1m1 0h1m0 0h1m15 0h1m4 0h1m14 0h1m5 0h1m4 0h1m2 0h1m6 0h1m6 0h1m1 0h1m0 0h1m0 0h1m0 0h1m1 0h1m9 0h1m0 0h1m0 0h1m1 0h1m0 0h1m1 0h1m4 0h1m6 0h1M255 459.5h1m1 0h1m2 0h1m1 0h1m0 0h1m5 0h1m1 0h1m1 0h1m0 0h1m0 0h1m0 0h1m2 0h1m3 0h1m0 0h1m0 0h1m0 0h1m0 0h1m0 0h1m0 0h1m7 0h1m0 0h1m1 0h1m2 0h1m2 0h1m1 0h1m0 0h1m4 0h1m0 0h1m3 0h1m6 0h1m0 0h1m0 0h1m1 0h1m1 0h1m3 0h1m1 0h1m1 0h1m0 0h1m0 0h1m0 0h1m0 0h1m2 0h1m0 0h1m2 0h1m8 0h1m5 0h1m5 0h1m3 0h1m0 0h1m2 0h1m7 0h1M291 461.5h1m2 0h1m12 0h1m3 0h1m4 0h1m27 0h1m15 0h1m7 0h1m14 0h1m3 0h1m1 0h1M259 462.5h1m3 0h1m24 0h1m5 0h1m7 0h1m0 0h1m0 0h1m20 0h1m0 0h1m1 0h1m9 0h1m17 0h1m2 0h1m17 0h1m10 0h1m2 0h1M311 463.5h1m46 0h1m3 0h1m6 0h1m13 0h1M276 464.5h1m31 0h1m4 0h1m31 0h1m20 0h1m16 0h1M293 465.5h1m6 0h1m3 0h1m6 0h1m3 0h1m2 0h1m3 0h1m1 0h1m6 0h1m10 0h1m4 0h1m0 0h1m11 0h1m0 0h1m1 0h1M309 466.5h1m34 0h1m3 0h1m3 0h1m4 0h1m10 0h1m7 0h1M274 467.5h1m17 0h1m2 0h1m3 0h1m1 0h1m1 0h1m1 0h1m1 0h1m1 0h1m3 0h1m0 0h1m6 0h1m15 0h1m5 0h1m11 0h1m1 0h1m3 0h1m6 0h1m0 0h1m7 0h1m9 0h1M254 468.5h1m41 0h1m20 0h1m1 0h1m2 0h1m3 0h1m2 0h1m8 0h1m7 0h1m1 0h1m2 0h1m2 0h1m17 0h1M296 469.5h1m4 0h1m0 0h1m9 0h1m5 0h1m20 0h1m7 0h1m20 0h1m1 0h1m0 0h1m9 0h1m1 0h1M297 470.5h1m0 0h1m6 0h1m27 0h1m11 0h1m9 0h1m10 0h1m1 0h1m0 0h1m1 0h1M257 471.5h1m21 0h1m22 0h1m7 0h1m18 0h1m5 0h1m8 0h1m12 0h1m2 0h1m13 0h1m0 0h1m10 0h1M296 472.5h1m13 0h1m10 0h1m55 0h1M282 473.5h1m15 0h1m10 0h1m28 0h1m10 0h1m2 0h1m5 0h1m3 0h1m0 0h1m6 0h1m10 0h1M312 474.5h1m33 0h1m9 0h1m3 0h1m7 0h1M295 475.5h1m11 0h1m2 0h1m2 0h1m8 0h1m7 0h1m9 0h1m1 0h1m3 0h1m0 0h1m15 0h1m1 0h1m6 0h1m0 0h1m1 0h1m4 0h1m0 0h1m1 0h1M297 476.5h1m15 0h1m16 0h1m2 0h1m0 0h1m3 0h1m1 0h1m2 0h1m4 0h1m4 0h1m19 0h1M265 477.5h1m35 0h1m2 0h1m0 0h1m7 0h1m32 0h1m19 0h1m0 0h1m1 0h1m15 0h1M257 478.5h1m3 0h1m39 0h1m2 0h1m0 0h1m26 0h1m4 0h1m10 0h1m3 0h1m3 0h1m6 0h1m2 0h1m5 0h1m7 0h1M301 479.5h1m9 0h1m9 0h1m4 0h1m15 0h1m1 0h1m4 0h1m1 0h1m1 0h1m3 0h1m3 0h1M288 480.5h1m0 0h1m11 0h1m1 0h1m6 0h1m6 0h1m0 0h1m8 0h1m49 0h1m1 0h1m3 0h1M307 481.5h1m4 0h1m2 0h1m7 0h1m11 0h1m16 0h1m8 0h1m2 0h1m2 0h1m4 0h1m3 0h1m8 0h1M316 482.5h1m5 0h1m17 0h1m5 0h1m0 0h1m1 0h1m5 0h1m14 0h1m13 0h1M298 483.5h1m13 0h1m7 0h1m6 0h1m0 0h1m1 0h1m5 0h1m1 0h1m5 0h1m32 0h1m0 0h1m3 0h1M317 484.5h1m1 0h1m22 0h1m7 0h1m13 0h1m11 0h1M324 485.5h1m16 0h1m10 0h1m10 0h1m3 0h1m2 0h1m0 0h1m8 0h1M263 486.5h1m22 0h1m39 0h1m5 0h1m1 0h1m2 0h1m0 0h1m0 0h1m15 0h1m14 0h1m3 0h1m1 0h1m1 0h1m1 0h1M254 487.5h1m54 0h1m19 0h1m1 0h1m17 0h1m3 0h1m2 0h1m6 0h1m16 0h1M311 488.5h1m0 0h1m19 0h1m19 0h1m7 0h1m1 0h1m3 0h1m4 0h1m2 0h1M307 489.5h1m2 0h1m1 0h1m12 0h1m4 0h1m3 0h1m3 0h1m3 0h1m16 0h1m9 0h1M326 490.5h1m27 0h1m3 0h1M304 491.5h1m1 0h1m4 0h1m8 0h1m3 0h1m1 0h1m0 0h1m14 0h1m6 0h1m6 0h1m4 0h1m10 0h1M253 493.5h1m17 0h1m22 0h1m16 0h1m11 0h1m25 0h1m5 0h1m13 0h1M308 494.5h1m30 0h1M330 495.5h1m2 0h1m8 0h1m4 0h1m15 0h1m1 0h1M366 496.5h1M326 497.5h1m12 0h1m2 0h1m19 0h1M345 498.5h1" stroke="#40ff00"/><path d="M381 411.5h1m0 0h1M377 412.5h1m6 0h1M371 413.5h1m3 0h1m1 0h1M366 414.5h1m9 0h1M366 415.5h1m1 0h1m24 0h1M361 416.5h1m1 0h1m26 0h1m0 0h1m1 0h1m0 0h1M360 417.5h1m0 0h1m2 0h1m23 0h1m1 0h1M357 418.5h1m1 0h1m1 0h1m0 0h1m0 0h1m22 0h1m2 0h1m1 0h1M353 419.5h1m42 0h1M350 420.5h1m0 0h1m0 0h1m1 0h1m20 0h1m12 0h1M347 421.5h1m0 0h1m2 0h1m20 0h1m0 0h1m2 0h1m7 0h1M338 422.5h1m4 0h1m0 0h1m0 0h1m3 0h1m0 0h1m0 0h1m20 0h1m16 0h1M329 423.5h1m6 0h1m0 0h1m28 0h1m1 0h1m1 0h1M256 424.5h1m68 0h1m1 0h1m0 0h1m3 0h1m31 0h1M258 425.5h1m2 0h1m51 0h1m0 0h1m2 0h1m0 0h1m1 0h1m1 0h1m5 0h1m30 0h1m5 0h1M252 426.5h1m0 0h1m0 0h1m1 0h1m2 0h1m4 0h1m6 0h1m0 0h1m28 0h1m7 0h1m3 0h1m1 0h1m2 0h1m3 0h1m34 0h1m1 0h1m0 0h1m16 0h1M251 427.5h1m14 0h1m2 0h1m6 0h1m13 0h1m7 0h1m5 0h1m0 0h1m0 0h1m0 0h1m2 0h1m10 0h1m37 0h1M257 428.5h1m0 0h1m4 0h1m1 0h1m3 0h1m3 0h1m1 0h1m10 0h1m2 0h1m3 0h1m0 0h1m2 0h1m2 0h1m0 0h1m3 0h1m0 0h1m2 0h1m4 0h1m35 0h1m0 0h1m4 0h1m7 0h1M263 429.5h1m5 0h1m7 0h1m3 0h1m0 0h1m1 0h1m7 0h1m0 0h1m0 0h1m9 0h1m2 0h1m42 0h1m2 0h1M275 430.5h1m18 0h1m2 0h1m33 0h1m4 0h1m4 0h1m0 0h1M252 431.5h1m26 0h1m2 0h1m9 0h1m3 0h1m3 0h1m2 0h1m0 0h1m5 0h1m0 0h1m1 0h1m2 0h1m1 0h1m0 0h1m1 0h1m4 0h1m0 0h1m5 0h1m1 0h1m0 0h1m6 0h1m0 0h1m0 0h1m0 0h1m12 0h1M253 432.5h1m29 0h1m25 0h1m8 0h1m16 0h1m0 0h1m0 0h1m4 0h1m15 0h1m3 0h1m7 0h1M306 433.5h1m22 0h1m16 0h1m22 0h1M277 434.5h1m20 0h1m26 0h1m3 0h1m3 0h1m10 0h1m22 0h1m0 0h1m0 0h1M264 435.5h1m5 0h1m22 0h1m51 0h1M280 436.5h1m15 0h1m1 0h1m0 0h1m0 0h1m1 0h1m5 0h1m55 0h1m0 0h1M360 437.5h1m0 0h1M354 438.5h1m3 0h1M251 439.5h1m75 0h1m2 0h1m6 0h1m1 0h1m1 0h1m0 0h1m4 0h1m0 0h1m5 0h1M252 440.5h1m2 0h1m1 0h1m1 0h1m0 0h1m1 0h1m0 0h1m2 0h1m1 0h1m1 0h1m4 0h1m10 0h1m6 0h1m5 0h1m9 0h1m0 0h1m0 0h1m6 0h1m3 0h1m2 0h1m1 0h1m2 0h1m0 0h1m2 0h1m1 0h1m3 0h1m0 0h1M253 441.5h1m4 0h1m4 0h1m4 0h1m4 0h1m0 0h1m1 0h1m0 0h1m7 0h1m1 0h1m0 0h1m7 0h1m2 0h1m0 0h1m1 0h1m1 0h1m2 0h1m2 0h1m1 0h1m9 0h1m0 0h1m7 0h1m2 0h1M251 442.5h1m0 0h1m1 0h1m6 0h1m4 0h1m4 0h1M363 444.5h1m0 0h1m0 0h1m0 0h1m2 0h1m5 0h1m2 0h1m1 0h1m1 0h1m8 0h1M341 445.5h1m23 0h1m6 0h1M272 446.5h1m8 0h1m5 0h1m2 0h1m17 0h1m8 0h1m9 0h1m9 0h1m8 0h1m9 0h1M257 447.5h1m0 0h1m3 0h1m3 0h1m0 0h1m4 0h1m11 0h1M392 448.5h1M393 449.5h1M361 452.5h1m21 0h1m0 0h1m1 0h1m1 0h1m1 0h1M252 453.5h1m20 0h1m9 0h1m8 0h1m3 0h1m14 0h1m13 0h1m14 0h1m1 0h1m0 0h1m0 0h1m12 0h1m2 0h1m0 0h1m3 0h1m2 0h1m1 0h1m1 0h1m1 0h1m6 0h1m1 0h1m3 0h1m0 0h1m1 0h1M252 454.5h1m1 0h1m0 0h1m2 0h1m3 0h1m4 0h1m0 0h1m3 0h1m0 0h1m4 0h1m1 0h1m1 0h1m4 0h1m0 0h1m6 0h1m2 0h1m3 0h1m0 0h1m3 0h1m2 0h1m2 0h1m3 0h1m0 0h1m0 0h1m0 0h1m3 0h1m0 0h1m6 0h1m5 0h1m1 0h1m7 0h1m1 0h1m1 0h1m1 0h1m2 0h1m2 0h1m13 0h1M256 455.5h1m0 0h1m10 0h1m24 0h1M258 458.5h1m114 0h1m2 0h1m1 0h1m5 0h1m2 0h1m2 0h1m0 0h1M251 459.5h1m2 0h1m3 0h1m6 0h1m2 0h1m3 0h1m7 0h1m0 0h1m0 0h1m7 0h1m0 0h1m10 0h1m1 0h1m6 0h1m6 0h1m2 0h1m12 0h1m4 0h1m6 0h1m2 0h1m0 0h1m1 0h1m3 0h1m0 0h1m0 0h1m2 0h1m0 0h1m8 0h1m11 0h1M272 461.5h1m31 0h1m51 0h1M260 462.5h1m3 0h1m1 0h1m5 0h1m8 0h1m48 0h1m24 0h1m20 0h1m10 0h1M253 463.5h1m77 0h1M256 464.5h1m66 0h1M349 467.5h1M253 468.5h1m44 0h1M361 469.5h1M336 471.5h1m32 0h1M301 472.5h1M318 473.5h1M265 474.5h1m105 0h1M302 476.5h1M344 478.5h1M367 479.5h1M311 480.5h1M351 481.5h1M313 482.5h1m17 0h1m47 0h1M294 488.5h1M261 489.5h1M307 490.5h1m26 0h1m14 0h1M331 493.5h1" stroke="#00a060"/><path d="M386 411.5h1M378 412.5h1m3 0h1m2 0h1m0 0h1m0 0h1M378 413.5h1m0 0h1m0 0h1M374 414.5h1m0 0h1M370 415.5h1m2 0h1m0 0h1M392 416.5h1m2 0h1m0 0h1M367 417.5h1m19 0h1m3 0h1m1 0h1m2 0h1M364 418.5h1m23 0h1m3 0h1m0 0h1m2 0h1M357 419.5h1m1 0h1m0 0h1m21 0h1m1 0h1m5 0h1m1 0h1m0 0h1m0 0h1m2 0h1m0 0h1M356 420.5h1m1 0h1m21 0h1m8 0h1m0 0h1m1 0h1m0 0h1m0 0h1m0 0h1m0 0h1m0 0h1M353 421.5h1m23 0h1m0 0h1m0 0h1m0 0h1m6 0h1m1 0h1m0 0h1m0 0h1m0 0h1m0 0h1m0 0h1m0 0h1M352 422.5h1m23 0h1m9 0h1m3 0h1m1 0h1M339 423.5h1m1 0h1m0 0h1m0 0h1m0 0h1m2 0h1m0 0h1m22 0h1m1 0h1m5 0h1m5 0h1m0 0h1m0 0h1m1 0h1m2 0h1M339 424.5h1m0 0h1m0 0h1m26 0h1m0 0h1m13 0h1m1 0h1m0 0h1m0 0h1m2 0h1M329 425.5h1m0 0h1m2 0h1m0 0h1m0 0h1m32 0h1m0 0h1m6 0h1m4 0h1m1 0h1m1 0h1m0 0h1m0 0h1m0 0h1M324 426.5h1m0 0h1m0 0h1m0 0h1m34 0h1m0 0h1m1 0h1m0 0h1m14 0h1m0 0h1m1 0h1m0 0h1m1 0h1M254 427.5h1m1 0h1m0 0h1m1 0h1m1 0h1m52 0h1m1 0h1m0 0h1m1 0h1m0 0h1m1 0h1m40 0h1m16 0h1m1 0h1m0 0h1m0 0h1m0 0h1m0 0h1M251 428.5h1m1 0h1m5 0h1m1 0h1m0 0h1m3 0h1m36 0h1m3 0h1m2 0h1m0 0h1m45 0h1m0 0h1m2 0h1m0 0h1m14 0h1m2 0h1m1 0h1m0 0h1m0 0h1M252 429.5h1m1 0h1m2 0h1m4 0h1m1 0h1m0 0h1m2 0h1m2 0h1m18 0h1m6 0h1m1 0h1m0 0h1m0 0h1m0 0h1m0 0h1m1 0h1m0 0h1m49 0h1m13 0h1m6 0h1m0 0h1m0 0h1m0 0h1m0 0h1m1 0h1M255 430.5h1m8 0h1m4 0h1m1 0h1m0 0h1m0 0h1m4 0h1m2 0h1m4 0h1m0 0h1m1 0h1m0 0h1m5 0h1m51 0h1m1 0h1m0 0h1m1 0h1m0 0h1m0 0h1m5 0h1m4 0h1m7 0h1m2 0h1m0 0h1m0 0h1m0 0h1m0 0h1M264 431.5h1m10 0h1m4 0h1m0 0h1m1 0h1m0 0h1m0 0h1m2 0h1m5 0h1m0 0h1m1 0h1m1 0h1m41 0h1m5 0h1m24 0h1m0 0h1m0 0h1m1 0h1m0 0h1m1 0h1m0 0h1M254 432.5h1m0 0h1m1 0h1m20 0h1m8 0h1m6 0h1m0 0h1m0 0h1m1 0h1m0 0h1m3 0h1m1 0h1m4 0h1m0 0h1m4 0h1m9 0h1m3 0h1m0 0h1m1 0h1m4 0h1m0 0h1m0 0h1m2 0h1m0 0h1m0 0h1m4 0h1m1 0h1m2 0h1m3 0h1m13 0h1m0 0h1m1 0h1m0 0h1M252 433.5h1m0 0h1m5 0h1m8 0h1m0 0h1m6 0h1m4 0h1m3 0h1m1 0h1m12 0h1m7 0h1m0 0h1m0 0h1m0 0h1m0 0h1m0 0h1m0 0h1m0 0h1m1 0h1m0 0h1m0 0h1m2 0h1m0 0h1m1 0h1m0 0h1m0 0h1m3 0h1m12 0h1m3 0h1m1 0h1m8 0h1m8 0h1m3 0h1m1 0h1m0 0h1m0 0h1M256 434.5h1m1 0h1m4 0h1m7 0h1m3 0h1m0 0h1m7 0h1m4 0h1m1 0h1m2 0h1m0 0h1m5 0h1m7 0h1m0 0h1m16 0h1m25 0h1m0 0h1m17 0h1m0 0h1m0 0h1M258 435.5h1m6 0h1m13 0h1m4 0h1m20 0h1m6 0h1m8 0h1m5 0h1m9 0h1m14 0h1m17 0h1M274 436.5h1m6 0h1m3 0h1m21 0h1m4 0h1m6 0h1m6 0h1m3 0h1m7 0h1m27 0h1m1 0h1m0 0h1m0 0h1M302 437.5h1m18 0h1m1 0h1m1 0h1m39 0h1m0 0h1m0 0h1m0 0h1M361 438.5h1m0 0h1m0 0h1m0 0h1m0 0h1M356 439.5h1m0 0h1m0 0h1m0 0h1m0 0h1m0 0h1M346 440.5h1m0 0h1m2 0h1m1 0h1m0 0h1m0 0h1m0 0h1m0 0h1m0 0h1m0 0h1M320 441.5h1m0 0h1m3 0h1m1 0h1m1 0h1m0 0h1m7 0h1m0 0h1m1 0h1m1 0h1m0 0h1m0 0h1m1 0h1m0 0h1m2 0h1m0 0h1m0 0h1M259 442.5h1m10 0h1m5 0h1m0 0h1m0 0h1m2 0h1m1 0h1m1 0h1m0 0h1m0 0h1m1 0h1m1 0h1m1 0h1m1 0h1m0 0h1m2 0h1m1 0h1m1 0h1m0 0h1m0 0h1m0 0h1m1 0h1m0 0h1m0 0h1m0 0h1m0 0h1m0 0h1m0 0h1m0 0h1m0 0h1m1 0h1m0 0h1m0 0h1m0 0h1m0 0h1m1 0h1m0 0h1m0 0h1m0 0h1m0 0h1m1 0h1m0 0h1m2 0h1m0 0h1m0 0h1m0 0h1m1 0h1m0 0h1m0 0h1m0 0h1m1 0h1M251 443.5h1m2 0h1m0 0h1m0 0h1m0 0h1m1 0h1m0 0h1m0 0h1m1 0h1m0 0h1m1 0h1m0 0h1m0 0h1m0 0h1m0 0h1m0 0h1m0 0h1m0 0h1m0 0h1m1 0h1m0 0h1m0 0h1m0 0h1m0 0h1m0 0h1m0 0h1m0 0h1m0 0h1m0 0h1m0 0h1m0 0h1m0 0h1m0 0h1m0 0h1m0 0h1m0 0h1m0 0h1m0 0h1m0 0h1m2 0h1m0 0h1m0 0h1m0 0h1m0 0h1m0 0h1m0 0h1m0 0h1m0 0h1m0 0h1m0 0h1m0 0h1m0 0h1m0 0h1m0 0h1m0 0h1m0 0h1M251 444.5h1m1 0h1m0 0h1m0 0h1m0 0h1m0 0h1m0 0h1m1 0h1m0 0h1m0 0h1m0 0h1m122 0h1m0 0h1m0 0h1M363 445.5h1m3 0h1m0 0h1m0 0h1m4 0h1m0 0h1m0 0h1m0 0h1m2 0h1m0 0h1m0 0h1m0 0h1m0 0h1m0 0h1m0 0h1m0 0h1m0 0h1m0 0h1m0 0h1m0 0h1M319 446.5h1m10 0h1m1 0h1m6 0h1m7 0h1m1 0h1m1 0h1m0 0h1m1 0h1m2 0h1m0 0h1m0 0h1m1 0h1m0 0h1m0 0h1m3 0h1m1 0h1m0 0h1m0 0h1m0 0h1m1 0h1m0 0h1m1 0h1m1 0h1m0 0h1m0 0h1M252 447.5h1m0 0h1m1 0h1m0 0h1m3 0h1m3 0h1m0 0h1m4 0h1m2 0h1m1 0h1m1 0h1m1 0h1m0 0h1m1 0h1m0 0h1m2 0h1m0 0h1m0 0h1m1 0h1m4 0h1m0 0h1m1 0h1m0 0h1m0 0h1m0 0h1m0 0h1m2 0h1m3 0h1m1 0h1m0 0h1m1 0h1m0 0h1m0 0h1m0 0h1m0 0h1m0 0h1m0 0h1m1 0h1m0 0h1m1 0h1m0 0h1m0 0h1m0 0h1m0 0h1m0 0h1m0 0h1m2 0h1m0 0h1m1 0h1m1 0h1m0 0h1m0 0h1m1 0h1m0 0h1m1 0h1m1 0h1m1 0h1m0 0h1m1 0h1m0 0h1m0 0h1m1 0h1m0 0h1M251 448.5h1m0 0h1m0 0h1m0 0h1m0 0h1m2 0h1m0 0h1m1 0h1m0 0h1m0 0h1m0 0h1m0 0h1m1 0h1m2 0h1m0 0h1m0 0h1m0 0h1m0 0h1m0 0h1m0 0h1m0 0h1m1 0h1m0 0h1m0 0h1m0 0h1m1 0h1m0 0h1m0 0h1m1 0h1m0 0h1m1 0h1m0 0h1m0 0h1m0 0h1m0 0h1m0 0h1m0 0h1m0 0h1m2 0h1m0 0h1m0 0h1m0 0h1m0 0h1m0 0h1m0 0h1m0 0h1m0 0h1m0 0h1m4 0h1m0 0h1m1 0h1m1 0h1m72 0h1M321 454.5h1m8 0h1m4 0h1m3 0h1m2 0h1m0 0h1m0 0h1m8 0h1m1 0h1m0 0h1m1 0h1m0 0h1m1 0h1m0 0h1m1 0h1m0 0h1m0 0h1m0 0h1m0 0h1m0 0h1m0 0h1m0 0h1m0 0h1m2 0h1m4 0h1m0 0h1m1 0h1m0 0h1m1 0h1m0 0h1m0 0h1m0 0h1m0 0h1m0 0h1M251 455.5h1m0 0h1m2 0h1m2 0h1m1 0h1m0 0h1m2 0h1m1 0h1m0 0h1m2 0h1m0 0h1m0 0h1m2 0h1m2 0h1m1 0h1m0 0h1m0 0h1m0 0h1m1 0h1m0 0h1m1 0h1m1 0h1m0 0h1m0 0h1m1 0h1m1 0h1m0 0h1m2 0h1m1 0h1m1 0h1m0 0h1m0 0h1m1 0h1m0 0h1m0 0h1m0 0h1m0 0h1m0 0h1m0 0h1m0 0h1m0 0h1m0 0h1m1 0h1m0 0h1m0 0h1m4 0h1m0 0h1m1 0h1m0 0h1m1 0h1m0 0h1m0 0h1m0 0h1m0 0h1m0 0h1m0 0h1m0 0h1m0 0h1m0 0h1m0 0h1m0 0h1m0 0h1m0 0h1m0 0h1m0 0h1m0 0h1m0 0h1m0 0h1m0 0h1m0 0h1m0 0h1m0 0h1m0 0h1m0 0h1m0 0h1m0 0h1m0 0h1m0 0h1m0 0h1m1 0h1m0 0h1m1 0h1m1 0h1m0 0h1m1 0h1m0 0h1m0 0h1m0 0h1m0 0h1m0 0h1m0 0h1m1 0h1m1 0h1m0 0h1m0 0h1m0 0h1m0 0h1m0 0h1m0 0h1m0 0h1m0 0h1M251 456.5h1m0 0h1m0 0h1m0 0h1m1 0h1m0 0h1m0 0h1m0 0h1m0 0h1m0 0h1m2 0h1m0 0h1m1 0h1m0 0h1m0 0h1m0 0h1m1 0h1m0 0h1m0 0h1m1 0h1m0 0h1m0 0h1m0 0h1m0 0h1m1 0h1m1 0h1m0 0h1m0 0h1m0 0h1m0 0h1m0 0h1m1 0h1m0 0h1m0 0h1m0 0h1m0 0h1m1 0h1m0 0h1m0 0h1m0 0h1m0 0h1m0 0h1m0 0h1m0 0h1m0 0h1m0 0h1m0 0h1m0 0h1m1 0h1m0 0h1m0 0h1m0 0h1m0 0h1m0 0h1m0 0h1m0 0h1m1 0h1m0 0h1M252 459.5h1m3 0h1m4 0h1m5 0h1m2 0h1m6 0h1m14 0h1m2 0h1m5 0h1m20 0h1m10 0h1m19 0h1m0 0h1m4 0h1m3 0h1m0 0h1m0 0h1m1 0h1m1 0h1m3 0h1m0 0h1m0 0h1m3 0h1m4 0h1m0 0h1m0 0h1m0 0h1m1 0h1m0 0h1m0 0h1M252 460.5h1m0 0h1m0 0h1m1 0h1m0 0h1m0 0h1m0 0h1m0 0h1m0 0h1m0 0h1m0 0h1m1 0h1m0 0h1m1 0h1m1 0h1m0 0h1m0 0h1m0 0h1m0 0h1m0 0h1m0 0h1m3 0h1m0 0h1m0 0h1m1 0h1m0 0h1m0 0h1m0 0h1m0 0h1m0 0h1m0 0h1m0 0h1m0 0h1m2 0h1m0 0h1m0 0h1m0 0h1m0 0h1m2 0h1m0 0h1m0 0h1m0 0h1m0 0h1m0 0h1m0 0h1m0 0h1m0 0h1m0 0h1m0 0h1m0 0h1m3 0h1m0 0h1m0 0h1m1 0h1m0 0h1m1 0h1m0 0h1m1 0h1m0 0h1m1 0h1m1 0h1m0 0h1m0 0h1m1 0h1m1 0h1m0 0h1m1 0h1m1 0h1m0 0h1m0 0h1m0 0h1m0 0h1m0 0h1m0 0h1m0 0h1m0 0h1m0 0h1m0 0h1m1 0h1m0 0h1m0 0h1m0 0h1m1 0h1m0 0h1m0 0h1m1 0h1m0 0h1m0 0h1m0 0h1m0 0h1m1 0h1m0 0h1m0 0h1m0 0h1m0 0h1m1 0h1m0 0h1m0 0h1m1 0h1m0 0h1m0 0h1m0 0h1m2 0h1m0 0h1m0 0h1m0 0h1m0 0h1M278 461.5h1m5 0h1m2 0h1m21 0h1m0 0h1m1 0h1m12 0h1m16 0h1m6 0h1m0 0h1m22 0h1m5 0h1m8 0h1M278 462.5h1m10 0h1m20 0h1m20 0h1m38 0h1m2 0h1m15 0h1M257 463.5h1M300 464.5h1m3 0h1m16 0h1m27 0h1m30 0h1M312 465.5h1m8 0h1m19 0h1m22 0h1m3 0h1m0 0h1m6 0h1M292 466.5h1m29 0h1m20 0h1m44 0h1M312 467.5h1m7 0h1m11 0h1m2 0h1m10 0h1m12 0h1m21 0h1M303 468.5h1m2 0h1m6 0h1m16 0h1m12 0h1m11 0h1m7 0h1m5 0h1m3 0h1M348 469.5h1m9 0h1M320 470.5h1m36 0h1m26 0h1M295 471.5h1m24 0h1m6 0h1m6 0h1m8 0h1m1 0h1m0 0h1m0 0h1m1 0h1m6 0h1m7 0h1M303 472.5h1m18 0h1m26 0h1m21 0h1M302 473.5h1m24 0h1m7 0h1m36 0h1M322 474.5h1m1 0h1m11 0h1m3 0h1m0 0h1m44 0h1M260 475.5h1m18 0h1m19 0h1m20 0h1m23 0h1m5 0h1m9 0h1m13 0h1m2 0h1M279 476.5h1m36 0h1m19 0h1m28 0h1M296 477.5h1m28 0h1m19 0h1m34 0h1M310 478.5h1m62 0h1m0 0h1m2 0h1m1 0h1M314 479.5h1m2 0h1m0 0h1m3 0h1m7 0h1m1 0h1m17 0h1m21 0h1M307 480.5h1m25 0h1m16 0h1m27 0h1M297 481.5h1m12 0h1m6 0h1m16 0h1m1 0h1m20 0h1M312 482.5h1m19 0h1m11 0h1m19 0h1M290 483.5h1m15 0h1m24 0h1m21 0h1m7 0h1M284 484.5h1m6 0h1M260 485.5h1m44 0h1m15 0h1m14 0h1m17 0h1m3 0h1m9 0h1m9 0h1M282 486.5h1m42 0h1m4 0h1m25 0h1m0 0h1m14 0h1M261 487.5h1m43 0h1m0 0h1m36 0h1M314 488.5h1m4 0h1m2 0h1m28 0h1m24 0h1M320 489.5h1m22 0h1M261 490.5h1m3 0h1m11 0h1m40 0h1m11 0h1m28 0h1M323 491.5h1m7 0h1m1 0h1m9 0h1M303 492.5h1m23 0h1m19 0h1m11 0h1M314 493.5h1m6 0h1m16 0h1m1 0h1m1 0h1m3 0h1m10 0h1m10 0h1M355 494.5h1M352 495.5h1M325 496.5h1m8 0h1M336 497.5h1" stroke="#0010ff"/><path d="M380 412.5h1m2 0h1M381 413.5h1M371 415.5h1m0 0h1M397 416.5h1M365 417.5h1m26 0h1m1 0h1M385 418.5h1m9 0h1m1 0h1m0 0h1M385 419.5h1m5 0h1m3 0h1M379 420.5h1m1 0h1M347 422.5h1m27 0h1m1 0h1m10 0h1m2 0h1m1 0h1M345 423.5h1m42 0h1m1 0h1M372 424.5h1m11 0h1m4 0h1M367 425.5h1m14 0h1M380 426.5h1m2 0h1M252 427.5h1m109 0h1m15 0h1m2 0h1M256 428.5h1m51 0h1m3 0h1m68 0h1M270 429.5h1m12 0h1m14 0h1M277 430.5h1m2 0h1m3 0h1m6 0h1m3 0h1m2 0h1m53 0h1M289 431.5h1m0 0h1m0 0h1m56 0h1m0 0h1m28 0h1M304 432.5h1m2 0h1m13 0h1m5 0h1m6 0h1m6 0h1m4 0h1M320 433.5h1m3 0h1m3 0h1M371 436.5h1M349 440.5h1m1 0h1M324 441.5h1m12 0h1m2 0h1m1 0h1m3 0h1m2 0h1m0 0h1M265 442.5h1m9 0h1m24 0h1m16 0h1m5 0h1m5 0h1m2 0h1m0 0h1m9 0h1M252 443.5h1m5 0h1m6 0h1m31 0h1M252 444.5h1M373 445.5h1m5 0h1M318 446.5h1m3 0h1m37 0h1m3 0h1m1 0h1M251 447.5h1m7 0h1m3 0h1m25 0h1m1 0h1m2 0h1m8 0h1m0 0h1m2 0h1m0 0h1m4 0h1m7 0h1m2 0h1m7 0h1m3 0h1m10 0h1m1 0h1m6 0h1M256 448.5h1m0 0h1m2 0h1m5 0h1m1 0h1m14 0h1m3 0h1m11 0h1m0 0h1m10 0h1m2 0h1m2 0h1m1 0h1M373 454.5h1m4 0h1m6 0h1M253 455.5h1m11 0h1m8 0h1m9 0h1m4 0h1m9 0h1m1 0h1m5 0h1m14 0h1m42 0h1m1 0h1m2 0h1M262 456.5h1m3 0h1m4 0h1m3 0h1m5 0h1m1 0h1m25 0h1m8 0h1M253 459.5h1m10 0h1m103 0h1m1 0h1m7 0h1m2 0h1m0 0h1M251 460.5h1m12 0h1m2 0h1m1 0h1m7 0h1m0 0h1m0 0h1m3 0h1m10 0h1m19 0h1m1 0h1m12 0h1m1 0h1m5 0h1m4 0h1m16 0h1m3 0h1m11 0h1m8 0h1m0 0h1m5 0h1M252 461.5h1m4 0h1m0 0h1m6 0h1m54 0h1m10 0h1m58 0h1M341 463.5h1M285 464.5h1m43 0h1M317 466.5h1m3 0h1m36 0h1m25 0h1M271 468.5h1m81 0h1M284 469.5h1m61 0h1M272 470.5h1m65 0h1M325 471.5h1M304 473.5h1M324 476.5h1M385 478.5h1M345 480.5h1M347 481.5h1M295 482.5h1m24 0h1M292 483.5h1m16 0h1M341 484.5h1M263 485.5h1M291 486.5h1M348 488.5h1M325 491.5h1m18 0h1M302 492.5h1m14 0h1m11 0h1" stroke="#4a00ff"/></g></g><use href="#circ"/><path d="M83.3 90.4h8.0l-4.0 6.9zM112.4 82.0h8.0l-4.0 6.9zM111.1 128.7h8.0l-4.0 6.9zM185.8 124.3h8.0l-4.0 6.9zM89.2 167.0h8.0l-4.0 6.9zM202.7 59.3h8.0l-4.0 6.9z" fill="#000"/><circle cx="89.4" cy="127.0" r="4.6" fill="#fff"/><circle cx="89.4" cy="127.0" r="3.3" fill="#000"/><circle cx="14.5" cy="14.1" r="3.4" fill="#000"/><text x="22.3" y="16.9" class="lg">Rx</text><path d="M10.5 22.6h8l-4 7z" fill="#000"/><text x="22.3" y="28.9" class="lg" textLength="38.3" lengthAdjust="spacingAndGlyphs">Ionosonde</text><path d="M14.6 36.4l0.60 1.20 1.20 0.60-1.20 0.60-0.60 1.20-0.60-1.20-1.20-0.60 1.20-0.60z" fill="#f22"/><text x="22.3" y="41" class="lg" style="fill:#f3200f;stroke:#f3200f" textLength="40.9" lengthAdjust="spacingAndGlyphs">Effective Tx</text></g><path d="M377.4 564.8v2.0M377.4 784.6v-2.0M381.5 564.8v2.0M381.5 784.6v-2.0M385.6 564.8v4.4M385.6 784.6v-4.4M389.7 564.8v2.0M389.7 784.6v-2.0M393.8 564.8v2.0M393.8 784.6v-2.0M397.9 564.8v2.0M397.9 784.6v-2.0M402.0 564.8v2.0M402.0 784.6v-2.0M406.1 564.8v2.0M406.1 784.6v-2.0M410.2 564.8v2.0M410.2 784.6v-2.0M414.2 564.8v2.0M414.2 784.6v-2.0M418.3 564.8v2.0M418.3 784.6v-2.0M422.4 564.8v2.0M422.4 784.6v-2.0M426.5 564.8v4.4M426.5 784.6v-4.4M430.6 564.8v2.0M430.6 784.6v-2.0M434.7 564.8v2.0M434.7 784.6v-2.0M438.8 564.8v2.0M438.8 784.6v-2.0M442.9 564.8v2.0M442.9 784.6v-2.0M447.0 564.8v2.0M447.0 784.6v-2.0M451.1 564.8v2.0M451.1 784.6v-2.0M455.1 564.8v2.0M455.1 784.6v-2.0M459.2 564.8v2.0M459.2 784.6v-2.0M463.3 564.8v2.0M463.3 784.6v-2.0M467.4 564.8v4.4M467.4 784.6v-4.4M471.5 564.8v2.0M471.5 784.6v-2.0M475.6 564.8v2.0M475.6 784.6v-2.0M479.7 564.8v2.0M479.7 784.6v-2.0M483.8 564.8v2.0M483.8 784.6v-2.0M487.9 564.8v2.0M487.9 784.6v-2.0M491.9 564.8v2.0M491.9 784.6v-2.0M496.0 564.8v2.0M496.0 784.6v-2.0M500.1 564.8v2.0M500.1 784.6v-2.0M504.2 564.8v2.0M504.2 784.6v-2.0M508.3 564.8v4.4M508.3 784.6v-4.4M512.4 564.8v2.0M512.4 784.6v-2.0M516.5 564.8v2.0M516.5 784.6v-2.0M520.6 564.8v2.0M520.6 784.6v-2.0M524.7 564.8v2.0M524.7 784.6v-2.0M528.7 564.8v2.0M528.7 784.6v-2.0M532.8 564.8v2.0M532.8 784.6v-2.0M536.9 564.8v2.0M536.9 784.6v-2.0M541.0 564.8v2.0M541.0 784.6v-2.0M545.1 564.8v2.0M545.1 784.6v-2.0M549.2 564.8v4.4M549.2 784.6v-4.4M553.3 564.8v2.0M553.3 784.6v-2.0M557.4 564.8v2.0M557.4 784.6v-2.0M561.5 564.8v2.0M561.5 784.6v-2.0M565.5 564.8v2.0M565.5 784.6v-2.0M569.6 564.8v2.0M569.6 784.6v-2.0M573.7 564.8v2.0M573.7 784.6v-2.0M577.8 564.8v2.0M577.8 784.6v-2.0M581.9 564.8v2.0M581.9 784.6v-2.0M586.0 564.8v2.0M586.0 784.6v-2.0M590.1 564.8v4.4M590.1 784.6v-4.4M594.2 564.8v2.0M594.2 784.6v-2.0M598.3 564.8v2.0M598.3 784.6v-2.0M602.4 564.8v2.0M602.4 784.6v-2.0M606.4 564.8v2.0M606.4 784.6v-2.0M610.5 564.8v2.0M610.5 784.6v-2.0M614.6 564.8v2.0M614.6 784.6v-2.0M618.7 564.8v2.0M618.7 784.6v-2.0M622.8 564.8v2.0M622.8 784.6v-2.0M626.9 564.8v2.0M626.9 784.6v-2.0M631.0 564.8v4.4M631.0 784.6v-4.4M635.1 564.8v2.0M635.1 784.6v-2.0M639.2 564.8v2.0M639.2 784.6v-2.0M375.4 782.9h2.3M641.2 782.9h-2.3M375.4 778.9h2.3M641.2 778.9h-2.3M375.4 774.9h5.0M641.2 774.9h-5.0M375.4 770.9h2.3M641.2 770.9h-2.3M375.4 766.9h2.3M641.2 766.9h-2.3M375.4 762.9h2.3M641.2 762.9h-2.3M375.4 758.9h2.3M641.2 758.9h-2.3M375.4 754.9h2.3M641.2 754.9h-2.3M375.4 750.9h2.3M641.2 750.9h-2.3M375.4 746.9h2.3M641.2 746.9h-2.3M375.4 742.9h2.3M641.2 742.9h-2.3M375.4 738.9h2.3M641.2 738.9h-2.3M375.4 734.9h5.0M641.2 734.9h-5.0M375.4 730.9h2.3M641.2 730.9h-2.3M375.4 727.0h2.3M641.2 727.0h-2.3M375.4 723.0h2.3M641.2 723.0h-2.3M375.4 719.0h2.3M641.2 719.0h-2.3M375.4 715.0h2.3M641.2 715.0h-2.3M375.4 711.0h2.3M641.2 711.0h-2.3M375.4 707.0h2.3M641.2 707.0h-2.3M375.4 703.0h2.3M641.2 703.0h-2.3M375.4 699.0h2.3M641.2 699.0h-2.3M375.4 695.0h5.0M641.2 695.0h-5.0M375.4 691.0h2.3M641.2 691.0h-2.3M375.4 687.0h2.3M641.2 687.0h-2.3M375.4 683.0h2.3M641.2 683.0h-2.3M375.4 679.0h2.3M641.2 679.0h-2.3M375.4 675.0h2.3M641.2 675.0h-2.3M375.4 671.0h2.3M641.2 671.0h-2.3M375.4 667.0h2.3M641.2 667.0h-2.3M375.4 663.0h2.3M641.2 663.0h-2.3M375.4 659.0h2.3M641.2 659.0h-2.3M375.4 655.0h5.0M641.2 655.0h-5.0M375.4 651.0h2.3M641.2 651.0h-2.3M375.4 647.0h2.3M641.2 647.0h-2.3M375.4 643.0h2.3M641.2 643.0h-2.3M375.4 639.0h2.3M641.2 639.0h-2.3M375.4 635.0h2.3M641.2 635.0h-2.3M375.4 631.0h2.3M641.2 631.0h-2.3M375.4 627.0h2.3M641.2 627.0h-2.3M375.4 623.0h2.3M641.2 623.0h-2.3M375.4 619.1h2.3M641.2 619.1h-2.3M375.4 615.1h5.0M641.2 615.1h-5.0M375.4 611.1h2.3M641.2 611.1h-2.3M375.4 607.1h2.3M641.2 607.1h-2.3M375.4 603.1h2.3M641.2 603.1h-2.3M375.4 599.1h2.3M641.2 599.1h-2.3M375.4 595.1h2.3M641.2 595.1h-2.3M375.4 591.1h2.3M641.2 591.1h-2.3M375.4 587.1h2.3M641.2 587.1h-2.3M375.4 583.1h2.3M641.2 583.1h-2.3M375.4 579.1h2.3M641.2 579.1h-2.3M375.4 575.1h5.0M641.2 575.1h-5.0M375.4 571.1h2.3M641.2 571.1h-2.3M375.4 567.1h2.3M641.2 567.1h-2.3" stroke="#6a6a6a" stroke-width="1.1" fill="none"/><rect x="375.4" y="564.8" width="265.8" height="219.8" fill="none" stroke="#555" stroke-width="1.15"/><text x="385.6" y="805.5" class="tl" text-anchor="middle">80</text><text x="426.5" y="805.5" class="tl" text-anchor="middle">90</text><text x="467.4" y="805.5" class="tl" text-anchor="middle">100</text><text x="508.3" y="805.5" class="tl" text-anchor="middle">110</text><text x="549.2" y="805.5" class="tl" text-anchor="middle">120</text><text x="590.1" y="805.5" class="tl" text-anchor="middle">130</text><text x="631.0" y="805.5" class="tl" text-anchor="middle">140</text><text x="370.1" y="780.6" class="tl" text-anchor="end">-10</text><text x="370.1" y="740.6" class="tl" text-anchor="end">0</text><text x="370.1" y="700.7" class="tl" text-anchor="end">10</text><text x="370.1" y="660.7" class="tl" text-anchor="end">20</text><text x="370.1" y="620.8" class="tl" text-anchor="end">30</text><text x="370.1" y="580.8" class="tl" text-anchor="end">40</text><text x="342.5" y="674.7" class="ax" text-anchor="middle" transform="rotate(-90 342.5 674.7)" textLength="40.8" lengthAdjust="spacingAndGlyphs">Latitude</text><path d="M407.4 743C404.4 741.2 402.2 743.6 401.2 747.6L397.3 763.2C396.3 767.2 394.3 769.9 391.9 769.3" stroke="#000" stroke-width="2.4" fill="none"/><path d="M408 743.2C406.5 741.8 404.2 741.9 402.6 744.5" stroke="#000" stroke-width="1.2" fill="none"/><circle cx="407.9" cy="744.7" r="1.75"/><circle cx="391.6" cy="768.2" r="1.85"/><path d="M396.6 750.5H405.6" stroke="#000" stroke-width="1.3"/><text x="176.4" y="822.7" class="ax" text-anchor="middle" textLength="50.9" lengthAdjust="spacingAndGlyphs">Longitude</text><text x="508.3" y="822.7" class="ax" text-anchor="middle" textLength="50.9" lengthAdjust="spacingAndGlyphs">Longitude</text><rect x="647.8" y="14.90" width="7.4" height="27.47" fill="#ff3000"/><rect x="647.8" y="42.38" width="7.4" height="27.47" fill="#ff7000"/><rect x="647.8" y="69.85" width="7.4" height="27.47" fill="#ffb000"/><rect x="647.8" y="97.33" width="7.4" height="27.47" fill="#ffff00"/><rect x="647.8" y="124.80" width="7.4" height="27.47" fill="#40ff00"/><rect x="647.8" y="152.28" width="7.4" height="27.47" fill="#00a060"/><rect x="647.8" y="179.75" width="7.4" height="27.47" fill="#0010ff"/><rect x="647.8" y="207.22" width="7.4" height="27.47" fill="#4a00ff"/><path d="M647.8 42.38h7.4M647.8 69.85h7.4M647.8 97.33h7.4M647.8 124.80h7.4M647.8 152.28h7.4M647.8 179.75h7.4M647.8 207.22h7.4" stroke="#3a2010" stroke-width="0.7"/><rect x="647.8" y="14.9" width="7.4" height="219.8" fill="none" stroke="#555" stroke-width="0.5"/><text x="657.6" y="43.0" class="cb">450</text><text x="657.6" y="70.4" class="cb">400</text><text x="657.6" y="97.9" class="cb">350</text><text x="657.6" y="125.4" class="cb">300</text><text x="657.6" y="152.9" class="cb">250</text><text x="657.6" y="180.3" class="cb">200</text><text x="657.6" y="207.8" class="cb">150</text><text x="657.6" y="235.3" class="cb">100</text><text x="673.2" y="124.4" class="cbt" text-anchor="middle" transform="rotate(90 673.2 124.4)" textLength="105.2" lengthAdjust="spacingAndGlyphs">Altitude of Scattering (km)</text>
</svg></body></html>
